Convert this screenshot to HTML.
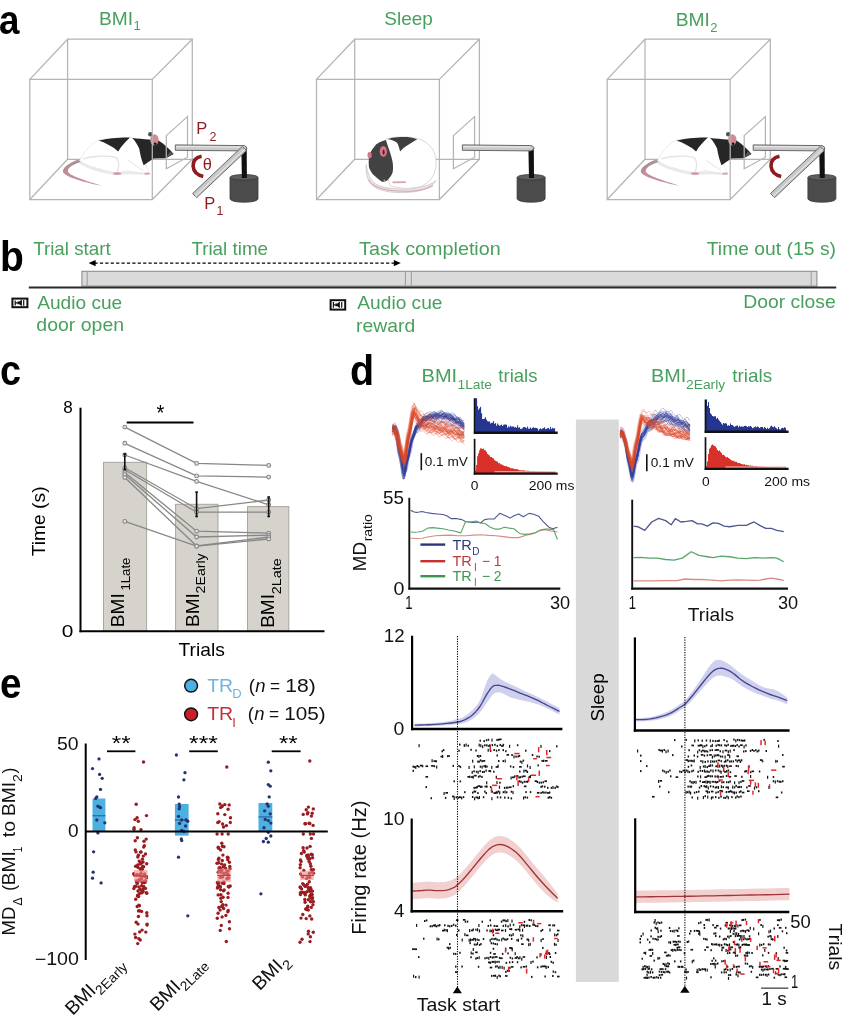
<!DOCTYPE html>
<html><head><meta charset="utf-8"><style>
html,body{margin:0;padding:0;background:#fff;}
body{width:845px;height:1024px;overflow:hidden;}
svg{display:block;font-family:"Liberation Sans", sans-serif;filter:blur(0.35px);}
</style></head><body>
<svg width="845" height="1024" viewBox="0 0 845 1024">
<rect width="845" height="1024" fill="#fff"/>
<text x="0" y="34.3" font-size="40" font-weight="bold" transform="translate(-1.0,0) scale(0.92,1)">a</text>
<text x="99.02" y="24.50" font-size="19.00" fill="#48a05e" textLength="34.15" lengthAdjust="spacingAndGlyphs" >BMI</text>
<text x="133.61" y="30.40" font-size="13.00" fill="#48a05e" >1</text>
<text x="384.34" y="24.90" font-size="19.00" fill="#48a05e" textLength="48.46" lengthAdjust="spacingAndGlyphs" >Sleep</text>
<text x="675.72" y="25.60" font-size="19.00" fill="#48a05e" textLength="34.15" lengthAdjust="spacingAndGlyphs" >BMI</text>
<text x="710.15" y="31.80" font-size="13.00" fill="#48a05e" >2</text>
<path d="M67.6,159.3 L67.6,39.2 L192.3,39.2 L192.3,159.3 Z" stroke="#b4b4b4" stroke-width="1.25" fill="none"/>
<path d="M29.8,79.4 L67.6,39.2 M152.3,79.4 L192.3,39.2 M29.8,199.5 L67.6,159.3 M152.3,199.5 L192.3,159.3" stroke="#b4b4b4" stroke-width="1.25" fill="none"/>
<path d="M354.7,159.3 L354.7,39.2 L479.4,39.2 L479.4,159.3 Z" stroke="#b4b4b4" stroke-width="1.25" fill="none"/>
<path d="M316.5,79.4 L354.7,39.2 M439.4,79.4 L479.4,39.2 M316.5,199.5 L354.7,159.3 M439.4,199.5 L479.4,159.3" stroke="#b4b4b4" stroke-width="1.25" fill="none"/>
<path d="M645.0,159.3 L645.0,39.2 L770.3,39.2 L770.3,159.3 Z" stroke="#b4b4b4" stroke-width="1.25" fill="none"/>
<path d="M607.2,79.4 L645.0,39.2 M730.2,79.4 L770.3,39.2 M607.2,199.5 L645.0,159.3 M730.2,199.5 L770.3,159.3" stroke="#b4b4b4" stroke-width="1.25" fill="none"/>
<g transform="translate(0.0,0)">
<defs><linearGradient id="tg0" x1="0" y1="0" x2="0" y2="1"><stop offset="0" stop-color="#9d9d9d"/><stop offset="0.3" stop-color="#b48a90"/><stop offset="0.6" stop-color="#c78f98"/><stop offset="1" stop-color="#b99095"/></linearGradient></defs>
<path d="M81,158.6 C72,161.5 63.5,166.5 62.8,171.2 C62.5,175.6 80,181.5 101.8,185.8 C85,180.5 69.5,175.6 67.8,171.5 C67.2,167.5 74,163.8 82.5,161.8 Z" fill="url(#tg0)"/>
<path d="M79.5,160.5 C84,152 92,142 100,139.4 L131,137.4 C137,139 141,144 143.5,150 L146,165 C147.5,169 149,172 150,173.8 L141,174.2 C136,172.5 131,171 126,170.6 C122,172 118,173.8 112,174.2 C108,172 104,170 100,169 C92,167.5 85,165 79.5,160.5 Z" fill="#fff" stroke="#e6e6e6" stroke-width="0.8"/>
<path d="M80,161.5 C90,166.5 104,170.5 117,172.2 C126,171.2 136,171.2 146,173 L146.5,175 C136,174 126,174 117,175 C103,173.8 89,169.5 79.5,163.5 Z" fill="#e9e9e9"/>
<path d="M83,158.8 C93,156 107,155.2 116.5,157.6 C119.2,161.5 119.3,166.5 117.3,172" fill="none" stroke="#e3e3e3" stroke-width="1.3"/>
<path d="M128,160 C133,164 138,167.5 143.5,170.5" fill="none" stroke="#ececec" stroke-width="1.2"/>
<ellipse cx="117.2" cy="173.6" rx="4.2" ry="1.3" fill="#d49aa2"/>
<ellipse cx="147.2" cy="173.7" rx="3.0" ry="1.1" fill="#d9a5ab"/>
<path d="M98.6,140.6 C107,138.4 119,137.2 130,137.4 C125.5,141.5 121,146.5 118.2,151.4 C113,147 106,143 98.6,140.6 Z" fill="#262626"/>
<path d="M132.2,137.9 C138,138.4 144,138.9 149,139.5 L158.6,140.4 C164.5,144.2 170,149.5 173.6,153.9 L166,158.3 L153.8,158.6 C150,161 146.5,163.5 143.6,165.3 C141.5,159.5 140,154 139.2,148.6 C137.5,144.5 135.2,140.8 132.2,137.9 Z" fill="#262626"/>
<path d="M166,157.5 L173.4,154 L170,151.5 Z" fill="#555"/>
<circle cx="150.3" cy="134.3" r="2.2" fill="#4a524d"/>
<ellipse cx="154.4" cy="139.8" rx="4.2" ry="5.6" fill="#d98893"/>
<circle cx="155.2" cy="143.8" r="1.3" fill="#111"/>
</g>
<path d="M366.2,164.5 C365.2,176 368.5,185.5 379.5,189.6 C392,193.6 408,193.4 420,190.6 C428,188.6 433.5,185 436,180.5 C430,185.6 420,188.2 408,189 C394,189.6 381,187.6 374,183 C369.5,178.5 367.2,172 366.2,164.5 Z" fill="#ebe5e6" stroke="#cdbdc0" stroke-width="0.7"/>
<path d="M368.5,180 C373,188.5 390,192 410,191.2 C420,190.8 428,188.6 433,185.5" fill="none" stroke="#d4a9b0" stroke-width="1.1"/>
<path d="M386,138.8 C398,135.9 415,136.1 424,141 C433,146.5 437,156 436,166 C435,176 429,183.5 420,186.6 C410,189.5 398,188.5 390,185.5 C386,176 385,160 386,138.8 Z" fill="#fff" stroke="#d2d2d2" stroke-width="0.9"/>
<path d="M387.6,139.3 C390.5,138 394,137.4 397.5,137.3 C404,136.6 411,136.7 417.2,139.3 C414.5,141 411.5,143 409.5,144 C405,146.5 402,149 400.1,151.6 C399.3,148 398.3,144.5 397,142.8 C394,140.6 390.5,139.6 387.6,139.3 Z" fill="#3e3e3e"/>
<path d="M385.8,140.1 C380,141.6 376.5,143.6 374.5,146.4 C371,150.5 369,154.5 368.9,158.3 C368.6,161 368.6,164 368.9,167 C370,170.5 371.8,173.5 374.5,175.8 C377,178.3 380,180.5 382.6,182 C384,181.9 385.6,181.5 387,180.8 C389.5,178.5 391.5,175.5 392.6,172.6 C393.2,169 393.2,165.5 392.6,162 C391.8,158 390.8,154.5 389.5,150.8 C388.2,147 387,143.5 385.8,140.1 Z" fill="#424242"/>
<path d="M392.5,181.4 L405.8,181.2 L405.8,183.0 L392.5,183.2 Z" fill="#d6a5ab"/>
<circle cx="384.5" cy="180.6" r="1.1" fill="#9a9a9a"/>
<ellipse cx="383.3" cy="151.4" rx="3.6" ry="5.4" fill="#d57686"/>
<ellipse cx="383.6" cy="152.2" rx="1.0" ry="2.6" fill="#6e1320"/>
<ellipse cx="369.6" cy="155.2" rx="2.1" ry="3.1" fill="#d57686"/>
<g transform="translate(577.9,0)">
<defs><linearGradient id="tg577" x1="0" y1="0" x2="0" y2="1"><stop offset="0" stop-color="#9d9d9d"/><stop offset="0.3" stop-color="#b48a90"/><stop offset="0.6" stop-color="#c78f98"/><stop offset="1" stop-color="#b99095"/></linearGradient></defs>
<path d="M81,158.6 C72,161.5 63.5,166.5 62.8,171.2 C62.5,175.6 80,181.5 101.8,185.8 C85,180.5 69.5,175.6 67.8,171.5 C67.2,167.5 74,163.8 82.5,161.8 Z" fill="url(#tg577)"/>
<path d="M79.5,160.5 C84,152 92,142 100,139.4 L131,137.4 C137,139 141,144 143.5,150 L146,165 C147.5,169 149,172 150,173.8 L141,174.2 C136,172.5 131,171 126,170.6 C122,172 118,173.8 112,174.2 C108,172 104,170 100,169 C92,167.5 85,165 79.5,160.5 Z" fill="#fff" stroke="#e6e6e6" stroke-width="0.8"/>
<path d="M80,161.5 C90,166.5 104,170.5 117,172.2 C126,171.2 136,171.2 146,173 L146.5,175 C136,174 126,174 117,175 C103,173.8 89,169.5 79.5,163.5 Z" fill="#e9e9e9"/>
<path d="M83,158.8 C93,156 107,155.2 116.5,157.6 C119.2,161.5 119.3,166.5 117.3,172" fill="none" stroke="#e3e3e3" stroke-width="1.3"/>
<path d="M128,160 C133,164 138,167.5 143.5,170.5" fill="none" stroke="#ececec" stroke-width="1.2"/>
<ellipse cx="117.2" cy="173.6" rx="4.2" ry="1.3" fill="#d49aa2"/>
<ellipse cx="147.2" cy="173.7" rx="3.0" ry="1.1" fill="#d9a5ab"/>
<path d="M98.6,140.6 C107,138.4 119,137.2 130,137.4 C125.5,141.5 121,146.5 118.2,151.4 C113,147 106,143 98.6,140.6 Z" fill="#262626"/>
<path d="M132.2,137.9 C138,138.4 144,138.9 149,139.5 L158.6,140.4 C164.5,144.2 170,149.5 173.6,153.9 L166,158.3 L153.8,158.6 C150,161 146.5,163.5 143.6,165.3 C141.5,159.5 140,154 139.2,148.6 C137.5,144.5 135.2,140.8 132.2,137.9 Z" fill="#262626"/>
<path d="M166,157.5 L173.4,154 L170,151.5 Z" fill="#555"/>
<circle cx="150.3" cy="134.3" r="2.2" fill="#4a524d"/>
<ellipse cx="154.4" cy="139.8" rx="4.2" ry="5.6" fill="#d98893"/>
<circle cx="155.2" cy="143.8" r="1.3" fill="#111"/>
</g>
<path d="M29.8,79.4 L152.3,79.4 L152.3,199.5 L29.8,199.5 Z" stroke="#b4b4b4" stroke-width="1.25" fill="none"/>
<path d="M166.3,135.6 L187.5,116.6 L187.5,157.2 L166.3,168.8 Z" stroke="#b4b4b4" stroke-width="1.25" fill="none"/>
<path d="M316.5,79.4 L439.4,79.4 L439.4,199.5 L316.5,199.5 Z" stroke="#b4b4b4" stroke-width="1.25" fill="none"/>
<path d="M453.4,135.6 L474.6,116.6 L474.6,157.2 L453.4,168.8 Z" stroke="#b4b4b4" stroke-width="1.25" fill="none"/>
<path d="M607.2,79.4 L730.2,79.4 L730.2,199.5 L607.2,199.5 Z" stroke="#b4b4b4" stroke-width="1.25" fill="none"/>
<path d="M744.2,135.6 L765.4,116.6 L765.4,157.2 L744.2,168.8 Z" stroke="#b4b4b4" stroke-width="1.25" fill="none"/>
<path d="M230.0,177.5 L230.0,199 Q232.0,202.2 244.0,202.2 Q256.0,202.2 258.0,199 L258.0,177.5 Z" fill="#4b4b4b" stroke="#3a3a3a" stroke-width="0.8"/>
<ellipse cx="244.0" cy="177.3" rx="14.0" ry="2.8" fill="#5e5e5e" stroke="#3a3a3a" stroke-width="0.8"/>
<path d="M241.3,148 L241.9,178 L246.9,178 L246.7,148 Z" fill="#111"/>
<path d="M175.3,144.9 L244.3,145.6 Q246.9,146.6 246.9,148.3 Q246.3,150.4 243.3,150.9 L175.3,150.3 Z" fill="#c9c9c9" stroke="#5a5a5a" stroke-width="0.9"/>
<line x1="176.3" y1="146.6" x2="243.3" y2="147.1" stroke="#eeeeee" stroke-width="1"/>
<path d="M242.3,146.5 L192.6,193.5 L196.6,197.7 L246.3,150.7 Z" fill="#c9c9c9" stroke="#5a5a5a" stroke-width="0.9"/>
<line x1="244.9" y1="149.2" x2="195.2" y2="196.2" stroke="#eeeeee" stroke-width="1"/>
<path d="M201.6,156.2 Q192.8,158 193.1,166.2 Q193.8,174.5 203.3,176.4" fill="none" stroke="#8e1b1f" stroke-width="3.6" stroke-linecap="butt"/>
<text x="202.65" y="169.60" font-size="16.50" fill="#8e1b1f" >θ</text>
<text x="196.35" y="134.30" font-size="16.50" fill="#8e1b1f" >P</text>
<text x="209.47" y="140.80" font-size="12.50" fill="#8e1b1f" >2</text>
<text x="204.15" y="209.40" font-size="16.50" fill="#8e1b1f" >P</text>
<text x="216.55" y="214.80" font-size="12.50" fill="#8e1b1f" >1</text>
<path d="M517.1,177.5 L517.1,199 Q519.1,202.2 531.1,202.2 Q543.1,202.2 545.1,199 L545.1,177.5 Z" fill="#4b4b4b" stroke="#3a3a3a" stroke-width="0.8"/>
<ellipse cx="531.1" cy="177.3" rx="14.0" ry="2.8" fill="#5e5e5e" stroke="#3a3a3a" stroke-width="0.8"/>
<path d="M528.4,148 L529.0,178 L534.0,178 L533.8,148 Z" fill="#111"/>
<path d="M462.4,144.9 L531.4,145.6 Q534.0,146.6 534.0,148.3 Q533.4,150.4 530.4,150.9 L462.4,150.3 Z" fill="#c9c9c9" stroke="#5a5a5a" stroke-width="0.9"/>
<line x1="463.4" y1="146.6" x2="530.4" y2="147.1" stroke="#eeeeee" stroke-width="1"/>
<path d="M807.9,177.5 L807.9,199 Q809.9,202.2 821.9,202.2 Q833.9,202.2 835.9,199 L835.9,177.5 Z" fill="#4b4b4b" stroke="#3a3a3a" stroke-width="0.8"/>
<ellipse cx="821.9" cy="177.3" rx="14.0" ry="2.8" fill="#5e5e5e" stroke="#3a3a3a" stroke-width="0.8"/>
<path d="M819.2,148 L819.8,178 L824.8,178 L824.6,148 Z" fill="#111"/>
<path d="M753.2,144.9 L822.2,145.6 Q824.8,146.6 824.8,148.3 Q824.2,150.4 821.2,150.9 L753.2,150.3 Z" fill="#c9c9c9" stroke="#5a5a5a" stroke-width="0.9"/>
<line x1="754.2" y1="146.6" x2="821.2" y2="147.1" stroke="#eeeeee" stroke-width="1"/>
<path d="M820.2,146.5 L770.5,193.5 L774.5,197.7 L824.2,150.7 Z" fill="#c9c9c9" stroke="#5a5a5a" stroke-width="0.9"/>
<line x1="822.8" y1="149.2" x2="773.1" y2="196.2" stroke="#eeeeee" stroke-width="1"/>
<path d="M779.5,156.2 Q770.7,158 771.0,166.2 Q771.7,174.5 781.2,176.4" fill="none" stroke="#8e1b1f" stroke-width="3.6" stroke-linecap="butt"/>
<text x="0" y="271.0" font-size="42" font-weight="bold" transform="translate(0.0,0) scale(0.93,1)">b</text>
<text x="33.18" y="254.70" font-size="19.00" fill="#48a05e" textLength="77.55" lengthAdjust="spacingAndGlyphs" >Trial start</text>
<text x="191.38" y="255.10" font-size="19.00" fill="#48a05e" textLength="76.65" lengthAdjust="spacingAndGlyphs" >Trial time</text>
<text x="359.06" y="255.00" font-size="19.00" fill="#48a05e" textLength="141.70" lengthAdjust="spacingAndGlyphs" >Task completion</text>
<text x="706.77" y="254.60" font-size="19.00" fill="#48a05e" textLength="129.22" lengthAdjust="spacingAndGlyphs" >Time out (15 s)</text>
<text x="37.16" y="308.90" font-size="19.00" fill="#48a05e" textLength="85.09" lengthAdjust="spacingAndGlyphs" >Audio cue</text>
<text x="36.38" y="331.30" font-size="19.00" fill="#48a05e" textLength="87.68" lengthAdjust="spacingAndGlyphs" >door open</text>
<text x="357.36" y="308.50" font-size="19.00" fill="#48a05e" textLength="85.09" lengthAdjust="spacingAndGlyphs" >Audio cue</text>
<text x="356.12" y="331.50" font-size="19.00" fill="#48a05e" textLength="59.13" lengthAdjust="spacingAndGlyphs" >reward</text>
<text x="743.21" y="308.20" font-size="19.00" fill="#48a05e" textLength="92.45" lengthAdjust="spacingAndGlyphs" >Door close</text>
<rect x="81.90" y="271.30" width="735.00" height="14.80" fill="#dadada" stroke="#8f8f8f" stroke-width="1.10" />
<line x1="87.20" y1="271.60" x2="87.20" y2="285.80" stroke="#9a9a9a" stroke-width="1.00" />
<line x1="405.40" y1="271.60" x2="405.40" y2="285.80" stroke="#9a9a9a" stroke-width="1.00" />
<line x1="411.30" y1="271.60" x2="411.30" y2="285.80" stroke="#9a9a9a" stroke-width="1.00" />
<line x1="811.20" y1="271.60" x2="811.20" y2="285.80" stroke="#9a9a9a" stroke-width="1.00" />
<line x1="28.80" y1="287.40" x2="836.20" y2="287.40" stroke="#2a2a2a" stroke-width="2.00" />
<line x1="94.50" y1="263.10" x2="395.00" y2="263.10" stroke="#000" stroke-width="1.30" stroke-dasharray="3.2,2.2"/>
<path d="M88.6,263.1 L95.6,260.0 L95.6,266.2 Z" fill="#000"/>
<path d="M400.8,263.1 L393.8,260.0 L393.8,266.2 Z" fill="#000"/>
<rect x="12.4" y="298.6" width="15.0" height="8.6" fill="#fff" stroke="#111" stroke-width="2.0"/>
<path d="M17.3,301.5 L19.3,301.5 L21.9,299.5 L21.9,306.3 L19.3,304.3 L17.3,304.3 Z" fill="#111"/>
<path d="M23.7,300.1 L23.7,305.7 M15.2,300.4 L15.2,305.4 M15.2,302.9 L17.3,302.9" stroke="#111" stroke-width="1.2"/>
<rect x="330.6" y="300.2" width="14.6" height="9.4" fill="#fff" stroke="#111" stroke-width="2.0"/>
<path d="M335.3,303.5 L337.3,303.5 L339.9,301.5 L339.9,308.3 L337.3,306.3 L335.3,306.3 Z" fill="#111"/>
<path d="M341.7,302.1 L341.7,307.7 M333.4,302.0 L333.4,307.8 M333.4,304.9 L335.3,304.9" stroke="#111" stroke-width="1.2"/>
<text x="0" y="385.2" font-size="42" font-weight="bold" transform="translate(0.0,0) scale(0.9,1)">c</text>
<rect x="103.50" y="462.30" width="43.10" height="168.90" fill="#d6d2cc" stroke="#a9a59f" stroke-width="1.00" />
<rect x="175.60" y="504.30" width="42.40" height="126.90" fill="#d6d2cc" stroke="#a9a59f" stroke-width="1.00" />
<rect x="247.50" y="506.60" width="41.30" height="124.60" fill="#d6d2cc" stroke="#a9a59f" stroke-width="1.00" />
<text transform="translate(124.00,625.60) rotate(-90)" x="-1.57" y="0" font-size="19.00" fill="#000" textLength="33.93" lengthAdjust="spacingAndGlyphs">BMI</text>
<text transform="translate(130.40,589.60) rotate(-90)" x="-1.00" y="0" font-size="13.50" fill="#000" textLength="32.99" lengthAdjust="spacingAndGlyphs">1Late</text>
<text transform="translate(198.70,625.50) rotate(-90)" x="-1.57" y="0" font-size="19.00" fill="#000" textLength="33.93" lengthAdjust="spacingAndGlyphs">BMI</text>
<text transform="translate(205.30,592.70) rotate(-90)" x="-0.71" y="0" font-size="13.50" fill="#000" textLength="40.04" lengthAdjust="spacingAndGlyphs">2Early</text>
<text transform="translate(274.10,626.30) rotate(-90)" x="-1.57" y="0" font-size="19.00" fill="#000" textLength="33.93" lengthAdjust="spacingAndGlyphs">BMI</text>
<text transform="translate(280.70,593.50) rotate(-90)" x="-0.72" y="0" font-size="13.50" fill="#000" textLength="36.07" lengthAdjust="spacingAndGlyphs">2Late</text>
<polyline points="124.8,427.1 196.6,463.4 268.7,465.4" fill="none" stroke="#878787" stroke-width="1.3"/>
<polyline points="124.8,443.3 196.6,475.9 268.7,477.1" fill="none" stroke="#878787" stroke-width="1.3"/>
<polyline points="124.8,455.0 196.6,481.4 268.7,504.8" fill="none" stroke="#878787" stroke-width="1.3"/>
<polyline points="124.8,467.7 196.6,508.7 268.7,500.0" fill="none" stroke="#878787" stroke-width="1.3"/>
<polyline points="124.8,469.7 196.6,512.2 268.7,512.2" fill="none" stroke="#878787" stroke-width="1.3"/>
<polyline points="124.8,472.6 196.6,531.2 268.7,533.1" fill="none" stroke="#878787" stroke-width="1.3"/>
<polyline points="124.8,474.6 196.6,537.0 268.7,535.1" fill="none" stroke="#878787" stroke-width="1.3"/>
<polyline points="124.8,477.5 196.6,546.0 268.7,537.0" fill="none" stroke="#878787" stroke-width="1.3"/>
<polyline points="124.8,521.4 196.6,546.2 268.7,539.0" fill="none" stroke="#878787" stroke-width="1.3"/>
<circle cx="124.8" cy="427.1" r="1.9" fill="#e2e2e2" stroke="#878787" stroke-width="1.1"/>
<circle cx="196.6" cy="463.4" r="1.9" fill="#e2e2e2" stroke="#878787" stroke-width="1.1"/>
<circle cx="268.7" cy="465.4" r="1.9" fill="#e2e2e2" stroke="#878787" stroke-width="1.1"/>
<circle cx="124.8" cy="443.3" r="1.9" fill="#e2e2e2" stroke="#878787" stroke-width="1.1"/>
<circle cx="196.6" cy="475.9" r="1.9" fill="#e2e2e2" stroke="#878787" stroke-width="1.1"/>
<circle cx="268.7" cy="477.1" r="1.9" fill="#e2e2e2" stroke="#878787" stroke-width="1.1"/>
<circle cx="124.8" cy="455.0" r="1.9" fill="#e2e2e2" stroke="#878787" stroke-width="1.1"/>
<circle cx="196.6" cy="481.4" r="1.9" fill="#e2e2e2" stroke="#878787" stroke-width="1.1"/>
<circle cx="268.7" cy="504.8" r="1.9" fill="#e2e2e2" stroke="#878787" stroke-width="1.1"/>
<circle cx="124.8" cy="467.7" r="1.9" fill="#e2e2e2" stroke="#878787" stroke-width="1.1"/>
<circle cx="196.6" cy="508.7" r="1.9" fill="#e2e2e2" stroke="#878787" stroke-width="1.1"/>
<circle cx="268.7" cy="500.0" r="1.9" fill="#e2e2e2" stroke="#878787" stroke-width="1.1"/>
<circle cx="124.8" cy="469.7" r="1.9" fill="#e2e2e2" stroke="#878787" stroke-width="1.1"/>
<circle cx="196.6" cy="512.2" r="1.9" fill="#e2e2e2" stroke="#878787" stroke-width="1.1"/>
<circle cx="268.7" cy="512.2" r="1.9" fill="#e2e2e2" stroke="#878787" stroke-width="1.1"/>
<circle cx="124.8" cy="472.6" r="1.9" fill="#e2e2e2" stroke="#878787" stroke-width="1.1"/>
<circle cx="196.6" cy="531.2" r="1.9" fill="#e2e2e2" stroke="#878787" stroke-width="1.1"/>
<circle cx="268.7" cy="533.1" r="1.9" fill="#e2e2e2" stroke="#878787" stroke-width="1.1"/>
<circle cx="124.8" cy="474.6" r="1.9" fill="#e2e2e2" stroke="#878787" stroke-width="1.1"/>
<circle cx="196.6" cy="537.0" r="1.9" fill="#e2e2e2" stroke="#878787" stroke-width="1.1"/>
<circle cx="268.7" cy="535.1" r="1.9" fill="#e2e2e2" stroke="#878787" stroke-width="1.1"/>
<circle cx="124.8" cy="477.5" r="1.9" fill="#e2e2e2" stroke="#878787" stroke-width="1.1"/>
<circle cx="196.6" cy="546.0" r="1.9" fill="#e2e2e2" stroke="#878787" stroke-width="1.1"/>
<circle cx="268.7" cy="537.0" r="1.9" fill="#e2e2e2" stroke="#878787" stroke-width="1.1"/>
<circle cx="124.8" cy="521.4" r="1.9" fill="#e2e2e2" stroke="#878787" stroke-width="1.1"/>
<circle cx="196.6" cy="546.2" r="1.9" fill="#e2e2e2" stroke="#878787" stroke-width="1.1"/>
<circle cx="268.7" cy="539.0" r="1.9" fill="#e2e2e2" stroke="#878787" stroke-width="1.1"/>
<line x1="124.80" y1="454.00" x2="124.80" y2="469.70" stroke="#111" stroke-width="1.60" />
<rect x="123.50" y="453.20" width="2.60" height="1.60" fill="#111" stroke="none" stroke-width="0.00" />
<rect x="123.50" y="468.90" width="2.60" height="1.60" fill="#111" stroke="none" stroke-width="0.00" />
<line x1="196.60" y1="492.10" x2="196.60" y2="516.50" stroke="#111" stroke-width="1.60" />
<rect x="195.30" y="491.30" width="2.60" height="1.60" fill="#111" stroke="none" stroke-width="0.00" />
<rect x="195.30" y="515.70" width="2.60" height="1.60" fill="#111" stroke="none" stroke-width="0.00" />
<line x1="268.70" y1="497.00" x2="268.70" y2="516.50" stroke="#111" stroke-width="1.60" />
<rect x="267.40" y="496.20" width="2.60" height="1.60" fill="#111" stroke="none" stroke-width="0.00" />
<rect x="267.40" y="515.70" width="2.60" height="1.60" fill="#111" stroke="none" stroke-width="0.00" />
<line x1="80.50" y1="407.70" x2="80.50" y2="632.20" stroke="#000" stroke-width="2.00" />
<line x1="79.50" y1="631.20" x2="324.50" y2="631.20" stroke="#000" stroke-width="2.00" />
<text x="63.16" y="412.60" font-size="16.50" fill="#000" textLength="9.48" lengthAdjust="spacingAndGlyphs" >8</text>
<text x="61.88" y="637.40" font-size="16.50" fill="#000" textLength="11.63" lengthAdjust="spacingAndGlyphs" >0</text>
<text transform="translate(45.20,555.90) rotate(-90)" x="-0.43" y="0" font-size="19.00" fill="#000" textLength="69.91" lengthAdjust="spacingAndGlyphs">Time (s)</text>
<text x="178.57" y="656.30" font-size="19.00" fill="#000" textLength="46.31" lengthAdjust="spacingAndGlyphs" >Trials</text>
<line x1="126.70" y1="422.50" x2="193.50" y2="422.50" stroke="#000" stroke-width="1.80" />
<text x="156.38" y="420.40" font-size="22.00" fill="#000" textLength="7.84" lengthAdjust="spacingAndGlyphs" >*</text>
<text x="0" y="385.3" font-size="42" font-weight="bold" transform="translate(351.5,0) scale(0.94,1) translate(-1.7,0)">d</text>
<rect x="575.90" y="419.50" width="42.90" height="562.40" fill="#d9d9d9" stroke="none" stroke-width="0.00" />
<text transform="translate(604.40,720.60) rotate(-90)" x="-0.85" y="0" font-size="19.00" fill="#000" textLength="48.04" lengthAdjust="spacingAndGlyphs">Sleep</text>
<text x="421.56" y="381.50" font-size="18.50" fill="#48a05e" textLength="35.59" lengthAdjust="spacingAndGlyphs" >BMI</text>
<text x="457.55" y="388.50" font-size="13.50" fill="#48a05e" textLength="34.46" lengthAdjust="spacingAndGlyphs" >1Late</text>
<text x="498.32" y="381.50" font-size="18.50" fill="#48a05e" textLength="39.15" lengthAdjust="spacingAndGlyphs" >trials</text>
<text x="651.07" y="381.60" font-size="18.50" fill="#48a05e" textLength="35.26" lengthAdjust="spacingAndGlyphs" >BMI</text>
<text x="686.00" y="388.80" font-size="13.50" fill="#48a05e" textLength="39.22" lengthAdjust="spacingAndGlyphs" >2Early</text>
<text x="732.31" y="381.60" font-size="18.50" fill="#48a05e" textLength="39.87" lengthAdjust="spacingAndGlyphs" >trials</text>
<path d="M392.20,425.78 L393.20,425.32 L394.20,426.50 L395.20,428.79 L396.20,431.50 L397.20,438.49 L398.20,446.01 L399.20,451.04 L400.20,454.39 L401.20,459.36 L402.20,465.30 L403.20,471.61 L404.20,470.99 L405.20,465.60 L406.20,459.35 L407.20,455.92 L408.20,452.18 L409.20,446.72 L410.20,441.50 L411.20,437.41 L412.20,435.61 L413.20,433.59 L414.20,430.01 L415.20,425.77 L416.20,424.42 L417.20,422.01 L418.20,421.30 L419.20,419.85 L420.20,419.96 L421.20,418.98 L422.20,418.31 L423.20,418.12 L424.20,414.97 L425.20,414.31 L426.20,412.89 L427.20,413.62 L428.20,414.70 L429.20,414.81 L430.20,414.82 L431.20,413.79 L432.20,412.07 L433.20,411.87 L434.20,411.02 L435.20,412.78 L436.20,412.70 L437.20,414.06 L438.20,413.90 L439.20,413.69 L440.20,411.90 L441.20,411.68 L442.20,410.90 L443.20,412.16 L444.20,413.15 L445.20,414.16 L446.20,414.37 L447.20,414.92 L448.20,414.14 L449.20,414.08 L450.20,413.15 L451.20,414.29 L452.20,415.67 L453.20,417.06 L454.20,417.99 L455.20,418.11 L456.20,417.27 L457.20,416.48 L458.20,417.00 L459.20,418.74 L460.20,421.14 L461.20,422.85 L462.20,424.12 L463.20,424.20 L464.20,423.33" fill="none" stroke="#2f3d9c" stroke-width="0.65" stroke-opacity="0.45"/>
<path d="M392.20,430.52 L393.20,429.00 L394.20,428.71 L395.20,431.10 L396.20,433.33 L397.20,439.17 L398.20,446.72 L399.20,452.60 L400.20,456.02 L401.20,460.57 L402.20,466.33 L403.20,472.65 L404.20,476.93 L405.20,473.15 L406.20,466.36 L407.20,460.48 L408.20,457.94 L409.20,452.65 L410.20,448.23 L411.20,443.67 L412.20,439.62 L413.20,436.44 L414.20,433.35 L415.20,430.81 L416.20,429.31 L417.20,429.65 L418.20,427.67 L419.20,426.15 L420.20,424.12 L421.20,422.18 L422.20,420.84 L423.20,422.50 L424.20,422.85 L425.20,421.17 L426.20,418.71 L427.20,417.89 L428.20,418.32 L429.20,420.23 L430.20,419.89 L431.20,419.02 L432.20,418.19 L433.20,416.31 L434.20,417.20 L435.20,417.14 L436.20,418.37 L437.20,419.05 L438.20,418.33 L439.20,416.64 L440.20,415.97 L441.20,415.75 L442.20,417.53 L443.20,418.24 L444.20,417.92 L445.20,417.42 L446.20,416.47 L447.20,417.68 L448.20,419.00 L449.20,420.24 L450.20,420.69 L451.20,419.93 L452.20,419.21 L453.20,418.91 L454.20,420.63 L455.20,422.07 L456.20,424.44 L457.20,424.02 L458.20,422.41 L459.20,422.33 L460.20,423.51 L461.20,426.47 L462.20,428.34 L463.20,429.68 L464.20,427.99" fill="none" stroke="#2f3d9c" stroke-width="0.65" stroke-opacity="0.45"/>
<path d="M392.20,427.15 L393.20,426.18 L394.20,429.68 L395.20,430.96 L396.20,432.63 L397.20,437.65 L398.20,443.11 L399.20,447.75 L400.20,450.99 L401.20,456.84 L402.20,460.27 L403.20,464.18 L404.20,463.98 L405.20,459.49 L406.20,453.66 L407.20,451.04 L408.20,448.96 L409.20,444.38 L410.20,438.85 L411.20,435.33 L412.20,433.62 L413.20,431.53 L414.20,429.59 L415.20,428.33 L416.20,426.47 L417.20,425.55 L418.20,423.00 L419.20,421.94 L420.20,421.22 L421.20,421.50 L422.20,420.39 L423.20,418.83 L424.20,418.36 L425.20,417.62 L426.20,417.15 L427.20,418.02 L428.20,418.35 L429.20,418.09 L430.20,417.65 L431.20,416.06 L432.20,414.65 L433.20,414.29 L434.20,415.23 L435.20,417.04 L436.20,417.68 L437.20,416.96 L438.20,416.65 L439.20,415.00 L440.20,414.94 L441.20,415.98 L442.20,416.23 L443.20,416.55 L444.20,417.73 L445.20,416.29 L446.20,416.41 L447.20,415.97 L448.20,417.26 L449.20,418.61 L450.20,418.38 L451.20,419.69 L452.20,418.42 L453.20,417.72 L454.20,417.96 L455.20,419.58 L456.20,421.21 L457.20,422.49 L458.20,421.82 L459.20,422.10 L460.20,420.96 L461.20,422.23 L462.20,423.69 L463.20,424.70 L464.20,426.22" fill="none" stroke="#2f3d9c" stroke-width="0.65" stroke-opacity="0.45"/>
<path d="M392.20,430.46 L393.20,429.38 L394.20,428.38 L395.20,431.11 L396.20,434.07 L397.20,438.49 L398.20,446.38 L399.20,453.10 L400.20,456.16 L401.20,461.47 L402.20,468.50 L403.20,473.50 L404.20,476.84 L405.20,472.52 L406.20,466.51 L407.20,461.63 L408.20,458.04 L409.20,453.46 L410.20,447.60 L411.20,441.95 L412.20,438.81 L413.20,437.09 L414.20,434.53 L415.20,432.54 L416.20,428.58 L417.20,428.03 L418.20,426.23 L419.20,424.70 L420.20,424.04 L421.20,424.08 L422.20,423.36 L423.20,422.55 L424.20,421.07 L425.20,419.95 L426.20,419.18 L427.20,417.92 L428.20,417.70 L429.20,418.28 L430.20,418.89 L431.20,418.68 L432.20,418.99 L433.20,417.52 L434.20,416.31 L435.20,416.81 L436.20,416.42 L437.20,418.06 L438.20,418.90 L439.20,417.94 L440.20,417.23 L441.20,416.39 L442.20,416.32 L443.20,416.37 L444.20,416.14 L445.20,418.55 L446.20,419.09 L447.20,419.55 L448.20,419.16 L449.20,418.54 L450.20,417.39 L451.20,417.96 L452.20,418.91 L453.20,421.29 L454.20,423.41 L455.20,424.35 L456.20,422.77 L457.20,421.49 L458.20,421.81 L459.20,422.41 L460.20,425.52 L461.20,427.01 L462.20,428.08 L463.20,429.48 L464.20,428.85" fill="none" stroke="#2f3d9c" stroke-width="0.65" stroke-opacity="0.45"/>
<path d="M392.20,424.94 L393.20,424.91 L394.20,424.23 L395.20,425.06 L396.20,429.26 L397.20,431.19 L398.20,436.76 L399.20,443.02 L400.20,448.13 L401.20,452.02 L402.20,456.21 L403.20,462.85 L404.20,466.72 L405.20,467.64 L406.20,462.50 L407.20,457.06 L408.20,454.07 L409.20,450.26 L410.20,446.48 L411.20,440.20 L412.20,435.74 L413.20,433.87 L414.20,430.21 L415.20,427.01 L416.20,424.44 L417.20,422.75 L418.20,420.82 L419.20,421.23 L420.20,421.14 L421.20,419.96 L422.20,418.24 L423.20,416.89 L424.20,415.71 L425.20,414.10 L426.20,413.58 L427.20,412.75 L428.20,412.12 L429.20,412.40 L430.20,411.80 L431.20,411.55 L432.20,413.12 L433.20,412.58 L434.20,413.15 L435.20,413.22 L436.20,412.69 L437.20,411.70 L438.20,411.27 L439.20,411.69 L440.20,410.04 L441.20,410.21 L442.20,411.10 L443.20,411.52 L444.20,412.31 L445.20,413.21 L446.20,412.60 L447.20,413.46 L448.20,413.94 L449.20,413.85 L450.20,413.82 L451.20,413.06 L452.20,412.54 L453.20,412.98 L454.20,413.71 L455.20,415.11 L456.20,416.62 L457.20,417.30 L458.20,417.84 L459.20,418.44 L460.20,419.80 L461.20,420.24 L462.20,420.34 L463.20,420.45 L464.20,420.61" fill="none" stroke="#2f3d9c" stroke-width="0.65" stroke-opacity="0.45"/>
<path d="M392.20,429.39 L393.20,428.44 L394.20,428.41 L395.20,431.06 L396.20,434.12 L397.20,436.93 L398.20,444.48 L399.20,452.05 L400.20,454.96 L401.20,461.02 L402.20,466.72 L403.20,472.30 L404.20,474.80 L405.20,471.41 L406.20,464.53 L407.20,459.42 L408.20,458.08 L409.20,453.14 L410.20,448.98 L411.20,442.52 L412.20,438.61 L413.20,436.40 L414.20,433.85 L415.20,430.17 L416.20,428.63 L417.20,428.45 L418.20,427.27 L419.20,426.35 L420.20,423.99 L421.20,421.41 L422.20,420.60 L423.20,419.77 L424.20,419.65 L425.20,419.91 L426.20,419.69 L427.20,420.24 L428.20,418.71 L429.20,416.56 L430.20,416.27 L431.20,415.41 L432.20,416.64 L433.20,417.68 L434.20,418.45 L435.20,418.31 L436.20,417.50 L437.20,415.81 L438.20,415.32 L439.20,415.12 L440.20,415.85 L441.20,417.06 L442.20,418.01 L443.20,418.64 L444.20,416.37 L445.20,416.98 L446.20,416.18 L447.20,417.41 L448.20,417.71 L449.20,417.90 L450.20,420.06 L451.20,420.23 L452.20,420.78 L453.20,419.40 L454.20,419.49 L455.20,419.69 L456.20,420.61 L457.20,421.73 L458.20,422.62 L459.20,424.93 L460.20,425.89 L461.20,425.56 L462.20,425.06 L463.20,425.76 L464.20,426.46" fill="none" stroke="#2f3d9c" stroke-width="0.65" stroke-opacity="0.45"/>
<path d="M392.20,427.94 L393.20,428.09 L394.20,427.44 L395.20,429.29 L396.20,432.18 L397.20,436.81 L398.20,443.38 L399.20,450.31 L400.20,454.67 L401.20,458.03 L402.20,462.88 L403.20,469.40 L404.20,472.90 L405.20,471.15 L406.20,463.91 L407.20,458.70 L408.20,454.99 L409.20,451.45 L410.20,445.97 L411.20,441.91 L412.20,438.71 L413.20,436.51 L414.20,433.73 L415.20,430.13 L416.20,427.51 L417.20,426.92 L418.20,426.79 L419.20,426.26 L420.20,425.01 L421.20,421.34 L422.20,419.76 L423.20,419.79 L424.20,420.10 L425.20,420.20 L426.20,419.45 L427.20,418.54 L428.20,416.89 L429.20,416.88 L430.20,417.32 L431.20,418.66 L432.20,417.93 L433.20,416.04 L434.20,415.05 L435.20,415.59 L436.20,417.17 L437.20,418.11 L438.20,418.00 L439.20,416.69 L440.20,415.66 L441.20,415.06 L442.20,416.83 L443.20,416.63 L444.20,417.80 L445.20,418.20 L446.20,416.54 L447.20,416.82 L448.20,416.90 L449.20,418.59 L450.20,419.70 L451.20,419.36 L452.20,418.65 L453.20,419.37 L454.20,419.10 L455.20,420.72 L456.20,422.72 L457.20,423.39 L458.20,423.18 L459.20,421.97 L460.20,422.23 L461.20,424.34 L462.20,425.98 L463.20,427.17 L464.20,427.78" fill="none" stroke="#2f3d9c" stroke-width="0.65" stroke-opacity="0.45"/>
<path d="M392.20,428.16 L393.20,427.25 L394.20,427.19 L395.20,429.10 L396.20,432.24 L397.20,435.17 L398.20,442.09 L399.20,447.98 L400.20,453.39 L401.20,457.71 L402.20,463.82 L403.20,470.91 L404.20,473.76 L405.20,472.33 L406.20,465.69 L407.20,459.14 L408.20,456.95 L409.20,453.28 L410.20,447.67 L411.20,441.30 L412.20,437.96 L413.20,435.54 L414.20,432.11 L415.20,430.49 L416.20,427.55 L417.20,426.81 L418.20,426.02 L419.20,424.02 L420.20,421.73 L421.20,420.09 L422.20,419.05 L423.20,418.58 L424.20,418.98 L425.20,418.40 L426.20,418.51 L427.20,416.51 L428.20,415.59 L429.20,414.46 L430.20,414.93 L431.20,416.05 L432.20,415.97 L433.20,417.48 L434.20,415.46 L435.20,414.27 L436.20,413.27 L437.20,414.51 L438.20,415.35 L439.20,415.87 L440.20,415.51 L441.20,415.37 L442.20,414.75 L443.20,413.23 L444.20,412.86 L445.20,413.80 L446.20,415.46 L447.20,417.03 L448.20,417.13 L449.20,416.96 L450.20,417.40 L451.20,416.52 L452.20,415.72 L453.20,417.77 L454.20,419.34 L455.20,420.37 L456.20,421.06 L457.20,419.84 L458.20,419.23 L459.20,419.63 L460.20,421.30 L461.20,424.07 L462.20,425.68 L463.20,425.58 L464.20,425.72" fill="none" stroke="#2f3d9c" stroke-width="0.65" stroke-opacity="0.45"/>
<path d="M392.20,426.79 L393.20,427.27 L394.20,426.39 L395.20,427.53 L396.20,429.83 L397.20,433.16 L398.20,439.51 L399.20,447.50 L400.20,452.61 L401.20,456.87 L402.20,462.07 L403.20,467.54 L404.20,471.67 L405.20,471.89 L406.20,466.99 L407.20,460.59 L408.20,456.30 L409.20,453.32 L410.20,448.62 L411.20,443.52 L412.20,438.66 L413.20,435.68 L414.20,432.67 L415.20,428.93 L416.20,426.78 L417.20,425.86 L418.20,425.26 L419.20,424.47 L420.20,422.36 L421.20,420.37 L422.20,418.69 L423.20,417.04 L424.20,416.47 L425.20,416.56 L426.20,416.65 L427.20,417.42 L428.20,417.12 L429.20,415.24 L430.20,414.88 L431.20,413.10 L432.20,413.03 L433.20,413.10 L434.20,413.58 L435.20,415.91 L436.20,414.80 L437.20,415.41 L438.20,413.87 L439.20,413.23 L440.20,412.02 L441.20,412.11 L442.20,413.27 L443.20,414.65 L444.20,414.35 L445.20,415.32 L446.20,415.74 L447.20,414.56 L448.20,414.62 L449.20,413.73 L450.20,414.73 L451.20,415.58 L452.20,417.10 L453.20,417.94 L454.20,418.09 L455.20,419.19 L456.20,418.16 L457.20,418.57 L458.20,418.74 L459.20,419.06 L460.20,420.12 L461.20,422.88 L462.20,424.20 L463.20,424.64 L464.20,425.20" fill="none" stroke="#2f3d9c" stroke-width="0.65" stroke-opacity="0.45"/>
<path d="M392.20,431.56 L393.20,431.30 L394.20,432.64 L395.20,435.33 L396.20,437.08 L397.20,445.12 L398.20,452.07 L399.20,456.19 L400.20,460.77 L401.20,465.79 L402.20,471.37 L403.20,475.84 L404.20,474.73 L405.20,467.38 L406.20,462.31 L407.20,458.91 L408.20,455.69 L409.20,451.17 L410.20,445.58 L411.20,441.89 L412.20,441.03 L413.20,438.68 L414.20,435.32 L415.20,433.88 L416.20,431.83 L417.20,431.29 L418.20,429.06 L419.20,428.82 L420.20,426.59 L421.20,427.03 L422.20,425.50 L423.20,426.85 L424.20,426.20 L425.20,425.67 L426.20,425.79 L427.20,425.17 L428.20,423.47 L429.20,422.59 L430.20,422.08 L431.20,421.46 L432.20,420.25 L433.20,421.96 L434.20,423.04 L435.20,423.63 L436.20,424.36 L437.20,423.65 L438.20,424.76 L439.20,423.32 L440.20,422.31 L441.20,421.94 L442.20,421.44 L443.20,421.15 L444.20,421.42 L445.20,423.11 L446.20,423.94 L447.20,423.92 L448.20,424.99 L449.20,425.98 L450.20,425.66 L451.20,425.29 L452.20,425.12 L453.20,424.85 L454.20,425.82 L455.20,425.52 L456.20,426.52 L457.20,427.89 L458.20,429.44 L459.20,430.86 L460.20,432.38 L461.20,432.27 L462.20,433.30 L463.20,432.82 L464.20,431.47" fill="none" stroke="#2f3d9c" stroke-width="0.65" stroke-opacity="0.45"/>
<path d="M392.20,427.38 L393.20,427.88 L394.20,431.61 L395.20,435.57 L396.20,439.89 L397.20,447.84 L398.20,453.46 L399.20,457.01 L400.20,463.36 L401.20,470.15 L402.20,477.76 L403.20,478.95 L404.20,473.68 L405.20,467.47 L406.20,461.71 L407.20,457.53 L408.20,453.34 L409.20,446.76 L410.20,441.41 L411.20,439.45 L412.20,437.44 L413.20,433.81 L414.20,430.71 L415.20,427.95 L416.20,425.80 L417.20,423.91 L418.20,422.61 L419.20,422.80 L420.20,422.79 L421.20,422.00 L422.20,421.17 L423.20,420.00 L424.20,417.95 L425.20,417.26 L426.20,415.38 L427.20,416.28 L428.20,416.55 L429.20,416.87 L430.20,416.97 L431.20,416.38 L432.20,416.23 L433.20,415.74 L434.20,414.15 L435.20,414.22 L436.20,414.02 L437.20,415.24 L438.20,415.54 L439.20,416.65 L440.20,416.22 L441.20,415.72 L442.20,414.37 L443.20,413.59 L444.20,414.09 L445.20,415.56 L446.20,417.13 L447.20,417.61 L448.20,418.99 L449.20,419.12 L450.20,418.44 L451.20,416.96 L452.20,417.64 L453.20,417.61 L454.20,419.80 L455.20,421.15 L456.20,422.39 L457.20,421.95 L458.20,423.99 L459.20,424.29 L460.20,423.54 L461.20,424.87 L462.20,425.17 L463.20,425.95 L464.20,426.65" fill="none" stroke="#2f3d9c" stroke-width="0.65" stroke-opacity="0.45"/>
<path d="M392.20,426.82 L393.20,426.13 L394.20,425.36 L395.20,425.96 L396.20,430.07 L397.20,432.11 L398.20,437.78 L399.20,443.75 L400.20,449.35 L401.20,452.69 L402.20,458.73 L403.20,464.30 L404.20,468.39 L405.20,469.83 L406.20,464.04 L407.20,458.62 L408.20,454.85 L409.20,452.24 L410.20,446.91 L411.20,441.55 L412.20,437.23 L413.20,434.95 L414.20,432.85 L415.20,430.50 L416.20,426.98 L417.20,424.30 L418.20,422.98 L419.20,423.85 L420.20,423.28 L421.20,421.33 L422.20,418.63 L423.20,416.52 L424.20,416.71 L425.20,417.87 L426.20,417.50 L427.20,415.78 L428.20,414.63 L429.20,414.11 L430.20,413.95 L431.20,415.46 L432.20,415.81 L433.20,414.03 L434.20,412.88 L435.20,412.38 L436.20,414.66 L437.20,416.09 L438.20,414.80 L439.20,413.08 L440.20,411.89 L441.20,413.31 L442.20,414.36 L443.20,414.70 L444.20,414.93 L445.20,413.50 L446.20,413.12 L447.20,413.32 L448.20,415.86 L449.20,416.95 L450.20,415.38 L451.20,415.24 L452.20,415.46 L453.20,416.82 L454.20,417.84 L455.20,418.45 L456.20,418.49 L457.20,417.84 L458.20,418.51 L459.20,420.40 L460.20,421.64 L461.20,422.00 L462.20,420.86 L463.20,422.01 L464.20,423.93" fill="none" stroke="#2f3d9c" stroke-width="0.65" stroke-opacity="0.45"/>
<path d="M392.20,427.43 L393.20,426.52 L394.20,428.65 L395.20,430.32 L396.20,433.47 L397.20,439.87 L398.20,447.33 L399.20,451.73 L400.20,455.63 L401.20,459.63 L402.20,465.51 L403.20,469.61 L404.20,469.77 L405.20,465.89 L406.20,458.33 L407.20,456.07 L408.20,452.16 L409.20,448.67 L410.20,443.59 L411.20,438.60 L412.20,437.31 L413.20,433.61 L414.20,430.83 L415.20,427.62 L416.20,425.95 L417.20,425.88 L418.20,425.60 L419.20,425.10 L420.20,423.50 L421.20,422.66 L422.20,419.51 L423.20,417.78 L424.20,416.84 L425.20,416.87 L426.20,417.01 L427.20,417.75 L428.20,418.90 L429.20,418.35 L430.20,417.56 L431.20,416.75 L432.20,416.03 L433.20,415.16 L434.20,415.06 L435.20,414.83 L436.20,415.72 L437.20,416.30 L438.20,417.12 L439.20,416.79 L440.20,416.45 L441.20,415.66 L442.20,414.76 L443.20,414.31 L444.20,414.47 L445.20,416.14 L446.20,416.61 L447.20,417.50 L448.20,418.84 L449.20,418.47 L450.20,418.11 L451.20,417.94 L452.20,416.74 L453.20,416.20 L454.20,418.59 L455.20,420.20 L456.20,420.36 L457.20,421.78 L458.20,423.30 L459.20,422.66 L460.20,423.37 L461.20,423.27 L462.20,423.86 L463.20,423.45 L464.20,425.23" fill="none" stroke="#2f3d9c" stroke-width="0.65" stroke-opacity="0.45"/>
<path d="M392.20,427.74 L393.20,427.87 L394.20,427.31 L395.20,429.35 L396.20,432.59 L397.20,435.36 L398.20,441.47 L399.20,448.01 L400.20,452.88 L401.20,458.18 L402.20,463.64 L403.20,468.68 L404.20,473.02 L405.20,471.81 L406.20,466.97 L407.20,461.09 L408.20,458.02 L409.20,454.77 L410.20,447.62 L411.20,442.37 L412.20,438.40 L413.20,437.04 L414.20,435.75 L415.20,431.85 L416.20,428.88 L417.20,425.53 L418.20,425.89 L419.20,426.98 L420.20,426.00 L421.20,423.83 L422.20,421.20 L423.20,419.25 L424.20,419.27 L425.20,420.17 L426.20,420.79 L427.20,419.14 L428.20,417.60 L429.20,417.19 L430.20,416.49 L431.20,417.69 L432.20,418.55 L433.20,417.20 L434.20,415.84 L435.20,416.24 L436.20,416.24 L437.20,417.19 L438.20,418.41 L439.20,418.20 L440.20,415.12 L441.20,414.65 L442.20,415.72 L443.20,416.73 L444.20,418.77 L445.20,417.55 L446.20,416.07 L447.20,416.17 L448.20,416.68 L449.20,418.53 L450.20,419.88 L451.20,420.47 L452.20,417.21 L453.20,418.10 L454.20,419.75 L455.20,421.52 L456.20,423.41 L457.20,422.61 L458.20,421.44 L459.20,421.16 L460.20,422.30 L461.20,425.79 L462.20,426.31 L463.20,427.04 L464.20,426.07" fill="none" stroke="#2f3d9c" stroke-width="0.65" stroke-opacity="0.45"/>
<path d="M392.20,427.42 L393.20,426.55 L394.20,425.90 L395.20,427.10 L396.20,430.06 L397.20,431.63 L398.20,436.43 L399.20,443.22 L400.20,448.30 L401.20,451.39 L402.20,455.11 L403.20,460.46 L404.20,464.75 L405.20,465.41 L406.20,460.07 L407.20,455.23 L408.20,452.90 L409.20,450.68 L410.20,446.19 L411.20,440.48 L412.20,437.41 L413.20,434.83 L414.20,432.43 L415.20,428.99 L416.20,426.22 L417.20,424.78 L418.20,425.12 L419.20,424.19 L420.20,423.61 L421.20,422.85 L422.20,421.69 L423.20,420.84 L424.20,420.24 L425.20,418.83 L426.20,418.42 L427.20,416.84 L428.20,416.19 L429.20,415.33 L430.20,416.45 L431.20,415.93 L432.20,417.86 L433.20,417.21 L434.20,417.56 L435.20,416.62 L436.20,416.34 L437.20,415.34 L438.20,415.54 L439.20,414.71 L440.20,414.02 L441.20,414.04 L442.20,415.52 L443.20,416.05 L444.20,416.45 L445.20,417.71 L446.20,417.51 L447.20,417.46 L448.20,416.76 L449.20,416.35 L450.20,416.15 L451.20,415.67 L452.20,417.07 L453.20,417.85 L454.20,418.11 L455.20,420.18 L456.20,421.65 L457.20,421.76 L458.20,422.22 L459.20,421.36 L460.20,421.42 L461.20,421.00 L462.20,421.66 L463.20,422.01 L464.20,423.40" fill="none" stroke="#2f3d9c" stroke-width="0.65" stroke-opacity="0.45"/>
<path d="M392.20,429.10 L393.20,428.53 L394.20,429.94 L395.20,433.15 L396.20,435.33 L397.20,438.96 L398.20,446.63 L399.20,452.59 L400.20,455.70 L401.20,461.89 L402.20,468.41 L403.20,473.94 L404.20,475.83 L405.20,470.27 L406.20,463.70 L407.20,459.28 L408.20,456.91 L409.20,452.49 L410.20,447.09 L411.20,442.43 L412.20,439.88 L413.20,437.42 L414.20,434.03 L415.20,430.45 L416.20,427.41 L417.20,428.43 L418.20,428.06 L419.20,427.01 L420.20,425.98 L421.20,423.74 L422.20,421.39 L423.20,419.20 L424.20,419.69 L425.20,420.65 L426.20,421.09 L427.20,420.44 L428.20,420.53 L429.20,419.22 L430.20,417.61 L431.20,417.05 L432.20,416.96 L433.20,417.82 L434.20,419.27 L435.20,419.14 L436.20,418.79 L437.20,419.07 L438.20,416.92 L439.20,416.34 L440.20,416.07 L441.20,417.86 L442.20,419.03 L443.20,418.61 L444.20,418.42 L445.20,416.74 L446.20,417.49 L447.20,417.21 L448.20,418.83 L449.20,420.57 L450.20,421.02 L451.20,421.84 L452.20,421.14 L453.20,420.38 L454.20,420.17 L455.20,420.51 L456.20,422.77 L457.20,424.06 L458.20,424.49 L459.20,426.10 L460.20,425.57 L461.20,425.15 L462.20,426.55 L463.20,426.20 L464.20,428.42" fill="none" stroke="#2f3d9c" stroke-width="0.65" stroke-opacity="0.45"/>
<path d="M392.20,429.63 L393.20,429.51 L394.20,429.50 L395.20,429.13 L396.20,432.51 L397.20,435.02 L398.20,439.49 L399.20,447.78 L400.20,453.38 L401.20,457.39 L402.20,463.29 L403.20,469.07 L404.20,473.78 L405.20,475.70 L406.20,470.71 L407.20,464.62 L408.20,460.65 L409.20,456.49 L410.20,452.87 L411.20,446.36 L412.20,441.01 L413.20,438.32 L414.20,436.54 L415.20,434.14 L416.20,431.18 L417.20,429.64 L418.20,427.77 L419.20,426.75 L420.20,424.65 L421.20,423.05 L422.20,423.03 L423.20,423.35 L424.20,422.76 L425.20,421.11 L426.20,421.01 L427.20,418.77 L428.20,417.94 L429.20,417.60 L430.20,418.66 L431.20,419.38 L432.20,419.28 L433.20,418.40 L434.20,417.31 L435.20,416.19 L436.20,416.55 L437.20,416.49 L438.20,417.72 L439.20,418.47 L440.20,418.18 L441.20,417.53 L442.20,415.80 L443.20,415.91 L444.20,416.20 L445.20,417.01 L446.20,419.25 L447.20,419.08 L448.20,419.71 L449.20,419.03 L450.20,417.91 L451.20,417.99 L452.20,419.27 L453.20,420.35 L454.20,421.92 L455.20,423.23 L456.20,422.63 L457.20,421.22 L458.20,421.22 L459.20,422.51 L460.20,423.76 L461.20,425.44 L462.20,426.72 L463.20,428.43 L464.20,428.69" fill="none" stroke="#2f3d9c" stroke-width="0.65" stroke-opacity="0.45"/>
<path d="M392.20,425.82 L393.20,425.38 L394.20,425.84 L395.20,427.73 L396.20,430.19 L397.20,432.10 L398.20,438.38 L399.20,443.80 L400.20,447.23 L401.20,450.34 L402.20,456.22 L403.20,461.45 L404.20,465.57 L405.20,463.63 L406.20,458.81 L407.20,453.34 L408.20,451.07 L409.20,447.40 L410.20,442.91 L411.20,437.63 L412.20,434.03 L413.20,433.08 L414.20,430.98 L415.20,428.23 L416.20,426.49 L417.20,425.12 L418.20,423.44 L419.20,422.04 L420.20,420.09 L421.20,418.24 L422.20,417.73 L423.20,417.77 L424.20,418.30 L425.20,418.41 L426.20,417.68 L427.20,417.14 L428.20,415.12 L429.20,414.33 L430.20,414.38 L431.20,413.84 L432.20,414.58 L433.20,414.05 L434.20,414.84 L435.20,415.44 L436.20,415.95 L437.20,415.45 L438.20,413.52 L439.20,412.62 L440.20,412.33 L441.20,412.67 L442.20,414.03 L443.20,414.49 L444.20,416.24 L445.20,416.13 L446.20,415.41 L447.20,415.36 L448.20,414.65 L449.20,414.76 L450.20,414.97 L451.20,415.05 L452.20,416.59 L453.20,417.68 L454.20,418.47 L455.20,419.24 L456.20,419.48 L457.20,418.61 L458.20,417.92 L459.20,418.80 L460.20,418.98 L461.20,420.09 L462.20,422.23 L463.20,422.90 L464.20,424.55" fill="none" stroke="#2f3d9c" stroke-width="0.65" stroke-opacity="0.45"/>
<path d="M392.20,425.80 L393.20,425.61 L394.20,426.69 L395.20,425.15 L396.20,427.96 L397.20,429.66 L398.20,432.51 L399.20,441.22 L400.20,447.06 L401.20,450.96 L402.20,455.44 L403.20,459.72 L404.20,465.66 L405.20,469.36 L406.20,467.16 L407.20,461.18 L408.20,455.27 L409.20,452.65 L410.20,448.71 L411.20,443.15 L412.20,439.10 L413.20,435.57 L414.20,433.61 L415.20,430.16 L416.20,426.31 L417.20,424.48 L418.20,424.14 L419.20,424.00 L420.20,422.69 L421.20,420.02 L422.20,416.87 L423.20,416.63 L424.20,417.03 L425.20,416.84 L426.20,416.53 L427.20,415.39 L428.20,414.32 L429.20,413.11 L430.20,413.00 L431.20,414.32 L432.20,414.35 L433.20,413.69 L434.20,411.95 L435.20,411.16 L436.20,412.65 L437.20,413.73 L438.20,413.42 L439.20,413.32 L440.20,412.23 L441.20,411.15 L442.20,410.79 L443.20,412.94 L444.20,412.98 L445.20,414.24 L446.20,413.42 L447.20,412.03 L448.20,412.01 L449.20,413.65 L450.20,415.35 L451.20,415.10 L452.20,414.88 L453.20,414.57 L454.20,414.11 L455.20,415.21 L456.20,416.91 L457.20,418.40 L458.20,418.31 L459.20,418.95 L460.20,416.89 L461.20,419.28 L462.20,421.03 L463.20,422.89 L464.20,423.53" fill="none" stroke="#2f3d9c" stroke-width="0.65" stroke-opacity="0.45"/>
<path d="M392.20,427.90 L393.20,426.85 L394.20,426.82 L395.20,428.32 L396.20,432.46 L397.20,435.41 L398.20,441.26 L399.20,449.92 L400.20,454.82 L401.20,458.11 L402.20,464.19 L403.20,471.38 L404.20,475.72 L405.20,474.84 L406.20,468.62 L407.20,463.12 L408.20,459.34 L409.20,455.72 L410.20,450.23 L411.20,444.54 L412.20,439.47 L413.20,436.80 L414.20,433.93 L415.20,430.37 L416.20,427.71 L417.20,426.29 L418.20,426.16 L419.20,425.38 L420.20,424.29 L421.20,423.04 L422.20,421.53 L423.20,418.80 L424.20,417.64 L425.20,416.59 L426.20,416.25 L427.20,416.60 L428.20,416.37 L429.20,417.21 L430.20,417.25 L431.20,415.41 L432.20,416.57 L433.20,415.91 L434.20,415.68 L435.20,413.60 L436.20,413.65 L437.20,413.72 L438.20,413.52 L439.20,415.14 L440.20,415.53 L441.20,415.50 L442.20,415.47 L443.20,415.53 L444.20,416.27 L445.20,415.66 L446.20,413.26 L447.20,413.55 L448.20,415.09 L449.20,415.61 L450.20,416.46 L451.20,418.05 L452.20,418.63 L453.20,419.35 L454.20,419.69 L455.20,419.17 L456.20,420.11 L457.20,419.15 L458.20,419.84 L459.20,420.35 L460.20,421.44 L461.20,423.28 L462.20,425.03 L463.20,425.71 L464.20,427.20" fill="none" stroke="#2f3d9c" stroke-width="0.65" stroke-opacity="0.45"/>
<path d="M392.20,428.88 L393.20,429.68 L394.20,429.34 L395.20,429.83 L396.20,431.50 L397.20,433.88 L398.20,436.46 L399.20,443.26 L400.20,449.28 L401.20,452.49 L402.20,457.18 L403.20,462.18 L404.20,467.36 L405.20,469.70 L406.20,466.29 L407.20,461.46 L408.20,458.04 L409.20,454.70 L410.20,451.00 L411.20,445.94 L412.20,440.94 L413.20,439.01 L414.20,437.90 L415.20,435.41 L416.20,431.95 L417.20,429.29 L418.20,427.45 L419.20,427.62 L420.20,427.66 L421.20,427.87 L422.20,426.42 L423.20,423.63 L424.20,422.35 L425.20,421.94 L426.20,422.31 L427.20,422.88 L428.20,423.26 L429.20,420.59 L430.20,419.78 L431.20,419.57 L432.20,420.75 L433.20,420.63 L434.20,422.19 L435.20,421.89 L436.20,420.34 L437.20,417.57 L438.20,419.44 L439.20,420.24 L440.20,421.57 L441.20,420.87 L442.20,419.47 L443.20,418.44 L444.20,419.06 L445.20,419.96 L446.20,420.97 L447.20,421.96 L448.20,421.67 L449.20,420.57 L450.20,420.00 L451.20,420.61 L452.20,422.09 L453.20,423.30 L454.20,423.29 L455.20,422.11 L456.20,421.74 L457.20,423.41 L458.20,424.07 L459.20,425.51 L460.20,426.84 L461.20,427.30 L462.20,426.84 L463.20,426.55 L464.20,427.79" fill="none" stroke="#2f3d9c" stroke-width="0.65" stroke-opacity="0.45"/>
<path d="M392.20,427.65 L393.20,427.38 L394.20,427.64 L395.20,429.79 L396.20,431.89 L397.20,436.24 L398.20,443.52 L399.20,449.47 L400.20,452.63 L401.20,456.58 L402.20,463.98 L403.20,468.40 L404.20,469.58 L405.20,465.08 L406.20,457.87 L407.20,454.31 L408.20,452.76 L409.20,448.94 L410.20,444.23 L411.20,438.91 L412.20,436.99 L413.20,435.18 L414.20,431.07 L415.20,429.09 L416.20,425.57 L417.20,425.08 L418.20,423.59 L419.20,423.65 L420.20,422.97 L421.20,422.88 L422.20,421.03 L423.20,420.34 L424.20,419.79 L425.20,417.35 L426.20,417.10 L427.20,416.60 L428.20,416.15 L429.20,416.64 L430.20,417.93 L431.20,418.17 L432.20,417.87 L433.20,417.32 L434.20,415.87 L435.20,415.51 L436.20,415.61 L437.20,415.10 L438.20,414.38 L439.20,414.80 L440.20,416.25 L441.20,417.16 L442.20,416.88 L443.20,416.56 L444.20,416.25 L445.20,415.93 L446.20,415.40 L447.20,416.20 L448.20,415.84 L449.20,417.84 L450.20,418.92 L451.20,418.77 L452.20,420.30 L453.20,418.98 L454.20,418.79 L455.20,420.42 L456.20,419.82 L457.20,419.80 L458.20,421.28 L459.20,422.77 L460.20,423.44 L461.20,425.54 L462.20,426.70 L463.20,426.04 L464.20,425.53" fill="none" stroke="#2f3d9c" stroke-width="0.65" stroke-opacity="0.45"/>
<path d="M392.20,427.64 L393.20,427.51 L394.20,428.08 L395.20,430.56 L396.20,432.56 L397.20,438.92 L398.20,446.92 L399.20,452.78 L400.20,456.04 L401.20,461.89 L402.20,468.44 L403.20,473.74 L404.20,473.69 L405.20,468.14 L406.20,461.40 L407.20,457.67 L408.20,455.11 L409.20,450.28 L410.20,445.10 L411.20,439.43 L412.20,437.98 L413.20,434.35 L414.20,431.34 L415.20,426.63 L416.20,425.73 L417.20,424.99 L418.20,425.57 L419.20,424.45 L420.20,423.96 L421.20,421.63 L422.20,420.79 L423.20,417.82 L424.20,417.56 L425.20,416.10 L426.20,416.00 L427.20,417.31 L428.20,417.20 L429.20,417.49 L430.20,416.52 L431.20,416.10 L432.20,415.21 L433.20,413.98 L434.20,414.03 L435.20,412.96 L436.20,415.05 L437.20,415.32 L438.20,416.84 L439.20,416.19 L440.20,415.63 L441.20,414.87 L442.20,414.26 L443.20,413.86 L444.20,413.56 L445.20,414.24 L446.20,416.05 L447.20,417.48 L448.20,417.17 L449.20,417.72 L450.20,417.52 L451.20,417.89 L452.20,417.27 L453.20,417.32 L454.20,418.13 L455.20,418.81 L456.20,421.28 L457.20,421.60 L458.20,422.15 L459.20,423.77 L460.20,422.37 L461.20,423.80 L462.20,423.63 L463.20,423.83 L464.20,425.14" fill="none" stroke="#2f3d9c" stroke-width="0.65" stroke-opacity="0.45"/>
<path d="M392.20,426.79 L393.20,427.24 L394.20,426.77 L395.20,426.94 L396.20,425.91 L397.20,427.60 L398.20,429.56 L399.20,433.83 L400.20,439.76 L401.20,446.32 L402.20,451.52 L403.20,456.00 L404.20,463.07 L405.20,467.63 L406.20,472.05 L407.20,470.50 L408.20,464.75 L409.20,458.75 L410.20,455.62 L411.20,452.59 L412.20,447.71 L413.20,441.02 L414.20,436.45 L415.20,434.42 L416.20,432.64 L417.20,429.16 L418.20,426.52 L419.20,426.57 L420.20,425.23 L421.20,423.60 L422.20,420.58 L423.20,420.10 L424.20,418.51 L425.20,419.31 L426.20,418.71 L427.20,417.27 L428.20,416.37 L429.20,415.73 L430.20,414.98 L431.20,414.59 L432.20,416.04 L433.20,416.43 L434.20,416.07 L435.20,414.71 L436.20,413.55 L437.20,412.45 L438.20,413.19 L439.20,414.33 L440.20,414.88 L441.20,415.21 L442.20,414.61 L443.20,413.41 L444.20,412.98 L445.20,412.17 L446.20,413.57 L447.20,415.25 L448.20,415.74 L449.20,415.91 L450.20,414.80 L451.20,414.96 L452.20,414.53 L453.20,415.19 L454.20,417.43 L455.20,418.96 L456.20,417.65 L457.20,418.08 L458.20,417.69 L459.20,418.22 L460.20,419.39 L461.20,420.41 L462.20,421.53 L463.20,423.55 L464.20,423.80" fill="none" stroke="#2f3d9c" stroke-width="0.65" stroke-opacity="0.45"/>
<path d="M392.20,428.65 L393.20,429.36 L394.20,430.07 L395.20,433.52 L396.20,435.63 L397.20,441.29 L398.20,448.44 L399.20,452.77 L400.20,457.54 L401.20,462.24 L402.20,467.75 L403.20,473.54 L404.20,473.61 L405.20,467.97 L406.20,463.29 L407.20,459.18 L408.20,456.21 L409.20,450.71 L410.20,445.00 L411.20,441.03 L412.20,439.96 L413.20,437.11 L414.20,434.07 L415.20,429.99 L416.20,428.74 L417.20,429.50 L418.20,429.02 L419.20,428.22 L420.20,425.65 L421.20,422.67 L422.20,421.96 L423.20,422.54 L424.20,423.18 L425.20,422.21 L426.20,421.08 L427.20,419.10 L428.20,419.49 L429.20,420.47 L430.20,420.50 L431.20,420.63 L432.20,418.57 L433.20,417.78 L434.20,418.36 L435.20,418.81 L436.20,419.74 L437.20,419.11 L438.20,418.47 L439.20,417.16 L440.20,418.56 L441.20,419.18 L442.20,419.64 L443.20,418.85 L444.20,418.40 L445.20,417.19 L446.20,419.34 L447.20,421.32 L448.20,421.70 L449.20,420.77 L450.20,420.14 L451.20,420.11 L452.20,421.15 L453.20,423.63 L454.20,423.47 L455.20,422.97 L456.20,423.19 L457.20,424.27 L458.20,425.74 L459.20,427.09 L460.20,427.08 L461.20,426.66 L462.20,427.72 L463.20,428.32 L464.20,429.18" fill="none" stroke="#2f3d9c" stroke-width="0.65" stroke-opacity="0.45"/>
<path d="M392.20,431.09 L393.20,431.13 L394.20,434.00 L395.20,438.01 L396.20,441.19 L397.20,448.95 L398.20,455.18 L399.20,458.31 L400.20,462.91 L401.20,469.15 L402.20,474.42 L403.20,479.52 L404.20,474.95 L405.20,468.59 L406.20,462.61 L407.20,459.96 L408.20,455.09 L409.20,449.95 L410.20,445.93 L411.20,443.19 L412.20,441.13 L413.20,437.52 L414.20,434.00 L415.20,432.77 L416.20,432.64 L417.20,431.85 L418.20,431.01 L419.20,430.12 L420.20,427.96 L421.20,425.53 L422.20,426.15 L423.20,424.37 L424.20,425.79 L425.20,426.50 L426.20,425.99 L427.20,423.15 L428.20,422.41 L429.20,422.77 L430.20,423.28 L431.20,423.47 L432.20,424.20 L433.20,423.42 L434.20,422.87 L435.20,421.10 L436.20,420.31 L437.20,421.17 L438.20,423.01 L439.20,423.15 L440.20,424.07 L441.20,423.11 L442.20,421.84 L443.20,421.43 L444.20,422.48 L445.20,423.60 L446.20,425.20 L447.20,425.46 L448.20,425.09 L449.20,423.41 L450.20,423.16 L451.20,423.66 L452.20,426.09 L453.20,427.61 L454.20,427.92 L455.20,427.68 L456.20,427.10 L457.20,427.42 L458.20,427.89 L459.20,429.79 L460.20,431.73 L461.20,433.36 L462.20,434.32 L463.20,432.52 L464.20,431.75" fill="none" stroke="#2f3d9c" stroke-width="0.65" stroke-opacity="0.45"/>
<path d="M392.20,432.80 L393.20,430.52 L394.20,431.76 L395.20,435.86 L396.20,437.98 L397.20,444.06 L398.20,452.26 L399.20,457.05 L400.20,460.36 L401.20,465.84 L402.20,473.29 L403.20,478.51 L404.20,478.96 L405.20,472.86 L406.20,466.56 L407.20,462.35 L408.20,459.19 L409.20,454.85 L410.20,448.78 L411.20,445.14 L412.20,442.63 L413.20,440.14 L414.20,436.23 L415.20,433.90 L416.20,433.23 L417.20,432.86 L418.20,432.48 L419.20,431.18 L420.20,428.35 L421.20,427.87 L422.20,425.67 L423.20,426.32 L424.20,426.54 L425.20,427.55 L426.20,425.43 L427.20,423.80 L428.20,423.90 L429.20,423.14 L430.20,423.71 L431.20,424.68 L432.20,424.44 L433.20,422.90 L434.20,421.96 L435.20,421.59 L436.20,422.75 L437.20,423.96 L438.20,424.63 L439.20,423.73 L440.20,422.89 L441.20,421.37 L442.20,421.93 L443.20,422.66 L444.20,423.73 L445.20,425.26 L446.20,423.72 L447.20,423.11 L448.20,422.75 L449.20,423.66 L450.20,424.58 L451.20,425.89 L452.20,426.15 L453.20,426.72 L454.20,425.74 L455.20,427.13 L456.20,427.55 L457.20,428.27 L458.20,430.91 L459.20,431.09 L460.20,431.46 L461.20,430.31 L462.20,431.91 L463.20,433.32 L464.20,434.08" fill="none" stroke="#2f3d9c" stroke-width="0.65" stroke-opacity="0.45"/>
<path d="M392.20,427.90 L393.20,427.44 L394.20,427.09 L395.20,426.52 L396.20,426.21 L397.20,429.00 L398.20,431.96 L399.20,437.42 L400.20,444.21 L401.20,449.39 L402.20,452.24 L403.20,457.56 L404.20,463.72 L405.20,469.64 L406.20,470.89 L407.20,466.42 L408.20,459.49 L409.20,455.99 L410.20,452.35 L411.20,448.41 L412.20,443.09 L413.20,437.72 L414.20,434.97 L415.20,432.79 L416.20,430.97 L417.20,428.20 L418.20,425.84 L419.20,423.81 L420.20,422.05 L421.20,421.95 L422.20,422.17 L423.20,420.69 L424.20,419.12 L425.20,417.36 L426.20,415.78 L427.20,417.02 L428.20,418.10 L429.20,417.26 L430.20,416.67 L431.20,415.54 L432.20,413.52 L433.20,415.89 L434.20,415.62 L435.20,416.53 L436.20,413.74 L437.20,413.85 L438.20,413.48 L439.20,414.09 L440.20,415.36 L441.20,414.97 L442.20,413.64 L443.20,413.11 L444.20,413.15 L445.20,413.50 L446.20,415.71 L447.20,415.93 L448.20,414.70 L449.20,414.87 L450.20,414.16 L451.20,416.84 L452.20,417.87 L453.20,417.77 L454.20,415.73 L455.20,415.48 L456.20,417.29 L457.20,419.45 L458.20,419.80 L459.20,420.37 L460.20,419.26 L461.20,419.75 L462.20,420.00 L463.20,423.78 L464.20,424.53" fill="none" stroke="#2f3d9c" stroke-width="0.65" stroke-opacity="0.45"/>
<path d="M392.20,428.73 L393.20,427.52 L394.20,427.24 L395.20,428.08 L396.20,430.79 L397.20,434.01 L398.20,441.71 L399.20,448.91 L400.20,453.45 L401.20,457.26 L402.20,463.38 L403.20,468.87 L404.20,473.22 L405.20,473.26 L406.20,468.30 L407.20,461.44 L408.20,458.18 L409.20,453.48 L410.20,449.15 L411.20,443.21 L412.20,439.68 L413.20,437.30 L414.20,434.72 L415.20,430.23 L416.20,426.34 L417.20,425.94 L418.20,425.36 L419.20,426.23 L420.20,424.47 L421.20,421.67 L422.20,419.50 L423.20,416.80 L424.20,418.78 L425.20,418.52 L426.20,419.27 L427.20,419.01 L428.20,415.44 L429.20,414.87 L430.20,415.30 L431.20,416.25 L432.20,415.96 L433.20,415.96 L434.20,415.87 L435.20,413.74 L436.20,414.06 L437.20,414.11 L438.20,415.51 L439.20,415.50 L440.20,415.66 L441.20,414.71 L442.20,413.43 L443.20,413.66 L444.20,415.26 L445.20,416.62 L446.20,416.50 L447.20,416.14 L448.20,416.00 L449.20,416.29 L450.20,416.28 L451.20,417.50 L452.20,419.70 L453.20,419.03 L454.20,418.43 L455.20,418.01 L456.20,418.62 L457.20,420.90 L458.20,422.38 L459.20,423.00 L460.20,421.77 L461.20,422.54 L462.20,422.63 L463.20,424.36 L464.20,426.59" fill="none" stroke="#2f3d9c" stroke-width="0.65" stroke-opacity="0.45"/>
<path d="M392.20,428.73 L393.20,428.02 L394.20,427.71 L395.20,429.29 L396.20,432.55 L397.20,434.45 L398.20,442.19 L399.20,450.75 L400.20,454.93 L401.20,460.72 L402.20,467.18 L403.20,473.89 L404.20,478.86 L405.20,476.86 L406.20,471.16 L407.20,464.23 L408.20,459.78 L409.20,456.05 L410.20,450.58 L411.20,444.29 L412.20,440.37 L413.20,438.76 L414.20,434.24 L415.20,430.92 L416.20,428.11 L417.20,426.18 L418.20,424.26 L419.20,423.92 L420.20,423.59 L421.20,421.93 L422.20,421.13 L423.20,420.35 L424.20,418.80 L425.20,418.43 L426.20,417.18 L427.20,416.29 L428.20,415.70 L429.20,414.63 L430.20,414.75 L431.20,415.23 L432.20,416.37 L433.20,415.30 L434.20,415.98 L435.20,415.21 L436.20,414.72 L437.20,414.15 L438.20,413.15 L439.20,413.26 L440.20,413.32 L441.20,413.59 L442.20,414.40 L443.20,414.67 L444.20,415.74 L445.20,415.45 L446.20,415.67 L447.20,415.30 L448.20,414.22 L449.20,414.27 L450.20,415.64 L451.20,415.90 L452.20,417.48 L453.20,418.85 L454.20,419.39 L455.20,420.93 L456.20,419.85 L457.20,420.10 L458.20,419.37 L459.20,418.56 L460.20,420.84 L461.20,422.51 L462.20,424.75 L463.20,426.15 L464.20,427.00" fill="none" stroke="#2f3d9c" stroke-width="0.65" stroke-opacity="0.45"/>
<path d="M392.20,427.91 L393.20,427.32 L394.20,427.95 L395.20,426.24 L396.20,428.84 L397.20,431.36 L398.20,434.15 L399.20,440.76 L400.20,447.13 L401.20,450.90 L402.20,455.81 L403.20,460.74 L404.20,466.64 L405.20,471.89 L406.20,470.62 L407.20,464.01 L408.20,458.85 L409.20,455.73 L410.20,451.48 L411.20,446.28 L412.20,441.63 L413.20,438.22 L414.20,436.24 L415.20,434.57 L416.20,430.27 L417.20,427.81 L418.20,426.78 L419.20,423.96 L420.20,423.19 L421.20,421.31 L422.20,421.45 L423.20,420.97 L424.20,420.96 L425.20,419.80 L426.20,419.76 L427.20,417.38 L428.20,416.67 L429.20,416.08 L430.20,416.14 L431.20,416.63 L432.20,416.11 L433.20,418.23 L434.20,417.12 L435.20,416.46 L436.20,415.14 L437.20,414.75 L438.20,413.55 L439.20,414.42 L440.20,414.61 L441.20,415.88 L442.20,416.14 L443.20,416.86 L444.20,417.57 L445.20,416.48 L446.20,415.35 L447.20,414.44 L448.20,415.71 L449.20,415.08 L450.20,416.40 L451.20,418.83 L452.20,418.78 L453.20,419.87 L454.20,419.35 L455.20,419.73 L456.20,419.35 L457.20,418.99 L458.20,419.11 L459.20,420.72 L460.20,422.61 L461.20,423.60 L462.20,423.41 L463.20,425.11 L464.20,425.10" fill="none" stroke="#2f3d9c" stroke-width="0.65" stroke-opacity="0.45"/>
<path d="M392.20,427.70 L393.20,427.73 L394.20,428.05 L395.20,428.39 L396.20,430.78 L397.20,433.03 L398.20,438.04 L399.20,445.58 L400.20,451.30 L401.20,454.86 L402.20,459.42 L403.20,464.75 L404.20,469.30 L405.20,471.96 L406.20,467.41 L407.20,462.13 L408.20,458.28 L409.20,455.01 L410.20,450.47 L411.20,444.08 L412.20,439.28 L413.20,437.73 L414.20,437.47 L415.20,433.77 L416.20,429.61 L417.20,427.70 L418.20,426.23 L419.20,427.14 L420.20,426.12 L421.20,425.14 L422.20,423.53 L423.20,420.29 L424.20,419.26 L425.20,420.21 L426.20,420.59 L427.20,420.43 L428.20,420.10 L429.20,418.59 L430.20,416.83 L431.20,417.04 L432.20,418.21 L433.20,418.66 L434.20,419.29 L435.20,418.12 L436.20,416.71 L437.20,415.65 L438.20,416.96 L439.20,418.36 L440.20,418.37 L441.20,417.84 L442.20,417.23 L443.20,415.92 L444.20,416.35 L445.20,417.31 L446.20,418.55 L447.20,418.70 L448.20,419.18 L449.20,418.02 L450.20,417.06 L451.20,417.74 L452.20,419.05 L453.20,421.41 L454.20,421.24 L455.20,419.39 L456.20,419.97 L457.20,420.46 L458.20,422.04 L459.20,423.83 L460.20,424.87 L461.20,425.55 L462.20,425.35 L463.20,424.90 L464.20,426.81" fill="none" stroke="#2f3d9c" stroke-width="0.65" stroke-opacity="0.45"/>
<path d="M392.20,428.59 L393.20,428.33 L394.20,427.86 L395.20,428.02 L396.20,432.16 L397.20,435.00 L398.20,441.45 L399.20,448.78 L400.20,452.09 L401.20,455.62 L402.20,460.53 L403.20,466.65 L404.20,470.82 L405.20,468.43 L406.20,463.50 L407.20,457.93 L408.20,455.61 L409.20,450.96 L410.20,445.71 L411.20,442.31 L412.20,438.78 L413.20,437.26 L414.20,434.69 L415.20,431.01 L416.20,427.95 L417.20,426.88 L418.20,426.34 L419.20,425.88 L420.20,425.75 L421.20,425.28 L422.20,422.07 L423.20,419.56 L424.20,418.99 L425.20,418.62 L426.20,421.28 L427.20,420.97 L428.20,420.55 L429.20,419.11 L430.20,418.30 L431.20,416.12 L432.20,416.84 L433.20,417.17 L434.20,419.41 L435.20,418.80 L436.20,418.66 L437.20,416.50 L438.20,415.52 L439.20,416.08 L440.20,417.86 L441.20,418.07 L442.20,418.62 L443.20,417.28 L444.20,416.23 L445.20,415.91 L446.20,417.59 L447.20,417.85 L448.20,419.88 L449.20,420.61 L450.20,419.40 L451.20,418.08 L452.20,418.95 L453.20,419.77 L454.20,420.52 L455.20,421.77 L456.20,423.52 L457.20,422.79 L458.20,421.58 L459.20,421.62 L460.20,421.77 L461.20,424.48 L462.20,426.30 L463.20,427.34 L464.20,428.03" fill="none" stroke="#2f3d9c" stroke-width="0.65" stroke-opacity="0.45"/>
<path d="M392.20,430.05 L393.20,428.96 L394.20,428.46 L395.20,431.73 L396.20,434.70 L397.20,439.49 L398.20,447.33 L399.20,452.64 L400.20,458.32 L401.20,463.78 L402.20,471.28 L403.20,476.63 L404.20,478.99 L405.20,473.97 L406.20,466.22 L407.20,461.77 L408.20,459.70 L409.20,454.01 L410.20,447.23 L411.20,442.55 L412.20,439.06 L413.20,438.08 L414.20,435.97 L415.20,431.07 L416.20,428.17 L417.20,427.40 L418.20,426.85 L419.20,426.88 L420.20,425.42 L421.20,423.33 L422.20,419.79 L423.20,419.55 L424.20,420.63 L425.20,420.53 L426.20,420.63 L427.20,419.37 L428.20,417.99 L429.20,417.71 L430.20,417.74 L431.20,418.68 L432.20,419.06 L433.20,416.58 L434.20,415.93 L435.20,415.90 L436.20,417.37 L437.20,417.05 L438.20,417.40 L439.20,415.13 L440.20,414.96 L441.20,415.77 L442.20,418.22 L443.20,418.45 L444.20,417.54 L445.20,416.03 L446.20,415.70 L447.20,418.07 L448.20,419.23 L449.20,420.08 L450.20,419.67 L451.20,418.12 L452.20,418.55 L453.20,419.95 L454.20,422.73 L455.20,422.98 L456.20,422.30 L457.20,422.09 L458.20,421.49 L459.20,424.47 L460.20,426.70 L461.20,427.09 L462.20,426.63 L463.20,426.70 L464.20,426.88" fill="none" stroke="#2f3d9c" stroke-width="0.65" stroke-opacity="0.45"/>
<path d="M392.20,428.47 L393.20,428.07 L394.20,427.66 L395.20,425.35 L396.20,427.07 L397.20,430.16 L398.20,433.11 L399.20,438.83 L400.20,444.13 L401.20,447.09 L402.20,451.08 L403.20,455.38 L404.20,458.54 L405.20,459.16 L406.20,453.33 L407.20,445.37 L408.20,438.53 L409.20,432.52 L410.20,429.13 L411.20,425.32 L412.20,418.71 L413.20,412.29 L414.20,408.11 L415.20,409.13 L416.20,409.52 L417.20,411.20 L418.20,411.68 L419.20,413.21 L420.20,415.23 L421.20,415.90 L422.20,416.87 L423.20,418.26 L424.20,419.22 L425.20,420.38 L426.20,420.85 L427.20,419.46 L428.20,419.65 L429.20,418.49 L430.20,418.58 L431.20,419.26 L432.20,420.29 L433.20,421.10 L434.20,421.06 L435.20,423.50 L436.20,422.89 L437.20,422.43 L438.20,422.46 L439.20,421.29 L440.20,420.55 L441.20,421.50 L442.20,422.07 L443.20,422.48 L444.20,424.36 L445.20,425.12 L446.20,425.04 L447.20,426.50 L448.20,425.58 L449.20,424.48 L450.20,424.80 L451.20,424.52 L452.20,425.17 L453.20,424.78 L454.20,426.86 L455.20,427.89 L456.20,428.64 L457.20,429.09 L458.20,429.47 L459.20,428.92 L460.20,428.25 L461.20,427.55 L462.20,428.52 L463.20,428.96 L464.20,429.49" fill="none" stroke="#dd4426" stroke-width="0.65" stroke-opacity="0.45"/>
<path d="M392.20,429.31 L393.20,429.55 L394.20,433.44 L395.20,435.58 L396.20,439.86 L397.20,445.03 L398.20,447.81 L399.20,451.69 L400.20,455.75 L401.20,460.52 L402.20,463.33 L403.20,460.87 L404.20,454.08 L405.20,446.84 L406.20,439.65 L407.20,436.72 L408.20,431.23 L409.20,425.18 L410.20,418.41 L411.20,412.40 L412.20,410.91 L413.20,412.78 L414.20,414.15 L415.20,415.69 L416.20,417.02 L417.20,418.34 L418.20,421.87 L419.20,422.98 L420.20,424.32 L421.20,422.76 L422.20,422.10 L423.20,423.19 L424.20,426.28 L425.20,426.43 L426.20,427.26 L427.20,424.21 L428.20,424.32 L429.20,425.28 L430.20,426.74 L431.20,427.82 L432.20,427.63 L433.20,425.87 L434.20,425.29 L435.20,427.75 L436.20,429.41 L437.20,428.96 L438.20,428.50 L439.20,426.00 L440.20,427.64 L441.20,427.98 L442.20,429.99 L443.20,431.73 L444.20,429.36 L445.20,429.07 L446.20,428.94 L447.20,430.19 L448.20,432.01 L449.20,432.80 L450.20,430.95 L451.20,430.34 L452.20,431.44 L453.20,432.71 L454.20,433.60 L455.20,434.94 L456.20,433.34 L457.20,433.39 L458.20,433.16 L459.20,436.21 L460.20,436.05 L461.20,435.59 L462.20,435.00 L463.20,434.35 L464.20,435.33" fill="none" stroke="#dd4426" stroke-width="0.65" stroke-opacity="0.45"/>
<path d="M392.20,428.71 L393.20,428.32 L394.20,429.30 L395.20,432.05 L396.20,433.95 L397.20,438.48 L398.20,444.54 L399.20,447.53 L400.20,451.75 L401.20,455.64 L402.20,459.68 L403.20,461.72 L404.20,458.27 L405.20,450.88 L406.20,442.76 L407.20,437.47 L408.20,432.89 L409.20,429.20 L410.20,422.43 L411.20,415.27 L412.20,410.36 L413.20,408.62 L414.20,410.87 L415.20,413.59 L416.20,414.83 L417.20,415.35 L418.20,416.98 L419.20,418.49 L420.20,420.25 L421.20,421.49 L422.20,422.46 L423.20,421.87 L424.20,422.07 L425.20,420.36 L426.20,421.99 L427.20,423.66 L428.20,424.91 L429.20,423.91 L430.20,423.26 L431.20,422.86 L432.20,423.21 L433.20,424.17 L434.20,424.47 L435.20,426.31 L436.20,426.80 L437.20,425.39 L438.20,423.94 L439.20,423.93 L440.20,424.62 L441.20,427.25 L442.20,427.63 L443.20,427.56 L444.20,426.58 L445.20,426.24 L446.20,426.13 L447.20,427.34 L448.20,429.33 L449.20,430.15 L450.20,430.23 L451.20,429.07 L452.20,428.76 L453.20,428.46 L454.20,429.90 L455.20,431.46 L456.20,431.89 L457.20,432.63 L458.20,431.03 L459.20,430.09 L460.20,431.88 L461.20,433.00 L462.20,433.88 L463.20,435.16 L464.20,434.52" fill="none" stroke="#dd4426" stroke-width="0.65" stroke-opacity="0.45"/>
<path d="M392.20,432.17 L393.20,430.61 L394.20,430.10 L395.20,431.88 L396.20,435.66 L397.20,438.25 L398.20,442.93 L399.20,447.81 L400.20,450.22 L401.20,453.45 L402.20,456.48 L403.20,460.57 L404.20,460.07 L405.20,455.58 L406.20,447.99 L407.20,441.59 L408.20,437.53 L409.20,433.54 L410.20,428.96 L411.20,423.38 L412.20,416.78 L413.20,414.17 L414.20,415.97 L415.20,417.96 L416.20,419.59 L417.20,420.67 L418.20,421.72 L419.20,423.32 L420.20,424.06 L421.20,424.19 L422.20,426.03 L423.20,427.37 L424.20,428.52 L425.20,428.71 L426.20,427.35 L427.20,427.67 L428.20,427.12 L429.20,426.58 L430.20,427.96 L431.20,428.65 L432.20,430.07 L433.20,430.53 L434.20,429.36 L435.20,428.75 L436.20,428.15 L437.20,428.33 L438.20,429.07 L439.20,430.07 L440.20,431.81 L441.20,431.90 L442.20,431.38 L443.20,431.53 L444.20,430.21 L445.20,430.82 L446.20,430.54 L447.20,432.99 L448.20,433.45 L449.20,434.05 L450.20,434.70 L451.20,433.27 L452.20,432.53 L453.20,432.68 L454.20,432.66 L455.20,434.10 L456.20,435.35 L457.20,436.55 L458.20,436.99 L459.20,437.02 L460.20,436.05 L461.20,436.01 L462.20,435.96 L463.20,435.34 L464.20,436.56" fill="none" stroke="#dd4426" stroke-width="0.65" stroke-opacity="0.45"/>
<path d="M392.20,435.68 L393.20,433.67 L394.20,432.67 L395.20,432.66 L396.20,435.04 L397.20,437.50 L398.20,441.29 L399.20,446.68 L400.20,450.72 L401.20,452.34 L402.20,456.58 L403.20,462.24 L404.20,464.43 L405.20,462.22 L406.20,455.46 L407.20,447.94 L408.20,442.48 L409.20,436.47 L410.20,432.96 L411.20,428.33 L412.20,422.18 L413.20,416.62 L414.20,415.35 L415.20,417.82 L416.20,419.41 L417.20,421.64 L418.20,423.79 L419.20,426.26 L420.20,425.57 L421.20,426.23 L422.20,426.64 L423.20,426.61 L424.20,427.42 L425.20,428.70 L426.20,430.36 L427.20,430.72 L428.20,432.29 L429.20,432.57 L430.20,432.55 L431.20,432.55 L432.20,431.15 L433.20,430.92 L434.20,431.14 L435.20,431.31 L436.20,431.58 L437.20,431.66 L438.20,432.52 L439.20,433.00 L440.20,434.04 L441.20,434.22 L442.20,434.49 L443.20,434.35 L444.20,434.53 L445.20,434.19 L446.20,433.60 L447.20,433.22 L448.20,434.17 L449.20,435.16 L450.20,436.30 L451.20,436.94 L452.20,437.95 L453.20,437.75 L454.20,438.50 L455.20,438.41 L456.20,437.61 L457.20,437.09 L458.20,437.80 L459.20,436.89 L460.20,438.10 L461.20,438.44 L462.20,439.37 L463.20,440.40 L464.20,441.13" fill="none" stroke="#dd4426" stroke-width="0.65" stroke-opacity="0.45"/>
<path d="M392.20,431.59 L393.20,430.03 L394.20,429.42 L395.20,428.41 L396.20,432.31 L397.20,435.07 L398.20,438.68 L399.20,444.46 L400.20,448.96 L401.20,452.25 L402.20,455.99 L403.20,461.50 L404.20,464.75 L405.20,462.58 L406.20,456.21 L407.20,447.45 L408.20,439.05 L409.20,434.63 L410.20,431.66 L411.20,425.45 L412.20,418.21 L413.20,411.94 L414.20,407.34 L415.20,409.07 L416.20,411.37 L417.20,414.34 L418.20,416.75 L419.20,419.80 L420.20,419.94 L421.20,418.97 L422.20,420.50 L423.20,421.08 L424.20,422.57 L425.20,424.56 L426.20,424.47 L427.20,424.23 L428.20,423.77 L429.20,422.98 L430.20,423.95 L431.20,425.52 L432.20,426.54 L433.20,426.57 L434.20,426.19 L435.20,425.67 L436.20,425.49 L437.20,425.40 L438.20,427.58 L439.20,427.43 L440.20,427.65 L441.20,427.61 L442.20,426.77 L443.20,427.07 L444.20,426.71 L445.20,429.59 L446.20,430.10 L447.20,430.35 L448.20,430.09 L449.20,429.77 L450.20,428.71 L451.20,429.35 L452.20,431.28 L453.20,432.49 L454.20,433.10 L455.20,431.96 L456.20,430.94 L457.20,431.00 L458.20,432.24 L459.20,434.56 L460.20,434.56 L461.20,435.11 L462.20,434.29 L463.20,434.43 L464.20,434.02" fill="none" stroke="#dd4426" stroke-width="0.65" stroke-opacity="0.45"/>
<path d="M392.20,428.33 L393.20,427.83 L394.20,427.52 L395.20,431.38 L396.20,434.11 L397.20,438.37 L398.20,443.24 L399.20,447.56 L400.20,450.71 L401.20,455.33 L402.20,458.66 L403.20,460.73 L404.20,456.87 L405.20,451.37 L406.20,444.37 L407.20,437.50 L408.20,432.04 L409.20,427.53 L410.20,422.05 L411.20,415.42 L412.20,410.09 L413.20,408.73 L414.20,410.04 L415.20,411.72 L416.20,412.94 L417.20,415.03 L418.20,418.31 L419.20,420.46 L420.20,419.73 L421.20,418.70 L422.20,418.71 L423.20,420.94 L424.20,422.26 L425.20,423.74 L426.20,423.60 L427.20,422.46 L428.20,420.42 L429.20,422.58 L430.20,424.55 L431.20,424.56 L432.20,423.75 L433.20,422.33 L434.20,422.54 L435.20,424.07 L436.20,424.82 L437.20,426.24 L438.20,425.04 L439.20,424.20 L440.20,423.53 L441.20,425.31 L442.20,427.00 L443.20,427.30 L444.20,426.67 L445.20,426.44 L446.20,426.37 L447.20,427.14 L448.20,429.36 L449.20,429.24 L450.20,428.72 L451.20,426.48 L452.20,427.47 L453.20,429.36 L454.20,430.49 L455.20,431.60 L456.20,430.38 L457.20,429.91 L458.20,429.91 L459.20,431.04 L460.20,434.12 L461.20,433.35 L462.20,432.31 L463.20,431.90 L464.20,431.93" fill="none" stroke="#dd4426" stroke-width="0.65" stroke-opacity="0.45"/>
<path d="M392.20,431.06 L393.20,431.76 L394.20,429.62 L395.20,428.30 L396.20,432.71 L397.20,435.52 L398.20,438.83 L399.20,444.77 L400.20,447.80 L401.20,449.90 L402.20,453.31 L403.20,458.09 L404.20,461.86 L405.20,460.89 L406.20,455.21 L407.20,446.88 L408.20,440.75 L409.20,435.83 L410.20,431.58 L411.20,426.35 L412.20,420.23 L413.20,415.66 L414.20,411.58 L415.20,414.57 L416.20,415.45 L417.20,416.35 L418.20,416.75 L419.20,419.49 L420.20,422.02 L421.20,422.84 L422.20,424.53 L423.20,425.40 L424.20,425.83 L425.20,425.28 L426.20,425.14 L427.20,423.97 L428.20,426.40 L429.20,426.06 L430.20,426.94 L431.20,427.73 L432.20,428.30 L433.20,427.84 L434.20,427.82 L435.20,426.94 L436.20,426.43 L437.20,427.66 L438.20,428.84 L439.20,429.63 L440.20,429.92 L441.20,429.14 L442.20,429.13 L443.20,428.25 L444.20,428.62 L445.20,429.27 L446.20,430.21 L447.20,432.14 L448.20,432.32 L449.20,433.16 L450.20,432.11 L451.20,430.36 L452.20,430.35 L453.20,431.19 L454.20,432.55 L455.20,434.40 L456.20,434.55 L457.20,434.85 L458.20,433.97 L459.20,433.44 L460.20,433.98 L461.20,434.07 L462.20,436.17 L463.20,436.57 L464.20,437.60" fill="none" stroke="#dd4426" stroke-width="0.65" stroke-opacity="0.45"/>
<path d="M392.20,431.30 L393.20,431.54 L394.20,429.76 L395.20,431.86 L396.20,434.94 L397.20,436.71 L398.20,443.55 L399.20,448.63 L400.20,451.27 L401.20,454.43 L402.20,458.44 L403.20,462.24 L404.20,462.62 L405.20,457.57 L406.20,450.50 L407.20,441.41 L408.20,436.65 L409.20,433.10 L410.20,427.61 L411.20,422.40 L412.20,416.34 L413.20,411.18 L414.20,411.92 L415.20,413.30 L416.20,415.80 L417.20,417.48 L418.20,421.48 L419.20,422.01 L420.20,421.80 L421.20,421.63 L422.20,424.13 L423.20,425.06 L424.20,426.86 L425.20,426.29 L426.20,425.37 L427.20,425.06 L428.20,426.28 L429.20,427.24 L430.20,427.12 L431.20,426.29 L432.20,426.88 L433.20,425.08 L434.20,427.60 L435.20,430.02 L436.20,428.73 L437.20,429.43 L438.20,428.17 L439.20,427.01 L440.20,427.15 L441.20,429.58 L442.20,431.50 L443.20,430.52 L444.20,429.58 L445.20,429.09 L446.20,429.88 L447.20,431.70 L448.20,433.93 L449.20,432.49 L450.20,431.02 L451.20,431.40 L452.20,431.21 L453.20,432.74 L454.20,433.72 L455.20,434.44 L456.20,433.46 L457.20,433.13 L458.20,433.28 L459.20,434.44 L460.20,436.90 L461.20,437.00 L462.20,435.32 L463.20,435.06 L464.20,435.66" fill="none" stroke="#dd4426" stroke-width="0.65" stroke-opacity="0.45"/>
<path d="M392.20,430.55 L393.20,429.27 L394.20,428.55 L395.20,431.72 L396.20,434.73 L397.20,437.60 L398.20,442.50 L399.20,446.43 L400.20,448.73 L401.20,452.01 L402.20,456.91 L403.20,460.30 L404.20,460.43 L405.20,454.90 L406.20,447.53 L407.20,439.98 L408.20,434.79 L409.20,431.97 L410.20,427.19 L411.20,420.31 L412.20,414.02 L413.20,412.00 L414.20,411.98 L415.20,414.50 L416.20,415.89 L417.20,416.99 L418.20,417.99 L419.20,420.09 L420.20,421.17 L421.20,422.80 L422.20,423.31 L423.20,424.75 L424.20,424.69 L425.20,424.76 L426.20,423.59 L427.20,423.73 L428.20,424.02 L429.20,424.83 L430.20,425.54 L431.20,426.65 L432.20,427.31 L433.20,427.28 L434.20,426.89 L435.20,425.51 L436.20,425.64 L437.20,426.13 L438.20,427.12 L439.20,427.92 L440.20,428.80 L441.20,428.99 L442.20,429.00 L443.20,428.35 L444.20,427.09 L445.20,427.36 L446.20,427.03 L447.20,429.34 L448.20,430.78 L449.20,431.32 L450.20,432.10 L451.20,431.94 L452.20,431.10 L453.20,431.17 L454.20,430.10 L455.20,430.65 L456.20,431.44 L457.20,433.69 L458.20,433.30 L459.20,434.88 L460.20,434.30 L461.20,434.13 L462.20,433.37 L463.20,433.72 L464.20,432.95" fill="none" stroke="#dd4426" stroke-width="0.65" stroke-opacity="0.45"/>
<path d="M392.20,428.35 L393.20,428.53 L394.20,429.02 L395.20,427.40 L396.20,428.34 L397.20,430.01 L398.20,432.73 L399.20,436.89 L400.20,442.23 L401.20,446.17 L402.20,449.45 L403.20,453.15 L404.20,457.15 L405.20,459.42 L406.20,455.13 L407.20,449.26 L408.20,442.76 L409.20,435.66 L410.20,432.42 L411.20,428.50 L412.20,422.72 L413.20,414.71 L414.20,411.17 L415.20,407.57 L416.20,410.58 L417.20,414.30 L418.20,413.81 L419.20,416.21 L420.20,416.42 L421.20,418.01 L422.20,418.33 L423.20,419.27 L424.20,420.40 L425.20,421.46 L426.20,420.91 L427.20,420.22 L428.20,420.55 L429.20,419.96 L430.20,421.81 L431.20,422.93 L432.20,423.71 L433.20,423.18 L434.20,422.28 L435.20,422.40 L436.20,421.55 L437.20,422.58 L438.20,424.12 L439.20,425.58 L440.20,426.33 L441.20,425.58 L442.20,424.08 L443.20,423.61 L444.20,424.18 L445.20,425.14 L446.20,426.57 L447.20,426.63 L448.20,427.45 L449.20,426.19 L450.20,425.98 L451.20,427.02 L452.20,427.44 L453.20,428.89 L454.20,429.67 L455.20,429.04 L456.20,428.30 L457.20,427.20 L458.20,427.54 L459.20,428.79 L460.20,430.55 L461.20,431.84 L462.20,431.93 L463.20,431.13 L464.20,430.77" fill="none" stroke="#dd4426" stroke-width="0.65" stroke-opacity="0.45"/>
<path d="M392.20,431.64 L393.20,429.88 L394.20,428.94 L395.20,431.14 L396.20,433.87 L397.20,437.17 L398.20,441.67 L399.20,445.84 L400.20,447.09 L401.20,450.22 L402.20,453.90 L403.20,457.61 L404.20,458.80 L405.20,453.82 L406.20,447.69 L407.20,441.31 L408.20,435.50 L409.20,432.96 L410.20,428.67 L411.20,423.08 L412.20,418.81 L413.20,415.04 L414.20,414.38 L415.20,416.65 L416.20,417.10 L417.20,418.12 L418.20,421.39 L419.20,423.96 L420.20,425.09 L421.20,425.51 L422.20,423.78 L423.20,424.11 L424.20,424.47 L425.20,426.01 L426.20,427.48 L427.20,428.07 L428.20,427.20 L429.20,426.36 L430.20,425.60 L431.20,425.90 L432.20,427.40 L433.20,429.37 L434.20,428.99 L435.20,429.34 L436.20,428.75 L437.20,426.99 L438.20,428.15 L439.20,429.26 L440.20,428.94 L441.20,431.11 L442.20,430.67 L443.20,429.13 L444.20,429.67 L445.20,428.39 L446.20,431.02 L447.20,432.04 L448.20,432.36 L449.20,432.72 L450.20,431.09 L451.20,431.21 L452.20,431.15 L453.20,432.44 L454.20,433.95 L455.20,434.04 L456.20,434.66 L457.20,433.46 L458.20,431.70 L459.20,433.43 L460.20,434.51 L461.20,435.57 L462.20,437.39 L463.20,436.75 L464.20,435.21" fill="none" stroke="#dd4426" stroke-width="0.65" stroke-opacity="0.45"/>
<path d="M392.20,428.25 L393.20,428.19 L394.20,431.44 L395.20,433.39 L396.20,435.84 L397.20,441.26 L398.20,446.21 L399.20,448.82 L400.20,451.65 L401.20,456.76 L402.20,460.54 L403.20,459.34 L404.20,452.81 L405.20,446.28 L406.20,438.68 L407.20,433.50 L408.20,431.11 L409.20,425.02 L410.20,419.20 L411.20,414.01 L412.20,410.70 L413.20,411.61 L414.20,413.58 L415.20,415.61 L416.20,416.42 L417.20,418.35 L418.20,419.59 L419.20,418.93 L420.20,419.25 L421.20,419.44 L422.20,421.02 L423.20,422.73 L424.20,423.98 L425.20,424.69 L426.20,424.57 L427.20,424.79 L428.20,423.72 L429.20,424.01 L430.20,422.60 L431.20,422.89 L432.20,424.28 L433.20,424.42 L434.20,424.77 L435.20,426.11 L436.20,426.49 L437.20,426.93 L438.20,426.97 L439.20,426.31 L440.20,426.21 L441.20,426.18 L442.20,425.23 L443.20,425.57 L444.20,426.43 L445.20,427.61 L446.20,429.07 L447.20,429.62 L448.20,430.03 L449.20,430.14 L450.20,430.49 L451.20,429.88 L452.20,429.43 L453.20,428.90 L454.20,428.72 L455.20,430.54 L456.20,432.02 L457.20,431.91 L458.20,432.94 L459.20,434.33 L460.20,434.30 L461.20,433.90 L462.20,434.12 L463.20,432.51 L464.20,431.76" fill="none" stroke="#dd4426" stroke-width="0.65" stroke-opacity="0.45"/>
<path d="M392.20,430.29 L393.20,430.32 L394.20,428.33 L395.20,428.10 L396.20,430.76 L397.20,433.45 L398.20,437.07 L399.20,441.60 L400.20,446.97 L401.20,448.98 L402.20,452.55 L403.20,456.06 L404.20,459.97 L405.20,459.99 L406.20,454.72 L407.20,447.76 L408.20,439.59 L409.20,433.38 L410.20,430.52 L411.20,426.01 L412.20,420.11 L413.20,413.73 L414.20,410.74 L415.20,411.02 L416.20,412.74 L417.20,413.63 L418.20,415.18 L419.20,416.93 L420.20,421.16 L421.20,422.10 L422.20,421.41 L423.20,420.84 L424.20,421.48 L425.20,420.32 L426.20,421.55 L427.20,423.59 L428.20,424.66 L429.20,425.30 L430.20,423.90 L431.20,423.63 L432.20,423.48 L433.20,424.26 L434.20,424.49 L435.20,425.71 L436.20,426.81 L437.20,427.40 L438.20,426.56 L439.20,424.92 L440.20,423.93 L441.20,425.14 L442.20,426.29 L443.20,428.63 L444.20,428.17 L445.20,428.76 L446.20,426.81 L447.20,427.47 L448.20,426.68 L449.20,428.30 L450.20,429.63 L451.20,430.86 L452.20,431.01 L453.20,429.82 L454.20,429.71 L455.20,428.66 L456.20,429.62 L457.20,430.61 L458.20,432.47 L459.20,433.33 L460.20,433.26 L461.20,432.30 L462.20,432.57 L463.20,431.98 L464.20,432.98" fill="none" stroke="#dd4426" stroke-width="0.65" stroke-opacity="0.45"/>
<path d="M392.20,425.90 L393.20,423.56 L394.20,426.85 L395.20,429.27 L396.20,431.88 L397.20,437.09 L398.20,443.70 L399.20,446.89 L400.20,449.67 L401.20,454.23 L402.20,456.87 L403.20,455.96 L404.20,451.67 L405.20,444.01 L406.20,436.11 L407.20,431.09 L408.20,427.39 L409.20,421.71 L410.20,415.32 L411.20,409.03 L412.20,405.38 L413.20,406.18 L414.20,408.01 L415.20,408.79 L416.20,410.22 L417.20,411.21 L418.20,413.82 L419.20,415.46 L420.20,415.90 L421.20,414.95 L422.20,415.05 L423.20,413.98 L424.20,415.18 L425.20,417.32 L426.20,418.38 L427.20,418.30 L428.20,417.78 L429.20,416.38 L430.20,416.30 L431.20,417.01 L432.20,418.51 L433.20,419.67 L434.20,420.06 L435.20,418.86 L436.20,418.17 L437.20,418.76 L438.20,419.26 L439.20,420.01 L440.20,421.57 L441.20,421.95 L442.20,418.89 L443.20,419.63 L444.20,419.91 L445.20,421.29 L446.20,423.79 L447.20,423.88 L448.20,423.25 L449.20,421.70 L450.20,421.75 L451.20,422.27 L452.20,424.96 L453.20,425.41 L454.20,424.64 L455.20,424.65 L456.20,424.77 L457.20,424.00 L458.20,425.55 L459.20,427.29 L460.20,428.46 L461.20,428.19 L462.20,426.70 L463.20,426.07 L464.20,426.74" fill="none" stroke="#dd4426" stroke-width="0.65" stroke-opacity="0.45"/>
<path d="M392.20,428.98 L393.20,427.24 L394.20,427.16 L395.20,428.98 L396.20,433.27 L397.20,436.46 L398.20,441.08 L399.20,444.84 L400.20,446.87 L401.20,452.03 L402.20,455.73 L403.20,459.53 L404.20,457.38 L405.20,449.66 L406.20,443.58 L407.20,435.67 L408.20,432.15 L409.20,428.33 L410.20,422.51 L411.20,416.67 L412.20,410.98 L413.20,407.92 L414.20,409.71 L415.20,412.65 L416.20,414.25 L417.20,415.97 L418.20,417.75 L419.20,418.62 L420.20,418.30 L421.20,418.22 L422.20,417.62 L423.20,418.07 L424.20,419.52 L425.20,420.35 L426.20,421.29 L427.20,422.40 L428.20,422.72 L429.20,423.70 L430.20,422.89 L431.20,422.58 L432.20,421.52 L433.20,421.33 L434.20,420.96 L435.20,422.03 L436.20,422.73 L437.20,423.65 L438.20,424.12 L439.20,425.01 L440.20,425.57 L441.20,425.31 L442.20,424.47 L443.20,425.70 L444.20,424.66 L445.20,424.69 L446.20,424.86 L447.20,424.78 L448.20,426.01 L449.20,426.84 L450.20,428.46 L451.20,428.67 L452.20,428.48 L453.20,428.83 L454.20,429.57 L455.20,427.90 L456.20,427.87 L457.20,428.66 L458.20,427.77 L459.20,429.16 L460.20,430.65 L461.20,431.46 L462.20,431.75 L463.20,432.46 L464.20,432.44" fill="none" stroke="#dd4426" stroke-width="0.65" stroke-opacity="0.45"/>
<path d="M392.20,432.62 L393.20,431.30 L394.20,430.97 L395.20,432.76 L396.20,436.40 L397.20,439.64 L398.20,445.86 L399.20,451.16 L400.20,453.11 L401.20,456.47 L402.20,461.42 L403.20,464.47 L404.20,463.73 L405.20,458.17 L406.20,449.68 L407.20,442.22 L408.20,436.43 L409.20,432.62 L410.20,428.57 L411.20,421.01 L412.20,416.16 L413.20,412.03 L414.20,412.30 L415.20,414.75 L416.20,416.42 L417.20,418.52 L418.20,421.68 L419.20,424.73 L420.20,423.59 L421.20,423.45 L422.20,424.49 L423.20,426.34 L424.20,427.49 L425.20,428.58 L426.20,427.90 L427.20,425.96 L428.20,427.16 L429.20,428.39 L430.20,430.04 L431.20,430.12 L432.20,428.92 L433.20,427.67 L434.20,428.40 L435.20,429.60 L436.20,431.14 L437.20,431.25 L438.20,431.21 L439.20,429.91 L440.20,429.72 L441.20,430.09 L442.20,432.26 L443.20,433.30 L444.20,431.84 L445.20,431.14 L446.20,431.34 L447.20,431.65 L448.20,433.98 L449.20,435.12 L450.20,434.10 L451.20,433.88 L452.20,432.95 L453.20,434.23 L454.20,435.30 L455.20,436.39 L456.20,436.64 L457.20,435.98 L458.20,434.38 L459.20,435.72 L460.20,437.86 L461.20,439.33 L462.20,439.36 L463.20,437.74 L464.20,437.17" fill="none" stroke="#dd4426" stroke-width="0.65" stroke-opacity="0.45"/>
<path d="M392.20,431.58 L393.20,431.11 L394.20,431.12 L395.20,430.79 L396.20,429.74 L397.20,432.71 L398.20,435.09 L399.20,439.10 L400.20,443.76 L401.20,448.51 L402.20,452.08 L403.20,455.52 L404.20,458.99 L405.20,461.39 L406.20,460.60 L407.20,454.41 L408.20,447.24 L409.20,440.75 L410.20,435.31 L411.20,431.92 L412.20,426.27 L413.20,419.69 L414.20,415.44 L415.20,412.76 L416.20,414.55 L417.20,415.67 L418.20,417.12 L419.20,418.06 L420.20,420.90 L421.20,424.01 L422.20,424.51 L423.20,423.37 L424.20,422.99 L425.20,423.54 L426.20,424.58 L427.20,426.85 L428.20,427.95 L429.20,427.84 L430.20,425.84 L431.20,425.32 L432.20,426.07 L433.20,427.21 L434.20,429.19 L435.20,428.45 L436.20,427.32 L437.20,426.46 L438.20,428.17 L439.20,429.59 L440.20,430.40 L441.20,430.02 L442.20,428.61 L443.20,427.24 L444.20,428.09 L445.20,429.51 L446.20,432.11 L447.20,431.94 L448.20,430.74 L449.20,431.15 L450.20,430.70 L451.20,431.37 L452.20,433.28 L453.20,434.21 L454.20,433.24 L455.20,431.96 L456.20,431.94 L457.20,432.97 L458.20,434.63 L459.20,435.24 L460.20,435.42 L461.20,434.97 L462.20,434.03 L463.20,434.61 L464.20,437.04" fill="none" stroke="#dd4426" stroke-width="0.65" stroke-opacity="0.45"/>
<path d="M392.20,428.10 L393.20,428.23 L394.20,426.40 L395.20,425.59 L396.20,426.08 L397.20,428.58 L398.20,431.41 L399.20,434.53 L400.20,441.09 L401.20,444.17 L402.20,447.00 L403.20,450.13 L404.20,454.22 L405.20,457.89 L406.20,455.87 L407.20,450.51 L408.20,442.45 L409.20,435.50 L410.20,430.88 L411.20,426.73 L412.20,421.24 L413.20,415.60 L414.20,410.32 L415.20,407.31 L416.20,409.70 L417.20,409.97 L418.20,410.99 L419.20,411.61 L420.20,413.75 L421.20,415.45 L422.20,416.56 L423.20,418.37 L424.20,418.66 L425.20,418.67 L426.20,419.24 L427.20,418.90 L428.20,417.58 L429.20,418.14 L430.20,419.29 L431.20,420.68 L432.20,421.47 L433.20,421.97 L434.20,420.47 L435.20,420.18 L436.20,419.18 L437.20,420.35 L438.20,421.26 L439.20,422.12 L440.20,423.04 L441.20,423.39 L442.20,423.07 L443.20,421.99 L444.20,421.91 L445.20,421.90 L446.20,422.02 L447.20,423.80 L448.20,425.62 L449.20,426.54 L450.20,426.96 L451.20,426.59 L452.20,423.94 L453.20,423.92 L454.20,424.22 L455.20,425.63 L456.20,427.42 L457.20,427.17 L458.20,428.50 L459.20,428.12 L460.20,427.92 L461.20,427.15 L462.20,426.82 L463.20,428.13 L464.20,429.07" fill="none" stroke="#dd4426" stroke-width="0.65" stroke-opacity="0.45"/>
<path d="M392.20,431.54 L393.20,430.79 L394.20,428.41 L395.20,429.31 L396.20,431.68 L397.20,434.76 L398.20,437.44 L399.20,442.53 L400.20,446.30 L401.20,449.51 L402.20,453.97 L403.20,457.52 L404.20,461.22 L405.20,458.69 L406.20,451.78 L407.20,445.15 L408.20,438.21 L409.20,433.85 L410.20,429.30 L411.20,424.84 L412.20,418.44 L413.20,413.78 L414.20,410.60 L415.20,412.45 L416.20,415.00 L417.20,416.64 L418.20,418.26 L419.20,419.10 L420.20,420.34 L421.20,419.85 L422.20,420.24 L423.20,421.22 L424.20,422.83 L425.20,423.45 L426.20,424.85 L427.20,425.67 L428.20,426.49 L429.20,425.77 L430.20,425.37 L431.20,425.08 L432.20,424.36 L433.20,424.39 L434.20,424.44 L435.20,424.92 L436.20,426.32 L437.20,426.82 L438.20,427.58 L439.20,428.50 L440.20,429.19 L441.20,428.27 L442.20,427.61 L443.20,427.55 L444.20,427.16 L445.20,426.55 L446.20,427.99 L447.20,428.91 L448.20,429.15 L449.20,430.28 L450.20,431.55 L451.20,431.86 L452.20,431.75 L453.20,431.91 L454.20,430.15 L455.20,430.21 L456.20,430.51 L457.20,430.76 L458.20,430.98 L459.20,431.45 L460.20,433.90 L461.20,434.83 L462.20,435.23 L463.20,435.63 L464.20,435.80" fill="none" stroke="#dd4426" stroke-width="0.65" stroke-opacity="0.45"/>
<path d="M392.20,435.15 L393.20,433.39 L394.20,433.21 L395.20,436.93 L396.20,440.52 L397.20,443.36 L398.20,448.45 L399.20,452.08 L400.20,453.93 L401.20,458.28 L402.20,461.91 L403.20,464.24 L404.20,461.82 L405.20,455.45 L406.20,448.32 L407.20,442.06 L408.20,438.71 L409.20,435.06 L410.20,429.20 L411.20,424.02 L412.20,419.42 L413.20,417.92 L414.20,420.58 L415.20,421.97 L416.20,422.91 L417.20,424.91 L418.20,426.13 L419.20,429.44 L420.20,431.17 L421.20,431.51 L422.20,430.97 L423.20,430.67 L424.20,431.38 L425.20,432.75 L426.20,434.11 L427.20,433.81 L428.20,433.47 L429.20,432.16 L430.20,432.08 L431.20,433.20 L432.20,434.59 L433.20,435.48 L434.20,435.25 L435.20,433.56 L436.20,433.14 L437.20,435.18 L438.20,436.53 L439.20,436.75 L440.20,436.68 L441.20,435.35 L442.20,435.01 L443.20,435.87 L444.20,436.75 L445.20,437.74 L446.20,438.99 L447.20,437.90 L448.20,436.54 L449.20,437.93 L450.20,438.90 L451.20,440.16 L452.20,440.90 L453.20,440.04 L454.20,438.92 L455.20,438.78 L456.20,439.79 L457.20,441.77 L458.20,442.22 L459.20,442.20 L460.20,441.32 L461.20,440.73 L462.20,442.22 L463.20,442.81 L464.20,444.58" fill="none" stroke="#dd4426" stroke-width="0.65" stroke-opacity="0.45"/>
<path d="M392.20,431.65 L393.20,431.97 L394.20,430.65 L395.20,429.89 L396.20,432.87 L397.20,434.37 L398.20,437.65 L399.20,442.40 L400.20,445.39 L401.20,448.90 L402.20,452.44 L403.20,455.52 L404.20,458.37 L405.20,456.98 L406.20,450.94 L407.20,444.80 L408.20,438.73 L409.20,434.70 L410.20,432.21 L411.20,426.74 L412.20,421.58 L413.20,416.78 L414.20,414.28 L415.20,415.31 L416.20,416.20 L417.20,417.07 L418.20,419.95 L419.20,421.75 L420.20,423.89 L421.20,425.38 L422.20,425.28 L423.20,425.67 L424.20,425.22 L425.20,424.33 L426.20,425.68 L427.20,425.52 L428.20,426.65 L429.20,428.11 L430.20,428.84 L431.20,427.61 L432.20,428.53 L433.20,427.84 L434.20,427.52 L435.20,427.23 L436.20,427.73 L437.20,426.87 L438.20,428.73 L439.20,430.25 L440.20,430.22 L441.20,431.22 L442.20,430.57 L443.20,429.89 L444.20,428.53 L445.20,428.06 L446.20,429.16 L447.20,430.26 L448.20,431.61 L449.20,433.07 L450.20,432.99 L451.20,432.56 L452.20,433.25 L453.20,432.12 L454.20,430.99 L455.20,431.27 L456.20,430.32 L457.20,432.68 L458.20,434.39 L459.20,435.62 L460.20,435.70 L461.20,435.52 L462.20,434.76 L463.20,434.10 L464.20,434.87" fill="none" stroke="#dd4426" stroke-width="0.65" stroke-opacity="0.45"/>
<path d="M392.20,434.22 L393.20,434.11 L394.20,433.38 L395.20,433.45 L396.20,435.28 L397.20,438.52 L398.20,441.62 L399.20,447.17 L400.20,451.97 L401.20,455.18 L402.20,459.20 L403.20,462.85 L404.20,465.58 L405.20,465.74 L406.20,460.91 L407.20,452.37 L408.20,444.98 L409.20,439.85 L410.20,436.23 L411.20,430.51 L412.20,424.55 L413.20,418.31 L414.20,414.57 L415.20,415.30 L416.20,416.51 L417.20,419.86 L418.20,421.36 L419.20,426.40 L420.20,427.09 L421.20,427.58 L422.20,426.71 L423.20,427.49 L424.20,429.99 L425.20,430.79 L426.20,431.54 L427.20,431.34 L428.20,429.63 L429.20,431.58 L430.20,431.24 L431.20,433.53 L432.20,433.26 L433.20,432.30 L434.20,431.28 L435.20,431.65 L436.20,433.65 L437.20,434.50 L438.20,434.22 L439.20,434.26 L440.20,431.74 L441.20,433.41 L442.20,434.45 L443.20,435.06 L444.20,434.82 L445.20,434.49 L446.20,434.57 L447.20,435.76 L448.20,436.91 L449.20,438.81 L450.20,438.13 L451.20,437.05 L452.20,436.36 L453.20,437.50 L454.20,438.07 L455.20,438.92 L456.20,440.21 L457.20,438.63 L458.20,438.33 L459.20,439.68 L460.20,441.21 L461.20,442.21 L462.20,442.67 L463.20,441.42 L464.20,440.30" fill="none" stroke="#dd4426" stroke-width="0.65" stroke-opacity="0.45"/>
<path d="M392.20,430.67 L393.20,430.60 L394.20,430.23 L395.20,429.41 L396.20,432.82 L397.20,434.94 L398.20,437.82 L399.20,442.58 L400.20,447.40 L401.20,449.14 L402.20,452.92 L403.20,456.20 L404.20,460.25 L405.20,460.96 L406.20,455.06 L407.20,448.22 L408.20,441.51 L409.20,435.79 L410.20,431.83 L411.20,427.14 L412.20,420.74 L413.20,415.37 L414.20,411.87 L415.20,413.54 L416.20,416.27 L417.20,418.39 L418.20,418.43 L419.20,420.45 L420.20,422.15 L421.20,421.35 L422.20,421.45 L423.20,423.36 L424.20,424.18 L425.20,425.64 L426.20,426.29 L427.20,427.75 L428.20,427.58 L429.20,426.54 L430.20,425.92 L431.20,425.60 L432.20,425.27 L433.20,425.87 L434.20,427.45 L435.20,427.78 L436.20,428.19 L437.20,429.78 L438.20,430.04 L439.20,428.46 L440.20,428.16 L441.20,427.47 L442.20,427.03 L443.20,427.57 L444.20,429.05 L445.20,429.34 L446.20,431.27 L447.20,433.01 L448.20,433.10 L449.20,430.62 L450.20,430.91 L451.20,430.06 L452.20,430.52 L453.20,430.65 L454.20,431.66 L455.20,432.94 L456.20,434.12 L457.20,434.72 L458.20,435.03 L459.20,434.91 L460.20,434.85 L461.20,433.95 L462.20,433.76 L463.20,434.73 L464.20,435.33" fill="none" stroke="#dd4426" stroke-width="0.65" stroke-opacity="0.45"/>
<path d="M392.20,431.46 L393.20,430.99 L394.20,431.57 L395.20,435.30 L396.20,437.11 L397.20,440.70 L398.20,446.34 L399.20,449.29 L400.20,452.06 L401.20,455.65 L402.20,459.48 L403.20,461.69 L404.20,458.45 L405.20,453.14 L406.20,445.63 L407.20,439.86 L408.20,435.00 L409.20,432.61 L410.20,425.60 L411.20,420.31 L412.20,415.13 L413.20,414.97 L414.20,416.68 L415.20,417.92 L416.20,419.59 L417.20,420.84 L418.20,422.87 L419.20,425.12 L420.20,426.58 L421.20,426.53 L422.20,426.50 L423.20,425.59 L424.20,426.03 L425.20,427.94 L426.20,430.30 L427.20,429.31 L428.20,429.63 L429.20,428.33 L430.20,428.01 L431.20,428.71 L432.20,430.40 L433.20,430.25 L434.20,431.00 L435.20,429.10 L436.20,429.17 L437.20,429.37 L438.20,430.86 L439.20,432.22 L440.20,432.10 L441.20,431.54 L442.20,431.37 L443.20,431.07 L444.20,431.54 L445.20,432.88 L446.20,434.31 L447.20,434.64 L448.20,433.47 L449.20,432.70 L450.20,433.45 L451.20,434.45 L452.20,435.82 L453.20,435.98 L454.20,435.43 L455.20,434.52 L456.20,433.89 L457.20,435.22 L458.20,436.40 L459.20,438.12 L460.20,437.57 L461.20,437.36 L462.20,437.02 L463.20,436.63 L464.20,438.34" fill="none" stroke="#dd4426" stroke-width="0.65" stroke-opacity="0.45"/>
<path d="M392.20,431.61 L393.20,430.76 L394.20,431.77 L395.20,435.19 L396.20,437.14 L397.20,441.15 L398.20,446.09 L399.20,449.55 L400.20,451.62 L401.20,454.90 L402.20,458.82 L403.20,460.02 L404.20,457.19 L405.20,450.93 L406.20,443.76 L407.20,438.19 L408.20,434.64 L409.20,431.18 L410.20,426.35 L411.20,421.60 L412.20,417.42 L413.20,416.21 L414.20,416.08 L415.20,418.86 L416.20,421.18 L417.20,422.81 L418.20,425.74 L419.20,426.37 L420.20,424.81 L421.20,424.45 L422.20,426.66 L423.20,428.75 L424.20,429.98 L425.20,429.27 L426.20,428.24 L427.20,427.84 L428.20,428.89 L429.20,430.28 L430.20,431.01 L431.20,430.04 L432.20,429.08 L433.20,428.74 L434.20,429.84 L435.20,432.04 L436.20,432.08 L437.20,431.83 L438.20,430.75 L439.20,429.62 L440.20,432.24 L441.20,432.25 L442.20,432.69 L443.20,432.15 L444.20,431.26 L445.20,431.65 L446.20,433.51 L447.20,434.79 L448.20,435.93 L449.20,433.60 L450.20,433.73 L451.20,432.57 L452.20,433.89 L453.20,436.93 L454.20,437.40 L455.20,436.01 L456.20,434.61 L457.20,434.62 L458.20,435.57 L459.20,437.72 L460.20,438.99 L461.20,438.24 L462.20,437.02 L463.20,436.44 L464.20,437.90" fill="none" stroke="#dd4426" stroke-width="0.65" stroke-opacity="0.45"/>
<path d="M392.20,432.44 L393.20,432.32 L394.20,430.97 L395.20,430.25 L396.20,432.17 L397.20,435.47 L398.20,438.32 L399.20,444.26 L400.20,449.73 L401.20,453.47 L402.20,457.34 L403.20,462.03 L404.20,465.89 L405.20,465.53 L406.20,458.20 L407.20,450.48 L408.20,442.16 L409.20,437.10 L410.20,434.12 L411.20,428.29 L412.20,421.75 L413.20,415.44 L414.20,409.69 L415.20,410.50 L416.20,411.69 L417.20,415.01 L418.20,417.09 L419.20,420.14 L420.20,423.90 L421.20,423.78 L422.20,423.21 L423.20,422.77 L424.20,422.90 L425.20,422.81 L426.20,425.09 L427.20,426.10 L428.20,427.67 L429.20,428.16 L430.20,428.23 L431.20,426.65 L432.20,426.10 L433.20,426.06 L434.20,426.83 L435.20,427.58 L436.20,429.15 L437.20,429.68 L438.20,430.12 L439.20,430.13 L440.20,428.53 L441.20,428.67 L442.20,428.34 L443.20,429.70 L444.20,430.91 L445.20,430.97 L446.20,432.02 L447.20,431.62 L448.20,432.02 L449.20,430.75 L450.20,431.56 L451.20,431.60 L452.20,432.93 L453.20,433.47 L454.20,433.79 L455.20,434.80 L456.20,434.51 L457.20,434.22 L458.20,434.10 L459.20,433.68 L460.20,435.23 L461.20,436.25 L462.20,438.33 L463.20,438.18 L464.20,438.49" fill="none" stroke="#dd4426" stroke-width="0.65" stroke-opacity="0.45"/>
<path d="M392.20,433.51 L393.20,432.82 L394.20,432.96 L395.20,431.87 L396.20,434.67 L397.20,436.67 L398.20,439.83 L399.20,444.16 L400.20,450.32 L401.20,452.88 L402.20,456.86 L403.20,461.45 L404.20,464.33 L405.20,463.93 L406.20,457.21 L407.20,451.72 L408.20,443.21 L409.20,437.79 L410.20,434.03 L411.20,429.48 L412.20,421.52 L413.20,416.07 L414.20,413.57 L415.20,413.96 L416.20,417.02 L417.20,418.67 L418.20,420.17 L419.20,420.94 L420.20,423.36 L421.20,424.49 L422.20,426.23 L423.20,426.85 L424.20,428.30 L425.20,427.53 L426.20,426.86 L427.20,427.38 L428.20,428.11 L429.20,429.49 L430.20,430.60 L431.20,430.82 L432.20,429.54 L433.20,429.32 L434.20,428.92 L435.20,429.27 L436.20,430.64 L437.20,432.56 L438.20,432.48 L439.20,431.23 L440.20,430.10 L441.20,431.14 L442.20,430.32 L443.20,431.84 L444.20,433.47 L445.20,433.66 L446.20,434.60 L447.20,432.59 L448.20,432.16 L449.20,433.26 L450.20,434.05 L451.20,435.39 L452.20,436.82 L453.20,436.49 L454.20,435.79 L455.20,434.55 L456.20,434.52 L457.20,436.02 L458.20,437.44 L459.20,438.84 L460.20,438.85 L461.20,437.85 L462.20,437.76 L463.20,437.84 L464.20,438.10" fill="none" stroke="#dd4426" stroke-width="0.65" stroke-opacity="0.45"/>
<path d="M392.20,433.49 L393.20,433.25 L394.20,432.25 L395.20,431.60 L396.20,433.99 L397.20,438.67 L398.20,440.43 L399.20,445.84 L400.20,450.78 L401.20,451.71 L402.20,456.00 L403.20,459.47 L404.20,464.18 L405.20,461.42 L406.20,456.77 L407.20,448.79 L408.20,442.59 L409.20,437.48 L410.20,433.50 L411.20,428.59 L412.20,422.71 L413.20,418.81 L414.20,416.39 L415.20,417.05 L416.20,418.89 L417.20,420.35 L418.20,421.34 L419.20,424.05 L420.20,426.72 L421.20,427.67 L422.20,428.57 L423.20,429.03 L424.20,428.32 L425.20,428.30 L426.20,427.58 L427.20,429.11 L428.20,430.59 L429.20,431.90 L430.20,432.00 L431.20,432.30 L432.20,432.41 L433.20,431.14 L434.20,430.33 L435.20,430.10 L436.20,431.75 L437.20,432.95 L438.20,433.24 L439.20,433.55 L440.20,432.44 L441.20,432.88 L442.20,431.23 L443.20,432.94 L444.20,432.75 L445.20,434.00 L446.20,435.52 L447.20,436.23 L448.20,436.05 L449.20,434.92 L450.20,434.08 L451.20,434.18 L452.20,435.06 L453.20,435.88 L454.20,437.58 L455.20,438.59 L456.20,438.31 L457.20,437.70 L458.20,437.36 L459.20,436.40 L460.20,437.59 L461.20,438.79 L462.20,440.70 L463.20,441.48 L464.20,440.84" fill="none" stroke="#dd4426" stroke-width="0.65" stroke-opacity="0.45"/>
<path d="M392.20,434.73 L393.20,434.71 L394.20,433.16 L395.20,433.26 L396.20,434.78 L397.20,437.94 L398.20,439.92 L399.20,446.00 L400.20,450.41 L401.20,452.46 L402.20,455.82 L403.20,459.24 L404.20,462.72 L405.20,463.02 L406.20,456.85 L407.20,449.92 L408.20,443.89 L409.20,438.30 L410.20,435.76 L411.20,430.19 L412.20,424.22 L413.20,420.52 L414.20,417.14 L415.20,417.49 L416.20,419.64 L417.20,421.05 L418.20,421.91 L419.20,425.68 L420.20,428.12 L421.20,430.12 L422.20,428.70 L423.20,429.08 L424.20,428.39 L425.20,429.19 L426.20,431.08 L427.20,432.61 L428.20,433.28 L429.20,432.36 L430.20,431.46 L431.20,430.59 L432.20,430.33 L433.20,432.74 L434.20,433.27 L435.20,433.99 L436.20,433.17 L437.20,432.47 L438.20,432.41 L439.20,433.23 L440.20,434.37 L441.20,435.81 L442.20,435.22 L443.20,433.93 L444.20,433.88 L445.20,433.48 L446.20,435.34 L447.20,437.60 L448.20,437.68 L449.20,437.82 L450.20,437.08 L451.20,435.80 L452.20,435.76 L453.20,437.80 L454.20,439.11 L455.20,438.98 L456.20,439.20 L457.20,437.88 L458.20,437.47 L459.20,437.66 L460.20,439.54 L461.20,441.59 L462.20,441.08 L463.20,441.24 L464.20,440.43" fill="none" stroke="#dd4426" stroke-width="0.65" stroke-opacity="0.45"/>
<path d="M392.20,428.80 L393.20,428.55 L394.20,425.72 L395.20,427.00 L396.20,429.98 L397.20,433.43 L398.20,437.09 L399.20,443.61 L400.20,447.73 L401.20,452.27 L402.20,455.70 L403.20,460.31 L404.20,462.94 L405.20,459.08 L406.20,451.88 L407.20,444.01 L408.20,435.84 L409.20,431.72 L410.20,426.89 L411.20,420.70 L412.20,412.33 L413.20,406.45 L414.20,403.07 L415.20,406.58 L416.20,408.91 L417.20,411.20 L418.20,412.13 L419.20,413.23 L420.20,414.56 L421.20,415.31 L422.20,415.52 L423.20,417.38 L424.20,419.18 L425.20,419.04 L426.20,419.17 L427.20,418.25 L428.20,418.51 L429.20,418.15 L430.20,419.40 L431.20,421.33 L432.20,421.93 L433.20,421.49 L434.20,420.23 L435.20,420.20 L436.20,419.96 L437.20,421.69 L438.20,422.03 L439.20,422.79 L440.20,422.86 L441.20,423.21 L442.20,422.59 L443.20,422.03 L444.20,422.44 L445.20,423.88 L446.20,426.11 L447.20,426.20 L448.20,426.86 L449.20,425.62 L450.20,424.77 L451.20,424.55 L452.20,425.47 L453.20,427.08 L454.20,427.54 L455.20,428.42 L456.20,428.04 L457.20,427.23 L458.20,427.34 L459.20,427.59 L460.20,429.53 L461.20,430.98 L462.20,432.08 L463.20,431.92 L464.20,430.66" fill="none" stroke="#dd4426" stroke-width="0.65" stroke-opacity="0.45"/>
<path d="M392.20,431.73 L393.20,430.03 L394.20,428.53 L395.20,430.65 L396.20,434.37 L397.20,436.57 L398.20,442.07 L399.20,447.46 L400.20,450.33 L401.20,452.27 L402.20,456.07 L403.20,459.87 L404.20,459.77 L405.20,455.66 L406.20,448.28 L407.20,442.30 L408.20,436.39 L409.20,433.04 L410.20,427.92 L411.20,421.60 L412.20,415.40 L413.20,411.92 L414.20,412.85 L415.20,414.93 L416.20,416.52 L417.20,419.06 L418.20,419.95 L419.20,421.91 L420.20,421.98 L421.20,421.20 L422.20,423.12 L423.20,423.85 L424.20,425.58 L425.20,426.09 L426.20,426.01 L427.20,426.42 L428.20,424.85 L429.20,424.38 L430.20,425.76 L431.20,426.86 L432.20,427.63 L433.20,428.64 L434.20,428.54 L435.20,428.45 L436.20,426.12 L437.20,426.47 L438.20,426.98 L439.20,427.70 L440.20,429.45 L441.20,429.92 L442.20,429.66 L443.20,430.65 L444.20,428.17 L445.20,428.61 L446.20,429.28 L447.20,430.83 L448.20,431.54 L449.20,432.67 L450.20,432.72 L451.20,433.52 L452.20,431.74 L453.20,431.34 L454.20,430.26 L455.20,431.32 L456.20,432.18 L457.20,434.10 L458.20,435.65 L459.20,435.24 L460.20,435.74 L461.20,434.51 L462.20,434.92 L463.20,434.01 L464.20,435.11" fill="none" stroke="#dd4426" stroke-width="0.65" stroke-opacity="0.45"/>
<path d="M392.20,425.30 L393.20,424.95 L394.20,423.42 L395.20,422.60 L396.20,426.27 L397.20,430.03 L398.20,433.68 L399.20,439.20 L400.20,443.81 L401.20,445.15 L402.20,449.46 L403.20,453.55 L404.20,456.58 L405.20,454.53 L406.20,448.15 L407.20,440.61 L408.20,433.13 L409.20,428.54 L410.20,424.87 L411.20,417.61 L412.20,411.47 L413.20,405.52 L414.20,402.93 L415.20,404.61 L416.20,407.77 L417.20,408.23 L418.20,409.91 L419.20,410.95 L420.20,411.05 L421.20,411.02 L422.20,411.36 L423.20,412.78 L424.20,414.52 L425.20,415.64 L426.20,415.54 L427.20,415.58 L428.20,415.22 L429.20,414.28 L430.20,414.18 L431.20,414.83 L432.20,415.84 L433.20,417.76 L434.20,417.72 L435.20,417.98 L436.20,417.66 L437.20,417.37 L438.20,416.39 L439.20,416.26 L440.20,416.27 L441.20,417.69 L442.20,419.07 L443.20,419.99 L444.20,419.47 L445.20,419.91 L446.20,418.26 L447.20,419.04 L448.20,418.87 L449.20,419.60 L450.20,420.35 L451.20,421.91 L452.20,422.46 L453.20,422.65 L454.20,422.27 L455.20,421.35 L456.20,420.60 L457.20,421.93 L458.20,422.31 L459.20,424.35 L460.20,424.98 L461.20,426.41 L462.20,425.38 L463.20,425.03 L464.20,425.18" fill="none" stroke="#dd4426" stroke-width="0.65" stroke-opacity="0.45"/>
<path d="M392.20,427.13 L393.20,427.60 L394.20,426.28 L395.20,425.81 L396.20,424.95 L397.20,428.38 L398.20,431.62 L399.20,435.26 L400.20,438.98 L401.20,442.67 L402.20,444.87 L403.20,449.04 L404.20,452.68 L405.20,456.00 L406.20,455.03 L407.20,448.84 L408.20,441.58 L409.20,436.02 L410.20,431.14 L411.20,426.21 L412.20,422.49 L413.20,415.73 L414.20,409.55 L415.20,405.41 L416.20,406.85 L417.20,409.90 L418.20,410.73 L419.20,412.01 L420.20,415.15 L421.20,416.25 L422.20,417.57 L423.20,417.26 L424.20,416.63 L425.20,416.82 L426.20,416.06 L427.20,416.83 L428.20,417.70 L429.20,418.72 L430.20,420.51 L431.20,420.66 L432.20,420.37 L433.20,420.80 L434.20,420.17 L435.20,420.16 L436.20,418.71 L437.20,419.71 L438.20,419.24 L439.20,420.57 L440.20,421.69 L441.20,422.45 L442.20,422.14 L443.20,422.85 L444.20,422.24 L445.20,422.48 L446.20,422.02 L447.20,422.34 L448.20,421.93 L449.20,422.59 L450.20,422.95 L451.20,423.94 L452.20,425.22 L453.20,425.62 L454.20,425.92 L455.20,425.77 L456.20,426.04 L457.20,424.91 L458.20,425.88 L459.20,425.42 L460.20,425.52 L461.20,426.85 L462.20,428.62 L463.20,428.17 L464.20,429.92" fill="none" stroke="#dd4426" stroke-width="0.65" stroke-opacity="0.45"/>
<path d="M620.00,433.53 L621.00,432.75 L622.00,431.84 L623.00,433.21 L624.00,437.40 L625.00,441.14 L626.00,445.57 L627.00,452.37 L628.00,459.50 L629.00,463.14 L630.00,467.40 L631.00,474.99 L632.00,480.03 L633.00,479.63 L634.00,474.04 L635.00,467.25 L636.00,461.83 L637.00,460.39 L638.00,455.24 L639.00,451.18 L640.00,444.16 L641.00,439.15 L642.00,436.90 L643.00,434.79 L644.00,434.75 L645.00,432.38 L646.00,429.71 L647.00,426.49 L648.00,425.10 L649.00,424.17 L650.00,424.98 L651.00,424.72 L652.00,421.74 L653.00,420.69 L654.00,418.27 L655.00,417.33 L656.00,418.21 L657.00,418.88 L658.00,418.04 L659.00,415.69 L660.00,415.00 L661.00,415.27 L662.00,416.63 L663.00,416.67 L664.00,416.51 L665.00,414.14 L666.00,413.29 L667.00,414.55 L668.00,416.33 L669.00,417.65 L670.00,418.49 L671.00,417.76 L672.00,417.46 L673.00,418.14 L674.00,419.42 L675.00,421.15 L676.00,421.09 L677.00,420.40 L678.00,418.80 L679.00,420.29 L680.00,421.66 L681.00,423.82 L682.00,423.77 L683.00,424.07 L684.00,423.02 L685.00,422.10 L686.00,424.47 L687.00,426.53 L688.00,426.77 L689.00,427.62 L690.00,427.35" fill="none" stroke="#2f3d9c" stroke-width="0.65" stroke-opacity="0.45"/>
<path d="M620.00,430.20 L621.00,430.59 L622.00,433.15 L623.00,435.77 L624.00,438.82 L625.00,442.99 L626.00,451.46 L627.00,457.61 L628.00,461.77 L629.00,466.44 L630.00,472.56 L631.00,477.14 L632.00,476.04 L633.00,471.26 L634.00,464.87 L635.00,459.52 L636.00,456.70 L637.00,453.09 L638.00,447.76 L639.00,442.31 L640.00,437.76 L641.00,435.66 L642.00,432.53 L643.00,431.51 L644.00,430.33 L645.00,428.14 L646.00,426.00 L647.00,422.89 L648.00,420.99 L649.00,420.37 L650.00,422.03 L651.00,420.93 L652.00,418.20 L653.00,414.59 L654.00,414.78 L655.00,414.66 L656.00,415.67 L657.00,415.15 L658.00,413.41 L659.00,412.90 L660.00,412.51 L661.00,414.10 L662.00,413.75 L663.00,413.35 L664.00,412.44 L665.00,411.22 L666.00,411.76 L667.00,413.61 L668.00,415.04 L669.00,415.13 L670.00,414.68 L671.00,414.45 L672.00,416.17 L673.00,418.07 L674.00,418.49 L675.00,418.31 L676.00,417.09 L677.00,416.88 L678.00,418.59 L679.00,420.60 L680.00,420.99 L681.00,420.03 L682.00,419.84 L683.00,419.92 L684.00,422.02 L685.00,423.11 L686.00,423.82 L687.00,423.12 L688.00,422.29 L689.00,423.38 L690.00,424.63" fill="none" stroke="#2f3d9c" stroke-width="0.65" stroke-opacity="0.45"/>
<path d="M620.00,432.55 L621.00,432.77 L622.00,431.60 L623.00,436.81 L624.00,440.20 L625.00,443.50 L626.00,449.55 L627.00,455.45 L628.00,461.40 L629.00,464.23 L630.00,470.46 L631.00,476.67 L632.00,478.30 L633.00,474.09 L634.00,467.84 L635.00,462.49 L636.00,459.93 L637.00,455.36 L638.00,451.22 L639.00,445.03 L640.00,440.57 L641.00,435.89 L642.00,434.37 L643.00,433.28 L644.00,432.73 L645.00,430.43 L646.00,428.98 L647.00,425.80 L648.00,423.66 L649.00,422.80 L650.00,421.40 L651.00,421.09 L652.00,420.59 L653.00,420.00 L654.00,418.94 L655.00,418.68 L656.00,419.52 L657.00,417.70 L658.00,417.07 L659.00,415.94 L660.00,414.89 L661.00,414.19 L662.00,413.82 L663.00,414.10 L664.00,413.96 L665.00,416.34 L666.00,416.34 L667.00,416.29 L668.00,417.30 L669.00,417.28 L670.00,416.14 L671.00,416.54 L672.00,417.76 L673.00,417.99 L674.00,418.88 L675.00,420.19 L676.00,420.77 L677.00,421.61 L678.00,423.06 L679.00,422.41 L680.00,422.34 L681.00,422.43 L682.00,422.02 L683.00,421.58 L684.00,423.52 L685.00,423.62 L686.00,425.79 L687.00,426.50 L688.00,426.84 L689.00,428.45 L690.00,427.56" fill="none" stroke="#2f3d9c" stroke-width="0.65" stroke-opacity="0.45"/>
<path d="M620.00,431.85 L621.00,430.89 L622.00,431.66 L623.00,434.64 L624.00,438.73 L625.00,442.24 L626.00,447.73 L627.00,454.37 L628.00,458.79 L629.00,461.62 L630.00,467.43 L631.00,473.79 L632.00,475.29 L633.00,470.49 L634.00,465.20 L635.00,460.30 L636.00,458.15 L637.00,453.93 L638.00,449.36 L639.00,444.58 L640.00,439.24 L641.00,435.39 L642.00,433.54 L643.00,433.15 L644.00,431.74 L645.00,430.44 L646.00,427.19 L647.00,424.54 L648.00,422.60 L649.00,422.28 L650.00,423.44 L651.00,422.49 L652.00,420.77 L653.00,418.45 L654.00,417.00 L655.00,417.31 L656.00,417.36 L657.00,417.43 L658.00,416.14 L659.00,414.40 L660.00,413.81 L661.00,415.80 L662.00,415.69 L663.00,416.62 L664.00,415.00 L665.00,413.85 L666.00,413.02 L667.00,415.30 L668.00,416.11 L669.00,417.22 L670.00,416.11 L671.00,415.82 L672.00,416.37 L673.00,418.65 L674.00,420.32 L675.00,420.03 L676.00,419.26 L677.00,418.14 L678.00,418.43 L679.00,419.83 L680.00,422.39 L681.00,423.45 L682.00,422.17 L683.00,421.75 L684.00,421.12 L685.00,422.65 L686.00,424.66 L687.00,426.08 L688.00,424.91 L689.00,424.68 L690.00,424.28" fill="none" stroke="#2f3d9c" stroke-width="0.65" stroke-opacity="0.45"/>
<path d="M620.00,431.90 L621.00,430.78 L622.00,431.18 L623.00,430.76 L624.00,431.79 L625.00,436.00 L626.00,439.16 L627.00,443.39 L628.00,450.04 L629.00,455.21 L630.00,457.93 L631.00,462.53 L632.00,467.25 L633.00,469.15 L634.00,467.33 L635.00,461.83 L636.00,458.34 L637.00,454.81 L638.00,452.22 L639.00,447.77 L640.00,442.52 L641.00,438.00 L642.00,434.49 L643.00,433.39 L644.00,432.52 L645.00,431.49 L646.00,430.27 L647.00,428.71 L648.00,425.71 L649.00,423.65 L650.00,421.80 L651.00,420.42 L652.00,420.91 L653.00,421.03 L654.00,420.64 L655.00,420.22 L656.00,418.35 L657.00,417.67 L658.00,416.05 L659.00,416.30 L660.00,416.02 L661.00,415.87 L662.00,417.05 L663.00,417.51 L664.00,416.86 L665.00,416.10 L666.00,414.64 L667.00,414.28 L668.00,414.93 L669.00,415.61 L670.00,417.76 L671.00,417.68 L672.00,419.18 L673.00,419.55 L674.00,419.94 L675.00,419.13 L676.00,418.60 L677.00,419.05 L678.00,420.42 L679.00,421.45 L680.00,422.30 L681.00,423.15 L682.00,422.69 L683.00,422.37 L684.00,422.06 L685.00,421.50 L686.00,422.39 L687.00,423.43 L688.00,424.49 L689.00,425.53 L690.00,426.84" fill="none" stroke="#2f3d9c" stroke-width="0.65" stroke-opacity="0.45"/>
<path d="M620.00,432.67 L621.00,433.22 L622.00,432.65 L623.00,434.16 L624.00,437.64 L625.00,441.32 L626.00,445.44 L627.00,452.58 L628.00,458.59 L629.00,462.29 L630.00,467.03 L631.00,472.84 L632.00,477.74 L633.00,476.88 L634.00,472.95 L635.00,466.66 L636.00,462.24 L637.00,459.75 L638.00,455.00 L639.00,449.61 L640.00,444.06 L641.00,440.20 L642.00,436.02 L643.00,435.24 L644.00,432.91 L645.00,430.76 L646.00,429.48 L647.00,427.90 L648.00,426.77 L649.00,427.10 L650.00,426.06 L651.00,424.97 L652.00,424.33 L653.00,422.10 L654.00,420.96 L655.00,418.03 L656.00,417.93 L657.00,416.23 L658.00,416.43 L659.00,417.17 L660.00,417.01 L661.00,417.09 L662.00,417.80 L663.00,417.70 L664.00,416.65 L665.00,417.14 L666.00,415.72 L667.00,415.49 L668.00,415.61 L669.00,416.04 L670.00,417.19 L671.00,416.78 L672.00,418.98 L673.00,420.61 L674.00,421.35 L675.00,421.88 L676.00,421.70 L677.00,422.41 L678.00,421.95 L679.00,422.11 L680.00,421.54 L681.00,422.04 L682.00,422.55 L683.00,422.64 L684.00,424.62 L685.00,425.07 L686.00,425.64 L687.00,427.14 L688.00,428.09 L689.00,428.29 L690.00,427.98" fill="none" stroke="#2f3d9c" stroke-width="0.65" stroke-opacity="0.45"/>
<path d="M620.00,433.41 L621.00,433.28 L622.00,432.58 L623.00,431.40 L624.00,433.39 L625.00,437.61 L626.00,439.44 L627.00,442.58 L628.00,448.69 L629.00,455.03 L630.00,457.91 L631.00,462.73 L632.00,467.95 L633.00,470.76 L634.00,471.45 L635.00,467.04 L636.00,461.56 L637.00,459.08 L638.00,455.72 L639.00,451.55 L640.00,447.18 L641.00,440.96 L642.00,438.84 L643.00,437.02 L644.00,435.78 L645.00,432.82 L646.00,430.58 L647.00,429.03 L648.00,428.63 L649.00,427.53 L650.00,425.08 L651.00,423.89 L652.00,422.32 L653.00,422.26 L654.00,422.74 L655.00,422.56 L656.00,421.39 L657.00,419.19 L658.00,417.60 L659.00,417.71 L660.00,419.09 L661.00,419.72 L662.00,419.20 L663.00,418.28 L664.00,416.47 L665.00,416.19 L666.00,416.55 L667.00,417.97 L668.00,417.47 L669.00,418.37 L670.00,417.81 L671.00,417.72 L672.00,419.44 L673.00,421.58 L674.00,422.13 L675.00,420.32 L676.00,420.04 L677.00,420.13 L678.00,421.15 L679.00,424.06 L680.00,424.48 L681.00,423.35 L682.00,422.81 L683.00,422.73 L684.00,424.11 L685.00,425.77 L686.00,427.06 L687.00,426.07 L688.00,424.99 L689.00,424.92 L690.00,426.68" fill="none" stroke="#2f3d9c" stroke-width="0.65" stroke-opacity="0.45"/>
<path d="M620.00,431.83 L621.00,431.06 L622.00,431.84 L623.00,434.30 L624.00,436.76 L625.00,440.99 L626.00,445.88 L627.00,451.71 L628.00,455.86 L629.00,459.09 L630.00,464.37 L631.00,468.61 L632.00,470.25 L633.00,467.64 L634.00,462.73 L635.00,457.30 L636.00,454.71 L637.00,451.36 L638.00,446.87 L639.00,442.21 L640.00,439.23 L641.00,435.19 L642.00,433.06 L643.00,432.18 L644.00,430.51 L645.00,428.96 L646.00,427.33 L647.00,426.57 L648.00,424.62 L649.00,422.96 L650.00,420.40 L651.00,420.27 L652.00,421.33 L653.00,420.43 L654.00,421.30 L655.00,419.16 L656.00,416.33 L657.00,416.48 L658.00,415.67 L659.00,417.25 L660.00,417.78 L661.00,417.64 L662.00,416.59 L663.00,414.58 L664.00,414.02 L665.00,414.61 L666.00,417.10 L667.00,417.38 L668.00,418.16 L669.00,417.68 L670.00,417.38 L671.00,416.90 L672.00,418.34 L673.00,419.50 L674.00,422.12 L675.00,420.15 L676.00,420.06 L677.00,419.15 L678.00,419.80 L679.00,420.97 L680.00,422.74 L681.00,424.33 L682.00,424.07 L683.00,422.67 L684.00,422.03 L685.00,422.75 L686.00,424.22 L687.00,426.07 L688.00,426.89 L689.00,426.31 L690.00,424.45" fill="none" stroke="#2f3d9c" stroke-width="0.65" stroke-opacity="0.45"/>
<path d="M620.00,433.22 L621.00,433.43 L622.00,433.04 L623.00,433.77 L624.00,436.33 L625.00,439.78 L626.00,443.97 L627.00,448.84 L628.00,455.22 L629.00,460.01 L630.00,464.06 L631.00,469.18 L632.00,473.49 L633.00,472.18 L634.00,468.74 L635.00,462.93 L636.00,457.68 L637.00,455.80 L638.00,452.04 L639.00,447.50 L640.00,442.72 L641.00,440.43 L642.00,436.51 L643.00,436.72 L644.00,434.82 L645.00,432.41 L646.00,430.19 L647.00,427.98 L648.00,425.43 L649.00,424.53 L650.00,425.10 L651.00,425.13 L652.00,424.78 L653.00,423.52 L654.00,422.32 L655.00,422.34 L656.00,420.79 L657.00,419.01 L658.00,418.17 L659.00,417.46 L660.00,417.85 L661.00,418.52 L662.00,418.84 L663.00,418.67 L664.00,419.22 L665.00,418.55 L666.00,418.31 L667.00,417.41 L668.00,416.49 L669.00,417.05 L670.00,418.04 L671.00,418.49 L672.00,420.31 L673.00,421.09 L674.00,422.53 L675.00,422.78 L676.00,423.73 L677.00,422.69 L678.00,422.54 L679.00,422.80 L680.00,423.02 L681.00,422.31 L682.00,424.38 L683.00,424.35 L684.00,425.48 L685.00,426.40 L686.00,427.84 L687.00,427.16 L688.00,427.82 L689.00,427.45 L690.00,426.87" fill="none" stroke="#2f3d9c" stroke-width="0.65" stroke-opacity="0.45"/>
<path d="M620.00,433.92 L621.00,433.28 L622.00,432.20 L623.00,434.53 L624.00,438.51 L625.00,442.21 L626.00,446.93 L627.00,454.04 L628.00,461.26 L629.00,465.07 L630.00,469.69 L631.00,476.56 L632.00,482.59 L633.00,481.64 L634.00,475.93 L635.00,469.69 L636.00,463.61 L637.00,461.72 L638.00,457.93 L639.00,451.57 L640.00,446.65 L641.00,440.55 L642.00,437.65 L643.00,436.80 L644.00,436.19 L645.00,434.37 L646.00,431.56 L647.00,427.58 L648.00,425.16 L649.00,425.36 L650.00,426.30 L651.00,425.63 L652.00,423.96 L653.00,422.01 L654.00,419.85 L655.00,418.47 L656.00,419.32 L657.00,419.41 L658.00,419.03 L659.00,417.51 L660.00,416.41 L661.00,415.83 L662.00,416.76 L663.00,417.50 L664.00,417.33 L665.00,415.98 L666.00,415.13 L667.00,415.16 L668.00,416.97 L669.00,419.30 L670.00,419.20 L671.00,419.28 L672.00,419.37 L673.00,418.43 L674.00,419.53 L675.00,420.53 L676.00,422.68 L677.00,422.03 L678.00,422.49 L679.00,421.12 L680.00,422.14 L681.00,424.17 L682.00,425.17 L683.00,426.28 L684.00,426.74 L685.00,424.16 L686.00,424.76 L687.00,425.10 L688.00,428.11 L689.00,429.24 L690.00,428.81" fill="none" stroke="#2f3d9c" stroke-width="0.65" stroke-opacity="0.45"/>
<path d="M620.00,430.35 L621.00,430.53 L622.00,430.77 L623.00,431.01 L624.00,434.74 L625.00,438.66 L626.00,440.61 L627.00,447.23 L628.00,454.66 L629.00,459.31 L630.00,464.44 L631.00,470.46 L632.00,474.95 L633.00,477.54 L634.00,473.57 L635.00,467.64 L636.00,462.09 L637.00,459.41 L638.00,455.63 L639.00,449.83 L640.00,444.31 L641.00,439.65 L642.00,434.24 L643.00,433.68 L644.00,432.46 L645.00,431.97 L646.00,428.03 L647.00,426.07 L648.00,423.02 L649.00,420.67 L650.00,420.57 L651.00,421.28 L652.00,421.80 L653.00,419.78 L654.00,417.98 L655.00,415.72 L656.00,413.95 L657.00,413.78 L658.00,414.51 L659.00,415.96 L660.00,415.54 L661.00,414.19 L662.00,411.98 L663.00,411.21 L664.00,411.74 L665.00,412.16 L666.00,412.56 L667.00,413.11 L668.00,413.76 L669.00,413.27 L670.00,412.94 L671.00,414.10 L672.00,414.25 L673.00,415.88 L674.00,417.79 L675.00,418.10 L676.00,416.51 L677.00,416.34 L678.00,416.62 L679.00,417.53 L680.00,419.14 L681.00,420.78 L682.00,421.34 L683.00,421.23 L684.00,420.02 L685.00,419.48 L686.00,420.28 L687.00,422.20 L688.00,424.22 L689.00,424.38 L690.00,424.35" fill="none" stroke="#2f3d9c" stroke-width="0.65" stroke-opacity="0.45"/>
<path d="M620.00,434.78 L621.00,432.50 L622.00,432.08 L623.00,433.62 L624.00,437.90 L625.00,441.89 L626.00,444.33 L627.00,449.63 L628.00,456.13 L629.00,461.75 L630.00,465.67 L631.00,471.05 L632.00,475.85 L633.00,477.69 L634.00,472.82 L635.00,467.66 L636.00,463.08 L637.00,460.00 L638.00,455.99 L639.00,450.67 L640.00,445.71 L641.00,441.34 L642.00,439.24 L643.00,437.24 L644.00,435.72 L645.00,433.15 L646.00,431.46 L647.00,428.87 L648.00,429.82 L649.00,428.35 L650.00,426.03 L651.00,424.26 L652.00,423.42 L653.00,423.11 L654.00,425.21 L655.00,422.72 L656.00,420.89 L657.00,418.26 L658.00,418.26 L659.00,418.38 L660.00,420.37 L661.00,419.79 L662.00,418.70 L663.00,417.34 L664.00,417.39 L665.00,417.73 L666.00,418.43 L667.00,419.15 L668.00,418.94 L669.00,418.76 L670.00,417.24 L671.00,419.48 L672.00,421.61 L673.00,422.60 L674.00,422.32 L675.00,421.72 L676.00,421.38 L677.00,423.17 L678.00,424.00 L679.00,424.73 L680.00,423.90 L681.00,423.53 L682.00,424.41 L683.00,425.56 L684.00,428.14 L685.00,427.70 L686.00,426.79 L687.00,426.64 L688.00,425.68 L689.00,428.48 L690.00,430.10" fill="none" stroke="#2f3d9c" stroke-width="0.65" stroke-opacity="0.45"/>
<path d="M620.00,429.59 L621.00,429.46 L622.00,429.71 L623.00,432.75 L624.00,437.55 L625.00,440.14 L626.00,444.62 L627.00,451.40 L628.00,456.32 L629.00,460.21 L630.00,465.93 L631.00,472.14 L632.00,475.61 L633.00,471.91 L634.00,464.89 L635.00,459.49 L636.00,456.20 L637.00,453.39 L638.00,449.31 L639.00,443.48 L640.00,439.09 L641.00,434.74 L642.00,432.30 L643.00,430.69 L644.00,429.06 L645.00,426.50 L646.00,424.31 L647.00,423.50 L648.00,422.77 L649.00,422.59 L650.00,419.72 L651.00,419.67 L652.00,417.14 L653.00,416.22 L654.00,415.74 L655.00,414.26 L656.00,415.52 L657.00,415.17 L658.00,414.42 L659.00,413.48 L660.00,411.77 L661.00,411.00 L662.00,411.90 L663.00,412.52 L664.00,413.28 L665.00,412.93 L666.00,412.85 L667.00,410.86 L668.00,411.95 L669.00,412.62 L670.00,413.28 L671.00,414.80 L672.00,416.61 L673.00,417.04 L674.00,417.04 L675.00,417.22 L676.00,416.58 L677.00,414.98 L678.00,416.38 L679.00,418.28 L680.00,420.08 L681.00,420.25 L682.00,420.75 L683.00,420.79 L684.00,420.28 L685.00,419.07 L686.00,420.02 L687.00,421.44 L688.00,423.69 L689.00,424.55 L690.00,424.81" fill="none" stroke="#2f3d9c" stroke-width="0.65" stroke-opacity="0.45"/>
<path d="M620.00,436.53 L621.00,436.42 L622.00,435.31 L623.00,433.91 L624.00,437.12 L625.00,441.54 L626.00,444.36 L627.00,448.68 L628.00,455.10 L629.00,462.24 L630.00,465.48 L631.00,470.93 L632.00,477.22 L633.00,481.86 L634.00,479.05 L635.00,474.35 L636.00,467.92 L637.00,463.30 L638.00,462.47 L639.00,457.82 L640.00,453.00 L641.00,446.35 L642.00,442.45 L643.00,439.30 L644.00,440.36 L645.00,439.36 L646.00,437.27 L647.00,433.88 L648.00,432.18 L649.00,429.94 L650.00,428.75 L651.00,429.33 L652.00,429.43 L653.00,429.27 L654.00,427.38 L655.00,424.49 L656.00,423.37 L657.00,422.60 L658.00,422.76 L659.00,423.45 L660.00,423.42 L661.00,423.88 L662.00,422.35 L663.00,420.56 L664.00,419.96 L665.00,421.36 L666.00,421.57 L667.00,421.81 L668.00,420.96 L669.00,420.86 L670.00,420.64 L671.00,422.39 L672.00,423.83 L673.00,425.00 L674.00,425.85 L675.00,425.54 L676.00,424.67 L677.00,424.31 L678.00,425.63 L679.00,426.07 L680.00,428.45 L681.00,429.13 L682.00,429.15 L683.00,428.05 L684.00,427.53 L685.00,429.01 L686.00,430.63 L687.00,431.21 L688.00,432.66 L689.00,433.02 L690.00,430.96" fill="none" stroke="#2f3d9c" stroke-width="0.65" stroke-opacity="0.45"/>
<path d="M620.00,434.22 L621.00,433.94 L622.00,433.62 L623.00,434.45 L624.00,437.68 L625.00,440.07 L626.00,443.33 L627.00,448.84 L628.00,454.12 L629.00,457.05 L630.00,460.69 L631.00,465.56 L632.00,469.44 L633.00,469.43 L634.00,466.75 L635.00,461.46 L636.00,458.91 L637.00,455.91 L638.00,452.36 L639.00,448.40 L640.00,443.33 L641.00,439.01 L642.00,437.41 L643.00,436.08 L644.00,436.53 L645.00,435.17 L646.00,433.46 L647.00,430.94 L648.00,429.62 L649.00,427.37 L650.00,426.70 L651.00,428.54 L652.00,427.42 L653.00,427.54 L654.00,426.19 L655.00,424.61 L656.00,423.01 L657.00,421.40 L658.00,421.19 L659.00,421.36 L660.00,421.91 L661.00,422.46 L662.00,422.92 L663.00,421.57 L664.00,421.81 L665.00,419.33 L666.00,419.65 L667.00,419.94 L668.00,420.61 L669.00,422.31 L670.00,424.51 L671.00,424.60 L672.00,424.47 L673.00,424.45 L674.00,423.36 L675.00,422.52 L676.00,423.27 L677.00,424.89 L678.00,425.87 L679.00,427.48 L680.00,428.23 L681.00,427.04 L682.00,426.76 L683.00,426.48 L684.00,426.09 L685.00,427.37 L686.00,427.81 L687.00,429.10 L688.00,431.41 L689.00,430.69 L690.00,430.51" fill="none" stroke="#2f3d9c" stroke-width="0.65" stroke-opacity="0.45"/>
<path d="M620.00,434.87 L621.00,434.15 L622.00,435.31 L623.00,438.01 L624.00,440.82 L625.00,443.78 L626.00,450.64 L627.00,456.67 L628.00,461.27 L629.00,465.64 L630.00,470.96 L631.00,477.02 L632.00,479.06 L633.00,474.41 L634.00,467.75 L635.00,463.49 L636.00,460.21 L637.00,456.52 L638.00,452.20 L639.00,447.12 L640.00,442.69 L641.00,439.87 L642.00,438.60 L643.00,437.41 L644.00,435.66 L645.00,432.26 L646.00,430.31 L647.00,428.24 L648.00,428.48 L649.00,427.92 L650.00,427.95 L651.00,427.21 L652.00,427.35 L653.00,425.19 L654.00,423.34 L655.00,422.06 L656.00,421.54 L657.00,420.16 L658.00,419.78 L659.00,419.86 L660.00,420.97 L661.00,420.64 L662.00,421.08 L663.00,421.57 L664.00,421.18 L665.00,420.20 L666.00,419.98 L667.00,419.64 L668.00,418.66 L669.00,420.17 L670.00,420.93 L671.00,422.46 L672.00,423.81 L673.00,424.98 L674.00,425.76 L675.00,424.92 L676.00,424.77 L677.00,424.51 L678.00,424.53 L679.00,424.04 L680.00,425.41 L681.00,426.74 L682.00,427.32 L683.00,427.88 L684.00,429.83 L685.00,430.64 L686.00,430.40 L687.00,430.77 L688.00,430.36 L689.00,429.59 L690.00,429.53" fill="none" stroke="#2f3d9c" stroke-width="0.65" stroke-opacity="0.45"/>
<path d="M620.00,436.54 L621.00,436.96 L622.00,437.72 L623.00,440.53 L624.00,444.46 L625.00,447.49 L626.00,452.65 L627.00,460.76 L628.00,465.85 L629.00,469.78 L630.00,474.97 L631.00,480.77 L632.00,480.73 L633.00,476.62 L634.00,470.78 L635.00,466.74 L636.00,463.34 L637.00,460.50 L638.00,454.17 L639.00,448.69 L640.00,443.85 L641.00,441.11 L642.00,440.73 L643.00,439.86 L644.00,438.82 L645.00,436.50 L646.00,433.52 L647.00,431.37 L648.00,430.42 L649.00,430.98 L650.00,431.80 L651.00,430.36 L652.00,429.56 L653.00,427.33 L654.00,424.36 L655.00,424.05 L656.00,424.64 L657.00,424.54 L658.00,424.83 L659.00,424.01 L660.00,423.77 L661.00,422.20 L662.00,421.37 L663.00,421.93 L664.00,421.88 L665.00,423.36 L666.00,424.84 L667.00,424.53 L668.00,422.96 L669.00,422.16 L670.00,423.73 L671.00,425.20 L672.00,426.84 L673.00,427.42 L674.00,428.24 L675.00,426.76 L676.00,425.95 L677.00,426.12 L678.00,427.61 L679.00,429.31 L680.00,430.31 L681.00,431.68 L682.00,431.75 L683.00,429.60 L684.00,430.12 L685.00,430.12 L686.00,430.76 L687.00,433.74 L688.00,434.21 L689.00,434.57 L690.00,433.67" fill="none" stroke="#2f3d9c" stroke-width="0.65" stroke-opacity="0.45"/>
<path d="M620.00,427.71 L621.00,427.07 L622.00,429.78 L623.00,433.91 L624.00,436.65 L625.00,440.86 L626.00,446.88 L627.00,451.88 L628.00,454.17 L629.00,459.14 L630.00,465.05 L631.00,469.23 L632.00,466.75 L633.00,461.31 L634.00,456.80 L635.00,452.84 L636.00,450.75 L637.00,445.69 L638.00,441.05 L639.00,436.52 L640.00,432.81 L641.00,431.01 L642.00,430.22 L643.00,428.05 L644.00,425.96 L645.00,422.21 L646.00,420.40 L647.00,419.95 L648.00,418.20 L649.00,417.80 L650.00,417.75 L651.00,416.51 L652.00,414.59 L653.00,413.39 L654.00,412.04 L655.00,410.33 L656.00,410.44 L657.00,412.18 L658.00,412.74 L659.00,411.98 L660.00,411.38 L661.00,409.54 L662.00,409.22 L663.00,408.23 L664.00,408.81 L665.00,410.14 L666.00,410.59 L667.00,411.86 L668.00,411.88 L669.00,411.79 L670.00,410.67 L671.00,410.18 L672.00,411.65 L673.00,413.46 L674.00,414.54 L675.00,415.45 L676.00,416.05 L677.00,415.40 L678.00,414.85 L679.00,414.53 L680.00,414.61 L681.00,416.25 L682.00,417.60 L683.00,418.24 L684.00,419.00 L685.00,418.44 L686.00,417.72 L687.00,417.35 L688.00,417.42 L689.00,419.99 L690.00,420.13" fill="none" stroke="#2f3d9c" stroke-width="0.65" stroke-opacity="0.45"/>
<path d="M620.00,431.38 L621.00,431.14 L622.00,432.33 L623.00,432.57 L624.00,436.09 L625.00,438.58 L626.00,441.44 L627.00,447.43 L628.00,452.27 L629.00,455.42 L630.00,459.52 L631.00,464.30 L632.00,468.17 L633.00,467.42 L634.00,464.31 L635.00,459.22 L636.00,455.03 L637.00,453.65 L638.00,450.57 L639.00,445.67 L640.00,440.68 L641.00,437.25 L642.00,434.11 L643.00,432.53 L644.00,432.08 L645.00,431.17 L646.00,429.52 L647.00,427.98 L648.00,426.49 L649.00,426.48 L650.00,424.98 L651.00,422.98 L652.00,422.55 L653.00,420.58 L654.00,419.08 L655.00,418.46 L656.00,418.89 L657.00,419.24 L658.00,419.62 L659.00,419.43 L660.00,418.47 L661.00,418.66 L662.00,418.65 L663.00,417.05 L664.00,416.04 L665.00,415.34 L666.00,414.74 L667.00,416.74 L668.00,415.94 L669.00,417.49 L670.00,419.42 L671.00,420.57 L672.00,421.56 L673.00,421.05 L674.00,421.40 L675.00,421.92 L676.00,420.21 L677.00,420.47 L678.00,420.02 L679.00,420.05 L680.00,421.24 L681.00,422.29 L682.00,424.27 L683.00,425.26 L684.00,426.52 L685.00,425.35 L686.00,425.62 L687.00,425.92 L688.00,425.19 L689.00,424.82 L690.00,425.14" fill="none" stroke="#2f3d9c" stroke-width="0.65" stroke-opacity="0.45"/>
<path d="M620.00,434.81 L621.00,434.46 L622.00,434.38 L623.00,434.75 L624.00,436.19 L625.00,440.69 L626.00,442.79 L627.00,448.83 L628.00,455.76 L629.00,460.30 L630.00,462.70 L631.00,467.90 L632.00,472.69 L633.00,475.52 L634.00,474.00 L635.00,467.53 L636.00,461.59 L637.00,459.65 L638.00,455.39 L639.00,452.28 L640.00,448.48 L641.00,444.18 L642.00,440.31 L643.00,437.42 L644.00,435.53 L645.00,433.72 L646.00,433.36 L647.00,432.79 L648.00,430.78 L649.00,429.46 L650.00,426.54 L651.00,426.10 L652.00,427.09 L653.00,426.62 L654.00,426.42 L655.00,424.20 L656.00,421.43 L657.00,421.10 L658.00,421.09 L659.00,422.15 L660.00,423.01 L661.00,421.79 L662.00,419.90 L663.00,419.52 L664.00,420.00 L665.00,420.41 L666.00,420.93 L667.00,421.02 L668.00,420.36 L669.00,420.21 L670.00,419.56 L671.00,422.82 L672.00,423.99 L673.00,424.46 L674.00,425.13 L675.00,423.56 L676.00,423.74 L677.00,423.89 L678.00,426.33 L679.00,426.04 L680.00,426.37 L681.00,425.35 L682.00,426.23 L683.00,426.79 L684.00,427.62 L685.00,429.87 L686.00,429.55 L687.00,428.86 L688.00,429.52 L689.00,427.90 L690.00,430.82" fill="none" stroke="#2f3d9c" stroke-width="0.65" stroke-opacity="0.45"/>
<path d="M620.00,432.09 L621.00,430.91 L622.00,431.36 L623.00,431.65 L624.00,434.38 L625.00,437.82 L626.00,441.36 L627.00,447.07 L628.00,454.11 L629.00,459.31 L630.00,462.40 L631.00,467.68 L632.00,473.18 L633.00,476.64 L634.00,473.25 L635.00,467.26 L636.00,461.53 L637.00,458.45 L638.00,455.04 L639.00,449.51 L640.00,445.04 L641.00,441.01 L642.00,437.70 L643.00,434.87 L644.00,433.24 L645.00,430.59 L646.00,428.74 L647.00,426.67 L648.00,426.37 L649.00,425.38 L650.00,423.28 L651.00,421.89 L652.00,420.41 L653.00,419.29 L654.00,419.12 L655.00,419.53 L656.00,418.84 L657.00,416.70 L658.00,415.35 L659.00,414.64 L660.00,414.47 L661.00,416.02 L662.00,416.20 L663.00,415.53 L664.00,415.30 L665.00,413.92 L666.00,412.27 L667.00,413.70 L668.00,415.12 L669.00,415.94 L670.00,417.55 L671.00,416.28 L672.00,416.46 L673.00,416.31 L674.00,417.44 L675.00,419.89 L676.00,420.10 L677.00,420.39 L678.00,418.58 L679.00,419.54 L680.00,420.42 L681.00,421.04 L682.00,422.05 L683.00,422.83 L684.00,423.12 L685.00,421.34 L686.00,421.77 L687.00,423.05 L688.00,424.45 L689.00,426.48 L690.00,426.56" fill="none" stroke="#2f3d9c" stroke-width="0.65" stroke-opacity="0.45"/>
<path d="M620.00,431.75 L621.00,429.93 L622.00,430.99 L623.00,434.32 L624.00,438.35 L625.00,440.93 L626.00,446.38 L627.00,452.59 L628.00,457.71 L629.00,461.66 L630.00,466.89 L631.00,472.49 L632.00,474.05 L633.00,470.90 L634.00,465.23 L635.00,459.87 L636.00,458.19 L637.00,454.85 L638.00,449.06 L639.00,444.08 L640.00,438.62 L641.00,434.66 L642.00,433.03 L643.00,433.39 L644.00,432.28 L645.00,429.68 L646.00,428.06 L647.00,425.38 L648.00,422.42 L649.00,421.61 L650.00,420.96 L651.00,420.12 L652.00,420.17 L653.00,420.19 L654.00,418.96 L655.00,417.53 L656.00,416.69 L657.00,416.28 L658.00,414.66 L659.00,413.88 L660.00,414.07 L661.00,415.55 L662.00,415.07 L663.00,415.26 L664.00,415.10 L665.00,414.53 L666.00,413.74 L667.00,413.56 L668.00,413.84 L669.00,415.23 L670.00,416.21 L671.00,416.65 L672.00,418.57 L673.00,418.85 L674.00,418.67 L675.00,418.43 L676.00,417.69 L677.00,417.95 L678.00,418.27 L679.00,420.33 L680.00,421.07 L681.00,421.90 L682.00,423.60 L683.00,423.10 L684.00,423.11 L685.00,421.61 L686.00,421.33 L687.00,421.76 L688.00,423.04 L689.00,423.98 L690.00,426.83" fill="none" stroke="#2f3d9c" stroke-width="0.65" stroke-opacity="0.45"/>
<path d="M620.00,435.44 L621.00,435.25 L622.00,435.33 L623.00,439.41 L624.00,441.86 L625.00,446.51 L626.00,453.35 L627.00,458.62 L628.00,462.33 L629.00,465.63 L630.00,471.37 L631.00,475.80 L632.00,476.52 L633.00,472.54 L634.00,466.63 L635.00,461.13 L636.00,459.01 L637.00,456.09 L638.00,451.76 L639.00,446.62 L640.00,441.50 L641.00,438.56 L642.00,438.28 L643.00,437.93 L644.00,436.35 L645.00,435.00 L646.00,432.86 L647.00,429.39 L648.00,428.33 L649.00,429.42 L650.00,430.58 L651.00,428.94 L652.00,426.83 L653.00,423.96 L654.00,423.93 L655.00,423.35 L656.00,424.82 L657.00,424.16 L658.00,423.54 L659.00,421.85 L660.00,420.80 L661.00,423.11 L662.00,424.28 L663.00,422.90 L664.00,421.48 L665.00,419.97 L666.00,420.58 L667.00,422.36 L668.00,424.34 L669.00,424.54 L670.00,423.67 L671.00,422.62 L672.00,425.09 L673.00,426.04 L674.00,427.49 L675.00,426.80 L676.00,425.84 L677.00,425.28 L678.00,425.93 L679.00,428.36 L680.00,428.85 L681.00,429.92 L682.00,428.98 L683.00,428.14 L684.00,428.88 L685.00,430.37 L686.00,431.92 L687.00,432.47 L688.00,430.53 L689.00,431.17 L690.00,431.15" fill="none" stroke="#2f3d9c" stroke-width="0.65" stroke-opacity="0.45"/>
<path d="M620.00,433.45 L621.00,432.78 L622.00,433.48 L623.00,437.42 L624.00,439.45 L625.00,443.44 L626.00,448.95 L627.00,455.55 L628.00,460.60 L629.00,465.00 L630.00,469.06 L631.00,473.15 L632.00,475.16 L633.00,471.31 L634.00,466.26 L635.00,461.32 L636.00,459.16 L637.00,455.65 L638.00,450.62 L639.00,445.30 L640.00,440.42 L641.00,438.55 L642.00,437.39 L643.00,435.90 L644.00,433.21 L645.00,431.37 L646.00,428.68 L647.00,428.35 L648.00,428.37 L649.00,427.06 L650.00,425.86 L651.00,424.19 L652.00,423.62 L653.00,421.23 L654.00,422.36 L655.00,422.24 L656.00,420.71 L657.00,419.43 L658.00,417.47 L659.00,418.51 L660.00,419.16 L661.00,419.38 L662.00,420.18 L663.00,418.24 L664.00,417.05 L665.00,417.50 L666.00,416.59 L667.00,418.08 L668.00,420.60 L669.00,420.92 L670.00,421.27 L671.00,420.40 L672.00,420.22 L673.00,420.77 L674.00,422.60 L675.00,423.60 L676.00,424.15 L677.00,422.39 L678.00,422.41 L679.00,422.49 L680.00,425.08 L681.00,427.36 L682.00,426.97 L683.00,426.25 L684.00,424.95 L685.00,425.16 L686.00,426.09 L687.00,427.66 L688.00,430.21 L689.00,429.70 L690.00,429.06" fill="none" stroke="#2f3d9c" stroke-width="0.65" stroke-opacity="0.45"/>
<path d="M620.00,433.35 L621.00,432.96 L622.00,432.59 L623.00,433.60 L624.00,436.40 L625.00,440.09 L626.00,443.31 L627.00,450.17 L628.00,457.57 L629.00,460.65 L630.00,465.73 L631.00,471.97 L632.00,476.27 L633.00,476.65 L634.00,471.05 L635.00,464.82 L636.00,461.47 L637.00,458.39 L638.00,455.26 L639.00,449.60 L640.00,444.43 L641.00,441.05 L642.00,438.72 L643.00,437.39 L644.00,435.26 L645.00,433.60 L646.00,431.33 L647.00,428.25 L648.00,426.26 L649.00,425.49 L650.00,424.51 L651.00,424.32 L652.00,423.91 L653.00,423.80 L654.00,423.02 L655.00,422.23 L656.00,421.25 L657.00,419.43 L658.00,418.90 L659.00,417.62 L660.00,417.27 L661.00,416.16 L662.00,416.80 L663.00,416.96 L664.00,417.88 L665.00,417.93 L666.00,417.84 L667.00,418.87 L668.00,417.52 L669.00,418.53 L670.00,419.21 L671.00,418.29 L672.00,418.66 L673.00,418.96 L674.00,420.39 L675.00,420.84 L676.00,422.51 L677.00,423.35 L678.00,423.38 L679.00,425.25 L680.00,424.05 L681.00,424.41 L682.00,424.63 L683.00,423.18 L684.00,424.02 L685.00,424.82 L686.00,425.70 L687.00,426.37 L688.00,427.87 L689.00,429.58 L690.00,429.05" fill="none" stroke="#2f3d9c" stroke-width="0.65" stroke-opacity="0.45"/>
<path d="M620.00,431.58 L621.00,430.75 L622.00,432.18 L623.00,435.07 L624.00,438.25 L625.00,442.00 L626.00,447.56 L627.00,455.77 L628.00,460.02 L629.00,464.46 L630.00,470.93 L631.00,476.44 L632.00,479.96 L633.00,475.56 L634.00,468.74 L635.00,462.71 L636.00,459.20 L637.00,456.29 L638.00,450.75 L639.00,444.88 L640.00,440.18 L641.00,436.71 L642.00,434.47 L643.00,434.40 L644.00,431.85 L645.00,429.53 L646.00,426.71 L647.00,424.26 L648.00,422.55 L649.00,420.29 L650.00,420.23 L651.00,419.60 L652.00,419.59 L653.00,419.22 L654.00,418.34 L655.00,417.37 L656.00,415.92 L657.00,415.50 L658.00,414.00 L659.00,413.91 L660.00,412.74 L661.00,412.30 L662.00,413.42 L663.00,414.05 L664.00,413.57 L665.00,414.21 L666.00,414.11 L667.00,413.99 L668.00,414.40 L669.00,414.14 L670.00,414.64 L671.00,414.36 L672.00,415.85 L673.00,417.18 L674.00,417.89 L675.00,418.56 L676.00,419.77 L677.00,420.39 L678.00,419.53 L679.00,420.05 L680.00,420.71 L681.00,419.86 L682.00,419.97 L683.00,420.91 L684.00,421.73 L685.00,423.44 L686.00,423.69 L687.00,424.47 L688.00,425.47 L689.00,426.30 L690.00,425.36" fill="none" stroke="#2f3d9c" stroke-width="0.65" stroke-opacity="0.45"/>
<path d="M620.00,434.32 L621.00,433.94 L622.00,433.36 L623.00,436.49 L624.00,440.52 L625.00,442.86 L626.00,447.45 L627.00,454.62 L628.00,460.13 L629.00,463.35 L630.00,468.88 L631.00,475.23 L632.00,479.16 L633.00,474.93 L634.00,470.16 L635.00,463.79 L636.00,461.17 L637.00,457.99 L638.00,453.70 L639.00,448.95 L640.00,443.35 L641.00,439.07 L642.00,436.00 L643.00,436.23 L644.00,434.48 L645.00,434.26 L646.00,432.47 L647.00,430.14 L648.00,428.04 L649.00,425.85 L650.00,425.16 L651.00,425.15 L652.00,424.94 L653.00,425.36 L654.00,422.68 L655.00,421.55 L656.00,419.04 L657.00,418.14 L658.00,420.05 L659.00,420.57 L660.00,421.00 L661.00,420.16 L662.00,419.89 L663.00,417.30 L664.00,417.25 L665.00,417.80 L666.00,419.53 L667.00,420.11 L668.00,420.86 L669.00,420.02 L670.00,418.96 L671.00,419.48 L672.00,421.39 L673.00,421.97 L674.00,423.20 L675.00,424.73 L676.00,423.41 L677.00,423.04 L678.00,422.71 L679.00,423.22 L680.00,424.33 L681.00,427.30 L682.00,428.12 L683.00,427.61 L684.00,426.74 L685.00,425.79 L686.00,426.89 L687.00,427.25 L688.00,428.43 L689.00,430.59 L690.00,430.85" fill="none" stroke="#2f3d9c" stroke-width="0.65" stroke-opacity="0.45"/>
<path d="M620.00,433.74 L621.00,433.04 L622.00,433.91 L623.00,437.37 L624.00,440.98 L625.00,444.39 L626.00,452.06 L627.00,458.39 L628.00,462.50 L629.00,467.51 L630.00,471.93 L631.00,477.27 L632.00,476.61 L633.00,471.27 L634.00,466.22 L635.00,463.02 L636.00,459.57 L637.00,454.82 L638.00,449.80 L639.00,444.57 L640.00,440.35 L641.00,437.21 L642.00,434.75 L643.00,434.55 L644.00,432.54 L645.00,432.22 L646.00,430.16 L647.00,427.97 L648.00,425.30 L649.00,423.54 L650.00,422.62 L651.00,422.51 L652.00,422.93 L653.00,423.07 L654.00,420.87 L655.00,420.70 L656.00,419.13 L657.00,417.42 L658.00,416.57 L659.00,417.25 L660.00,416.38 L661.00,417.42 L662.00,418.43 L663.00,418.96 L664.00,417.96 L665.00,416.51 L666.00,415.09 L667.00,415.91 L668.00,417.37 L669.00,418.29 L670.00,420.78 L671.00,421.27 L672.00,421.56 L673.00,420.74 L674.00,420.62 L675.00,419.63 L676.00,420.37 L677.00,422.07 L678.00,423.38 L679.00,425.85 L680.00,424.74 L681.00,424.99 L682.00,424.25 L683.00,423.66 L684.00,425.25 L685.00,424.15 L686.00,426.71 L687.00,427.97 L688.00,428.93 L689.00,428.80 L690.00,428.69" fill="none" stroke="#2f3d9c" stroke-width="0.65" stroke-opacity="0.45"/>
<path d="M620.00,433.41 L621.00,431.69 L622.00,431.56 L623.00,433.56 L624.00,437.51 L625.00,440.40 L626.00,445.11 L627.00,452.03 L628.00,458.20 L629.00,460.98 L630.00,466.30 L631.00,471.55 L632.00,475.86 L633.00,472.83 L634.00,468.53 L635.00,463.03 L636.00,460.11 L637.00,456.92 L638.00,453.72 L639.00,447.28 L640.00,441.24 L641.00,437.09 L642.00,434.24 L643.00,433.51 L644.00,433.47 L645.00,431.61 L646.00,429.22 L647.00,428.73 L648.00,425.85 L649.00,424.59 L650.00,423.29 L651.00,420.85 L652.00,419.52 L653.00,419.87 L654.00,419.83 L655.00,419.33 L656.00,419.63 L657.00,418.24 L658.00,417.28 L659.00,416.41 L660.00,415.02 L661.00,414.60 L662.00,414.75 L663.00,415.85 L664.00,417.00 L665.00,416.52 L666.00,417.04 L667.00,415.75 L668.00,415.80 L669.00,416.15 L670.00,414.77 L671.00,416.55 L672.00,418.04 L673.00,420.41 L674.00,421.01 L675.00,422.02 L676.00,420.11 L677.00,420.83 L678.00,420.08 L679.00,420.23 L680.00,421.13 L681.00,422.24 L682.00,422.80 L683.00,424.85 L684.00,425.68 L685.00,424.57 L686.00,424.39 L687.00,424.85 L688.00,423.88 L689.00,424.97 L690.00,425.99" fill="none" stroke="#2f3d9c" stroke-width="0.65" stroke-opacity="0.45"/>
<path d="M620.00,431.70 L621.00,431.76 L622.00,432.77 L623.00,435.91 L624.00,439.53 L625.00,444.57 L626.00,450.87 L627.00,456.76 L628.00,459.04 L629.00,464.65 L630.00,469.85 L631.00,474.38 L632.00,472.68 L633.00,467.35 L634.00,461.03 L635.00,457.93 L636.00,454.68 L637.00,450.78 L638.00,444.92 L639.00,441.33 L640.00,438.04 L641.00,435.67 L642.00,433.45 L643.00,431.90 L644.00,429.80 L645.00,427.96 L646.00,427.30 L647.00,425.39 L648.00,422.20 L649.00,421.35 L650.00,420.07 L651.00,421.52 L652.00,421.53 L653.00,419.93 L654.00,417.71 L655.00,416.51 L656.00,416.43 L657.00,415.01 L658.00,416.60 L659.00,417.37 L660.00,417.41 L661.00,416.03 L662.00,413.77 L663.00,413.55 L664.00,414.22 L665.00,416.31 L666.00,416.56 L667.00,417.53 L668.00,416.24 L669.00,415.60 L670.00,416.60 L671.00,419.49 L672.00,419.73 L673.00,419.90 L674.00,419.32 L675.00,418.52 L676.00,417.87 L677.00,420.40 L678.00,421.39 L679.00,423.26 L680.00,421.77 L681.00,421.93 L682.00,421.15 L683.00,422.40 L684.00,423.96 L685.00,424.13 L686.00,425.41 L687.00,425.71 L688.00,424.91 L689.00,424.81 L690.00,425.22" fill="none" stroke="#2f3d9c" stroke-width="0.65" stroke-opacity="0.45"/>
<path d="M620.00,437.98 L621.00,435.74 L622.00,433.72 L623.00,437.11 L624.00,441.84 L625.00,442.85 L626.00,447.30 L627.00,452.39 L628.00,457.24 L629.00,460.21 L630.00,463.34 L631.00,467.44 L632.00,471.04 L633.00,466.56 L634.00,460.16 L635.00,452.58 L636.00,447.10 L637.00,443.84 L638.00,438.91 L639.00,432.56 L640.00,426.81 L641.00,422.19 L642.00,419.68 L643.00,420.17 L644.00,420.21 L645.00,421.84 L646.00,423.22 L647.00,424.39 L648.00,424.96 L649.00,424.52 L650.00,424.05 L651.00,424.79 L652.00,426.84 L653.00,428.34 L654.00,427.98 L655.00,427.02 L656.00,426.07 L657.00,428.00 L658.00,430.39 L659.00,431.40 L660.00,431.95 L661.00,430.31 L662.00,430.74 L663.00,432.37 L664.00,434.01 L665.00,434.95 L666.00,434.27 L667.00,433.00 L668.00,432.71 L669.00,434.07 L670.00,435.93 L671.00,435.94 L672.00,435.99 L673.00,434.45 L674.00,434.94 L675.00,436.00 L676.00,438.10 L677.00,438.25 L678.00,437.30 L679.00,435.91 L680.00,436.35 L681.00,438.36 L682.00,438.29 L683.00,439.51 L684.00,438.35 L685.00,437.09 L686.00,436.98 L687.00,439.70 L688.00,440.43 L689.00,440.80 L690.00,439.01" fill="none" stroke="#dd4426" stroke-width="0.65" stroke-opacity="0.45"/>
<path d="M620.00,434.60 L621.00,432.28 L622.00,430.94 L623.00,434.31 L624.00,438.66 L625.00,441.02 L626.00,444.37 L627.00,449.98 L628.00,453.56 L629.00,455.97 L630.00,461.29 L631.00,464.57 L632.00,468.19 L633.00,464.09 L634.00,456.89 L635.00,449.31 L636.00,443.63 L637.00,439.96 L638.00,434.35 L639.00,428.24 L640.00,422.69 L641.00,417.67 L642.00,415.46 L643.00,416.60 L644.00,416.86 L645.00,416.76 L646.00,417.15 L647.00,418.59 L648.00,418.26 L649.00,418.32 L650.00,420.25 L651.00,421.21 L652.00,422.65 L653.00,423.05 L654.00,421.96 L655.00,421.53 L656.00,420.80 L657.00,422.04 L658.00,422.20 L659.00,424.06 L660.00,426.78 L661.00,426.75 L662.00,428.08 L663.00,428.17 L664.00,428.06 L665.00,427.52 L666.00,427.59 L667.00,427.39 L668.00,428.27 L669.00,428.66 L670.00,430.55 L671.00,430.59 L672.00,431.94 L673.00,431.09 L674.00,430.97 L675.00,429.87 L676.00,430.13 L677.00,430.55 L678.00,431.65 L679.00,432.37 L680.00,432.98 L681.00,433.43 L682.00,433.10 L683.00,432.37 L684.00,431.57 L685.00,431.08 L686.00,432.70 L687.00,432.25 L688.00,433.12 L689.00,435.04 L690.00,435.34" fill="none" stroke="#dd4426" stroke-width="0.65" stroke-opacity="0.45"/>
<path d="M620.00,436.26 L621.00,436.10 L622.00,433.38 L623.00,432.67 L624.00,435.24 L625.00,437.73 L626.00,442.00 L627.00,445.25 L628.00,449.11 L629.00,454.61 L630.00,457.34 L631.00,461.53 L632.00,465.31 L633.00,468.77 L634.00,465.28 L635.00,458.23 L636.00,451.08 L637.00,444.70 L638.00,442.20 L639.00,436.22 L640.00,430.03 L641.00,423.12 L642.00,419.82 L643.00,416.79 L644.00,418.45 L645.00,418.12 L646.00,417.84 L647.00,418.60 L648.00,420.09 L649.00,423.15 L650.00,422.75 L651.00,422.96 L652.00,420.78 L653.00,420.83 L654.00,422.71 L655.00,423.48 L656.00,425.82 L657.00,424.91 L658.00,423.93 L659.00,424.63 L660.00,424.99 L661.00,427.04 L662.00,427.82 L663.00,428.33 L664.00,428.34 L665.00,427.17 L666.00,429.18 L667.00,430.77 L668.00,431.75 L669.00,430.83 L670.00,430.20 L671.00,429.24 L672.00,430.69 L673.00,432.44 L674.00,433.39 L675.00,433.81 L676.00,433.01 L677.00,432.30 L678.00,431.73 L679.00,433.00 L680.00,435.12 L681.00,435.32 L682.00,434.41 L683.00,433.11 L684.00,433.32 L685.00,434.38 L686.00,435.44 L687.00,437.09 L688.00,436.13 L689.00,434.37 L690.00,434.05" fill="none" stroke="#dd4426" stroke-width="0.65" stroke-opacity="0.45"/>
<path d="M620.00,434.15 L621.00,432.47 L622.00,431.92 L623.00,435.45 L624.00,438.16 L625.00,439.76 L626.00,444.53 L627.00,448.37 L628.00,452.77 L629.00,454.19 L630.00,458.56 L631.00,461.24 L632.00,462.66 L633.00,457.86 L634.00,451.33 L635.00,446.15 L636.00,442.37 L637.00,438.99 L638.00,433.90 L639.00,427.20 L640.00,423.19 L641.00,418.60 L642.00,418.60 L643.00,418.60 L644.00,419.20 L645.00,418.37 L646.00,419.79 L647.00,420.62 L648.00,423.65 L649.00,423.61 L650.00,423.36 L651.00,422.26 L652.00,421.64 L653.00,422.77 L654.00,424.16 L655.00,424.32 L656.00,424.68 L657.00,424.32 L658.00,424.50 L659.00,424.21 L660.00,426.69 L661.00,428.20 L662.00,429.63 L663.00,429.24 L664.00,427.55 L665.00,427.18 L666.00,429.16 L667.00,430.48 L668.00,431.07 L669.00,431.38 L670.00,430.11 L671.00,429.57 L672.00,429.54 L673.00,431.35 L674.00,433.34 L675.00,433.78 L676.00,433.03 L677.00,431.40 L678.00,431.31 L679.00,431.41 L680.00,432.88 L681.00,434.07 L682.00,433.36 L683.00,432.89 L684.00,431.16 L685.00,432.85 L686.00,433.74 L687.00,434.87 L688.00,434.88 L689.00,434.19 L690.00,433.09" fill="none" stroke="#dd4426" stroke-width="0.65" stroke-opacity="0.45"/>
<path d="M620.00,434.33 L621.00,432.87 L622.00,430.88 L623.00,430.21 L624.00,432.21 L625.00,436.10 L626.00,438.70 L627.00,442.11 L628.00,447.83 L629.00,451.22 L630.00,453.15 L631.00,455.66 L632.00,460.17 L633.00,463.81 L634.00,460.60 L635.00,454.70 L636.00,447.26 L637.00,441.99 L638.00,437.96 L639.00,433.30 L640.00,428.05 L641.00,422.73 L642.00,417.40 L643.00,415.30 L644.00,415.63 L645.00,415.73 L646.00,415.59 L647.00,416.30 L648.00,417.40 L649.00,418.82 L650.00,419.95 L651.00,419.26 L652.00,419.54 L653.00,419.77 L654.00,418.07 L655.00,418.69 L656.00,420.22 L657.00,422.05 L658.00,422.59 L659.00,422.56 L660.00,423.42 L661.00,421.36 L662.00,422.26 L663.00,423.44 L664.00,424.36 L665.00,427.47 L666.00,428.37 L667.00,426.39 L668.00,426.00 L669.00,425.41 L670.00,425.98 L671.00,426.60 L672.00,428.39 L673.00,429.49 L674.00,429.55 L675.00,429.13 L676.00,428.90 L677.00,427.90 L678.00,428.47 L679.00,429.23 L680.00,430.75 L681.00,431.85 L682.00,431.00 L683.00,429.92 L684.00,428.94 L685.00,429.48 L686.00,429.32 L687.00,431.13 L688.00,433.22 L689.00,432.64 L690.00,432.90" fill="none" stroke="#dd4426" stroke-width="0.65" stroke-opacity="0.45"/>
<path d="M620.00,433.27 L621.00,433.91 L622.00,437.77 L623.00,441.48 L624.00,443.17 L625.00,446.64 L626.00,452.31 L627.00,454.35 L628.00,457.44 L629.00,463.67 L630.00,465.80 L631.00,464.41 L632.00,459.48 L633.00,452.16 L634.00,446.11 L635.00,442.20 L636.00,438.59 L637.00,433.81 L638.00,427.36 L639.00,421.64 L640.00,418.13 L641.00,417.56 L642.00,418.95 L643.00,419.33 L644.00,420.27 L645.00,421.79 L646.00,423.66 L647.00,424.22 L648.00,423.30 L649.00,421.85 L650.00,422.84 L651.00,422.48 L652.00,424.08 L653.00,424.77 L654.00,426.42 L655.00,426.79 L656.00,426.58 L657.00,426.04 L658.00,426.42 L659.00,426.96 L660.00,427.29 L661.00,428.51 L662.00,431.21 L663.00,432.91 L664.00,431.44 L665.00,430.97 L666.00,429.85 L667.00,429.49 L668.00,431.24 L669.00,430.98 L670.00,433.20 L671.00,433.76 L672.00,434.64 L673.00,434.64 L674.00,433.24 L675.00,432.49 L676.00,433.22 L677.00,433.33 L678.00,433.75 L679.00,436.20 L680.00,435.73 L681.00,435.72 L682.00,435.84 L683.00,434.53 L684.00,434.10 L685.00,435.32 L686.00,435.26 L687.00,436.03 L688.00,436.87 L689.00,437.25 L690.00,436.43" fill="none" stroke="#dd4426" stroke-width="0.65" stroke-opacity="0.45"/>
<path d="M620.00,433.86 L621.00,431.65 L622.00,431.28 L623.00,436.68 L624.00,440.29 L625.00,442.67 L626.00,447.27 L627.00,451.93 L628.00,456.77 L629.00,458.68 L630.00,463.88 L631.00,467.93 L632.00,468.32 L633.00,463.45 L634.00,455.69 L635.00,448.15 L636.00,443.07 L637.00,438.98 L638.00,432.64 L639.00,425.95 L640.00,419.35 L641.00,414.57 L642.00,414.42 L643.00,415.74 L644.00,416.75 L645.00,417.07 L646.00,417.51 L647.00,417.57 L648.00,416.95 L649.00,418.23 L650.00,418.84 L651.00,420.63 L652.00,422.88 L653.00,422.65 L654.00,420.78 L655.00,420.51 L656.00,421.45 L657.00,420.90 L658.00,421.56 L659.00,423.09 L660.00,425.60 L661.00,426.78 L662.00,427.96 L663.00,427.91 L664.00,427.62 L665.00,426.81 L666.00,426.43 L667.00,427.62 L668.00,429.09 L669.00,429.28 L670.00,430.67 L671.00,432.17 L672.00,430.61 L673.00,430.06 L674.00,430.29 L675.00,430.33 L676.00,430.38 L677.00,431.89 L678.00,432.39 L679.00,433.37 L680.00,433.55 L681.00,433.39 L682.00,432.55 L683.00,432.54 L684.00,431.97 L685.00,432.80 L686.00,432.94 L687.00,433.80 L688.00,434.78 L689.00,435.18 L690.00,435.16" fill="none" stroke="#dd4426" stroke-width="0.65" stroke-opacity="0.45"/>
<path d="M620.00,434.34 L621.00,431.91 L622.00,435.25 L623.00,437.79 L624.00,439.66 L625.00,442.83 L626.00,448.02 L627.00,454.29 L628.00,455.03 L629.00,458.55 L630.00,463.33 L631.00,466.61 L632.00,464.50 L633.00,457.41 L634.00,449.40 L635.00,445.03 L636.00,441.86 L637.00,436.57 L638.00,431.07 L639.00,424.47 L640.00,418.66 L641.00,415.60 L642.00,416.50 L643.00,418.51 L644.00,419.33 L645.00,420.78 L646.00,421.19 L647.00,420.01 L648.00,420.41 L649.00,420.35 L650.00,421.89 L651.00,422.89 L652.00,424.65 L653.00,424.59 L654.00,423.94 L655.00,423.13 L656.00,422.21 L657.00,423.81 L658.00,426.08 L659.00,427.77 L660.00,428.77 L661.00,428.68 L662.00,428.20 L663.00,427.14 L664.00,427.08 L665.00,428.62 L666.00,430.41 L667.00,431.03 L668.00,431.26 L669.00,430.98 L670.00,430.90 L671.00,429.61 L672.00,430.30 L673.00,431.72 L674.00,433.45 L675.00,434.03 L676.00,433.55 L677.00,432.73 L678.00,431.48 L679.00,431.56 L680.00,432.68 L681.00,433.54 L682.00,434.45 L683.00,434.65 L684.00,434.62 L685.00,434.23 L686.00,433.45 L687.00,433.40 L688.00,434.44 L689.00,435.85 L690.00,436.27" fill="none" stroke="#dd4426" stroke-width="0.65" stroke-opacity="0.45"/>
<path d="M620.00,437.10 L621.00,436.36 L622.00,434.12 L623.00,435.47 L624.00,437.95 L625.00,441.37 L626.00,443.23 L627.00,447.83 L628.00,451.86 L629.00,454.68 L630.00,457.36 L631.00,460.89 L632.00,464.28 L633.00,462.26 L634.00,456.63 L635.00,450.60 L636.00,446.46 L637.00,442.97 L638.00,439.23 L639.00,434.58 L640.00,429.43 L641.00,424.80 L642.00,422.30 L643.00,422.09 L644.00,421.94 L645.00,421.62 L646.00,422.76 L647.00,424.80 L648.00,426.05 L649.00,427.42 L650.00,427.56 L651.00,427.77 L652.00,427.28 L653.00,426.34 L654.00,425.70 L655.00,426.35 L656.00,427.07 L657.00,428.28 L658.00,430.11 L659.00,431.68 L660.00,431.51 L661.00,431.51 L662.00,430.93 L663.00,431.31 L664.00,431.39 L665.00,431.92 L666.00,433.39 L667.00,433.89 L668.00,435.18 L669.00,435.07 L670.00,435.37 L671.00,434.35 L672.00,434.51 L673.00,434.44 L674.00,433.50 L675.00,434.21 L676.00,435.75 L677.00,436.70 L678.00,437.83 L679.00,436.39 L680.00,436.94 L681.00,436.71 L682.00,435.88 L683.00,434.94 L684.00,435.97 L685.00,436.45 L686.00,437.45 L687.00,438.32 L688.00,438.94 L689.00,439.26 L690.00,437.82" fill="none" stroke="#dd4426" stroke-width="0.65" stroke-opacity="0.45"/>
<path d="M620.00,430.13 L621.00,428.14 L622.00,427.40 L623.00,429.13 L624.00,432.57 L625.00,435.09 L626.00,438.01 L627.00,444.54 L628.00,448.56 L629.00,451.50 L630.00,454.58 L631.00,458.69 L632.00,461.79 L633.00,459.39 L634.00,453.49 L635.00,446.22 L636.00,439.90 L637.00,436.46 L638.00,431.35 L639.00,425.34 L640.00,419.47 L641.00,413.63 L642.00,410.07 L643.00,409.91 L644.00,409.35 L645.00,411.65 L646.00,412.64 L647.00,412.73 L648.00,412.27 L649.00,411.13 L650.00,412.43 L651.00,414.24 L652.00,415.18 L653.00,415.13 L654.00,413.59 L655.00,414.32 L656.00,414.92 L657.00,416.31 L658.00,417.38 L659.00,417.89 L660.00,417.01 L661.00,416.68 L662.00,418.06 L663.00,420.18 L664.00,421.57 L665.00,421.76 L666.00,419.89 L667.00,420.06 L668.00,420.95 L669.00,423.03 L670.00,424.15 L671.00,424.12 L672.00,422.45 L673.00,421.65 L674.00,422.95 L675.00,426.02 L676.00,425.01 L677.00,424.79 L678.00,424.09 L679.00,423.26 L680.00,424.62 L681.00,426.73 L682.00,426.80 L683.00,425.54 L684.00,424.66 L685.00,424.52 L686.00,426.01 L687.00,427.47 L688.00,427.39 L689.00,426.52 L690.00,425.46" fill="none" stroke="#dd4426" stroke-width="0.65" stroke-opacity="0.45"/>
<path d="M620.00,435.82 L621.00,434.10 L622.00,432.29 L623.00,434.94 L624.00,439.45 L625.00,440.90 L626.00,444.14 L627.00,449.47 L628.00,453.64 L629.00,456.18 L630.00,458.79 L631.00,462.87 L632.00,465.53 L633.00,462.33 L634.00,456.62 L635.00,448.50 L636.00,443.68 L637.00,440.41 L638.00,435.95 L639.00,430.47 L640.00,425.23 L641.00,420.72 L642.00,417.45 L643.00,418.00 L644.00,419.47 L645.00,420.57 L646.00,422.46 L647.00,422.19 L648.00,422.50 L649.00,421.55 L650.00,422.98 L651.00,424.75 L652.00,424.78 L653.00,425.21 L654.00,423.85 L655.00,423.31 L656.00,424.32 L657.00,426.62 L658.00,427.51 L659.00,427.45 L660.00,426.76 L661.00,427.02 L662.00,428.46 L663.00,429.91 L664.00,431.48 L665.00,429.24 L666.00,429.63 L667.00,429.31 L668.00,430.62 L669.00,432.07 L670.00,433.03 L671.00,432.36 L672.00,430.92 L673.00,431.00 L674.00,432.28 L675.00,433.75 L676.00,434.86 L677.00,433.64 L678.00,433.19 L679.00,431.91 L680.00,433.43 L681.00,435.38 L682.00,435.26 L683.00,434.55 L684.00,433.02 L685.00,434.24 L686.00,435.04 L687.00,436.65 L688.00,436.98 L689.00,434.77 L690.00,434.14" fill="none" stroke="#dd4426" stroke-width="0.65" stroke-opacity="0.45"/>
<path d="M620.00,434.26 L621.00,432.77 L622.00,431.66 L623.00,435.49 L624.00,438.28 L625.00,439.79 L626.00,445.06 L627.00,450.32 L628.00,454.92 L629.00,457.21 L630.00,460.92 L631.00,464.20 L632.00,465.88 L633.00,460.59 L634.00,454.12 L635.00,447.64 L636.00,441.78 L637.00,438.66 L638.00,432.63 L639.00,426.23 L640.00,420.96 L641.00,415.68 L642.00,415.79 L643.00,415.34 L644.00,415.21 L645.00,416.95 L646.00,417.95 L647.00,420.34 L648.00,420.59 L649.00,419.47 L650.00,417.81 L651.00,418.82 L652.00,421.06 L653.00,422.27 L654.00,422.58 L655.00,422.67 L656.00,421.32 L657.00,421.05 L658.00,422.22 L659.00,424.51 L660.00,425.51 L661.00,425.90 L662.00,425.68 L663.00,424.83 L664.00,426.28 L665.00,427.55 L666.00,429.20 L667.00,428.51 L668.00,427.87 L669.00,427.39 L670.00,427.81 L671.00,428.99 L672.00,429.27 L673.00,431.22 L674.00,430.01 L675.00,429.75 L676.00,428.97 L677.00,429.76 L678.00,431.39 L679.00,432.83 L680.00,432.39 L681.00,431.59 L682.00,430.48 L683.00,430.55 L684.00,432.63 L685.00,434.35 L686.00,433.57 L687.00,433.17 L688.00,431.37 L689.00,431.68 L690.00,432.15" fill="none" stroke="#dd4426" stroke-width="0.65" stroke-opacity="0.45"/>
<path d="M620.00,436.91 L621.00,437.37 L622.00,435.28 L623.00,435.92 L624.00,440.32 L625.00,443.35 L626.00,445.46 L627.00,450.19 L628.00,456.08 L629.00,458.28 L630.00,461.68 L631.00,466.06 L632.00,468.82 L633.00,468.21 L634.00,462.37 L635.00,455.12 L636.00,448.51 L637.00,444.10 L638.00,440.14 L639.00,433.48 L640.00,428.65 L641.00,423.38 L642.00,420.14 L643.00,421.38 L644.00,422.04 L645.00,422.22 L646.00,421.91 L647.00,423.02 L648.00,424.79 L649.00,426.25 L650.00,427.30 L651.00,427.37 L652.00,427.59 L653.00,426.53 L654.00,426.36 L655.00,426.11 L656.00,426.62 L657.00,429.28 L658.00,430.84 L659.00,431.40 L660.00,431.96 L661.00,431.33 L662.00,431.04 L663.00,432.15 L664.00,432.92 L665.00,433.90 L666.00,435.32 L667.00,435.48 L668.00,434.91 L669.00,434.90 L670.00,433.95 L671.00,433.88 L672.00,434.97 L673.00,437.27 L674.00,438.30 L675.00,438.79 L676.00,437.52 L677.00,436.56 L678.00,436.45 L679.00,436.26 L680.00,437.06 L681.00,437.98 L682.00,439.40 L683.00,439.21 L684.00,439.76 L685.00,438.62 L686.00,438.31 L687.00,437.88 L688.00,437.39 L689.00,439.25 L690.00,440.97" fill="none" stroke="#dd4426" stroke-width="0.65" stroke-opacity="0.45"/>
<path d="M620.00,437.09 L621.00,437.18 L622.00,434.63 L623.00,435.11 L624.00,438.93 L625.00,442.14 L626.00,444.47 L627.00,449.11 L628.00,454.60 L629.00,456.63 L630.00,460.64 L631.00,464.31 L632.00,468.67 L633.00,470.13 L634.00,463.11 L635.00,456.49 L636.00,450.21 L637.00,445.00 L638.00,441.98 L639.00,437.27 L640.00,429.25 L641.00,423.08 L642.00,418.81 L643.00,418.98 L644.00,419.42 L645.00,421.75 L646.00,422.79 L647.00,424.16 L648.00,424.54 L649.00,425.51 L650.00,425.20 L651.00,424.09 L652.00,425.66 L653.00,425.04 L654.00,425.41 L655.00,426.95 L656.00,427.84 L657.00,429.01 L658.00,429.21 L659.00,430.48 L660.00,430.10 L661.00,429.83 L662.00,430.54 L663.00,430.22 L664.00,431.76 L665.00,432.89 L666.00,434.26 L667.00,435.27 L668.00,435.41 L669.00,435.47 L670.00,434.60 L671.00,433.33 L672.00,434.45 L673.00,434.45 L674.00,434.00 L675.00,434.46 L676.00,436.06 L677.00,437.01 L678.00,438.35 L679.00,438.64 L680.00,437.63 L681.00,436.65 L682.00,436.91 L683.00,436.15 L684.00,435.80 L685.00,436.84 L686.00,438.33 L687.00,439.23 L688.00,439.19 L689.00,439.84 L690.00,439.90" fill="none" stroke="#dd4426" stroke-width="0.65" stroke-opacity="0.45"/>
<path d="M620.00,437.07 L621.00,436.33 L622.00,433.47 L623.00,436.66 L624.00,441.30 L625.00,443.00 L626.00,446.50 L627.00,450.91 L628.00,455.93 L629.00,459.96 L630.00,462.20 L631.00,466.61 L632.00,469.57 L633.00,466.29 L634.00,460.55 L635.00,452.32 L636.00,447.93 L637.00,444.14 L638.00,438.67 L639.00,432.48 L640.00,426.10 L641.00,422.44 L642.00,420.12 L643.00,420.69 L644.00,421.48 L645.00,420.36 L646.00,421.92 L647.00,423.45 L648.00,426.10 L649.00,426.37 L650.00,425.49 L651.00,424.73 L652.00,425.12 L653.00,426.66 L654.00,428.37 L655.00,429.08 L656.00,428.97 L657.00,427.81 L658.00,427.66 L659.00,429.33 L660.00,431.40 L661.00,433.06 L662.00,432.18 L663.00,432.08 L664.00,431.13 L665.00,432.07 L666.00,433.94 L667.00,435.47 L668.00,434.75 L669.00,433.07 L670.00,431.98 L671.00,434.36 L672.00,436.34 L673.00,436.85 L674.00,436.41 L675.00,435.89 L676.00,435.11 L677.00,435.87 L678.00,438.00 L679.00,438.38 L680.00,437.60 L681.00,437.41 L682.00,435.48 L683.00,436.99 L684.00,438.06 L685.00,439.60 L686.00,439.64 L687.00,438.46 L688.00,437.07 L689.00,437.69 L690.00,438.80" fill="none" stroke="#dd4426" stroke-width="0.65" stroke-opacity="0.45"/>
<path d="M620.00,431.35 L621.00,431.61 L622.00,430.12 L623.00,427.85 L624.00,429.86 L625.00,433.39 L626.00,437.73 L627.00,441.32 L628.00,447.29 L629.00,450.24 L630.00,453.27 L631.00,456.49 L632.00,459.88 L633.00,464.22 L634.00,459.73 L635.00,452.78 L636.00,445.45 L637.00,439.92 L638.00,435.42 L639.00,431.48 L640.00,425.37 L641.00,419.90 L642.00,413.86 L643.00,411.54 L644.00,411.34 L645.00,411.87 L646.00,412.81 L647.00,414.47 L648.00,416.05 L649.00,416.05 L650.00,415.08 L651.00,414.36 L652.00,414.31 L653.00,415.37 L654.00,417.56 L655.00,417.91 L656.00,418.11 L657.00,416.43 L658.00,417.50 L659.00,417.49 L660.00,418.88 L661.00,420.87 L662.00,422.05 L663.00,422.08 L664.00,422.52 L665.00,421.24 L666.00,421.00 L667.00,422.37 L668.00,424.29 L669.00,425.63 L670.00,424.92 L671.00,423.55 L672.00,422.97 L673.00,424.01 L674.00,425.47 L675.00,426.75 L676.00,427.17 L677.00,426.28 L678.00,425.44 L679.00,425.23 L680.00,425.14 L681.00,426.69 L682.00,427.79 L683.00,428.44 L684.00,428.57 L685.00,427.33 L686.00,426.75 L687.00,426.90 L688.00,428.16 L689.00,430.30 L690.00,430.05" fill="none" stroke="#dd4426" stroke-width="0.65" stroke-opacity="0.45"/>
<path d="M620.00,436.34 L621.00,434.84 L622.00,435.79 L623.00,438.36 L624.00,441.16 L625.00,443.80 L626.00,447.91 L627.00,452.53 L628.00,454.12 L629.00,456.31 L630.00,459.66 L631.00,462.80 L632.00,462.10 L633.00,456.61 L634.00,450.92 L635.00,444.99 L636.00,442.56 L637.00,438.31 L638.00,434.68 L639.00,429.51 L640.00,424.87 L641.00,420.85 L642.00,421.82 L643.00,423.22 L644.00,424.96 L645.00,425.86 L646.00,425.00 L647.00,425.96 L648.00,425.81 L649.00,426.25 L650.00,428.15 L651.00,430.61 L652.00,429.44 L653.00,427.95 L654.00,427.32 L655.00,427.65 L656.00,428.93 L657.00,430.99 L658.00,431.05 L659.00,430.38 L660.00,430.32 L661.00,430.85 L662.00,431.99 L663.00,434.37 L664.00,435.15 L665.00,433.54 L666.00,432.95 L667.00,432.78 L668.00,434.33 L669.00,435.53 L670.00,436.10 L671.00,434.69 L672.00,434.85 L673.00,433.72 L674.00,434.81 L675.00,436.58 L676.00,437.68 L677.00,437.05 L678.00,435.99 L679.00,434.94 L680.00,435.67 L681.00,437.26 L682.00,438.25 L683.00,438.06 L684.00,436.64 L685.00,436.41 L686.00,436.97 L687.00,438.08 L688.00,439.94 L689.00,438.92 L690.00,437.69" fill="none" stroke="#dd4426" stroke-width="0.65" stroke-opacity="0.45"/>
<path d="M620.00,432.41 L621.00,429.91 L622.00,430.39 L623.00,434.32 L624.00,436.07 L625.00,440.06 L626.00,444.77 L627.00,450.53 L628.00,453.28 L629.00,455.03 L630.00,459.49 L631.00,461.75 L632.00,461.51 L633.00,455.60 L634.00,448.70 L635.00,443.54 L636.00,440.41 L637.00,436.32 L638.00,429.95 L639.00,423.51 L640.00,418.19 L641.00,413.90 L642.00,415.02 L643.00,416.37 L644.00,417.85 L645.00,418.12 L646.00,418.29 L647.00,418.86 L648.00,417.57 L649.00,416.95 L650.00,418.21 L651.00,419.92 L652.00,420.13 L653.00,421.31 L654.00,421.69 L655.00,420.39 L656.00,420.41 L657.00,420.60 L658.00,421.49 L659.00,422.60 L660.00,424.26 L661.00,425.52 L662.00,426.39 L663.00,425.36 L664.00,424.21 L665.00,425.18 L666.00,424.41 L667.00,426.18 L668.00,426.91 L669.00,428.02 L670.00,429.59 L671.00,429.05 L672.00,427.55 L673.00,427.16 L674.00,427.49 L675.00,428.09 L676.00,429.30 L677.00,430.65 L678.00,430.60 L679.00,430.39 L680.00,429.79 L681.00,428.86 L682.00,428.35 L683.00,429.43 L684.00,430.74 L685.00,431.66 L686.00,432.31 L687.00,432.47 L688.00,431.10 L689.00,430.44 L690.00,430.24" fill="none" stroke="#dd4426" stroke-width="0.65" stroke-opacity="0.45"/>
<path d="M620.00,434.62 L621.00,432.86 L622.00,433.39 L623.00,437.16 L624.00,440.30 L625.00,443.26 L626.00,447.47 L627.00,451.82 L628.00,455.09 L629.00,457.39 L630.00,461.79 L631.00,465.87 L632.00,465.93 L633.00,460.30 L634.00,452.73 L635.00,446.42 L636.00,441.57 L637.00,439.01 L638.00,432.32 L639.00,427.06 L640.00,422.17 L641.00,418.37 L642.00,419.15 L643.00,419.66 L644.00,419.65 L645.00,420.16 L646.00,421.00 L647.00,422.09 L648.00,423.61 L649.00,424.13 L650.00,425.19 L651.00,424.05 L652.00,423.12 L653.00,423.03 L654.00,423.41 L655.00,423.78 L656.00,426.03 L657.00,426.70 L658.00,427.87 L659.00,427.35 L660.00,427.59 L661.00,428.04 L662.00,427.72 L663.00,429.37 L664.00,430.40 L665.00,432.13 L666.00,433.08 L667.00,431.76 L668.00,431.64 L669.00,431.05 L670.00,430.96 L671.00,431.26 L672.00,432.40 L673.00,433.85 L674.00,434.79 L675.00,434.33 L676.00,434.09 L677.00,432.53 L678.00,432.30 L679.00,432.50 L680.00,434.20 L681.00,435.81 L682.00,435.85 L683.00,436.68 L684.00,435.92 L685.00,433.70 L686.00,434.32 L687.00,434.58 L688.00,435.54 L689.00,437.09 L690.00,437.06" fill="none" stroke="#dd4426" stroke-width="0.65" stroke-opacity="0.45"/>
<path d="M620.00,437.79 L621.00,437.52 L622.00,436.72 L623.00,436.03 L624.00,437.75 L625.00,440.22 L626.00,442.00 L627.00,445.04 L628.00,448.08 L629.00,453.61 L630.00,457.14 L631.00,458.53 L632.00,461.93 L633.00,464.18 L634.00,462.49 L635.00,456.99 L636.00,451.19 L637.00,446.57 L638.00,442.96 L639.00,439.13 L640.00,434.05 L641.00,428.52 L642.00,424.72 L643.00,422.64 L644.00,423.58 L645.00,424.65 L646.00,423.75 L647.00,423.52 L648.00,424.71 L649.00,426.89 L650.00,427.51 L651.00,429.05 L652.00,428.62 L653.00,428.74 L654.00,427.92 L655.00,427.20 L656.00,428.52 L657.00,430.13 L658.00,431.74 L659.00,432.98 L660.00,430.82 L661.00,431.13 L662.00,431.79 L663.00,432.26 L664.00,434.58 L665.00,435.85 L666.00,434.97 L667.00,434.62 L668.00,433.41 L669.00,433.19 L670.00,434.55 L671.00,436.02 L672.00,436.96 L673.00,436.46 L674.00,436.60 L675.00,435.16 L676.00,435.02 L677.00,436.80 L678.00,437.93 L679.00,438.53 L680.00,438.50 L681.00,437.46 L682.00,437.26 L683.00,436.15 L684.00,437.26 L685.00,439.34 L686.00,440.07 L687.00,439.03 L688.00,438.45 L689.00,437.50 L690.00,437.44" fill="none" stroke="#dd4426" stroke-width="0.65" stroke-opacity="0.45"/>
<path d="M620.00,435.01 L621.00,435.04 L622.00,431.98 L623.00,431.24 L624.00,432.13 L625.00,436.20 L626.00,438.70 L627.00,439.87 L628.00,444.47 L629.00,449.58 L630.00,452.55 L631.00,456.43 L632.00,458.62 L633.00,462.13 L634.00,460.99 L635.00,456.38 L636.00,449.29 L637.00,444.31 L638.00,439.87 L639.00,436.48 L640.00,429.93 L641.00,423.97 L642.00,419.33 L643.00,416.61 L644.00,417.01 L645.00,416.59 L646.00,417.55 L647.00,416.99 L648.00,418.58 L649.00,419.77 L650.00,420.70 L651.00,420.23 L652.00,419.37 L653.00,419.39 L654.00,420.49 L655.00,422.26 L656.00,422.30 L657.00,422.64 L658.00,421.48 L659.00,422.28 L660.00,422.35 L661.00,423.47 L662.00,426.67 L663.00,426.25 L664.00,426.05 L665.00,425.35 L666.00,425.58 L667.00,427.11 L668.00,428.30 L669.00,429.48 L670.00,427.81 L671.00,427.78 L672.00,426.50 L673.00,428.20 L674.00,429.61 L675.00,430.99 L676.00,431.07 L677.00,429.41 L678.00,428.40 L679.00,430.09 L680.00,431.24 L681.00,431.47 L682.00,431.24 L683.00,430.46 L684.00,429.67 L685.00,430.11 L686.00,431.51 L687.00,432.80 L688.00,433.65 L689.00,431.41 L690.00,431.13" fill="none" stroke="#dd4426" stroke-width="0.65" stroke-opacity="0.45"/>
<path d="M620.00,433.52 L621.00,431.72 L622.00,432.16 L623.00,434.22 L624.00,437.98 L625.00,439.41 L626.00,442.72 L627.00,447.51 L628.00,451.19 L629.00,451.98 L630.00,456.19 L631.00,460.16 L632.00,461.83 L633.00,457.50 L634.00,451.76 L635.00,444.82 L636.00,441.11 L637.00,437.26 L638.00,433.16 L639.00,427.60 L640.00,422.77 L641.00,418.64 L642.00,418.19 L643.00,419.00 L644.00,420.03 L645.00,419.30 L646.00,419.79 L647.00,419.26 L648.00,420.29 L649.00,421.18 L650.00,422.61 L651.00,423.28 L652.00,422.96 L653.00,421.99 L654.00,422.02 L655.00,421.32 L656.00,421.77 L657.00,422.71 L658.00,423.78 L659.00,425.63 L660.00,427.17 L661.00,427.37 L662.00,427.31 L663.00,427.09 L664.00,426.09 L665.00,426.96 L666.00,427.74 L667.00,429.00 L668.00,428.77 L669.00,430.40 L670.00,430.56 L671.00,430.18 L672.00,429.38 L673.00,429.55 L674.00,429.12 L675.00,430.22 L676.00,430.92 L677.00,431.61 L678.00,432.58 L679.00,433.52 L680.00,431.00 L681.00,431.60 L682.00,431.10 L683.00,431.46 L684.00,431.88 L685.00,432.94 L686.00,433.40 L687.00,433.66 L688.00,434.03 L689.00,433.00 L690.00,432.37" fill="none" stroke="#dd4426" stroke-width="0.65" stroke-opacity="0.45"/>
<path d="M620.00,435.38 L621.00,433.99 L622.00,432.25 L623.00,434.18 L624.00,438.19 L625.00,441.10 L626.00,442.92 L627.00,448.67 L628.00,452.32 L629.00,456.01 L630.00,458.31 L631.00,462.70 L632.00,466.18 L633.00,465.87 L634.00,459.39 L635.00,451.44 L636.00,446.09 L637.00,442.46 L638.00,437.77 L639.00,432.16 L640.00,425.35 L641.00,420.57 L642.00,415.72 L643.00,416.53 L644.00,417.52 L645.00,418.16 L646.00,419.19 L647.00,421.25 L648.00,421.75 L649.00,423.23 L650.00,422.97 L651.00,423.78 L652.00,423.04 L653.00,422.07 L654.00,421.89 L655.00,422.14 L656.00,423.04 L657.00,423.55 L658.00,424.93 L659.00,426.54 L660.00,428.44 L661.00,428.51 L662.00,428.85 L663.00,428.77 L664.00,429.87 L665.00,428.29 L666.00,428.08 L667.00,428.63 L668.00,429.02 L669.00,430.22 L670.00,430.80 L671.00,431.46 L672.00,432.80 L673.00,434.12 L674.00,433.41 L675.00,432.94 L676.00,432.55 L677.00,432.14 L678.00,432.61 L679.00,431.37 L680.00,431.81 L681.00,433.73 L682.00,433.14 L683.00,434.61 L684.00,434.56 L685.00,435.97 L686.00,435.31 L687.00,434.80 L688.00,434.37 L689.00,434.17 L690.00,433.39" fill="none" stroke="#dd4426" stroke-width="0.65" stroke-opacity="0.45"/>
<path d="M620.00,436.22 L621.00,436.37 L622.00,433.30 L623.00,435.18 L624.00,438.88 L625.00,442.22 L626.00,445.12 L627.00,450.59 L628.00,454.65 L629.00,457.23 L630.00,461.52 L631.00,465.80 L632.00,468.56 L633.00,467.75 L634.00,461.00 L635.00,454.24 L636.00,447.57 L637.00,443.83 L638.00,439.20 L639.00,432.75 L640.00,426.52 L641.00,420.46 L642.00,416.80 L643.00,417.53 L644.00,420.16 L645.00,421.28 L646.00,421.90 L647.00,422.19 L648.00,422.29 L649.00,421.97 L650.00,422.09 L651.00,422.43 L652.00,423.47 L653.00,424.61 L654.00,425.85 L655.00,425.89 L656.00,426.55 L657.00,427.07 L658.00,427.38 L659.00,426.49 L660.00,427.15 L661.00,427.84 L662.00,429.03 L663.00,429.39 L664.00,432.36 L665.00,432.39 L666.00,433.55 L667.00,433.50 L668.00,433.37 L669.00,432.39 L670.00,430.88 L671.00,431.96 L672.00,432.51 L673.00,433.13 L674.00,434.40 L675.00,435.11 L676.00,435.69 L677.00,436.75 L678.00,436.26 L679.00,435.59 L680.00,435.26 L681.00,434.37 L682.00,434.55 L683.00,434.56 L684.00,436.11 L685.00,437.20 L686.00,437.80 L687.00,438.31 L688.00,438.56 L689.00,437.83 L690.00,437.64" fill="none" stroke="#dd4426" stroke-width="0.65" stroke-opacity="0.45"/>
<path d="M620.00,437.50 L621.00,436.71 L622.00,435.12 L623.00,434.18 L624.00,437.07 L625.00,440.30 L626.00,442.50 L627.00,447.40 L628.00,451.60 L629.00,455.27 L630.00,456.72 L631.00,461.41 L632.00,463.92 L633.00,466.96 L634.00,462.69 L635.00,457.35 L636.00,450.68 L637.00,446.40 L638.00,443.03 L639.00,437.22 L640.00,431.65 L641.00,425.78 L642.00,421.50 L643.00,420.45 L644.00,420.90 L645.00,423.47 L646.00,424.40 L647.00,425.77 L648.00,424.85 L649.00,426.23 L650.00,424.75 L651.00,423.98 L652.00,426.02 L653.00,425.98 L654.00,427.84 L655.00,429.36 L656.00,429.82 L657.00,428.83 L658.00,430.03 L659.00,429.52 L660.00,428.87 L661.00,428.95 L662.00,430.10 L663.00,431.83 L664.00,433.37 L665.00,433.91 L666.00,435.63 L667.00,434.75 L668.00,434.71 L669.00,434.80 L670.00,432.73 L671.00,433.45 L672.00,433.56 L673.00,434.77 L674.00,436.14 L675.00,436.62 L676.00,438.47 L677.00,437.67 L678.00,436.78 L679.00,437.07 L680.00,435.04 L681.00,435.75 L682.00,436.06 L683.00,437.56 L684.00,437.65 L685.00,439.09 L686.00,439.19 L687.00,439.45 L688.00,437.92 L689.00,437.26 L690.00,437.26" fill="none" stroke="#dd4426" stroke-width="0.65" stroke-opacity="0.45"/>
<path d="M620.00,437.67 L621.00,436.30 L622.00,433.64 L623.00,435.21 L624.00,437.58 L625.00,441.72 L626.00,445.30 L627.00,450.01 L628.00,454.43 L629.00,456.66 L630.00,460.33 L631.00,464.74 L632.00,467.82 L633.00,467.17 L634.00,461.39 L635.00,452.31 L636.00,446.19 L637.00,444.06 L638.00,439.40 L639.00,433.58 L640.00,427.32 L641.00,421.65 L642.00,418.20 L643.00,417.95 L644.00,420.54 L645.00,421.89 L646.00,423.20 L647.00,422.68 L648.00,422.76 L649.00,423.05 L650.00,424.46 L651.00,426.19 L652.00,426.38 L653.00,425.79 L654.00,424.82 L655.00,425.21 L656.00,426.71 L657.00,428.15 L658.00,428.60 L659.00,429.03 L660.00,428.96 L661.00,428.82 L662.00,430.70 L663.00,431.98 L664.00,432.89 L665.00,432.18 L666.00,431.23 L667.00,431.41 L668.00,432.10 L669.00,433.49 L670.00,435.07 L671.00,434.91 L672.00,433.31 L673.00,433.41 L674.00,434.05 L675.00,436.26 L676.00,437.56 L677.00,436.99 L678.00,434.68 L679.00,434.34 L680.00,435.43 L681.00,436.31 L682.00,438.49 L683.00,436.72 L684.00,437.17 L685.00,436.04 L686.00,436.27 L687.00,437.60 L688.00,438.23 L689.00,438.80 L690.00,437.82" fill="none" stroke="#dd4426" stroke-width="0.65" stroke-opacity="0.45"/>
<path d="M620.00,430.20 L621.00,432.16 L622.00,435.52 L623.00,438.09 L624.00,441.81 L625.00,445.41 L626.00,450.81 L627.00,453.57 L628.00,455.63 L629.00,460.17 L630.00,463.18 L631.00,461.54 L632.00,456.06 L633.00,449.12 L634.00,443.78 L635.00,440.42 L636.00,435.29 L637.00,430.53 L638.00,423.76 L639.00,418.72 L640.00,414.31 L641.00,415.54 L642.00,416.71 L643.00,418.24 L644.00,417.42 L645.00,418.83 L646.00,418.61 L647.00,418.20 L648.00,417.42 L649.00,418.46 L650.00,419.70 L651.00,420.43 L652.00,421.38 L653.00,421.43 L654.00,421.13 L655.00,421.52 L656.00,420.62 L657.00,421.66 L658.00,422.74 L659.00,424.37 L660.00,425.98 L661.00,426.08 L662.00,426.71 L663.00,426.04 L664.00,425.90 L665.00,424.48 L666.00,426.36 L667.00,426.44 L668.00,428.50 L669.00,428.86 L670.00,429.10 L671.00,429.65 L672.00,428.37 L673.00,428.02 L674.00,427.72 L675.00,428.28 L676.00,430.26 L677.00,431.38 L678.00,431.01 L679.00,431.99 L680.00,431.00 L681.00,429.87 L682.00,429.63 L683.00,428.85 L684.00,429.74 L685.00,430.90 L686.00,432.41 L687.00,432.68 L688.00,432.63 L689.00,431.89 L690.00,431.79" fill="none" stroke="#dd4426" stroke-width="0.65" stroke-opacity="0.45"/>
<path d="M620.00,437.03 L621.00,433.85 L622.00,433.34 L623.00,434.60 L624.00,438.72 L625.00,441.72 L626.00,444.91 L627.00,450.33 L628.00,453.96 L629.00,456.17 L630.00,458.59 L631.00,462.75 L632.00,464.83 L633.00,461.93 L634.00,457.02 L635.00,450.16 L636.00,445.36 L637.00,441.84 L638.00,437.27 L639.00,430.63 L640.00,425.61 L641.00,421.52 L642.00,419.19 L643.00,420.27 L644.00,422.06 L645.00,422.75 L646.00,422.48 L647.00,422.60 L648.00,422.58 L649.00,422.55 L650.00,423.13 L651.00,424.89 L652.00,426.22 L653.00,427.20 L654.00,426.89 L655.00,426.18 L656.00,425.58 L657.00,425.99 L658.00,426.07 L659.00,427.74 L660.00,428.15 L661.00,431.13 L662.00,431.46 L663.00,431.40 L664.00,431.19 L665.00,431.01 L666.00,430.56 L667.00,431.55 L668.00,432.23 L669.00,432.74 L670.00,433.79 L671.00,434.43 L672.00,434.93 L673.00,433.63 L674.00,432.26 L675.00,433.21 L676.00,433.78 L677.00,434.86 L678.00,435.57 L679.00,436.84 L680.00,436.85 L681.00,435.63 L682.00,435.59 L683.00,434.47 L684.00,434.79 L685.00,435.01 L686.00,435.05 L687.00,436.98 L688.00,437.97 L689.00,437.49 L690.00,436.61" fill="none" stroke="#dd4426" stroke-width="0.65" stroke-opacity="0.45"/>
<path d="M620.00,437.61 L621.00,438.07 L622.00,436.45 L623.00,434.62 L624.00,437.65 L625.00,440.46 L626.00,442.11 L627.00,445.98 L628.00,452.56 L629.00,455.50 L630.00,458.54 L631.00,461.74 L632.00,465.06 L633.00,467.78 L634.00,464.25 L635.00,457.91 L636.00,452.38 L637.00,446.06 L638.00,442.56 L639.00,438.60 L640.00,431.57 L641.00,426.23 L642.00,422.06 L643.00,419.52 L644.00,421.94 L645.00,422.72 L646.00,423.23 L647.00,423.21 L648.00,423.38 L649.00,424.88 L650.00,426.94 L651.00,427.90 L652.00,428.44 L653.00,427.27 L654.00,426.60 L655.00,426.20 L656.00,427.59 L657.00,428.33 L658.00,430.10 L659.00,430.41 L660.00,429.96 L661.00,430.06 L662.00,430.82 L663.00,432.05 L664.00,433.17 L665.00,435.42 L666.00,435.22 L667.00,434.28 L668.00,433.41 L669.00,433.03 L670.00,433.81 L671.00,435.73 L672.00,436.09 L673.00,436.78 L674.00,436.29 L675.00,436.06 L676.00,435.44 L677.00,435.25 L678.00,437.19 L679.00,438.02 L680.00,438.23 L681.00,438.83 L682.00,437.03 L683.00,436.24 L684.00,437.50 L685.00,438.06 L686.00,440.02 L687.00,439.68 L688.00,439.68 L689.00,437.52 L690.00,437.46" fill="none" stroke="#dd4426" stroke-width="0.65" stroke-opacity="0.45"/>
<path d="M620.00,435.69 L621.00,434.12 L622.00,432.18 L623.00,432.83 L624.00,436.84 L625.00,439.47 L626.00,443.55 L627.00,447.98 L628.00,452.15 L629.00,454.95 L630.00,458.12 L631.00,462.51 L632.00,465.45 L633.00,463.90 L634.00,458.51 L635.00,451.96 L636.00,445.53 L637.00,442.01 L638.00,438.25 L639.00,431.50 L640.00,425.01 L641.00,419.72 L642.00,416.09 L643.00,417.65 L644.00,418.90 L645.00,419.47 L646.00,419.65 L647.00,420.03 L648.00,420.94 L649.00,420.86 L650.00,421.29 L651.00,421.75 L652.00,423.26 L653.00,424.26 L654.00,423.18 L655.00,423.13 L656.00,422.24 L657.00,421.79 L658.00,424.47 L659.00,425.43 L660.00,427.26 L661.00,427.91 L662.00,429.02 L663.00,428.50 L664.00,427.72 L665.00,428.32 L666.00,427.98 L667.00,429.74 L668.00,430.76 L669.00,431.11 L670.00,431.75 L671.00,430.48 L672.00,429.84 L673.00,429.51 L674.00,429.96 L675.00,431.81 L676.00,432.32 L677.00,434.62 L678.00,433.67 L679.00,433.35 L680.00,433.50 L681.00,432.16 L682.00,431.68 L683.00,431.99 L684.00,433.68 L685.00,435.53 L686.00,435.48 L687.00,435.82 L688.00,435.48 L689.00,434.44 L690.00,433.43" fill="none" stroke="#dd4426" stroke-width="0.65" stroke-opacity="0.45"/>
<line x1="421.30" y1="453.20" x2="421.30" y2="470.20" stroke="#111" stroke-width="1.60" />
<text x="424.77" y="465.90" font-size="13.50" fill="#111" textLength="42.99" lengthAdjust="spacingAndGlyphs" >0.1 mV</text>
<line x1="646.80" y1="454.20" x2="646.80" y2="471.20" stroke="#111" stroke-width="1.60" />
<text x="650.77" y="467.40" font-size="13.50" fill="#111" textLength="43.19" lengthAdjust="spacingAndGlyphs" >0.1 mV</text>
<path d="M475.10,432.80 L475.10,398.20 L476.10,398.20 L476.10,398.20 L477.10,398.20 L477.10,406.23 L478.10,406.23 L478.10,409.81 L479.10,409.81 L479.10,408.22 L480.10,408.22 L480.10,406.72 L481.10,406.72 L481.10,413.21 L482.10,413.21 L482.10,419.07 L483.10,419.07 L483.10,419.06 L484.10,419.06 L484.10,418.44 L485.10,418.44 L485.10,417.19 L486.10,417.19 L486.10,419.85 L487.10,419.85 L487.10,421.16 L488.10,421.16 L488.10,421.50 L489.10,421.50 L489.10,421.41 L490.10,421.41 L490.10,423.46 L491.10,423.46 L491.10,422.65 L492.10,422.65 L492.10,422.66 L493.10,422.66 L493.10,421.10 L494.10,421.10 L494.10,423.98 L495.10,423.98 L495.10,422.92 L496.10,422.92 L496.10,425.77 L497.10,425.77 L497.10,423.53 L498.10,423.53 L498.10,424.64 L499.10,424.64 L499.10,425.70 L500.10,425.70 L500.10,425.28 L501.10,425.28 L501.10,424.43 L502.10,424.43 L502.10,426.03 L503.10,426.03 L503.10,424.77 L504.10,424.77 L504.10,424.49 L505.10,424.49 L505.10,424.57 L506.10,424.57 L506.10,424.67 L507.10,424.67 L507.10,427.66 L508.10,427.66 L508.10,426.13 L509.10,426.13 L509.10,427.21 L510.10,427.21 L510.10,425.71 L511.10,425.71 L511.10,426.63 L512.10,426.63 L512.10,426.57 L513.10,426.57 L513.10,426.43 L514.10,426.43 L514.10,427.48 L515.10,427.48 L515.10,426.92 L516.10,426.92 L516.10,427.73 L517.10,427.73 L517.10,425.34 L518.10,425.34 L518.10,427.64 L519.10,427.64 L519.10,427.31 L520.10,427.31 L520.10,428.89 L521.10,428.89 L521.10,428.71 L522.10,428.71 L522.10,428.24 L523.10,428.24 L523.10,427.00 L524.10,427.00 L524.10,427.10 L525.10,427.10 L525.10,427.55 L526.10,427.55 L526.10,428.29 L527.10,428.29 L527.10,426.38 L528.10,426.38 L528.10,428.64 L529.10,428.64 L529.10,428.53 L530.10,428.53 L530.10,427.52 L531.10,427.52 L531.10,428.68 L532.10,428.68 L532.10,427.74 L533.10,427.74 L533.10,427.23 L534.10,427.23 L534.10,428.04 L535.10,428.04 L535.10,427.71 L536.10,427.71 L536.10,428.01 L537.10,428.01 L537.10,428.56 L538.10,428.56 L538.10,430.42 L539.10,430.42 L539.10,429.01 L540.10,429.01 L540.10,428.14 L541.10,428.14 L541.10,429.35 L542.10,429.35 L542.10,428.60 L543.10,428.60 L543.10,428.07 L544.10,428.07 L544.10,427.29 L545.10,427.29 L545.10,429.23 L546.10,429.23 L546.10,428.66 L547.10,428.66 L547.10,428.16 L548.10,428.16 L548.10,427.97 L549.10,427.97 L549.10,429.32 L550.10,429.32 L550.10,427.10 L551.10,427.10 L551.10,428.97 L552.10,428.97 L552.10,427.69 L553.10,427.69 L553.10,428.60 L554.10,428.60 L554.10,428.21 L555.10,428.21 L555.10,432.80 Z" fill="#26358f"/>
<line x1="474.60" y1="398.20" x2="474.60" y2="433.80" stroke="#111" stroke-width="1.70" />
<line x1="473.80" y1="432.80" x2="557.70" y2="432.80" stroke="#111" stroke-width="2.40" />
<path d="M475.10,473.60 L475.10,470.59 L476.10,470.59 L476.10,464.94 L477.10,464.94 L477.10,456.25 L478.10,456.25 L478.10,453.21 L479.10,453.21 L479.10,450.32 L480.10,450.32 L480.10,448.37 L481.10,448.37 L481.10,448.43 L482.10,448.43 L482.10,448.94 L483.10,448.94 L483.10,448.60 L484.10,448.60 L484.10,450.27 L485.10,450.27 L485.10,450.28 L486.10,450.28 L486.10,451.99 L487.10,451.99 L487.10,454.05 L488.10,454.05 L488.10,454.75 L489.10,454.75 L489.10,455.48 L490.10,455.48 L490.10,457.09 L491.10,457.09 L491.10,457.01 L492.10,457.01 L492.10,458.08 L493.10,458.08 L493.10,458.48 L494.10,458.48 L494.10,460.26 L495.10,460.26 L495.10,460.82 L496.10,460.82 L496.10,461.20 L497.10,461.20 L497.10,461.85 L498.10,461.85 L498.10,463.16 L499.10,463.16 L499.10,463.03 L500.10,463.03 L500.10,464.25 L501.10,464.25 L501.10,464.14 L502.10,464.14 L502.10,464.98 L503.10,464.98 L503.10,465.43 L504.10,465.43 L504.10,466.04 L505.10,466.04 L505.10,466.18 L506.10,466.18 L506.10,466.04 L507.10,466.04 L507.10,467.12 L508.10,467.12 L508.10,467.11 L509.10,467.11 L509.10,467.58 L510.10,467.58 L510.10,468.20 L511.10,468.20 L511.10,468.16 L512.10,468.16 L512.10,468.33 L513.10,468.33 L513.10,468.81 L514.10,468.81 L514.10,469.05 L515.10,469.05 L515.10,469.02 L516.10,469.02 L516.10,469.34 L517.10,469.34 L517.10,469.33 L518.10,469.33 L518.10,469.75 L519.10,469.75 L519.10,470.15 L520.10,470.15 L520.10,470.17 L521.10,470.17 L521.10,470.38 L522.10,470.38 L522.10,470.27 L523.10,470.27 L523.10,470.37 L524.10,470.37 L524.10,470.58 L525.10,470.58 L525.10,470.71 L526.10,470.71 L526.10,470.64 L527.10,470.64 L527.10,470.85 L528.10,470.85 L528.10,470.80 L529.10,470.80 L529.10,471.08 L530.10,471.08 L530.10,471.12 L531.10,471.12 L531.10,471.23 L532.10,471.23 L532.10,471.36 L533.10,471.36 L533.10,471.18 L534.10,471.18 L534.10,471.35 L535.10,471.35 L535.10,471.57 L536.10,471.57 L536.10,471.50 L537.10,471.50 L537.10,471.70 L538.10,471.70 L538.10,471.53 L539.10,471.53 L539.10,471.57 L540.10,471.57 L540.10,471.69 L541.10,471.69 L541.10,471.71 L542.10,471.71 L542.10,471.71 L543.10,471.71 L543.10,471.72 L544.10,471.72 L544.10,471.80 L545.10,471.80 L545.10,471.85 L546.10,471.85 L546.10,471.85 L547.10,471.85 L547.10,471.88 L548.10,471.88 L548.10,471.85 L549.10,471.85 L549.10,471.91 L550.10,471.91 L550.10,471.93 L551.10,471.93 L551.10,472.06 L552.10,472.06 L552.10,472.02 L553.10,472.02 L553.10,472.05 L554.10,472.05 L554.10,472.08 L555.10,472.08 L555.10,473.60 Z" fill="#d9302a"/>
<rect x="494.6" y="471.0" width="61.1" height="1.6" fill="#f2b6b6" fill-opacity="0.8"/>
<line x1="474.60" y1="438.80" x2="474.60" y2="474.60" stroke="#111" stroke-width="1.70" />
<line x1="473.80" y1="473.60" x2="557.70" y2="473.60" stroke="#111" stroke-width="2.40" />
<path d="M706.00,431.80 L706.00,399.50 L707.00,399.50 L707.00,405.76 L708.00,405.76 L708.00,402.12 L709.00,402.12 L709.00,407.97 L710.00,407.97 L710.00,413.20 L711.00,413.20 L711.00,414.49 L712.00,414.49 L712.00,416.10 L713.00,416.10 L713.00,416.44 L714.00,416.44 L714.00,416.37 L715.00,416.37 L715.00,416.16 L716.00,416.16 L716.00,418.77 L717.00,418.77 L717.00,417.66 L718.00,417.66 L718.00,419.57 L719.00,419.57 L719.00,420.80 L720.00,420.80 L720.00,421.92 L721.00,421.92 L721.00,423.57 L722.00,423.57 L722.00,424.82 L723.00,424.82 L723.00,422.94 L724.00,422.94 L724.00,423.45 L725.00,423.45 L725.00,423.18 L726.00,423.18 L726.00,423.47 L727.00,423.47 L727.00,425.64 L728.00,425.64 L728.00,425.13 L729.00,425.13 L729.00,425.78 L730.00,425.78 L730.00,423.52 L731.00,423.52 L731.00,424.99 L732.00,424.99 L732.00,424.92 L733.00,424.92 L733.00,426.19 L734.00,426.19 L734.00,426.73 L735.00,426.73 L735.00,426.21 L736.00,426.21 L736.00,425.86 L737.00,425.86 L737.00,425.40 L738.00,425.40 L738.00,427.34 L739.00,427.34 L739.00,425.67 L740.00,425.67 L740.00,426.84 L741.00,426.84 L741.00,426.60 L742.00,426.60 L742.00,426.49 L743.00,426.49 L743.00,426.65 L744.00,426.65 L744.00,425.94 L745.00,425.94 L745.00,425.66 L746.00,425.66 L746.00,426.20 L747.00,426.20 L747.00,427.01 L748.00,427.01 L748.00,426.28 L749.00,426.28 L749.00,426.40 L750.00,426.40 L750.00,426.08 L751.00,426.08 L751.00,426.63 L752.00,426.63 L752.00,428.18 L753.00,428.18 L753.00,427.57 L754.00,427.57 L754.00,427.37 L755.00,427.37 L755.00,426.45 L756.00,426.45 L756.00,427.28 L757.00,427.28 L757.00,426.54 L758.00,426.54 L758.00,427.01 L759.00,427.01 L759.00,428.11 L760.00,428.11 L760.00,427.24 L761.00,427.24 L761.00,426.90 L762.00,426.90 L762.00,427.03 L763.00,427.03 L763.00,428.40 L764.00,428.40 L764.00,427.06 L765.00,427.06 L765.00,427.80 L766.00,427.80 L766.00,428.89 L767.00,428.89 L767.00,427.83 L768.00,427.83 L768.00,428.82 L769.00,428.82 L769.00,428.36 L770.00,428.36 L770.00,426.51 L771.00,426.51 L771.00,425.84 L772.00,425.84 L772.00,426.83 L773.00,426.83 L773.00,427.28 L774.00,427.28 L774.00,426.32 L775.00,426.32 L775.00,427.39 L776.00,427.39 L776.00,428.29 L777.00,428.29 L777.00,429.28 L778.00,429.28 L778.00,427.09 L779.00,427.09 L779.00,429.18 L780.00,429.18 L780.00,429.59 L781.00,429.59 L781.00,428.17 L782.00,428.17 L782.00,427.73 L783.00,427.73 L783.00,428.35 L784.00,428.35 L784.00,427.16 L785.00,427.16 L785.00,427.90 L786.00,427.90 L786.00,431.80 Z" fill="#26358f"/>
<line x1="705.50" y1="399.50" x2="705.50" y2="432.80" stroke="#111" stroke-width="1.70" />
<line x1="704.70" y1="431.80" x2="788.60" y2="431.80" stroke="#111" stroke-width="2.40" />
<path d="M706.00,468.90 L706.00,466.24 L707.00,466.24 L707.00,461.42 L708.00,461.42 L708.00,454.01 L709.00,454.01 L709.00,448.84 L710.00,448.84 L710.00,447.50 L711.00,447.50 L711.00,445.28 L712.00,445.28 L712.00,444.61 L713.00,444.61 L713.00,445.28 L714.00,445.28 L714.00,445.89 L715.00,445.89 L715.00,446.52 L716.00,446.52 L716.00,448.36 L717.00,448.36 L717.00,450.09 L718.00,450.09 L718.00,451.10 L719.00,451.10 L719.00,450.60 L720.00,450.60 L720.00,451.69 L721.00,451.69 L721.00,452.88 L722.00,452.88 L722.00,454.89 L723.00,454.89 L723.00,454.75 L724.00,454.75 L724.00,455.55 L725.00,455.55 L725.00,456.82 L726.00,456.82 L726.00,457.46 L727.00,457.46 L727.00,457.03 L728.00,457.03 L728.00,457.98 L729.00,457.98 L729.00,458.82 L730.00,458.82 L730.00,459.62 L731.00,459.62 L731.00,460.34 L732.00,460.34 L732.00,460.69 L733.00,460.69 L733.00,460.80 L734.00,460.80 L734.00,461.56 L735.00,461.56 L735.00,461.79 L736.00,461.79 L736.00,461.75 L737.00,461.75 L737.00,462.77 L738.00,462.77 L738.00,463.03 L739.00,463.03 L739.00,462.93 L740.00,462.93 L740.00,463.57 L741.00,463.57 L741.00,463.89 L742.00,463.89 L742.00,464.24 L743.00,464.24 L743.00,464.52 L744.00,464.52 L744.00,464.32 L745.00,464.32 L745.00,465.04 L746.00,465.04 L746.00,464.81 L747.00,464.81 L747.00,465.13 L748.00,465.13 L748.00,465.27 L749.00,465.27 L749.00,465.68 L750.00,465.68 L750.00,465.54 L751.00,465.54 L751.00,465.71 L752.00,465.71 L752.00,465.83 L753.00,465.83 L753.00,465.90 L754.00,465.90 L754.00,466.15 L755.00,466.15 L755.00,466.09 L756.00,466.09 L756.00,466.15 L757.00,466.15 L757.00,466.29 L758.00,466.29 L758.00,466.63 L759.00,466.63 L759.00,466.46 L760.00,466.46 L760.00,466.52 L761.00,466.52 L761.00,466.70 L762.00,466.70 L762.00,466.70 L763.00,466.70 L763.00,466.70 L764.00,466.70 L764.00,466.88 L765.00,466.88 L765.00,466.87 L766.00,466.87 L766.00,467.04 L767.00,467.04 L767.00,467.08 L768.00,467.08 L768.00,467.05 L769.00,467.05 L769.00,467.14 L770.00,467.14 L770.00,467.21 L771.00,467.21 L771.00,467.12 L772.00,467.12 L772.00,467.16 L773.00,467.16 L773.00,467.16 L774.00,467.16 L774.00,467.26 L775.00,467.26 L775.00,467.26 L776.00,467.26 L776.00,467.24 L777.00,467.24 L777.00,467.32 L778.00,467.32 L778.00,467.33 L779.00,467.33 L779.00,467.33 L780.00,467.33 L780.00,467.40 L781.00,467.40 L781.00,467.38 L782.00,467.38 L782.00,467.49 L783.00,467.49 L783.00,467.42 L784.00,467.42 L784.00,467.34 L785.00,467.34 L785.00,467.46 L786.00,467.46 L786.00,468.90 Z" fill="#d9302a"/>
<rect x="725.5" y="466.3" width="61.1" height="1.6" fill="#f2b6b6" fill-opacity="0.8"/>
<line x1="705.50" y1="437.20" x2="705.50" y2="469.90" stroke="#111" stroke-width="1.70" />
<line x1="704.70" y1="468.90" x2="788.60" y2="468.90" stroke="#111" stroke-width="2.40" />
<text x="470.66" y="490.00" font-size="13.50" fill="#111" textLength="7.68" lengthAdjust="spacingAndGlyphs" >0</text>
<text x="528.70" y="490.00" font-size="13.50" fill="#111" textLength="45.70" lengthAdjust="spacingAndGlyphs" >200 ms</text>
<text x="702.06" y="485.90" font-size="13.50" fill="#111" textLength="7.68" lengthAdjust="spacingAndGlyphs" >0</text>
<text x="764.30" y="485.90" font-size="13.50" fill="#111" textLength="45.70" lengthAdjust="spacingAndGlyphs" >200 ms</text>
<path d="M410.68,538.18 L416.36,538.56 L422.05,538.18 L427.73,537.05 L435.30,535.72 L442.88,535.34 L450.45,535.15 L458.03,535.72 L465.61,535.72 L473.18,535.15 L480.76,534.77 L488.33,535.34 L495.91,535.72 L503.48,536.67 L511.06,537.61 L518.64,537.61 L526.21,535.15 L533.79,533.83 L539.47,530.61 L545.15,529.66 L550.83,530.98 L557.46,531.93" fill="none" stroke="#d98c82" stroke-width="1.1" stroke-linejoin="round"/>
<path d="M410.68,510.15 L413.52,511.67 L416.36,512.42 L419.20,512.05 L422.05,511.48 L425.83,512.42 L431.52,513.37 L437.20,513.94 L442.88,514.51 L446.67,515.83 L451.40,518.67 L457.08,518.67 L461.82,519.62 L465.61,521.52 L469.39,522.08 L473.18,522.46 L476.97,522.08 L480.76,523.03 L484.55,519.62 L488.33,519.05 L494.02,519.05 L499.70,513.37 L505.38,515.83 L510.11,518.11 L513.90,515.83 L518.64,513.94 L523.37,516.78 L529.05,513.37 L533.79,514.32 L538.52,516.21 L543.26,521.52 L548.94,527.20 L552.73,528.71 L557.46,527.20" fill="none" stroke="#4f5790" stroke-width="1.1" stroke-linejoin="round"/>
<path d="M410.68,531.93 L414.47,532.31 L418.26,531.93 L422.99,530.98 L427.73,528.14 L432.46,527.58 L437.20,528.14 L442.88,528.71 L448.56,530.04 L454.24,530.98 L460.87,532.88 L465.61,521.52 L470.34,522.08 L476.02,520.95 L480.76,523.03 L485.49,523.79 L490.23,527.20 L494.96,529.09 L499.70,529.09 L504.43,527.20 L509.17,528.14 L513.90,528.71 L519.58,533.45 L524.32,534.39 L530.00,533.83 L535.68,532.50 L540.42,530.04 L545.15,529.09 L548.94,529.09 L553.67,529.66 L555.57,534.77 L557.46,539.51" fill="none" stroke="#5aa56a" stroke-width="1.1" stroke-linejoin="round"/>
<line x1="409.30" y1="497.80" x2="409.30" y2="589.60" stroke="#111" stroke-width="1.90" />
<line x1="408.40" y1="588.60" x2="560.30" y2="588.60" stroke="#111" stroke-width="2.20" />
<text x="383.05" y="503.80" font-size="17.50" fill="#111" textLength="20.94" lengthAdjust="spacingAndGlyphs" >55</text>
<text x="393.63" y="594.60" font-size="17.50" fill="#111" textLength="10.94" lengthAdjust="spacingAndGlyphs" >0</text>
<text x="405.31" y="608.80" font-size="17.50" fill="#111" textLength="7.22" lengthAdjust="spacingAndGlyphs" >1</text>
<text x="550.01" y="608.80" font-size="17.50" fill="#111" textLength="20.20" lengthAdjust="spacingAndGlyphs" >30</text>
<text transform="translate(365.80,569.70) rotate(-90)" x="-1.54" y="0" font-size="19.00" fill="#111" textLength="29.24" lengthAdjust="spacingAndGlyphs">MD</text>
<text transform="translate(372.00,540.40) rotate(-90)" x="-0.93" y="0" font-size="13.50" fill="#111" textLength="27.22" lengthAdjust="spacingAndGlyphs">ratio</text>
<line x1="420.40" y1="544.60" x2="445.20" y2="544.60" stroke="#2a3680" stroke-width="2.40" />
<line x1="420.40" y1="561.20" x2="445.20" y2="561.20" stroke="#c8302e" stroke-width="2.40" />
<line x1="420.40" y1="576.20" x2="445.20" y2="576.20" stroke="#3a9552" stroke-width="2.40" />
<text x="452.47" y="550.20" font-size="14.50" fill="#2c3878" textLength="19.40" lengthAdjust="spacingAndGlyphs" >TR</text>
<text x="472.18" y="555.40" font-size="10.00" fill="#2c3878" >D</text>
<text x="452.47" y="565.80" font-size="14.50" fill="#c23a36" textLength="19.40" lengthAdjust="spacingAndGlyphs" >TR</text>
<text x="473.98" y="571.20" font-size="10.00" fill="#c23a36" >I</text>
<text x="481.92" y="565.80" font-size="14.50" fill="#c23a36" textLength="19.66" lengthAdjust="spacingAndGlyphs" >− 1</text>
<text x="452.47" y="580.80" font-size="14.50" fill="#3f9552" textLength="19.40" lengthAdjust="spacingAndGlyphs" >TR</text>
<text x="473.98" y="586.20" font-size="10.00" fill="#3f9552" >I</text>
<text x="481.92" y="580.80" font-size="14.50" fill="#3f9552" textLength="19.68" lengthAdjust="spacingAndGlyphs" >− 2</text>
<path d="M633.64,580.93 L643.37,580.93 L654.49,580.93 L665.62,580.66 L676.74,580.66 L685.08,578.99 L693.43,579.54 L701.77,579.54 L707.33,579.82 L715.67,580.38 L721.23,580.93 L729.58,580.10 L737.92,579.82 L746.26,580.10 L754.61,580.38 L760.17,580.10 L765.73,578.99 L771.29,578.15 L776.85,578.99 L783.80,580.38" fill="none" stroke="#d98c82" stroke-width="1.35" stroke-linejoin="round"/>
<path d="M633.64,526.15 L637.81,526.71 L644.76,530.32 L651.71,521.98 L658.67,518.36 L665.62,520.59 L671.18,524.76 L675.35,518.64 L680.91,521.98 L686.47,521.42 L692.04,520.59 L697.60,523.93 L701.77,523.93 L707.33,526.15 L712.89,522.81 L718.45,523.37 L724.02,526.15 L729.58,526.71 L737.92,525.32 L746.26,525.32 L754.05,521.98 L760.17,525.60 L765.73,528.38 L771.29,528.38 L776.85,530.32 L783.80,531.71" fill="none" stroke="#4f5790" stroke-width="1.35" stroke-linejoin="round"/>
<path d="M633.64,557.58 L640.59,557.30 L648.93,558.13 L657.27,558.13 L665.62,559.52 L673.96,560.08 L682.30,558.13 L691.20,551.74 L698.99,555.35 L707.33,556.74 L712.89,557.58 L721.23,556.18 L729.58,556.74 L737.92,558.13 L746.26,558.69 L754.61,557.58 L762.95,558.13 L771.29,557.58 L776.85,558.13 L783.80,561.75" fill="none" stroke="#5aa56a" stroke-width="1.35" stroke-linejoin="round"/>
<line x1="632.20" y1="499.70" x2="632.20" y2="589.70" stroke="#111" stroke-width="1.90" />
<line x1="631.30" y1="588.70" x2="788.00" y2="588.70" stroke="#111" stroke-width="2.20" />
<text x="628.81" y="609.40" font-size="17.50" fill="#111" textLength="7.22" lengthAdjust="spacingAndGlyphs" >1</text>
<text x="777.91" y="609.40" font-size="17.50" fill="#111" textLength="20.20" lengthAdjust="spacingAndGlyphs" >30</text>
<text x="687.88" y="620.50" font-size="19.00" fill="#111" textLength="46.11" lengthAdjust="spacingAndGlyphs" >Trials</text>
<path d="M414.59,723.65 L417.04,723.60 L420.55,723.54 L424.52,723.44 L428.34,723.28 L431.95,723.06 L435.62,722.80 L439.33,722.45 L443.02,722.00 L446.86,721.38 L450.81,720.64 L454.54,719.85 L457.69,719.06 L460.04,718.36 L461.82,717.70 L463.36,716.93 L465.03,715.94 L466.86,714.71 L468.69,713.29 L470.53,711.69 L472.36,709.89 L474.20,708.06 L476.03,706.15 L477.87,703.82 L479.70,700.72 L481.60,696.26 L483.54,690.78 L485.40,685.37 L487.04,681.09 L488.41,678.24 L489.59,676.24 L490.64,674.88 L491.62,673.94 L492.41,673.47 L493.03,673.54 L493.72,674.00 L494.74,674.67 L496.16,675.66 L497.85,677.00 L499.72,678.46 L501.71,679.81 L503.85,681.00 L506.16,682.15 L508.54,683.27 L510.88,684.39 L513.17,685.51 L515.47,686.62 L517.76,687.71 L520.05,688.80 L522.34,689.86 L524.64,690.92 L526.93,691.97 L529.22,693.02 L531.52,694.06 L533.81,695.10 L536.10,696.15 L538.39,697.23 L540.62,698.32 L542.81,699.40 L545.08,700.55 L547.56,701.82 L550.63,703.41 L554.10,705.22 L557.28,706.90 L559.49,708.06 L559.49,714.66 L557.28,713.52 L554.10,711.88 L550.63,710.12 L547.56,708.61 L545.04,707.41 L542.69,706.34 L540.49,705.39 L538.39,704.57 L536.43,703.92 L534.61,703.42 L532.85,703.00 L531.06,702.55 L529.22,702.08 L527.39,701.61 L525.55,701.16 L523.72,700.72 L521.89,700.31 L520.05,699.93 L518.22,699.53 L516.38,699.07 L514.55,698.55 L512.71,698.00 L510.88,697.39 L509.05,696.68 L507.21,695.76 L505.38,694.68 L503.54,693.68 L501.71,693.02 L499.88,692.62 L498.04,692.40 L496.21,692.58 L494.37,693.38 L492.54,695.03 L490.70,697.35 L488.87,699.98 L487.04,702.55 L485.20,705.14 L483.37,707.87 L481.53,710.51 L479.70,712.82 L477.87,714.73 L476.03,716.36 L474.20,717.78 L472.36,719.06 L470.53,720.21 L468.69,721.19 L466.86,722.03 L465.03,722.73 L463.36,723.26 L461.82,723.61 L460.04,723.89 L457.69,724.20 L454.54,724.54 L450.81,724.88 L446.86,725.20 L443.02,725.48 L439.33,725.72 L435.62,725.92 L431.95,726.08 L428.34,726.21 L424.52,726.30 L420.55,726.35 L417.04,726.38 L414.59,726.40 Z" fill="#cfd0ee" fill-opacity="1.00"/>
<path d="M414.59,725.11 L417.04,725.06 L420.55,724.99 L424.52,724.89 L428.34,724.75 L431.95,724.58 L435.62,724.38 L439.33,724.14 L443.02,723.83 L446.86,723.45 L450.81,723.00 L454.54,722.51 L457.69,722.00 L460.04,721.49 L461.82,720.98 L463.36,720.37 L465.03,719.61 L466.86,718.71 L468.69,717.69 L470.53,716.48 L472.36,715.03 L474.20,713.33 L476.03,711.41 L477.87,709.24 L479.70,706.77 L481.58,703.76 L483.48,700.29 L485.33,696.86 L487.04,693.93 L488.56,691.57 L489.96,689.54 L491.27,687.88 L492.54,686.60 L493.75,685.80 L494.89,685.45 L496.00,685.35 L497.12,685.31 L498.16,685.29 L499.13,685.39 L500.24,685.63 L501.71,686.05 L503.68,686.68 L506.01,687.51 L508.48,688.44 L510.88,689.35 L513.17,690.24 L515.47,691.16 L517.76,692.09 L520.05,693.02 L522.34,693.92 L524.64,694.83 L526.93,695.74 L529.22,696.68 L531.52,697.65 L533.81,698.63 L536.10,699.65 L538.39,700.72 L540.62,701.83 L542.81,702.99 L545.08,704.20 L547.56,705.49 L550.63,707.02 L554.10,708.72 L557.28,710.28 L559.49,711.36" fill="none" stroke="#45468c" stroke-width="1.35" stroke-linejoin="round"/>
<path d="M412.75,882.53 L414.26,882.47 L416.42,882.38 L418.81,882.28 L421.01,882.16 L422.86,882.01 L424.62,881.83 L426.40,881.68 L428.34,881.61 L430.51,881.70 L432.81,881.89 L435.18,882.08 L437.51,882.16 L439.85,882.16 L442.21,882.10 L444.52,881.93 L446.68,881.61 L448.73,881.08 L450.70,880.38 L452.49,879.60 L454.02,878.86 L455.11,878.28 L455.85,877.77 L456.60,877.12 L457.69,876.11 L459.22,874.69 L461.01,872.96 L462.98,870.97 L465.03,868.77 L467.19,866.28 L469.50,863.50 L471.86,860.61 L474.20,857.77 L476.53,854.93 L478.90,852.04 L481.20,849.26 L483.37,846.76 L485.33,844.58 L487.15,842.61 L488.91,840.89 L490.70,839.43 L492.54,838.22 L494.37,837.26 L496.21,836.56 L498.04,836.13 L499.88,835.98 L501.71,836.11 L503.54,836.48 L505.38,837.04 L507.21,837.81 L509.05,838.81 L510.88,839.97 L512.71,841.26 L514.51,842.60 L516.27,844.05 L518.09,845.70 L520.05,847.68 L522.22,850.11 L524.52,852.90 L526.89,855.83 L529.22,858.69 L531.52,861.44 L533.81,864.20 L536.10,866.95 L538.39,869.69 L540.66,872.36 L542.92,874.99 L545.21,877.68 L547.56,880.55 L550.26,883.98 L553.18,887.78 L555.82,891.25 L557.65,893.66 L557.65,902.82 L555.82,901.57 L553.18,899.78 L550.26,897.70 L547.56,895.56 L545.21,893.41 L542.92,891.11 L540.66,888.70 L538.39,886.19 L536.10,883.56 L533.81,880.79 L531.52,877.98 L529.22,875.19 L526.89,872.33 L524.52,869.40 L522.22,866.61 L520.05,864.18 L518.09,862.20 L516.27,860.55 L514.51,859.10 L512.71,857.76 L510.88,856.47 L509.05,855.31 L507.21,854.31 L505.38,853.54 L503.54,852.98 L501.71,852.61 L499.88,852.48 L498.04,852.63 L496.21,853.06 L494.37,853.76 L492.54,854.72 L490.70,855.93 L488.91,857.39 L487.15,859.11 L485.33,861.08 L483.37,863.26 L481.20,865.76 L478.90,868.54 L476.53,871.43 L474.20,874.27 L471.86,877.11 L469.50,880.00 L467.19,882.78 L465.03,885.27 L462.98,887.47 L461.01,889.46 L459.22,891.19 L457.69,892.61 L456.60,893.62 L455.85,894.27 L455.11,894.78 L454.02,895.36 L452.49,896.10 L450.70,896.88 L448.73,897.58 L446.68,898.11 L444.52,898.43 L442.21,898.60 L439.85,898.66 L437.51,898.66 L435.18,898.58 L432.81,898.39 L430.51,898.20 L428.34,898.11 L426.40,898.18 L424.62,898.33 L422.86,898.51 L421.01,898.66 L418.81,898.78 L416.42,898.88 L414.26,898.97 L412.75,899.03 Z" fill="#f2d0d0" fill-opacity="1.00"/>
<path d="M412.75,891.03 L414.26,890.97 L416.42,890.88 L418.81,890.78 L421.01,890.66 L422.86,890.51 L424.62,890.33 L426.40,890.18 L428.34,890.11 L430.51,890.20 L432.81,890.39 L435.18,890.58 L437.51,890.66 L439.85,890.66 L442.21,890.60 L444.52,890.43 L446.68,890.11 L448.73,889.58 L450.70,888.88 L452.49,888.10 L454.02,887.36 L455.11,886.78 L455.85,886.27 L456.60,885.62 L457.69,884.61 L459.22,883.19 L461.01,881.46 L462.98,879.47 L465.03,877.27 L467.19,874.78 L469.50,872.00 L471.86,869.11 L474.20,866.27 L476.53,863.43 L478.90,860.54 L481.20,857.76 L483.37,855.26 L485.33,853.08 L487.15,851.11 L488.91,849.39 L490.70,847.93 L492.54,846.72 L494.37,845.76 L496.21,845.06 L498.04,844.63 L499.88,844.48 L501.71,844.61 L503.54,844.98 L505.38,845.54 L507.21,846.31 L509.05,847.31 L510.88,848.47 L512.71,849.76 L514.51,851.10 L516.27,852.55 L518.09,854.20 L520.05,856.18 L522.22,858.61 L524.52,861.40 L526.89,864.33 L529.22,867.19 L531.52,869.96 L533.81,872.75 L536.10,875.50 L538.39,878.19 L540.66,880.78 L542.92,883.29 L545.21,885.78 L547.56,888.28 L550.26,891.04 L553.18,893.95 L555.82,896.55 L557.65,898.37" fill="none" stroke="#a03535" stroke-width="1.35" stroke-linejoin="round"/>
<path d="M634.84,717.98 L637.07,717.96 L640.28,717.96 L643.85,717.86 L647.15,717.60 L650.06,717.14 L652.89,716.52 L655.69,715.79 L658.51,714.95 L661.39,714.02 L664.31,712.99 L667.16,711.84 L669.87,710.59 L672.46,709.16 L674.96,707.55 L677.28,705.96 L679.34,704.54 L680.98,703.48 L682.30,702.67 L683.56,701.74 L685.02,700.37 L686.78,698.40 L688.69,696.04 L690.66,693.47 L692.59,690.90 L694.49,688.36 L696.38,685.74 L698.28,683.05 L700.17,680.30 L702.11,677.33 L704.07,674.19 L705.98,671.17 L707.74,668.56 L709.32,666.39 L710.76,664.53 L712.11,662.98 L713.42,661.74 L714.63,660.83 L715.73,660.25 L716.86,659.94 L718.16,659.85 L719.66,659.98 L721.29,660.37 L723.02,660.97 L724.79,661.74 L726.57,662.70 L728.40,663.85 L730.31,665.18 L732.36,666.66 L734.59,668.41 L736.98,670.38 L739.42,672.39 L741.83,674.24 L744.19,675.87 L746.56,677.39 L748.93,678.84 L751.30,680.30 L753.71,681.82 L756.15,683.36 L758.53,684.79 L760.76,685.98 L762.79,686.84 L764.67,687.46 L766.49,687.95 L768.34,688.44 L770.14,688.79 L771.89,689.00 L773.75,689.35 L775.91,690.14 L778.75,691.73 L782.07,693.85 L785.14,695.92 L787.27,697.34 L787.27,704.35 L785.96,703.75 L784.08,702.90 L781.90,701.97 L779.70,701.13 L777.47,700.44 L775.08,699.81 L772.64,699.18 L770.23,698.48 L767.86,697.69 L765.50,696.84 L763.13,695.96 L760.76,695.07 L758.40,694.18 L756.03,693.29 L753.66,692.34 L751.30,691.28 L748.93,690.09 L746.56,688.81 L744.19,687.43 L741.83,685.98 L739.42,684.33 L736.98,682.51 L734.59,680.77 L732.36,679.35 L730.29,678.33 L728.34,677.58 L726.50,677.00 L724.79,676.51 L723.23,676.07 L721.83,675.74 L720.48,675.56 L719.10,675.56 L717.68,675.76 L716.26,676.12 L714.84,676.68 L713.42,677.46 L712.05,678.47 L710.70,679.69 L709.30,681.13 L707.74,682.76 L705.98,684.67 L704.07,686.83 L702.11,689.09 L700.17,691.28 L698.28,693.39 L696.38,695.51 L694.49,697.59 L692.59,699.61 L690.66,701.65 L688.69,703.68 L686.78,705.58 L685.02,707.19 L683.56,708.36 L682.30,709.22 L680.98,710.01 L679.34,710.97 L677.28,712.24 L674.96,713.66 L672.46,715.06 L669.87,716.28 L667.16,717.27 L664.31,718.12 L661.39,718.86 L658.51,719.49 L655.69,720.02 L652.89,720.43 L650.06,720.75 L647.15,721.01 L643.85,721.19 L640.28,721.29 L637.07,721.35 L634.84,721.39 Z" fill="#cfd0ee" fill-opacity="1.00"/>
<path d="M634.84,719.68 L637.07,719.66 L640.28,719.62 L643.85,719.53 L647.15,719.31 L650.06,718.94 L652.89,718.48 L655.69,717.90 L658.51,717.22 L661.39,716.44 L664.31,715.55 L667.16,714.55 L669.87,713.43 L672.46,712.10 L674.96,710.59 L677.28,709.09 L679.34,707.75 L680.98,706.79 L682.30,706.04 L683.56,705.20 L685.02,703.97 L686.78,702.19 L688.69,700.06 L690.66,697.75 L692.59,695.45 L694.49,693.15 L696.38,690.77 L698.28,688.37 L700.17,685.98 L702.11,683.52 L704.07,681.01 L705.98,678.61 L707.74,676.51 L709.30,674.75 L710.70,673.23 L712.05,671.93 L713.42,670.83 L714.84,669.92 L716.26,669.21 L717.68,668.69 L719.10,668.37 L720.48,668.22 L721.83,668.26 L723.23,668.50 L724.79,668.94 L726.50,669.57 L728.34,670.39 L730.29,671.43 L732.36,672.72 L734.59,674.39 L736.98,676.39 L739.42,678.45 L741.83,680.30 L744.19,681.87 L746.56,683.32 L748.93,684.67 L751.30,685.98 L753.66,687.25 L756.03,688.46 L758.40,689.62 L760.76,690.71 L763.13,691.74 L765.50,692.70 L767.86,693.61 L770.23,694.50 L772.64,695.35 L775.08,696.16 L777.47,696.94 L779.70,697.72 L781.90,698.56 L784.08,699.43 L785.96,700.21 L787.27,700.75" fill="none" stroke="#45468c" stroke-width="1.35" stroke-linejoin="round"/>
<path d="M635.50,890.60 L643.20,890.55 L650.90,890.46 L658.60,890.37 L666.30,890.27 L674.00,890.15 L681.70,890.04 L689.40,889.91 L697.10,889.78 L704.80,889.64 L712.50,889.50 L720.20,889.36 L727.90,889.21 L735.60,889.06 L743.30,888.90 L751.00,888.74 L758.70,888.58 L766.40,888.41 L774.10,888.25 L781.80,888.07 L789.50,887.90 L789.50,900.20 L781.80,900.37 L774.10,900.55 L766.40,900.71 L758.70,900.88 L751.00,901.04 L743.30,901.20 L735.60,901.36 L727.90,901.51 L720.20,901.66 L712.50,901.80 L704.80,901.94 L697.10,902.08 L689.40,902.21 L681.70,902.34 L674.00,902.45 L666.30,902.57 L658.60,902.67 L650.90,902.76 L643.20,902.85 L635.50,902.90 Z" fill="#f2d0d0" fill-opacity="1.00"/>
<path d="M635.50,896.90 L643.20,896.85 L650.90,896.76 L658.60,896.67 L666.30,896.57 L674.00,896.45 L681.70,896.34 L689.40,896.21 L697.10,896.08 L704.80,895.94 L712.50,895.80 L720.20,895.66 L727.90,895.51 L735.60,895.36 L743.30,895.20 L751.00,895.04 L758.70,894.88 L766.40,894.71 L774.10,894.55 L781.80,894.37 L789.50,894.20" fill="none" stroke="#a03535" stroke-width="1.35" stroke-linejoin="round"/>
<line x1="412.10" y1="635.70" x2="412.10" y2="730.20" stroke="#000" stroke-width="2.20" />
<line x1="411.00" y1="729.00" x2="562.40" y2="729.00" stroke="#000" stroke-width="2.60" />
<line x1="411.70" y1="818.50" x2="411.70" y2="912.50" stroke="#000" stroke-width="2.20" />
<line x1="410.60" y1="911.30" x2="563.20" y2="911.30" stroke="#000" stroke-width="2.60" />
<line x1="634.90" y1="637.40" x2="634.90" y2="731.70" stroke="#000" stroke-width="2.20" />
<line x1="633.80" y1="730.50" x2="789.60" y2="730.50" stroke="#000" stroke-width="2.60" />
<line x1="635.20" y1="818.30" x2="635.20" y2="913.20" stroke="#000" stroke-width="2.20" />
<line x1="634.10" y1="912.00" x2="789.30" y2="912.00" stroke="#000" stroke-width="2.60" />
<text x="383.78" y="641.60" font-size="17.50" fill="#111" textLength="20.76" lengthAdjust="spacingAndGlyphs" >12</text>
<text x="393.44" y="734.60" font-size="17.50" fill="#111" textLength="10.82" lengthAdjust="spacingAndGlyphs" >0</text>
<text x="383.02" y="824.60" font-size="17.50" fill="#111" textLength="21.64" lengthAdjust="spacingAndGlyphs" >10</text>
<text x="394.07" y="917.40" font-size="17.50" fill="#111" textLength="10.37" lengthAdjust="spacingAndGlyphs" >4</text>
<text transform="translate(366.20,933.20) rotate(-90)" x="-1.65" y="0" font-size="19.50" fill="#111" textLength="134.40" lengthAdjust="spacingAndGlyphs">Firing rate (Hz)</text>
<rect x="479.5" y="739.7" width="1.5" height="2.0" fill="#151515"/>
<rect x="483.4" y="740.1" width="1.5" height="2.0" fill="#151515"/>
<rect x="485.8" y="739.2" width="1.5" height="2.0" fill="#151515"/>
<rect x="487.7" y="738.8" width="1.5" height="2.0" fill="#151515"/>
<rect x="491.4" y="738.6" width="1.2" height="3.0" fill="#151515"/>
<rect x="496.3" y="738.9" width="1.5" height="2.0" fill="#151515"/>
<rect x="497.8" y="738.8" width="1.5" height="2.0" fill="#151515"/>
<rect x="499.0" y="738.5" width="2.6" height="1.7" fill="#151515"/>
<rect x="418.5" y="744.2" width="1.2" height="3.0" fill="#151515"/>
<rect x="459.0" y="743.6" width="1.5" height="2.0" fill="#151515"/>
<rect x="463.7" y="744.0" width="1.2" height="3.0" fill="#151515"/>
<rect x="465.5" y="743.5" width="1.2" height="3.0" fill="#151515"/>
<rect x="467.5" y="744.7" width="1.5" height="2.0" fill="#151515"/>
<rect x="478.6" y="743.6" width="1.2" height="3.0" fill="#151515"/>
<rect x="480.2" y="744.2" width="1.2" height="3.0" fill="#151515"/>
<rect x="482.1" y="745.2" width="1.2" height="3.0" fill="#151515"/>
<rect x="484.1" y="744.3" width="1.5" height="2.0" fill="#151515"/>
<rect x="486.0" y="744.3" width="1.5" height="2.0" fill="#151515"/>
<rect x="487.7" y="745.1" width="2.6" height="1.7" fill="#151515"/>
<rect x="489.1" y="744.2" width="1.5" height="2.0" fill="#151515"/>
<rect x="491.6" y="744.1" width="1.5" height="2.0" fill="#151515"/>
<rect x="494.2" y="743.8" width="1.5" height="2.0" fill="#151515"/>
<rect x="496.6" y="744.9" width="1.5" height="2.0" fill="#151515"/>
<rect x="499.5" y="743.9" width="1.5" height="2.0" fill="#151515"/>
<rect x="501.0" y="745.1" width="2.6" height="1.7" fill="#151515"/>
<rect x="502.6" y="743.8" width="1.5" height="2.0" fill="#151515"/>
<rect x="509.0" y="744.8" width="1.2" height="3.0" fill="#151515"/>
<rect x="516.9" y="744.2" width="1.5" height="2.0" fill="#151515"/>
<rect x="540.4" y="744.9" width="1.2" height="3.0" fill="#151515"/>
<rect x="556.0" y="745.3" width="1.5" height="2.0" fill="#151515"/>
<rect x="441.5" y="750.3" width="1.5" height="2.0" fill="#151515"/>
<rect x="442.9" y="749.1" width="1.5" height="2.0" fill="#151515"/>
<rect x="458.3" y="749.7" width="1.5" height="2.0" fill="#151515"/>
<rect x="470.3" y="748.8" width="1.5" height="2.0" fill="#151515"/>
<rect x="475.3" y="749.5" width="1.5" height="2.0" fill="#151515"/>
<rect x="487.6" y="748.8" width="1.2" height="3.0" fill="#151515"/>
<rect x="489.9" y="749.9" width="1.5" height="2.0" fill="#151515"/>
<rect x="493.4" y="749.0" width="1.5" height="2.0" fill="#151515"/>
<rect x="495.8" y="749.7" width="1.5" height="2.0" fill="#151515"/>
<rect x="498.2" y="749.1" width="1.5" height="2.0" fill="#151515"/>
<rect x="502.5" y="749.1" width="1.5" height="2.0" fill="#151515"/>
<rect x="505.1" y="750.2" width="1.5" height="2.0" fill="#151515"/>
<rect x="525.0" y="749.7" width="1.5" height="2.0" fill="#151515"/>
<rect x="549.0" y="750.1" width="1.5" height="2.0" fill="#151515"/>
<rect x="440.5" y="755.7" width="2.6" height="1.7" fill="#151515"/>
<rect x="442.0" y="754.9" width="1.2" height="3.0" fill="#151515"/>
<rect x="447.0" y="755.2" width="1.5" height="2.0" fill="#151515"/>
<rect x="448.3" y="755.0" width="1.5" height="2.0" fill="#151515"/>
<rect x="476.8" y="755.0" width="1.5" height="2.0" fill="#151515"/>
<rect x="478.3" y="754.9" width="1.2" height="3.0" fill="#151515"/>
<rect x="479.7" y="755.0" width="1.5" height="2.0" fill="#151515"/>
<rect x="496.5" y="754.5" width="1.5" height="2.0" fill="#151515"/>
<rect x="506.5" y="754.0" width="2.6" height="1.7" fill="#151515"/>
<rect x="511.3" y="754.0" width="1.5" height="2.0" fill="#151515"/>
<rect x="513.4" y="755.3" width="1.2" height="3.0" fill="#151515"/>
<rect x="515.3" y="755.6" width="1.5" height="2.0" fill="#151515"/>
<rect x="517.4" y="755.5" width="1.5" height="2.0" fill="#151515"/>
<rect x="518.7" y="754.9" width="1.5" height="2.0" fill="#151515"/>
<rect x="531.8" y="754.0" width="1.5" height="2.0" fill="#151515"/>
<rect x="536.3" y="755.5" width="1.5" height="2.0" fill="#151515"/>
<rect x="538.4" y="755.7" width="1.5" height="2.0" fill="#151515"/>
<rect x="431.5" y="759.2" width="1.2" height="3.0" fill="#151515"/>
<rect x="433.4" y="760.3" width="2.6" height="1.7" fill="#151515"/>
<rect x="435.5" y="760.3" width="1.5" height="2.0" fill="#151515"/>
<rect x="472.1" y="759.7" width="1.2" height="3.0" fill="#151515"/>
<rect x="477.2" y="760.6" width="1.5" height="2.0" fill="#151515"/>
<rect x="478.4" y="760.7" width="1.5" height="2.0" fill="#151515"/>
<rect x="479.8" y="759.3" width="1.5" height="2.0" fill="#151515"/>
<rect x="481.3" y="760.2" width="1.5" height="2.0" fill="#151515"/>
<rect x="482.6" y="760.1" width="2.6" height="1.7" fill="#151515"/>
<rect x="498.0" y="760.0" width="1.5" height="2.0" fill="#151515"/>
<rect x="502.5" y="760.1" width="1.5" height="2.0" fill="#151515"/>
<rect x="504.6" y="759.5" width="1.2" height="3.0" fill="#151515"/>
<rect x="519.7" y="760.6" width="1.5" height="2.0" fill="#151515"/>
<rect x="521.3" y="760.9" width="1.2" height="3.0" fill="#151515"/>
<rect x="522.6" y="759.6" width="1.5" height="2.0" fill="#151515"/>
<rect x="541.4" y="760.1" width="2.6" height="1.7" fill="#151515"/>
<rect x="543.0" y="759.7" width="1.5" height="2.0" fill="#151515"/>
<rect x="545.0" y="760.0" width="2.6" height="1.7" fill="#151515"/>
<rect x="412.5" y="765.6" width="1.5" height="2.0" fill="#151515"/>
<rect x="413.9" y="766.1" width="1.5" height="2.0" fill="#151515"/>
<rect x="415.2" y="765.9" width="1.2" height="3.0" fill="#151515"/>
<rect x="416.5" y="765.0" width="1.5" height="2.0" fill="#151515"/>
<rect x="418.1" y="765.7" width="1.5" height="2.0" fill="#151515"/>
<rect x="420.0" y="764.7" width="2.6" height="1.7" fill="#151515"/>
<rect x="421.8" y="765.3" width="1.5" height="2.0" fill="#151515"/>
<rect x="425.5" y="765.4" width="2.6" height="1.7" fill="#151515"/>
<rect x="431.1" y="765.0" width="2.6" height="1.7" fill="#151515"/>
<rect x="433.6" y="765.2" width="1.5" height="2.0" fill="#151515"/>
<rect x="436.1" y="765.6" width="1.2" height="3.0" fill="#151515"/>
<rect x="452.5" y="764.9" width="1.5" height="2.0" fill="#151515"/>
<rect x="458.3" y="765.0" width="1.5" height="2.0" fill="#151515"/>
<rect x="459.7" y="765.9" width="1.5" height="2.0" fill="#151515"/>
<rect x="468.5" y="766.0" width="1.2" height="3.0" fill="#151515"/>
<rect x="473.7" y="765.4" width="1.2" height="3.0" fill="#151515"/>
<rect x="479.7" y="765.7" width="1.5" height="2.0" fill="#151515"/>
<rect x="481.5" y="765.6" width="1.2" height="3.0" fill="#151515"/>
<rect x="483.4" y="765.2" width="1.5" height="2.0" fill="#151515"/>
<rect x="484.9" y="764.9" width="1.2" height="3.0" fill="#151515"/>
<rect x="486.2" y="765.6" width="1.5" height="2.0" fill="#151515"/>
<rect x="491.2" y="765.9" width="1.2" height="3.0" fill="#151515"/>
<rect x="495.6" y="766.1" width="2.6" height="1.7" fill="#151515"/>
<rect x="497.5" y="764.6" width="1.2" height="3.0" fill="#151515"/>
<rect x="509.9" y="765.4" width="1.5" height="2.0" fill="#151515"/>
<rect x="512.7" y="766.1" width="1.5" height="2.0" fill="#151515"/>
<rect x="519.1" y="766.0" width="2.6" height="1.7" fill="#151515"/>
<rect x="526.9" y="764.5" width="1.2" height="3.0" fill="#151515"/>
<rect x="529.5" y="766.0" width="1.2" height="3.0" fill="#151515"/>
<rect x="537.4" y="764.4" width="1.5" height="2.0" fill="#151515"/>
<rect x="412.5" y="769.8" width="1.5" height="2.0" fill="#151515"/>
<rect x="471.6" y="770.9" width="1.2" height="3.0" fill="#151515"/>
<rect x="473.3" y="770.3" width="1.5" height="2.0" fill="#151515"/>
<rect x="475.8" y="770.8" width="1.5" height="2.0" fill="#151515"/>
<rect x="477.5" y="770.8" width="1.2" height="3.0" fill="#151515"/>
<rect x="479.4" y="770.1" width="1.5" height="2.0" fill="#151515"/>
<rect x="481.9" y="771.0" width="1.5" height="2.0" fill="#151515"/>
<rect x="483.5" y="770.9" width="1.5" height="2.0" fill="#151515"/>
<rect x="485.4" y="769.6" width="1.5" height="2.0" fill="#151515"/>
<rect x="488.4" y="770.0" width="1.5" height="2.0" fill="#151515"/>
<rect x="489.7" y="770.2" width="1.5" height="2.0" fill="#151515"/>
<rect x="493.1" y="770.7" width="1.5" height="2.0" fill="#151515"/>
<rect x="519.0" y="770.5" width="1.5" height="2.0" fill="#151515"/>
<rect x="523.3" y="769.6" width="1.2" height="3.0" fill="#151515"/>
<rect x="524.6" y="769.8" width="2.6" height="1.7" fill="#151515"/>
<rect x="526.6" y="771.0" width="1.5" height="2.0" fill="#151515"/>
<rect x="425.5" y="776.0" width="2.6" height="1.7" fill="#151515"/>
<rect x="467.4" y="776.0" width="2.6" height="1.7" fill="#151515"/>
<rect x="468.9" y="775.7" width="1.5" height="2.0" fill="#151515"/>
<rect x="470.7" y="776.2" width="2.6" height="1.7" fill="#151515"/>
<rect x="472.6" y="775.6" width="1.2" height="3.0" fill="#151515"/>
<rect x="474.1" y="774.8" width="2.6" height="1.7" fill="#151515"/>
<rect x="477.9" y="775.7" width="1.5" height="2.0" fill="#151515"/>
<rect x="479.3" y="775.2" width="1.5" height="2.0" fill="#151515"/>
<rect x="481.2" y="775.9" width="1.5" height="2.0" fill="#151515"/>
<rect x="495.7" y="775.7" width="1.2" height="3.0" fill="#151515"/>
<rect x="510.5" y="776.5" width="1.2" height="3.0" fill="#151515"/>
<rect x="511.9" y="776.5" width="2.6" height="1.7" fill="#151515"/>
<rect x="514.0" y="775.4" width="1.5" height="2.0" fill="#151515"/>
<rect x="515.9" y="775.2" width="2.6" height="1.7" fill="#151515"/>
<rect x="518.3" y="776.5" width="1.5" height="2.0" fill="#151515"/>
<rect x="519.6" y="776.2" width="1.5" height="2.0" fill="#151515"/>
<rect x="521.4" y="775.7" width="1.5" height="2.0" fill="#151515"/>
<rect x="523.0" y="775.4" width="2.6" height="1.7" fill="#151515"/>
<rect x="528.6" y="776.0" width="1.5" height="2.0" fill="#151515"/>
<rect x="529.8" y="775.1" width="1.2" height="3.0" fill="#151515"/>
<rect x="453.5" y="780.3" width="1.5" height="2.0" fill="#151515"/>
<rect x="459.6" y="780.4" width="1.5" height="2.0" fill="#151515"/>
<rect x="486.1" y="781.3" width="1.2" height="3.0" fill="#151515"/>
<rect x="496.4" y="781.0" width="1.2" height="3.0" fill="#151515"/>
<rect x="499.2" y="781.7" width="1.5" height="2.0" fill="#151515"/>
<rect x="518.8" y="780.3" width="1.5" height="2.0" fill="#151515"/>
<rect x="520.2" y="780.8" width="1.5" height="2.0" fill="#151515"/>
<rect x="521.8" y="781.7" width="1.5" height="2.0" fill="#151515"/>
<rect x="523.7" y="780.7" width="1.5" height="2.0" fill="#151515"/>
<rect x="525.4" y="780.9" width="2.6" height="1.7" fill="#151515"/>
<rect x="526.9" y="780.6" width="1.5" height="2.0" fill="#151515"/>
<rect x="534.6" y="780.3" width="2.6" height="1.7" fill="#151515"/>
<rect x="536.6" y="781.0" width="1.5" height="2.0" fill="#151515"/>
<rect x="538.6" y="781.7" width="1.5" height="2.0" fill="#151515"/>
<rect x="540.5" y="781.6" width="1.5" height="2.0" fill="#151515"/>
<rect x="542.5" y="781.3" width="1.5" height="2.0" fill="#151515"/>
<rect x="544.4" y="780.4" width="2.6" height="1.7" fill="#151515"/>
<rect x="425.5" y="786.1" width="1.5" height="2.0" fill="#151515"/>
<rect x="473.4" y="786.9" width="1.5" height="2.0" fill="#151515"/>
<rect x="475.0" y="786.8" width="2.6" height="1.7" fill="#151515"/>
<rect x="476.4" y="785.9" width="1.5" height="2.0" fill="#151515"/>
<rect x="477.8" y="785.2" width="2.6" height="1.7" fill="#151515"/>
<rect x="479.8" y="785.9" width="1.5" height="2.0" fill="#151515"/>
<rect x="481.1" y="785.8" width="1.5" height="2.0" fill="#151515"/>
<rect x="484.5" y="785.7" width="2.6" height="1.7" fill="#151515"/>
<rect x="486.1" y="785.6" width="1.5" height="2.0" fill="#151515"/>
<rect x="489.9" y="786.0" width="1.5" height="2.0" fill="#151515"/>
<rect x="498.9" y="785.7" width="1.2" height="3.0" fill="#151515"/>
<rect x="503.9" y="786.9" width="1.5" height="2.0" fill="#151515"/>
<rect x="505.8" y="786.7" width="1.5" height="2.0" fill="#151515"/>
<rect x="507.2" y="786.6" width="1.5" height="2.0" fill="#151515"/>
<rect x="509.0" y="786.4" width="2.6" height="1.7" fill="#151515"/>
<rect x="512.6" y="785.2" width="1.5" height="2.0" fill="#151515"/>
<rect x="523.9" y="785.5" width="2.6" height="1.7" fill="#151515"/>
<rect x="540.4" y="785.9" width="1.5" height="2.0" fill="#151515"/>
<rect x="541.7" y="785.3" width="1.5" height="2.0" fill="#151515"/>
<rect x="544.0" y="785.7" width="1.5" height="2.0" fill="#151515"/>
<rect x="547.0" y="786.8" width="1.5" height="2.0" fill="#151515"/>
<rect x="550.7" y="786.9" width="1.5" height="2.0" fill="#151515"/>
<rect x="552.4" y="785.9" width="1.2" height="3.0" fill="#151515"/>
<rect x="554.4" y="786.9" width="1.5" height="2.0" fill="#151515"/>
<rect x="555.9" y="785.5" width="1.5" height="2.0" fill="#151515"/>
<rect x="557.1" y="786.1" width="1.5" height="2.0" fill="#151515"/>
<rect x="443.5" y="792.1" width="1.2" height="3.0" fill="#151515"/>
<rect x="445.4" y="792.0" width="2.6" height="1.7" fill="#151515"/>
<rect x="464.1" y="791.2" width="1.5" height="2.0" fill="#151515"/>
<rect x="472.0" y="791.6" width="1.5" height="2.0" fill="#151515"/>
<rect x="473.5" y="790.5" width="1.5" height="2.0" fill="#151515"/>
<rect x="474.7" y="790.6" width="1.5" height="2.0" fill="#151515"/>
<rect x="477.2" y="792.1" width="1.5" height="2.0" fill="#151515"/>
<rect x="484.1" y="790.6" width="1.5" height="2.0" fill="#151515"/>
<rect x="485.5" y="792.1" width="1.5" height="2.0" fill="#151515"/>
<rect x="491.5" y="790.7" width="1.5" height="2.0" fill="#151515"/>
<rect x="493.4" y="792.2" width="2.6" height="1.7" fill="#151515"/>
<rect x="495.1" y="791.7" width="2.6" height="1.7" fill="#151515"/>
<rect x="496.3" y="790.9" width="1.2" height="3.0" fill="#151515"/>
<rect x="497.8" y="790.5" width="1.5" height="2.0" fill="#151515"/>
<rect x="499.1" y="791.3" width="1.2" height="3.0" fill="#151515"/>
<rect x="502.6" y="791.2" width="1.5" height="2.0" fill="#151515"/>
<rect x="504.4" y="790.4" width="1.2" height="3.0" fill="#151515"/>
<rect x="505.9" y="791.3" width="1.5" height="2.0" fill="#151515"/>
<rect x="510.7" y="790.7" width="1.5" height="2.0" fill="#151515"/>
<rect x="512.4" y="791.1" width="1.2" height="3.0" fill="#151515"/>
<rect x="525.3" y="791.1" width="1.5" height="2.0" fill="#151515"/>
<rect x="529.8" y="791.1" width="1.5" height="2.0" fill="#151515"/>
<rect x="536.9" y="792.0" width="2.6" height="1.7" fill="#151515"/>
<rect x="540.4" y="791.9" width="1.5" height="2.0" fill="#151515"/>
<rect x="542.0" y="791.2" width="1.5" height="2.0" fill="#151515"/>
<rect x="543.3" y="791.7" width="1.5" height="2.0" fill="#151515"/>
<rect x="545.2" y="791.5" width="1.5" height="2.0" fill="#151515"/>
<rect x="546.9" y="792.1" width="2.6" height="1.7" fill="#151515"/>
<rect x="548.9" y="791.5" width="1.5" height="2.0" fill="#151515"/>
<rect x="430.5" y="797.2" width="1.5" height="2.0" fill="#151515"/>
<rect x="444.9" y="796.9" width="1.5" height="2.0" fill="#151515"/>
<rect x="452.0" y="795.6" width="2.6" height="1.7" fill="#151515"/>
<rect x="453.6" y="797.0" width="1.2" height="3.0" fill="#151515"/>
<rect x="455.6" y="796.4" width="1.5" height="2.0" fill="#151515"/>
<rect x="457.7" y="796.7" width="1.5" height="2.0" fill="#151515"/>
<rect x="459.0" y="796.3" width="2.6" height="1.7" fill="#151515"/>
<rect x="460.9" y="797.3" width="1.5" height="2.0" fill="#151515"/>
<rect x="462.8" y="796.1" width="1.5" height="2.0" fill="#151515"/>
<rect x="471.9" y="796.0" width="1.5" height="2.0" fill="#151515"/>
<rect x="474.0" y="797.3" width="1.2" height="3.0" fill="#151515"/>
<rect x="475.4" y="796.5" width="2.6" height="1.7" fill="#151515"/>
<rect x="477.3" y="797.2" width="1.5" height="2.0" fill="#151515"/>
<rect x="478.8" y="796.0" width="1.2" height="3.0" fill="#151515"/>
<rect x="482.8" y="796.2" width="1.5" height="2.0" fill="#151515"/>
<rect x="491.3" y="797.2" width="1.2" height="3.0" fill="#151515"/>
<rect x="496.8" y="796.3" width="1.5" height="2.0" fill="#151515"/>
<rect x="499.8" y="796.4" width="1.5" height="2.0" fill="#151515"/>
<rect x="504.0" y="796.6" width="1.5" height="2.0" fill="#151515"/>
<rect x="507.6" y="796.8" width="1.5" height="2.0" fill="#151515"/>
<rect x="510.6" y="797.4" width="1.5" height="2.0" fill="#151515"/>
<rect x="523.0" y="796.5" width="1.2" height="3.0" fill="#151515"/>
<rect x="524.5" y="796.3" width="1.5" height="2.0" fill="#151515"/>
<rect x="526.6" y="796.6" width="1.5" height="2.0" fill="#151515"/>
<rect x="547.6" y="796.7" width="1.5" height="2.0" fill="#151515"/>
<rect x="549.0" y="796.2" width="1.5" height="2.0" fill="#151515"/>
<rect x="550.6" y="796.8" width="1.5" height="2.0" fill="#151515"/>
<rect x="514.3" y="752.8" width="5.3" height="1.5" fill="#e3262b"/>
<rect x="527.9" y="777.2" width="1.5" height="4.6" fill="#e3262b"/>
<rect x="538.5" y="770.6" width="1.5" height="5.3" fill="#e3262b"/>
<rect x="545.9" y="764.8" width="3.8" height="1.5" fill="#e3262b"/>
<rect x="537.9" y="747.1" width="1.5" height="5.2" fill="#e3262b"/>
<rect x="492.1" y="784.6" width="5.2" height="1.5" fill="#e3262b"/>
<rect x="546.0" y="749.9" width="1.5" height="5.4" fill="#e3262b"/>
<rect x="496.6" y="778.0" width="5.3" height="1.5" fill="#e3262b"/>
<rect x="535.5" y="795.9" width="4.1" height="1.5" fill="#e3262b"/>
<rect x="530.8" y="774.5" width="5.3" height="1.5" fill="#e3262b"/>
<rect x="546.4" y="756.8" width="4.8" height="1.5" fill="#e3262b"/>
<rect x="516.1" y="775.6" width="1.5" height="4.7" fill="#e3262b"/>
<rect x="489.5" y="745.3" width="1.5" height="5.4" fill="#e3262b"/>
<rect x="517.4" y="780.3" width="1.5" height="5.7" fill="#e3262b"/>
<rect x="533.2" y="758.0" width="3.6" height="1.5" fill="#e3262b"/>
<rect x="490.7" y="787.1" width="1.5" height="5.5" fill="#e3262b"/>
<rect x="424.0" y="920.0" width="1.5" height="2.0" fill="#151515"/>
<rect x="425.9" y="919.4" width="1.5" height="2.0" fill="#151515"/>
<rect x="455.9" y="919.3" width="2.6" height="1.7" fill="#151515"/>
<rect x="462.9" y="919.0" width="2.6" height="1.7" fill="#151515"/>
<rect x="464.7" y="920.7" width="1.5" height="2.0" fill="#151515"/>
<rect x="466.8" y="920.6" width="1.5" height="2.0" fill="#151515"/>
<rect x="481.5" y="920.7" width="1.5" height="2.0" fill="#151515"/>
<rect x="489.5" y="919.3" width="1.5" height="2.0" fill="#151515"/>
<rect x="500.8" y="920.6" width="1.5" height="2.0" fill="#151515"/>
<rect x="502.5" y="919.4" width="1.5" height="2.0" fill="#151515"/>
<rect x="504.0" y="919.4" width="1.5" height="2.0" fill="#151515"/>
<rect x="505.4" y="920.2" width="1.5" height="2.0" fill="#151515"/>
<rect x="507.2" y="919.1" width="1.2" height="3.0" fill="#151515"/>
<rect x="511.4" y="919.6" width="1.2" height="3.0" fill="#151515"/>
<rect x="523.7" y="920.8" width="1.5" height="2.0" fill="#151515"/>
<rect x="528.5" y="919.0" width="1.5" height="2.0" fill="#151515"/>
<rect x="530.4" y="919.3" width="1.5" height="2.0" fill="#151515"/>
<rect x="416.0" y="923.9" width="1.2" height="3.0" fill="#151515"/>
<rect x="429.6" y="925.3" width="1.5" height="2.0" fill="#151515"/>
<rect x="431.4" y="925.2" width="1.5" height="2.0" fill="#151515"/>
<rect x="432.9" y="924.6" width="2.6" height="1.7" fill="#151515"/>
<rect x="434.5" y="924.0" width="1.2" height="3.0" fill="#151515"/>
<rect x="435.8" y="925.4" width="1.5" height="2.0" fill="#151515"/>
<rect x="437.3" y="924.7" width="2.6" height="1.7" fill="#151515"/>
<rect x="439.0" y="924.1" width="1.5" height="2.0" fill="#151515"/>
<rect x="444.0" y="924.3" width="1.5" height="2.0" fill="#151515"/>
<rect x="447.3" y="924.8" width="1.5" height="2.0" fill="#151515"/>
<rect x="449.0" y="925.3" width="1.5" height="2.0" fill="#151515"/>
<rect x="451.0" y="924.9" width="1.5" height="2.0" fill="#151515"/>
<rect x="452.9" y="923.8" width="1.5" height="2.0" fill="#151515"/>
<rect x="455.0" y="924.7" width="1.5" height="2.0" fill="#151515"/>
<rect x="478.3" y="924.0" width="1.2" height="3.0" fill="#151515"/>
<rect x="487.6" y="924.9" width="1.5" height="2.0" fill="#151515"/>
<rect x="490.0" y="924.4" width="1.5" height="2.0" fill="#151515"/>
<rect x="493.6" y="924.9" width="1.5" height="2.0" fill="#151515"/>
<rect x="495.5" y="925.3" width="2.6" height="1.7" fill="#151515"/>
<rect x="502.6" y="924.9" width="1.5" height="2.0" fill="#151515"/>
<rect x="505.1" y="924.1" width="1.2" height="3.0" fill="#151515"/>
<rect x="507.3" y="925.4" width="1.5" height="2.0" fill="#151515"/>
<rect x="509.6" y="923.6" width="1.2" height="3.0" fill="#151515"/>
<rect x="512.8" y="923.8" width="1.5" height="2.0" fill="#151515"/>
<rect x="519.2" y="925.3" width="1.2" height="3.0" fill="#151515"/>
<rect x="520.8" y="924.2" width="1.5" height="2.0" fill="#151515"/>
<rect x="522.4" y="924.4" width="2.6" height="1.7" fill="#151515"/>
<rect x="523.8" y="924.9" width="1.2" height="3.0" fill="#151515"/>
<rect x="525.6" y="924.7" width="1.5" height="2.0" fill="#151515"/>
<rect x="526.9" y="924.6" width="1.5" height="2.0" fill="#151515"/>
<rect x="529.0" y="925.0" width="1.5" height="2.0" fill="#151515"/>
<rect x="532.3" y="923.7" width="1.5" height="2.0" fill="#151515"/>
<rect x="533.7" y="923.9" width="1.5" height="2.0" fill="#151515"/>
<rect x="535.1" y="925.0" width="1.5" height="2.0" fill="#151515"/>
<rect x="536.9" y="925.2" width="1.5" height="2.0" fill="#151515"/>
<rect x="548.3" y="924.4" width="2.6" height="1.7" fill="#151515"/>
<rect x="552.2" y="924.4" width="1.5" height="2.0" fill="#151515"/>
<rect x="553.7" y="924.4" width="1.5" height="2.0" fill="#151515"/>
<rect x="442.0" y="929.8" width="2.6" height="1.7" fill="#151515"/>
<rect x="443.7" y="928.8" width="1.5" height="2.0" fill="#151515"/>
<rect x="445.3" y="929.3" width="1.5" height="2.0" fill="#151515"/>
<rect x="446.8" y="929.2" width="1.2" height="3.0" fill="#151515"/>
<rect x="458.0" y="929.4" width="1.5" height="2.0" fill="#151515"/>
<rect x="469.0" y="929.1" width="1.2" height="3.0" fill="#151515"/>
<rect x="470.8" y="929.6" width="2.6" height="1.7" fill="#151515"/>
<rect x="472.5" y="928.5" width="1.5" height="2.0" fill="#151515"/>
<rect x="475.2" y="928.7" width="1.5" height="2.0" fill="#151515"/>
<rect x="477.0" y="928.3" width="1.2" height="3.0" fill="#151515"/>
<rect x="478.9" y="929.4" width="1.2" height="3.0" fill="#151515"/>
<rect x="486.3" y="929.5" width="1.5" height="2.0" fill="#151515"/>
<rect x="489.5" y="929.4" width="1.2" height="3.0" fill="#151515"/>
<rect x="490.9" y="930.0" width="1.5" height="2.0" fill="#151515"/>
<rect x="492.8" y="929.6" width="1.2" height="3.0" fill="#151515"/>
<rect x="494.7" y="928.6" width="1.5" height="2.0" fill="#151515"/>
<rect x="495.9" y="929.4" width="2.6" height="1.7" fill="#151515"/>
<rect x="497.4" y="928.7" width="2.6" height="1.7" fill="#151515"/>
<rect x="501.0" y="929.6" width="2.6" height="1.7" fill="#151515"/>
<rect x="504.9" y="929.0" width="1.2" height="3.0" fill="#151515"/>
<rect x="509.2" y="928.3" width="2.6" height="1.7" fill="#151515"/>
<rect x="510.8" y="928.3" width="1.5" height="2.0" fill="#151515"/>
<rect x="514.7" y="928.9" width="2.6" height="1.7" fill="#151515"/>
<rect x="517.6" y="928.5" width="2.6" height="1.7" fill="#151515"/>
<rect x="519.0" y="929.5" width="1.5" height="2.0" fill="#151515"/>
<rect x="522.0" y="928.7" width="1.2" height="3.0" fill="#151515"/>
<rect x="540.4" y="929.9" width="1.5" height="2.0" fill="#151515"/>
<rect x="541.8" y="928.9" width="1.5" height="2.0" fill="#151515"/>
<rect x="549.4" y="928.5" width="1.2" height="3.0" fill="#151515"/>
<rect x="556.9" y="929.7" width="2.6" height="1.7" fill="#151515"/>
<rect x="456.0" y="934.0" width="1.5" height="2.0" fill="#151515"/>
<rect x="464.3" y="933.1" width="1.2" height="3.0" fill="#151515"/>
<rect x="465.9" y="934.5" width="2.6" height="1.7" fill="#151515"/>
<rect x="492.7" y="934.2" width="1.5" height="2.0" fill="#151515"/>
<rect x="508.9" y="934.2" width="1.5" height="2.0" fill="#151515"/>
<rect x="510.7" y="934.5" width="1.5" height="2.0" fill="#151515"/>
<rect x="512.5" y="933.0" width="1.2" height="3.0" fill="#151515"/>
<rect x="520.1" y="934.3" width="1.5" height="2.0" fill="#151515"/>
<rect x="522.2" y="934.3" width="1.2" height="3.0" fill="#151515"/>
<rect x="554.1" y="933.4" width="1.2" height="3.0" fill="#151515"/>
<rect x="555.7" y="934.3" width="1.5" height="2.0" fill="#151515"/>
<rect x="557.0" y="933.3" width="1.5" height="2.0" fill="#151515"/>
<rect x="423.0" y="937.7" width="1.5" height="2.0" fill="#151515"/>
<rect x="436.5" y="937.5" width="1.2" height="3.0" fill="#151515"/>
<rect x="438.0" y="938.3" width="1.5" height="2.0" fill="#151515"/>
<rect x="461.6" y="938.5" width="1.2" height="3.0" fill="#151515"/>
<rect x="468.6" y="938.8" width="1.2" height="3.0" fill="#151515"/>
<rect x="470.0" y="938.5" width="1.2" height="3.0" fill="#151515"/>
<rect x="471.3" y="939.0" width="2.6" height="1.7" fill="#151515"/>
<rect x="472.9" y="937.9" width="2.6" height="1.7" fill="#151515"/>
<rect x="474.8" y="938.4" width="1.2" height="3.0" fill="#151515"/>
<rect x="476.4" y="938.6" width="1.5" height="2.0" fill="#151515"/>
<rect x="478.1" y="939.1" width="1.5" height="2.0" fill="#151515"/>
<rect x="482.8" y="938.0" width="1.5" height="2.0" fill="#151515"/>
<rect x="489.6" y="938.9" width="1.2" height="3.0" fill="#151515"/>
<rect x="491.2" y="937.9" width="1.5" height="2.0" fill="#151515"/>
<rect x="493.3" y="938.1" width="1.5" height="2.0" fill="#151515"/>
<rect x="494.9" y="937.7" width="1.5" height="2.0" fill="#151515"/>
<rect x="496.3" y="938.6" width="1.5" height="2.0" fill="#151515"/>
<rect x="498.3" y="939.2" width="1.5" height="2.0" fill="#151515"/>
<rect x="501.1" y="938.3" width="1.2" height="3.0" fill="#151515"/>
<rect x="502.4" y="937.5" width="1.5" height="2.0" fill="#151515"/>
<rect x="503.9" y="938.4" width="1.5" height="2.0" fill="#151515"/>
<rect x="505.3" y="938.7" width="1.5" height="2.0" fill="#151515"/>
<rect x="506.8" y="938.1" width="1.5" height="2.0" fill="#151515"/>
<rect x="510.9" y="937.9" width="1.5" height="2.0" fill="#151515"/>
<rect x="516.3" y="939.2" width="1.5" height="2.0" fill="#151515"/>
<rect x="517.8" y="938.8" width="1.2" height="3.0" fill="#151515"/>
<rect x="520.8" y="937.6" width="1.5" height="2.0" fill="#151515"/>
<rect x="526.5" y="938.5" width="1.5" height="2.0" fill="#151515"/>
<rect x="528.0" y="938.7" width="1.2" height="3.0" fill="#151515"/>
<rect x="540.5" y="939.0" width="1.2" height="3.0" fill="#151515"/>
<rect x="542.2" y="938.0" width="1.5" height="2.0" fill="#151515"/>
<rect x="557.5" y="939.0" width="1.2" height="3.0" fill="#151515"/>
<rect x="449.0" y="943.1" width="1.5" height="2.0" fill="#151515"/>
<rect x="469.4" y="942.2" width="1.5" height="2.0" fill="#151515"/>
<rect x="473.7" y="943.5" width="1.5" height="2.0" fill="#151515"/>
<rect x="475.4" y="943.7" width="1.5" height="2.0" fill="#151515"/>
<rect x="476.9" y="942.1" width="1.2" height="3.0" fill="#151515"/>
<rect x="478.9" y="943.9" width="1.5" height="2.0" fill="#151515"/>
<rect x="480.2" y="943.1" width="1.5" height="2.0" fill="#151515"/>
<rect x="490.6" y="942.2" width="1.5" height="2.0" fill="#151515"/>
<rect x="492.6" y="942.4" width="1.5" height="2.0" fill="#151515"/>
<rect x="494.5" y="943.0" width="1.5" height="2.0" fill="#151515"/>
<rect x="496.5" y="943.3" width="1.5" height="2.0" fill="#151515"/>
<rect x="521.1" y="943.3" width="2.6" height="1.7" fill="#151515"/>
<rect x="528.1" y="943.2" width="1.2" height="3.0" fill="#151515"/>
<rect x="529.6" y="942.8" width="1.2" height="3.0" fill="#151515"/>
<rect x="553.9" y="942.8" width="1.2" height="3.0" fill="#151515"/>
<rect x="555.3" y="943.7" width="1.5" height="2.0" fill="#151515"/>
<rect x="412.0" y="948.3" width="2.6" height="1.7" fill="#151515"/>
<rect x="414.4" y="948.4" width="2.6" height="1.7" fill="#151515"/>
<rect x="446.6" y="946.8" width="2.6" height="1.7" fill="#151515"/>
<rect x="447.9" y="947.7" width="1.5" height="2.0" fill="#151515"/>
<rect x="449.5" y="946.8" width="1.5" height="2.0" fill="#151515"/>
<rect x="472.7" y="948.0" width="1.2" height="3.0" fill="#151515"/>
<rect x="492.7" y="947.8" width="1.5" height="2.0" fill="#151515"/>
<rect x="505.2" y="947.6" width="1.2" height="3.0" fill="#151515"/>
<rect x="509.1" y="947.0" width="2.6" height="1.7" fill="#151515"/>
<rect x="510.3" y="947.5" width="2.6" height="1.7" fill="#151515"/>
<rect x="511.6" y="948.4" width="1.2" height="3.0" fill="#151515"/>
<rect x="542.1" y="946.9" width="1.5" height="2.0" fill="#151515"/>
<rect x="453.0" y="952.8" width="1.5" height="2.0" fill="#151515"/>
<rect x="454.9" y="952.9" width="1.5" height="2.0" fill="#151515"/>
<rect x="459.2" y="951.8" width="1.5" height="2.0" fill="#151515"/>
<rect x="470.6" y="951.5" width="1.2" height="3.0" fill="#151515"/>
<rect x="472.2" y="952.6" width="1.5" height="2.0" fill="#151515"/>
<rect x="475.1" y="951.5" width="2.6" height="1.7" fill="#151515"/>
<rect x="489.8" y="951.8" width="1.5" height="2.0" fill="#151515"/>
<rect x="493.2" y="953.1" width="2.6" height="1.7" fill="#151515"/>
<rect x="501.9" y="952.9" width="1.5" height="2.0" fill="#151515"/>
<rect x="507.3" y="952.4" width="1.5" height="2.0" fill="#151515"/>
<rect x="514.6" y="952.2" width="1.2" height="3.0" fill="#151515"/>
<rect x="540.3" y="953.0" width="1.2" height="3.0" fill="#151515"/>
<rect x="545.2" y="952.6" width="2.6" height="1.7" fill="#151515"/>
<rect x="547.2" y="952.1" width="2.6" height="1.7" fill="#151515"/>
<rect x="548.9" y="953.0" width="1.5" height="2.0" fill="#151515"/>
<rect x="554.8" y="952.0" width="1.5" height="2.0" fill="#151515"/>
<rect x="418.0" y="956.1" width="1.5" height="2.0" fill="#151515"/>
<rect x="470.3" y="956.2" width="1.5" height="2.0" fill="#151515"/>
<rect x="475.2" y="957.6" width="1.5" height="2.0" fill="#151515"/>
<rect x="476.5" y="957.0" width="1.5" height="2.0" fill="#151515"/>
<rect x="478.5" y="956.2" width="1.2" height="3.0" fill="#151515"/>
<rect x="484.3" y="957.3" width="1.5" height="2.0" fill="#151515"/>
<rect x="486.2" y="956.9" width="1.5" height="2.0" fill="#151515"/>
<rect x="488.2" y="956.8" width="1.2" height="3.0" fill="#151515"/>
<rect x="489.8" y="956.0" width="1.5" height="2.0" fill="#151515"/>
<rect x="491.7" y="956.6" width="1.5" height="2.0" fill="#151515"/>
<rect x="493.2" y="956.3" width="1.5" height="2.0" fill="#151515"/>
<rect x="495.0" y="956.1" width="2.6" height="1.7" fill="#151515"/>
<rect x="498.9" y="956.9" width="1.5" height="2.0" fill="#151515"/>
<rect x="500.1" y="957.4" width="2.6" height="1.7" fill="#151515"/>
<rect x="509.6" y="956.7" width="1.5" height="2.0" fill="#151515"/>
<rect x="511.6" y="957.5" width="1.5" height="2.0" fill="#151515"/>
<rect x="514.6" y="957.2" width="2.6" height="1.7" fill="#151515"/>
<rect x="516.3" y="956.0" width="1.5" height="2.0" fill="#151515"/>
<rect x="517.8" y="957.3" width="1.5" height="2.0" fill="#151515"/>
<rect x="519.3" y="956.2" width="1.2" height="3.0" fill="#151515"/>
<rect x="521.2" y="957.7" width="1.2" height="3.0" fill="#151515"/>
<rect x="522.6" y="956.1" width="2.6" height="1.7" fill="#151515"/>
<rect x="536.3" y="956.4" width="1.5" height="2.0" fill="#151515"/>
<rect x="545.8" y="955.9" width="1.2" height="3.0" fill="#151515"/>
<rect x="549.5" y="956.0" width="1.5" height="2.0" fill="#151515"/>
<rect x="488.0" y="961.5" width="2.6" height="1.7" fill="#151515"/>
<rect x="489.5" y="961.9" width="1.5" height="2.0" fill="#151515"/>
<rect x="491.5" y="960.9" width="1.5" height="2.0" fill="#151515"/>
<rect x="493.1" y="960.9" width="1.5" height="2.0" fill="#151515"/>
<rect x="494.6" y="960.7" width="1.2" height="3.0" fill="#151515"/>
<rect x="496.3" y="960.9" width="1.5" height="2.0" fill="#151515"/>
<rect x="498.3" y="960.8" width="1.5" height="2.0" fill="#151515"/>
<rect x="505.6" y="961.9" width="1.5" height="2.0" fill="#151515"/>
<rect x="508.9" y="961.4" width="1.5" height="2.0" fill="#151515"/>
<rect x="511.8" y="961.1" width="1.5" height="2.0" fill="#151515"/>
<rect x="516.8" y="961.2" width="1.5" height="2.0" fill="#151515"/>
<rect x="530.4" y="961.0" width="1.2" height="3.0" fill="#151515"/>
<rect x="532.2" y="960.6" width="1.5" height="2.0" fill="#151515"/>
<rect x="550.6" y="960.8" width="1.5" height="2.0" fill="#151515"/>
<rect x="552.4" y="961.7" width="1.5" height="2.0" fill="#151515"/>
<rect x="455.0" y="965.6" width="1.5" height="2.0" fill="#151515"/>
<rect x="461.3" y="965.5" width="1.5" height="2.0" fill="#151515"/>
<rect x="477.8" y="965.8" width="1.5" height="2.0" fill="#151515"/>
<rect x="489.7" y="966.7" width="2.6" height="1.7" fill="#151515"/>
<rect x="494.9" y="965.6" width="1.5" height="2.0" fill="#151515"/>
<rect x="496.4" y="965.3" width="1.5" height="2.0" fill="#151515"/>
<rect x="497.9" y="966.7" width="1.5" height="2.0" fill="#151515"/>
<rect x="499.4" y="965.7" width="1.2" height="3.0" fill="#151515"/>
<rect x="501.5" y="965.9" width="1.2" height="3.0" fill="#151515"/>
<rect x="503.5" y="966.7" width="1.2" height="3.0" fill="#151515"/>
<rect x="509.1" y="966.8" width="1.5" height="2.0" fill="#151515"/>
<rect x="510.9" y="966.0" width="2.6" height="1.7" fill="#151515"/>
<rect x="520.4" y="966.4" width="1.5" height="2.0" fill="#151515"/>
<rect x="522.8" y="965.9" width="2.6" height="1.7" fill="#151515"/>
<rect x="525.6" y="965.5" width="1.5" height="2.0" fill="#151515"/>
<rect x="536.9" y="966.3" width="1.5" height="2.0" fill="#151515"/>
<rect x="540.4" y="965.7" width="1.5" height="2.0" fill="#151515"/>
<rect x="541.9" y="965.5" width="2.6" height="1.7" fill="#151515"/>
<rect x="543.8" y="965.5" width="2.6" height="1.7" fill="#151515"/>
<rect x="545.5" y="966.0" width="1.2" height="3.0" fill="#151515"/>
<rect x="547.5" y="966.1" width="1.5" height="2.0" fill="#151515"/>
<rect x="455.0" y="971.3" width="2.6" height="1.7" fill="#151515"/>
<rect x="505.1" y="970.9" width="1.5" height="2.0" fill="#151515"/>
<rect x="506.8" y="969.8" width="1.5" height="2.0" fill="#151515"/>
<rect x="508.4" y="969.8" width="1.5" height="2.0" fill="#151515"/>
<rect x="552.6" y="970.6" width="1.5" height="2.0" fill="#151515"/>
<rect x="554.7" y="971.2" width="1.5" height="2.0" fill="#151515"/>
<rect x="413.0" y="974.7" width="1.2" height="3.0" fill="#151515"/>
<rect x="415.0" y="976.1" width="1.5" height="2.0" fill="#151515"/>
<rect x="418.5" y="975.6" width="1.2" height="3.0" fill="#151515"/>
<rect x="491.0" y="974.9" width="1.5" height="2.0" fill="#151515"/>
<rect x="493.0" y="974.9" width="2.6" height="1.7" fill="#151515"/>
<rect x="494.6" y="974.7" width="1.5" height="2.0" fill="#151515"/>
<rect x="496.6" y="975.9" width="1.2" height="3.0" fill="#151515"/>
<rect x="498.3" y="974.6" width="1.5" height="2.0" fill="#151515"/>
<rect x="499.5" y="975.3" width="1.5" height="2.0" fill="#151515"/>
<rect x="505.0" y="975.1" width="2.6" height="1.7" fill="#151515"/>
<rect x="531.0" y="975.9" width="1.5" height="2.0" fill="#151515"/>
<rect x="544.4" y="975.5" width="1.5" height="2.0" fill="#151515"/>
<rect x="552.1" y="975.0" width="1.5" height="2.0" fill="#151515"/>
<rect x="557.0" y="975.7" width="2.6" height="1.7" fill="#151515"/>
<rect x="532.8" y="919.8" width="1.5" height="4.3" fill="#e3262b"/>
<rect x="539.3" y="953.4" width="1.5" height="4.0" fill="#e3262b"/>
<rect x="518.3" y="922.0" width="4.5" height="1.5" fill="#e3262b"/>
<rect x="491.8" y="928.7" width="1.5" height="5.0" fill="#e3262b"/>
<rect x="504.8" y="948.8" width="1.5" height="3.8" fill="#e3262b"/>
<rect x="544.0" y="954.5" width="1.5" height="4.1" fill="#e3262b"/>
<rect x="554.1" y="937.8" width="3.7" height="1.5" fill="#e3262b"/>
<rect x="546.8" y="949.6" width="1.5" height="5.4" fill="#e3262b"/>
<rect x="525.9" y="968.6" width="1.5" height="5.0" fill="#e3262b"/>
<rect x="545.6" y="950.4" width="1.5" height="5.1" fill="#e3262b"/>
<rect x="537.2" y="922.9" width="4.1" height="1.5" fill="#e3262b"/>
<rect x="495.3" y="932.5" width="4.1" height="1.5" fill="#e3262b"/>
<rect x="532.6" y="937.3" width="1.5" height="4.3" fill="#e3262b"/>
<rect x="507.9" y="966.7" width="1.5" height="5.1" fill="#e3262b"/>
<rect x="674.0" y="739.1" width="1.5" height="2.0" fill="#151515"/>
<rect x="685.4" y="738.9" width="1.5" height="2.0" fill="#151515"/>
<rect x="694.2" y="739.3" width="1.2" height="3.0" fill="#151515"/>
<rect x="697.5" y="739.4" width="1.5" height="2.0" fill="#151515"/>
<rect x="701.5" y="739.7" width="1.5" height="2.0" fill="#151515"/>
<rect x="705.7" y="739.5" width="1.5" height="2.0" fill="#151515"/>
<rect x="709.7" y="739.3" width="1.2" height="3.0" fill="#151515"/>
<rect x="712.2" y="739.9" width="1.5" height="2.0" fill="#151515"/>
<rect x="714.7" y="740.1" width="1.5" height="2.0" fill="#151515"/>
<rect x="716.6" y="740.2" width="2.6" height="1.7" fill="#151515"/>
<rect x="718.5" y="739.6" width="1.5" height="2.0" fill="#151515"/>
<rect x="723.4" y="739.1" width="1.5" height="2.0" fill="#151515"/>
<rect x="726.2" y="740.3" width="1.5" height="2.0" fill="#151515"/>
<rect x="733.2" y="738.6" width="1.5" height="2.0" fill="#151515"/>
<rect x="735.2" y="739.4" width="1.2" height="3.0" fill="#151515"/>
<rect x="736.9" y="738.9" width="1.5" height="2.0" fill="#151515"/>
<rect x="738.7" y="739.2" width="1.5" height="2.0" fill="#151515"/>
<rect x="740.7" y="739.5" width="1.5" height="2.0" fill="#151515"/>
<rect x="741.9" y="739.8" width="2.6" height="1.7" fill="#151515"/>
<rect x="743.9" y="739.5" width="1.5" height="2.0" fill="#151515"/>
<rect x="763.4" y="738.8" width="1.5" height="2.0" fill="#151515"/>
<rect x="777.2" y="740.0" width="1.5" height="2.0" fill="#151515"/>
<rect x="681.0" y="745.5" width="1.5" height="2.0" fill="#151515"/>
<rect x="691.4" y="744.6" width="2.6" height="1.7" fill="#151515"/>
<rect x="697.6" y="744.8" width="2.6" height="1.7" fill="#151515"/>
<rect x="699.6" y="744.3" width="1.5" height="2.0" fill="#151515"/>
<rect x="700.9" y="744.3" width="1.5" height="2.0" fill="#151515"/>
<rect x="702.3" y="745.2" width="1.2" height="3.0" fill="#151515"/>
<rect x="704.1" y="745.2" width="1.5" height="2.0" fill="#151515"/>
<rect x="705.9" y="744.3" width="1.5" height="2.0" fill="#151515"/>
<rect x="710.2" y="745.2" width="1.5" height="2.0" fill="#151515"/>
<rect x="711.7" y="743.9" width="1.2" height="3.0" fill="#151515"/>
<rect x="715.5" y="744.7" width="1.5" height="2.0" fill="#151515"/>
<rect x="717.4" y="743.9" width="1.5" height="2.0" fill="#151515"/>
<rect x="718.9" y="744.3" width="1.5" height="2.0" fill="#151515"/>
<rect x="720.7" y="744.4" width="1.5" height="2.0" fill="#151515"/>
<rect x="724.2" y="744.3" width="1.5" height="2.0" fill="#151515"/>
<rect x="725.7" y="744.8" width="1.5" height="2.0" fill="#151515"/>
<rect x="727.4" y="743.8" width="1.5" height="2.0" fill="#151515"/>
<rect x="730.2" y="744.9" width="1.5" height="2.0" fill="#151515"/>
<rect x="731.5" y="744.8" width="1.5" height="2.0" fill="#151515"/>
<rect x="732.9" y="744.7" width="1.5" height="2.0" fill="#151515"/>
<rect x="734.6" y="745.1" width="1.5" height="2.0" fill="#151515"/>
<rect x="736.4" y="744.1" width="1.5" height="2.0" fill="#151515"/>
<rect x="738.3" y="745.5" width="1.5" height="2.0" fill="#151515"/>
<rect x="740.1" y="744.3" width="2.6" height="1.7" fill="#151515"/>
<rect x="743.5" y="745.4" width="1.2" height="3.0" fill="#151515"/>
<rect x="745.2" y="744.4" width="1.5" height="2.0" fill="#151515"/>
<rect x="778.0" y="744.7" width="1.2" height="3.0" fill="#151515"/>
<rect x="637.0" y="749.5" width="1.2" height="3.0" fill="#151515"/>
<rect x="658.4" y="748.9" width="1.5" height="2.0" fill="#151515"/>
<rect x="659.7" y="749.7" width="2.6" height="1.7" fill="#151515"/>
<rect x="661.8" y="749.6" width="1.2" height="3.0" fill="#151515"/>
<rect x="663.5" y="749.0" width="1.5" height="2.0" fill="#151515"/>
<rect x="665.4" y="750.3" width="1.2" height="3.0" fill="#151515"/>
<rect x="667.5" y="749.5" width="1.2" height="3.0" fill="#151515"/>
<rect x="688.4" y="749.2" width="1.5" height="2.0" fill="#151515"/>
<rect x="697.1" y="750.6" width="1.2" height="3.0" fill="#151515"/>
<rect x="698.7" y="749.2" width="1.5" height="2.0" fill="#151515"/>
<rect x="700.7" y="750.5" width="1.5" height="2.0" fill="#151515"/>
<rect x="701.9" y="749.7" width="2.6" height="1.7" fill="#151515"/>
<rect x="703.9" y="750.4" width="1.5" height="2.0" fill="#151515"/>
<rect x="705.3" y="750.2" width="1.5" height="2.0" fill="#151515"/>
<rect x="706.8" y="750.6" width="1.5" height="2.0" fill="#151515"/>
<rect x="709.4" y="749.3" width="1.5" height="2.0" fill="#151515"/>
<rect x="711.5" y="749.1" width="1.5" height="2.0" fill="#151515"/>
<rect x="714.6" y="749.3" width="2.6" height="1.7" fill="#151515"/>
<rect x="716.5" y="749.1" width="2.6" height="1.7" fill="#151515"/>
<rect x="719.5" y="750.3" width="1.5" height="2.0" fill="#151515"/>
<rect x="722.4" y="750.3" width="1.2" height="3.0" fill="#151515"/>
<rect x="724.7" y="749.7" width="2.6" height="1.7" fill="#151515"/>
<rect x="727.7" y="750.3" width="1.2" height="3.0" fill="#151515"/>
<rect x="729.6" y="749.6" width="1.2" height="3.0" fill="#151515"/>
<rect x="733.3" y="749.1" width="1.5" height="2.0" fill="#151515"/>
<rect x="743.0" y="750.5" width="1.5" height="2.0" fill="#151515"/>
<rect x="745.1" y="750.1" width="1.5" height="2.0" fill="#151515"/>
<rect x="749.8" y="749.9" width="1.5" height="2.0" fill="#151515"/>
<rect x="751.6" y="749.0" width="1.5" height="2.0" fill="#151515"/>
<rect x="753.2" y="749.9" width="1.5" height="2.0" fill="#151515"/>
<rect x="755.1" y="749.2" width="1.5" height="2.0" fill="#151515"/>
<rect x="756.6" y="750.5" width="1.5" height="2.0" fill="#151515"/>
<rect x="758.0" y="749.6" width="1.5" height="2.0" fill="#151515"/>
<rect x="765.5" y="750.0" width="1.5" height="2.0" fill="#151515"/>
<rect x="640.0" y="754.6" width="1.5" height="2.0" fill="#151515"/>
<rect x="672.0" y="754.1" width="1.5" height="2.0" fill="#151515"/>
<rect x="687.6" y="755.5" width="1.5" height="2.0" fill="#151515"/>
<rect x="693.5" y="754.6" width="1.5" height="2.0" fill="#151515"/>
<rect x="696.8" y="755.6" width="1.5" height="2.0" fill="#151515"/>
<rect x="700.8" y="754.0" width="2.6" height="1.7" fill="#151515"/>
<rect x="703.7" y="754.7" width="1.5" height="2.0" fill="#151515"/>
<rect x="706.6" y="754.3" width="1.5" height="2.0" fill="#151515"/>
<rect x="709.2" y="754.1" width="2.6" height="1.7" fill="#151515"/>
<rect x="711.8" y="755.7" width="1.2" height="3.0" fill="#151515"/>
<rect x="713.6" y="754.5" width="1.2" height="3.0" fill="#151515"/>
<rect x="715.1" y="754.5" width="1.5" height="2.0" fill="#151515"/>
<rect x="716.6" y="754.1" width="1.5" height="2.0" fill="#151515"/>
<rect x="718.0" y="754.4" width="1.5" height="2.0" fill="#151515"/>
<rect x="719.9" y="755.5" width="1.5" height="2.0" fill="#151515"/>
<rect x="721.7" y="755.6" width="1.5" height="2.0" fill="#151515"/>
<rect x="724.5" y="755.6" width="1.2" height="3.0" fill="#151515"/>
<rect x="727.1" y="754.2" width="2.6" height="1.7" fill="#151515"/>
<rect x="729.1" y="755.2" width="1.2" height="3.0" fill="#151515"/>
<rect x="736.4" y="755.4" width="2.6" height="1.7" fill="#151515"/>
<rect x="782.0" y="754.0" width="1.5" height="2.0" fill="#151515"/>
<rect x="640.0" y="760.1" width="1.5" height="2.0" fill="#151515"/>
<rect x="685.6" y="759.2" width="2.6" height="1.7" fill="#151515"/>
<rect x="687.5" y="760.1" width="1.5" height="2.0" fill="#151515"/>
<rect x="689.3" y="759.8" width="1.5" height="2.0" fill="#151515"/>
<rect x="690.9" y="759.8" width="1.5" height="2.0" fill="#151515"/>
<rect x="692.2" y="760.2" width="1.5" height="2.0" fill="#151515"/>
<rect x="693.6" y="759.4" width="1.2" height="3.0" fill="#151515"/>
<rect x="700.2" y="760.1" width="1.5" height="2.0" fill="#151515"/>
<rect x="702.2" y="760.3" width="1.2" height="3.0" fill="#151515"/>
<rect x="704.5" y="760.9" width="1.5" height="2.0" fill="#151515"/>
<rect x="707.2" y="760.4" width="1.5" height="2.0" fill="#151515"/>
<rect x="710.2" y="760.1" width="1.2" height="3.0" fill="#151515"/>
<rect x="712.0" y="760.5" width="1.5" height="2.0" fill="#151515"/>
<rect x="713.6" y="760.6" width="1.5" height="2.0" fill="#151515"/>
<rect x="715.6" y="760.3" width="1.5" height="2.0" fill="#151515"/>
<rect x="717.6" y="759.6" width="2.6" height="1.7" fill="#151515"/>
<rect x="720.6" y="760.2" width="1.5" height="2.0" fill="#151515"/>
<rect x="723.8" y="760.9" width="2.6" height="1.7" fill="#151515"/>
<rect x="725.0" y="759.6" width="1.5" height="2.0" fill="#151515"/>
<rect x="727.0" y="759.3" width="1.5" height="2.0" fill="#151515"/>
<rect x="729.0" y="760.5" width="1.5" height="2.0" fill="#151515"/>
<rect x="730.6" y="760.4" width="1.5" height="2.0" fill="#151515"/>
<rect x="732.6" y="760.4" width="1.5" height="2.0" fill="#151515"/>
<rect x="735.1" y="759.2" width="1.5" height="2.0" fill="#151515"/>
<rect x="736.6" y="760.4" width="1.5" height="2.0" fill="#151515"/>
<rect x="737.8" y="759.4" width="2.6" height="1.7" fill="#151515"/>
<rect x="739.6" y="760.9" width="1.5" height="2.0" fill="#151515"/>
<rect x="740.9" y="759.3" width="1.5" height="2.0" fill="#151515"/>
<rect x="759.9" y="759.2" width="2.6" height="1.7" fill="#151515"/>
<rect x="761.8" y="760.3" width="1.5" height="2.0" fill="#151515"/>
<rect x="775.2" y="759.8" width="1.2" height="3.0" fill="#151515"/>
<rect x="776.5" y="760.3" width="1.5" height="2.0" fill="#151515"/>
<rect x="646.0" y="765.1" width="1.5" height="2.0" fill="#151515"/>
<rect x="687.7" y="765.8" width="1.5" height="2.0" fill="#151515"/>
<rect x="690.7" y="764.5" width="1.5" height="2.0" fill="#151515"/>
<rect x="699.6" y="765.9" width="1.2" height="3.0" fill="#151515"/>
<rect x="702.8" y="765.5" width="1.5" height="2.0" fill="#151515"/>
<rect x="704.5" y="765.0" width="1.2" height="3.0" fill="#151515"/>
<rect x="706.5" y="766.1" width="1.5" height="2.0" fill="#151515"/>
<rect x="708.1" y="765.3" width="2.6" height="1.7" fill="#151515"/>
<rect x="709.6" y="764.3" width="1.5" height="2.0" fill="#151515"/>
<rect x="711.6" y="764.5" width="1.5" height="2.0" fill="#151515"/>
<rect x="715.3" y="765.5" width="2.6" height="1.7" fill="#151515"/>
<rect x="716.6" y="765.0" width="1.5" height="2.0" fill="#151515"/>
<rect x="719.1" y="764.6" width="1.2" height="3.0" fill="#151515"/>
<rect x="720.9" y="764.7" width="1.5" height="2.0" fill="#151515"/>
<rect x="722.2" y="765.1" width="1.2" height="3.0" fill="#151515"/>
<rect x="723.7" y="764.8" width="1.5" height="2.0" fill="#151515"/>
<rect x="725.8" y="764.7" width="1.5" height="2.0" fill="#151515"/>
<rect x="727.2" y="765.2" width="1.2" height="3.0" fill="#151515"/>
<rect x="729.2" y="765.3" width="2.6" height="1.7" fill="#151515"/>
<rect x="735.6" y="764.9" width="1.5" height="2.0" fill="#151515"/>
<rect x="737.5" y="765.2" width="1.5" height="2.0" fill="#151515"/>
<rect x="748.4" y="765.1" width="1.2" height="3.0" fill="#151515"/>
<rect x="782.2" y="765.8" width="2.6" height="1.7" fill="#151515"/>
<rect x="640.0" y="770.1" width="1.5" height="2.0" fill="#151515"/>
<rect x="662.0" y="769.6" width="1.5" height="2.0" fill="#151515"/>
<rect x="663.6" y="770.5" width="1.5" height="2.0" fill="#151515"/>
<rect x="665.6" y="770.9" width="1.2" height="3.0" fill="#151515"/>
<rect x="667.4" y="770.8" width="1.5" height="2.0" fill="#151515"/>
<rect x="669.2" y="769.5" width="1.5" height="2.0" fill="#151515"/>
<rect x="679.1" y="770.6" width="1.5" height="2.0" fill="#151515"/>
<rect x="680.8" y="771.0" width="1.5" height="2.0" fill="#151515"/>
<rect x="682.5" y="769.7" width="2.6" height="1.7" fill="#151515"/>
<rect x="684.3" y="771.2" width="1.5" height="2.0" fill="#151515"/>
<rect x="685.7" y="769.5" width="1.5" height="2.0" fill="#151515"/>
<rect x="687.3" y="769.9" width="1.2" height="3.0" fill="#151515"/>
<rect x="688.7" y="771.1" width="1.5" height="2.0" fill="#151515"/>
<rect x="691.1" y="770.3" width="1.5" height="2.0" fill="#151515"/>
<rect x="692.6" y="769.6" width="1.5" height="2.0" fill="#151515"/>
<rect x="697.4" y="770.8" width="1.5" height="2.0" fill="#151515"/>
<rect x="699.6" y="769.7" width="1.5" height="2.0" fill="#151515"/>
<rect x="701.7" y="770.0" width="1.5" height="2.0" fill="#151515"/>
<rect x="703.9" y="769.5" width="1.2" height="3.0" fill="#151515"/>
<rect x="705.2" y="770.7" width="1.5" height="2.0" fill="#151515"/>
<rect x="706.8" y="770.5" width="1.5" height="2.0" fill="#151515"/>
<rect x="708.3" y="770.9" width="1.5" height="2.0" fill="#151515"/>
<rect x="710.1" y="769.5" width="1.5" height="2.0" fill="#151515"/>
<rect x="712.4" y="769.5" width="1.2" height="3.0" fill="#151515"/>
<rect x="714.9" y="769.5" width="1.5" height="2.0" fill="#151515"/>
<rect x="717.6" y="769.5" width="1.5" height="2.0" fill="#151515"/>
<rect x="719.3" y="770.4" width="1.5" height="2.0" fill="#151515"/>
<rect x="720.5" y="770.8" width="1.2" height="3.0" fill="#151515"/>
<rect x="722.8" y="769.7" width="1.5" height="2.0" fill="#151515"/>
<rect x="724.0" y="771.0" width="2.6" height="1.7" fill="#151515"/>
<rect x="726.0" y="770.1" width="1.5" height="2.0" fill="#151515"/>
<rect x="727.7" y="769.5" width="1.5" height="2.0" fill="#151515"/>
<rect x="729.7" y="771.2" width="1.5" height="2.0" fill="#151515"/>
<rect x="744.1" y="770.7" width="2.6" height="1.7" fill="#151515"/>
<rect x="745.3" y="770.0" width="1.5" height="2.0" fill="#151515"/>
<rect x="749.9" y="771.2" width="1.5" height="2.0" fill="#151515"/>
<rect x="751.5" y="770.5" width="2.6" height="1.7" fill="#151515"/>
<rect x="758.8" y="770.5" width="1.5" height="2.0" fill="#151515"/>
<rect x="670.0" y="775.3" width="1.5" height="2.0" fill="#151515"/>
<rect x="675.6" y="776.3" width="2.6" height="1.7" fill="#151515"/>
<rect x="697.1" y="775.5" width="1.5" height="2.0" fill="#151515"/>
<rect x="700.0" y="775.3" width="1.2" height="3.0" fill="#151515"/>
<rect x="704.4" y="776.3" width="2.6" height="1.7" fill="#151515"/>
<rect x="706.7" y="775.2" width="1.5" height="2.0" fill="#151515"/>
<rect x="708.0" y="774.9" width="1.5" height="2.0" fill="#151515"/>
<rect x="709.8" y="775.3" width="1.5" height="2.0" fill="#151515"/>
<rect x="711.5" y="775.3" width="1.5" height="2.0" fill="#151515"/>
<rect x="714.4" y="775.5" width="1.5" height="2.0" fill="#151515"/>
<rect x="716.4" y="775.5" width="1.5" height="2.0" fill="#151515"/>
<rect x="717.6" y="775.4" width="1.2" height="3.0" fill="#151515"/>
<rect x="719.6" y="776.0" width="2.6" height="1.7" fill="#151515"/>
<rect x="722.4" y="775.6" width="1.5" height="2.0" fill="#151515"/>
<rect x="725.8" y="774.9" width="1.5" height="2.0" fill="#151515"/>
<rect x="728.6" y="775.9" width="2.6" height="1.7" fill="#151515"/>
<rect x="734.3" y="775.2" width="2.6" height="1.7" fill="#151515"/>
<rect x="741.1" y="775.8" width="1.5" height="2.0" fill="#151515"/>
<rect x="750.0" y="775.0" width="1.2" height="3.0" fill="#151515"/>
<rect x="767.0" y="775.8" width="1.2" height="3.0" fill="#151515"/>
<rect x="772.7" y="776.0" width="1.5" height="2.0" fill="#151515"/>
<rect x="658.0" y="779.9" width="1.2" height="3.0" fill="#151515"/>
<rect x="659.5" y="780.0" width="2.6" height="1.7" fill="#151515"/>
<rect x="689.3" y="780.3" width="1.5" height="2.0" fill="#151515"/>
<rect x="690.8" y="781.4" width="1.5" height="2.0" fill="#151515"/>
<rect x="692.4" y="781.1" width="1.2" height="3.0" fill="#151515"/>
<rect x="693.6" y="781.2" width="1.5" height="2.0" fill="#151515"/>
<rect x="695.4" y="780.8" width="1.2" height="3.0" fill="#151515"/>
<rect x="699.4" y="780.2" width="1.5" height="2.0" fill="#151515"/>
<rect x="701.9" y="781.3" width="2.6" height="1.7" fill="#151515"/>
<rect x="703.8" y="781.0" width="1.5" height="2.0" fill="#151515"/>
<rect x="705.3" y="780.5" width="1.2" height="3.0" fill="#151515"/>
<rect x="706.8" y="780.6" width="1.2" height="3.0" fill="#151515"/>
<rect x="708.1" y="780.9" width="1.5" height="2.0" fill="#151515"/>
<rect x="709.5" y="780.9" width="1.2" height="3.0" fill="#151515"/>
<rect x="711.6" y="780.9" width="2.6" height="1.7" fill="#151515"/>
<rect x="714.5" y="780.9" width="1.5" height="2.0" fill="#151515"/>
<rect x="715.7" y="781.4" width="1.5" height="2.0" fill="#151515"/>
<rect x="716.9" y="781.0" width="1.5" height="2.0" fill="#151515"/>
<rect x="718.8" y="779.8" width="1.5" height="2.0" fill="#151515"/>
<rect x="721.2" y="781.3" width="1.5" height="2.0" fill="#151515"/>
<rect x="722.9" y="781.2" width="1.5" height="2.0" fill="#151515"/>
<rect x="726.0" y="781.2" width="1.5" height="2.0" fill="#151515"/>
<rect x="728.0" y="781.2" width="1.5" height="2.0" fill="#151515"/>
<rect x="729.4" y="780.5" width="1.5" height="2.0" fill="#151515"/>
<rect x="734.0" y="781.3" width="1.2" height="3.0" fill="#151515"/>
<rect x="738.4" y="781.2" width="1.2" height="3.0" fill="#151515"/>
<rect x="740.2" y="780.9" width="1.5" height="2.0" fill="#151515"/>
<rect x="741.7" y="780.1" width="2.6" height="1.7" fill="#151515"/>
<rect x="772.7" y="780.3" width="1.5" height="2.0" fill="#151515"/>
<rect x="774.7" y="780.5" width="1.2" height="3.0" fill="#151515"/>
<rect x="776.8" y="780.2" width="1.5" height="2.0" fill="#151515"/>
<rect x="778.7" y="780.6" width="1.5" height="2.0" fill="#151515"/>
<rect x="780.1" y="780.9" width="1.5" height="2.0" fill="#151515"/>
<rect x="782.0" y="780.2" width="1.5" height="2.0" fill="#151515"/>
<rect x="659.0" y="785.6" width="1.5" height="2.0" fill="#151515"/>
<rect x="687.4" y="785.6" width="1.5" height="2.0" fill="#151515"/>
<rect x="689.4" y="785.7" width="1.5" height="2.0" fill="#151515"/>
<rect x="690.6" y="785.6" width="1.5" height="2.0" fill="#151515"/>
<rect x="698.8" y="786.6" width="1.5" height="2.0" fill="#151515"/>
<rect x="700.6" y="785.0" width="1.5" height="2.0" fill="#151515"/>
<rect x="703.5" y="785.2" width="1.5" height="2.0" fill="#151515"/>
<rect x="704.9" y="785.7" width="1.5" height="2.0" fill="#151515"/>
<rect x="706.1" y="785.1" width="1.2" height="3.0" fill="#151515"/>
<rect x="707.7" y="786.5" width="1.2" height="3.0" fill="#151515"/>
<rect x="709.8" y="785.3" width="1.5" height="2.0" fill="#151515"/>
<rect x="712.5" y="785.7" width="1.5" height="2.0" fill="#151515"/>
<rect x="714.7" y="786.5" width="1.5" height="2.0" fill="#151515"/>
<rect x="716.0" y="786.2" width="1.5" height="2.0" fill="#151515"/>
<rect x="717.8" y="786.0" width="1.2" height="3.0" fill="#151515"/>
<rect x="720.8" y="785.2" width="1.2" height="3.0" fill="#151515"/>
<rect x="722.5" y="786.2" width="1.5" height="2.0" fill="#151515"/>
<rect x="725.5" y="786.5" width="2.6" height="1.7" fill="#151515"/>
<rect x="727.7" y="786.4" width="1.2" height="3.0" fill="#151515"/>
<rect x="732.1" y="785.6" width="1.2" height="3.0" fill="#151515"/>
<rect x="733.8" y="786.4" width="1.5" height="2.0" fill="#151515"/>
<rect x="735.4" y="784.9" width="1.5" height="2.0" fill="#151515"/>
<rect x="737.2" y="786.4" width="2.6" height="1.7" fill="#151515"/>
<rect x="738.5" y="785.9" width="1.5" height="2.0" fill="#151515"/>
<rect x="740.4" y="786.0" width="1.5" height="2.0" fill="#151515"/>
<rect x="746.1" y="786.4" width="1.5" height="2.0" fill="#151515"/>
<rect x="748.2" y="785.1" width="2.6" height="1.7" fill="#151515"/>
<rect x="753.9" y="786.6" width="1.2" height="3.0" fill="#151515"/>
<rect x="755.8" y="786.3" width="1.5" height="2.0" fill="#151515"/>
<rect x="768.4" y="786.0" width="1.2" height="3.0" fill="#151515"/>
<rect x="668.0" y="791.2" width="1.5" height="2.0" fill="#151515"/>
<rect x="685.5" y="790.8" width="1.2" height="3.0" fill="#151515"/>
<rect x="686.9" y="791.2" width="1.5" height="2.0" fill="#151515"/>
<rect x="688.6" y="790.5" width="1.2" height="3.0" fill="#151515"/>
<rect x="690.0" y="791.6" width="1.2" height="3.0" fill="#151515"/>
<rect x="693.8" y="791.7" width="1.5" height="2.0" fill="#151515"/>
<rect x="695.9" y="791.1" width="1.5" height="2.0" fill="#151515"/>
<rect x="698.0" y="790.6" width="1.5" height="2.0" fill="#151515"/>
<rect x="705.5" y="790.4" width="2.6" height="1.7" fill="#151515"/>
<rect x="706.8" y="791.5" width="1.5" height="2.0" fill="#151515"/>
<rect x="708.5" y="791.2" width="1.5" height="2.0" fill="#151515"/>
<rect x="710.9" y="790.7" width="2.6" height="1.7" fill="#151515"/>
<rect x="715.3" y="791.7" width="1.5" height="2.0" fill="#151515"/>
<rect x="717.4" y="791.1" width="1.5" height="2.0" fill="#151515"/>
<rect x="719.4" y="790.0" width="2.6" height="1.7" fill="#151515"/>
<rect x="721.6" y="790.3" width="1.5" height="2.0" fill="#151515"/>
<rect x="725.6" y="791.1" width="1.5" height="2.0" fill="#151515"/>
<rect x="727.6" y="791.0" width="2.6" height="1.7" fill="#151515"/>
<rect x="729.6" y="790.1" width="1.5" height="2.0" fill="#151515"/>
<rect x="731.0" y="790.7" width="1.5" height="2.0" fill="#151515"/>
<rect x="732.4" y="791.5" width="1.5" height="2.0" fill="#151515"/>
<rect x="733.8" y="791.4" width="1.2" height="3.0" fill="#151515"/>
<rect x="735.5" y="791.6" width="1.5" height="2.0" fill="#151515"/>
<rect x="738.8" y="791.1" width="1.5" height="2.0" fill="#151515"/>
<rect x="740.1" y="790.3" width="1.5" height="2.0" fill="#151515"/>
<rect x="741.8" y="791.7" width="2.6" height="1.7" fill="#151515"/>
<rect x="747.0" y="790.3" width="2.6" height="1.7" fill="#151515"/>
<rect x="758.0" y="790.2" width="1.5" height="2.0" fill="#151515"/>
<rect x="780.9" y="791.5" width="1.5" height="2.0" fill="#151515"/>
<rect x="652.0" y="795.9" width="2.6" height="1.7" fill="#151515"/>
<rect x="691.5" y="796.5" width="1.5" height="2.0" fill="#151515"/>
<rect x="697.1" y="796.7" width="1.2" height="3.0" fill="#151515"/>
<rect x="702.8" y="796.1" width="1.2" height="3.0" fill="#151515"/>
<rect x="704.5" y="795.2" width="1.5" height="2.0" fill="#151515"/>
<rect x="707.1" y="795.6" width="1.2" height="3.0" fill="#151515"/>
<rect x="710.8" y="796.6" width="1.2" height="3.0" fill="#151515"/>
<rect x="712.1" y="796.4" width="1.5" height="2.0" fill="#151515"/>
<rect x="715.0" y="796.1" width="1.5" height="2.0" fill="#151515"/>
<rect x="718.1" y="796.8" width="1.5" height="2.0" fill="#151515"/>
<rect x="720.3" y="795.6" width="1.5" height="2.0" fill="#151515"/>
<rect x="723.2" y="796.8" width="1.5" height="2.0" fill="#151515"/>
<rect x="724.8" y="796.9" width="1.5" height="2.0" fill="#151515"/>
<rect x="726.2" y="795.5" width="1.5" height="2.0" fill="#151515"/>
<rect x="727.7" y="796.3" width="1.2" height="3.0" fill="#151515"/>
<rect x="731.2" y="796.1" width="1.5" height="2.0" fill="#151515"/>
<rect x="734.9" y="796.6" width="1.5" height="2.0" fill="#151515"/>
<rect x="736.4" y="795.4" width="1.5" height="2.0" fill="#151515"/>
<rect x="738.2" y="796.1" width="1.5" height="2.0" fill="#151515"/>
<rect x="740.2" y="795.5" width="1.5" height="2.0" fill="#151515"/>
<rect x="775.7" y="796.5" width="2.6" height="1.7" fill="#151515"/>
<rect x="718.4" y="779.3" width="4.4" height="1.5" fill="#e3262b"/>
<rect x="757.6" y="782.8" width="1.5" height="4.9" fill="#e3262b"/>
<rect x="717.2" y="762.3" width="1.5" height="5.7" fill="#e3262b"/>
<rect x="749.9" y="780.6" width="1.5" height="4.2" fill="#e3262b"/>
<rect x="768.8" y="784.3" width="1.5" height="4.0" fill="#e3262b"/>
<rect x="747.8" y="765.9" width="1.5" height="5.1" fill="#e3262b"/>
<rect x="747.4" y="770.4" width="1.5" height="3.9" fill="#e3262b"/>
<rect x="719.8" y="791.2" width="1.5" height="4.5" fill="#e3262b"/>
<rect x="771.1" y="769.4" width="5.2" height="1.5" fill="#e3262b"/>
<rect x="752.2" y="790.7" width="1.5" height="4.0" fill="#e3262b"/>
<rect x="754.6" y="782.4" width="1.5" height="4.5" fill="#e3262b"/>
<rect x="748.8" y="779.6" width="5.2" height="1.5" fill="#e3262b"/>
<rect x="764.4" y="740.6" width="1.5" height="4.6" fill="#e3262b"/>
<rect x="727.5" y="772.1" width="1.5" height="5.0" fill="#e3262b"/>
<rect x="723.0" y="765.9" width="1.5" height="5.9" fill="#e3262b"/>
<rect x="760.3" y="740.1" width="1.5" height="5.1" fill="#e3262b"/>
<rect x="654.5" y="919.0" width="1.2" height="3.0" fill="#151515"/>
<rect x="705.4" y="918.9" width="1.5" height="2.0" fill="#151515"/>
<rect x="706.8" y="918.9" width="1.5" height="2.0" fill="#151515"/>
<rect x="708.6" y="918.5" width="1.2" height="3.0" fill="#151515"/>
<rect x="741.4" y="919.1" width="1.5" height="2.0" fill="#151515"/>
<rect x="742.6" y="918.9" width="1.5" height="2.0" fill="#151515"/>
<rect x="744.6" y="918.6" width="1.5" height="2.0" fill="#151515"/>
<rect x="759.2" y="918.9" width="1.5" height="2.0" fill="#151515"/>
<rect x="776.9" y="919.3" width="2.6" height="1.7" fill="#151515"/>
<rect x="778.6" y="919.3" width="1.5" height="2.0" fill="#151515"/>
<rect x="780.4" y="918.6" width="1.5" height="2.0" fill="#151515"/>
<rect x="653.5" y="921.5" width="1.5" height="2.0" fill="#151515"/>
<rect x="655.6" y="922.1" width="1.2" height="3.0" fill="#151515"/>
<rect x="657.3" y="921.5" width="1.5" height="2.0" fill="#151515"/>
<rect x="659.0" y="922.1" width="1.5" height="2.0" fill="#151515"/>
<rect x="660.8" y="921.5" width="1.5" height="2.0" fill="#151515"/>
<rect x="698.0" y="922.2" width="1.5" height="2.0" fill="#151515"/>
<rect x="700.0" y="921.5" width="1.5" height="2.0" fill="#151515"/>
<rect x="725.4" y="921.9" width="2.6" height="1.7" fill="#151515"/>
<rect x="703.5" y="924.0" width="1.5" height="2.0" fill="#151515"/>
<rect x="712.3" y="924.1" width="1.5" height="2.0" fill="#151515"/>
<rect x="716.0" y="924.9" width="2.6" height="1.7" fill="#151515"/>
<rect x="724.6" y="924.4" width="1.5" height="2.0" fill="#151515"/>
<rect x="726.0" y="924.2" width="1.5" height="2.0" fill="#151515"/>
<rect x="729.1" y="924.4" width="2.6" height="1.7" fill="#151515"/>
<rect x="730.6" y="924.7" width="1.5" height="2.0" fill="#151515"/>
<rect x="731.8" y="924.8" width="1.5" height="2.0" fill="#151515"/>
<rect x="733.9" y="924.9" width="1.5" height="2.0" fill="#151515"/>
<rect x="735.2" y="924.4" width="1.2" height="3.0" fill="#151515"/>
<rect x="737.3" y="924.5" width="1.2" height="3.0" fill="#151515"/>
<rect x="738.9" y="924.5" width="2.6" height="1.7" fill="#151515"/>
<rect x="760.4" y="924.0" width="1.5" height="2.0" fill="#151515"/>
<rect x="762.3" y="924.9" width="1.2" height="3.0" fill="#151515"/>
<rect x="777.1" y="924.1" width="1.5" height="2.0" fill="#151515"/>
<rect x="654.5" y="926.7" width="1.5" height="2.0" fill="#151515"/>
<rect x="655.8" y="927.6" width="1.5" height="2.0" fill="#151515"/>
<rect x="657.1" y="927.3" width="1.2" height="3.0" fill="#151515"/>
<rect x="668.8" y="927.0" width="1.5" height="2.0" fill="#151515"/>
<rect x="678.1" y="927.3" width="1.5" height="2.0" fill="#151515"/>
<rect x="703.7" y="926.9" width="1.5" height="2.0" fill="#151515"/>
<rect x="714.1" y="926.8" width="2.6" height="1.7" fill="#151515"/>
<rect x="719.8" y="927.6" width="1.5" height="2.0" fill="#151515"/>
<rect x="727.7" y="927.5" width="1.5" height="2.0" fill="#151515"/>
<rect x="729.2" y="927.5" width="1.5" height="2.0" fill="#151515"/>
<rect x="730.8" y="927.1" width="1.2" height="3.0" fill="#151515"/>
<rect x="732.2" y="927.3" width="1.5" height="2.0" fill="#151515"/>
<rect x="733.6" y="927.6" width="1.5" height="2.0" fill="#151515"/>
<rect x="734.9" y="927.5" width="1.5" height="2.0" fill="#151515"/>
<rect x="749.7" y="926.7" width="1.2" height="3.0" fill="#151515"/>
<rect x="753.1" y="927.4" width="1.2" height="3.0" fill="#151515"/>
<rect x="773.5" y="927.5" width="1.5" height="2.0" fill="#151515"/>
<rect x="778.8" y="927.0" width="2.6" height="1.7" fill="#151515"/>
<rect x="785.0" y="926.8" width="1.5" height="2.0" fill="#151515"/>
<rect x="650.5" y="929.5" width="1.5" height="2.0" fill="#151515"/>
<rect x="657.6" y="930.2" width="1.2" height="3.0" fill="#151515"/>
<rect x="660.2" y="929.7" width="1.5" height="2.0" fill="#151515"/>
<rect x="669.8" y="930.0" width="1.5" height="2.0" fill="#151515"/>
<rect x="671.8" y="930.2" width="1.5" height="2.0" fill="#151515"/>
<rect x="673.5" y="929.6" width="1.2" height="3.0" fill="#151515"/>
<rect x="675.3" y="929.6" width="2.6" height="1.7" fill="#151515"/>
<rect x="676.9" y="930.1" width="1.5" height="2.0" fill="#151515"/>
<rect x="690.0" y="930.1" width="1.5" height="2.0" fill="#151515"/>
<rect x="693.7" y="929.9" width="1.5" height="2.0" fill="#151515"/>
<rect x="695.8" y="929.9" width="2.6" height="1.7" fill="#151515"/>
<rect x="697.4" y="930.0" width="1.5" height="2.0" fill="#151515"/>
<rect x="699.0" y="930.4" width="1.2" height="3.0" fill="#151515"/>
<rect x="729.8" y="929.9" width="1.2" height="3.0" fill="#151515"/>
<rect x="733.3" y="929.9" width="1.5" height="2.0" fill="#151515"/>
<rect x="740.1" y="930.2" width="1.5" height="2.0" fill="#151515"/>
<rect x="741.5" y="929.8" width="2.6" height="1.7" fill="#151515"/>
<rect x="743.1" y="930.1" width="1.5" height="2.0" fill="#151515"/>
<rect x="744.9" y="930.1" width="1.2" height="3.0" fill="#151515"/>
<rect x="746.3" y="929.5" width="2.6" height="1.7" fill="#151515"/>
<rect x="748.1" y="929.9" width="1.5" height="2.0" fill="#151515"/>
<rect x="768.4" y="930.3" width="1.2" height="3.0" fill="#151515"/>
<rect x="769.9" y="929.6" width="1.2" height="3.0" fill="#151515"/>
<rect x="781.7" y="930.3" width="1.5" height="2.0" fill="#151515"/>
<rect x="642.5" y="932.5" width="1.2" height="3.0" fill="#151515"/>
<rect x="689.0" y="932.6" width="1.5" height="2.0" fill="#151515"/>
<rect x="698.0" y="932.7" width="1.5" height="2.0" fill="#151515"/>
<rect x="699.2" y="932.8" width="1.2" height="3.0" fill="#151515"/>
<rect x="713.3" y="932.6" width="1.5" height="2.0" fill="#151515"/>
<rect x="714.9" y="932.4" width="1.5" height="2.0" fill="#151515"/>
<rect x="732.5" y="932.8" width="1.5" height="2.0" fill="#151515"/>
<rect x="734.5" y="932.3" width="1.2" height="3.0" fill="#151515"/>
<rect x="736.1" y="932.2" width="1.2" height="3.0" fill="#151515"/>
<rect x="738.0" y="932.8" width="1.2" height="3.0" fill="#151515"/>
<rect x="758.0" y="932.3" width="1.2" height="3.0" fill="#151515"/>
<rect x="786.0" y="932.2" width="1.5" height="2.0" fill="#151515"/>
<rect x="640.5" y="935.2" width="1.5" height="2.0" fill="#151515"/>
<rect x="650.3" y="935.4" width="1.5" height="2.0" fill="#151515"/>
<rect x="657.4" y="935.8" width="1.5" height="2.0" fill="#151515"/>
<rect x="659.4" y="935.9" width="1.5" height="2.0" fill="#151515"/>
<rect x="660.6" y="935.1" width="1.5" height="2.0" fill="#151515"/>
<rect x="677.1" y="935.1" width="2.6" height="1.7" fill="#151515"/>
<rect x="715.0" y="935.0" width="1.5" height="2.0" fill="#151515"/>
<rect x="718.9" y="935.6" width="1.5" height="2.0" fill="#151515"/>
<rect x="727.0" y="935.6" width="1.5" height="2.0" fill="#151515"/>
<rect x="728.5" y="935.6" width="1.2" height="3.0" fill="#151515"/>
<rect x="730.1" y="935.0" width="1.5" height="2.0" fill="#151515"/>
<rect x="734.7" y="935.2" width="1.5" height="2.0" fill="#151515"/>
<rect x="736.7" y="934.9" width="1.5" height="2.0" fill="#151515"/>
<rect x="738.1" y="935.0" width="2.6" height="1.7" fill="#151515"/>
<rect x="740.1" y="935.2" width="1.2" height="3.0" fill="#151515"/>
<rect x="741.3" y="935.1" width="1.2" height="3.0" fill="#151515"/>
<rect x="743.4" y="935.0" width="1.2" height="3.0" fill="#151515"/>
<rect x="748.8" y="935.3" width="1.5" height="2.0" fill="#151515"/>
<rect x="767.4" y="935.7" width="1.5" height="2.0" fill="#151515"/>
<rect x="769.3" y="935.0" width="1.5" height="2.0" fill="#151515"/>
<rect x="770.5" y="935.4" width="1.2" height="3.0" fill="#151515"/>
<rect x="777.2" y="935.0" width="1.2" height="3.0" fill="#151515"/>
<rect x="639.5" y="938.0" width="1.5" height="2.0" fill="#151515"/>
<rect x="646.9" y="938.6" width="1.5" height="2.0" fill="#151515"/>
<rect x="652.3" y="937.7" width="1.5" height="2.0" fill="#151515"/>
<rect x="654.4" y="938.0" width="1.5" height="2.0" fill="#151515"/>
<rect x="656.0" y="938.5" width="1.5" height="2.0" fill="#151515"/>
<rect x="657.3" y="938.6" width="1.5" height="2.0" fill="#151515"/>
<rect x="703.1" y="937.8" width="1.5" height="2.0" fill="#151515"/>
<rect x="704.9" y="938.2" width="1.5" height="2.0" fill="#151515"/>
<rect x="706.2" y="938.5" width="1.5" height="2.0" fill="#151515"/>
<rect x="722.7" y="938.4" width="1.5" height="2.0" fill="#151515"/>
<rect x="724.1" y="937.8" width="1.5" height="2.0" fill="#151515"/>
<rect x="725.5" y="938.2" width="1.5" height="2.0" fill="#151515"/>
<rect x="738.8" y="938.5" width="1.5" height="2.0" fill="#151515"/>
<rect x="740.6" y="937.9" width="1.5" height="2.0" fill="#151515"/>
<rect x="742.7" y="938.3" width="1.5" height="2.0" fill="#151515"/>
<rect x="744.4" y="937.7" width="1.5" height="2.0" fill="#151515"/>
<rect x="746.1" y="938.4" width="1.5" height="2.0" fill="#151515"/>
<rect x="747.4" y="938.2" width="1.5" height="2.0" fill="#151515"/>
<rect x="748.8" y="937.8" width="1.5" height="2.0" fill="#151515"/>
<rect x="770.7" y="938.4" width="2.6" height="1.7" fill="#151515"/>
<rect x="772.0" y="938.5" width="1.5" height="2.0" fill="#151515"/>
<rect x="639.5" y="941.4" width="1.5" height="2.0" fill="#151515"/>
<rect x="648.9" y="941.3" width="1.5" height="2.0" fill="#151515"/>
<rect x="668.2" y="941.4" width="1.5" height="2.0" fill="#151515"/>
<rect x="669.9" y="941.1" width="1.2" height="3.0" fill="#151515"/>
<rect x="672.6" y="940.7" width="1.5" height="2.0" fill="#151515"/>
<rect x="673.8" y="940.8" width="2.6" height="1.7" fill="#151515"/>
<rect x="675.8" y="941.1" width="1.5" height="2.0" fill="#151515"/>
<rect x="677.7" y="940.5" width="1.5" height="2.0" fill="#151515"/>
<rect x="679.3" y="940.8" width="1.5" height="2.0" fill="#151515"/>
<rect x="686.6" y="941.0" width="1.5" height="2.0" fill="#151515"/>
<rect x="687.8" y="940.5" width="1.5" height="2.0" fill="#151515"/>
<rect x="732.7" y="941.1" width="1.5" height="2.0" fill="#151515"/>
<rect x="673.5" y="943.9" width="2.6" height="1.7" fill="#151515"/>
<rect x="675.0" y="943.9" width="1.5" height="2.0" fill="#151515"/>
<rect x="676.2" y="943.6" width="2.6" height="1.7" fill="#151515"/>
<rect x="711.0" y="943.1" width="1.5" height="2.0" fill="#151515"/>
<rect x="712.2" y="943.5" width="1.5" height="2.0" fill="#151515"/>
<rect x="714.0" y="943.6" width="2.6" height="1.7" fill="#151515"/>
<rect x="715.8" y="943.4" width="1.5" height="2.0" fill="#151515"/>
<rect x="717.6" y="943.8" width="1.5" height="2.0" fill="#151515"/>
<rect x="719.1" y="943.7" width="1.2" height="3.0" fill="#151515"/>
<rect x="720.9" y="944.1" width="1.5" height="2.0" fill="#151515"/>
<rect x="723.8" y="943.2" width="1.5" height="2.0" fill="#151515"/>
<rect x="725.5" y="943.6" width="1.5" height="2.0" fill="#151515"/>
<rect x="727.0" y="944.1" width="1.5" height="2.0" fill="#151515"/>
<rect x="728.9" y="943.4" width="1.2" height="3.0" fill="#151515"/>
<rect x="735.3" y="943.7" width="2.6" height="1.7" fill="#151515"/>
<rect x="736.8" y="943.5" width="1.5" height="2.0" fill="#151515"/>
<rect x="738.3" y="943.7" width="1.2" height="3.0" fill="#151515"/>
<rect x="741.6" y="943.9" width="1.5" height="2.0" fill="#151515"/>
<rect x="743.0" y="943.6" width="2.6" height="1.7" fill="#151515"/>
<rect x="744.4" y="943.9" width="2.6" height="1.7" fill="#151515"/>
<rect x="745.7" y="943.5" width="1.5" height="2.0" fill="#151515"/>
<rect x="746.9" y="944.1" width="2.6" height="1.7" fill="#151515"/>
<rect x="748.3" y="944.1" width="1.5" height="2.0" fill="#151515"/>
<rect x="759.2" y="943.6" width="1.2" height="3.0" fill="#151515"/>
<rect x="760.8" y="943.9" width="1.5" height="2.0" fill="#151515"/>
<rect x="762.9" y="943.2" width="1.5" height="2.0" fill="#151515"/>
<rect x="767.8" y="943.4" width="1.5" height="2.0" fill="#151515"/>
<rect x="769.3" y="943.6" width="1.5" height="2.0" fill="#151515"/>
<rect x="676.5" y="946.8" width="1.5" height="2.0" fill="#151515"/>
<rect x="677.8" y="946.4" width="2.6" height="1.7" fill="#151515"/>
<rect x="706.1" y="946.4" width="2.6" height="1.7" fill="#151515"/>
<rect x="721.4" y="946.8" width="1.5" height="2.0" fill="#151515"/>
<rect x="722.7" y="946.6" width="1.5" height="2.0" fill="#151515"/>
<rect x="729.1" y="946.7" width="1.5" height="2.0" fill="#151515"/>
<rect x="730.5" y="946.4" width="2.6" height="1.7" fill="#151515"/>
<rect x="738.4" y="946.8" width="1.5" height="2.0" fill="#151515"/>
<rect x="739.8" y="946.2" width="1.5" height="2.0" fill="#151515"/>
<rect x="783.4" y="946.7" width="1.5" height="2.0" fill="#151515"/>
<rect x="648.5" y="949.1" width="2.6" height="1.7" fill="#151515"/>
<rect x="650.2" y="948.7" width="1.5" height="2.0" fill="#151515"/>
<rect x="651.7" y="948.8" width="1.5" height="2.0" fill="#151515"/>
<rect x="670.7" y="949.1" width="1.5" height="2.0" fill="#151515"/>
<rect x="672.1" y="948.8" width="1.2" height="3.0" fill="#151515"/>
<rect x="673.5" y="948.9" width="1.5" height="2.0" fill="#151515"/>
<rect x="674.9" y="949.4" width="1.5" height="2.0" fill="#151515"/>
<rect x="676.8" y="948.9" width="1.5" height="2.0" fill="#151515"/>
<rect x="678.4" y="948.8" width="1.5" height="2.0" fill="#151515"/>
<rect x="680.2" y="949.1" width="1.5" height="2.0" fill="#151515"/>
<rect x="690.5" y="948.9" width="2.6" height="1.7" fill="#151515"/>
<rect x="704.4" y="949.0" width="1.5" height="2.0" fill="#151515"/>
<rect x="710.4" y="949.2" width="1.5" height="2.0" fill="#151515"/>
<rect x="721.2" y="949.2" width="1.5" height="2.0" fill="#151515"/>
<rect x="725.5" y="949.0" width="1.2" height="3.0" fill="#151515"/>
<rect x="727.2" y="949.6" width="1.5" height="2.0" fill="#151515"/>
<rect x="728.9" y="948.7" width="2.6" height="1.7" fill="#151515"/>
<rect x="764.2" y="948.9" width="1.2" height="3.0" fill="#151515"/>
<rect x="785.8" y="949.5" width="1.5" height="2.0" fill="#151515"/>
<rect x="643.5" y="951.9" width="1.5" height="2.0" fill="#151515"/>
<rect x="645.0" y="951.7" width="1.2" height="3.0" fill="#151515"/>
<rect x="652.1" y="952.0" width="1.2" height="3.0" fill="#151515"/>
<rect x="664.1" y="951.6" width="2.6" height="1.7" fill="#151515"/>
<rect x="683.7" y="952.2" width="1.5" height="2.0" fill="#151515"/>
<rect x="726.9" y="952.2" width="1.5" height="2.0" fill="#151515"/>
<rect x="728.9" y="951.9" width="1.5" height="2.0" fill="#151515"/>
<rect x="732.8" y="951.7" width="2.6" height="1.7" fill="#151515"/>
<rect x="734.5" y="952.3" width="1.5" height="2.0" fill="#151515"/>
<rect x="745.4" y="952.0" width="1.5" height="2.0" fill="#151515"/>
<rect x="746.9" y="951.4" width="1.2" height="3.0" fill="#151515"/>
<rect x="748.4" y="951.8" width="1.5" height="2.0" fill="#151515"/>
<rect x="751.3" y="952.0" width="1.5" height="2.0" fill="#151515"/>
<rect x="767.8" y="951.9" width="1.5" height="2.0" fill="#151515"/>
<rect x="775.6" y="952.2" width="1.5" height="2.0" fill="#151515"/>
<rect x="785.6" y="952.0" width="2.6" height="1.7" fill="#151515"/>
<rect x="649.5" y="955.1" width="2.6" height="1.7" fill="#151515"/>
<rect x="665.9" y="954.9" width="2.6" height="1.7" fill="#151515"/>
<rect x="667.5" y="954.2" width="1.5" height="2.0" fill="#151515"/>
<rect x="669.2" y="954.6" width="1.5" height="2.0" fill="#151515"/>
<rect x="735.0" y="954.8" width="1.5" height="2.0" fill="#151515"/>
<rect x="736.7" y="954.6" width="1.5" height="2.0" fill="#151515"/>
<rect x="743.8" y="954.5" width="1.5" height="2.0" fill="#151515"/>
<rect x="745.1" y="954.6" width="1.5" height="2.0" fill="#151515"/>
<rect x="746.7" y="954.7" width="1.5" height="2.0" fill="#151515"/>
<rect x="762.0" y="954.4" width="1.5" height="2.0" fill="#151515"/>
<rect x="641.5" y="957.7" width="1.5" height="2.0" fill="#151515"/>
<rect x="657.4" y="956.9" width="1.2" height="3.0" fill="#151515"/>
<rect x="658.7" y="957.2" width="1.5" height="2.0" fill="#151515"/>
<rect x="713.0" y="957.4" width="1.5" height="2.0" fill="#151515"/>
<rect x="777.6" y="957.0" width="1.2" height="3.0" fill="#151515"/>
<rect x="653.5" y="959.6" width="1.5" height="2.0" fill="#151515"/>
<rect x="674.0" y="960.4" width="1.5" height="2.0" fill="#151515"/>
<rect x="679.9" y="960.4" width="1.5" height="2.0" fill="#151515"/>
<rect x="691.7" y="960.2" width="1.2" height="3.0" fill="#151515"/>
<rect x="692.9" y="959.6" width="1.5" height="2.0" fill="#151515"/>
<rect x="711.4" y="959.8" width="1.5" height="2.0" fill="#151515"/>
<rect x="714.9" y="959.6" width="1.5" height="2.0" fill="#151515"/>
<rect x="721.2" y="960.3" width="1.5" height="2.0" fill="#151515"/>
<rect x="723.2" y="960.0" width="1.5" height="2.0" fill="#151515"/>
<rect x="782.5" y="959.7" width="2.6" height="1.7" fill="#151515"/>
<rect x="784.1" y="960.4" width="2.6" height="1.7" fill="#151515"/>
<rect x="785.5" y="959.9" width="2.6" height="1.7" fill="#151515"/>
<rect x="662.5" y="962.9" width="1.5" height="2.0" fill="#151515"/>
<rect x="664.1" y="963.3" width="1.2" height="3.0" fill="#151515"/>
<rect x="665.5" y="963.3" width="1.2" height="3.0" fill="#151515"/>
<rect x="667.1" y="962.3" width="1.5" height="2.0" fill="#151515"/>
<rect x="668.5" y="962.9" width="1.5" height="2.0" fill="#151515"/>
<rect x="710.1" y="963.0" width="1.5" height="2.0" fill="#151515"/>
<rect x="711.8" y="963.0" width="2.6" height="1.7" fill="#151515"/>
<rect x="713.6" y="962.6" width="1.2" height="3.0" fill="#151515"/>
<rect x="715.1" y="963.2" width="1.5" height="2.0" fill="#151515"/>
<rect x="717.0" y="962.5" width="1.5" height="2.0" fill="#151515"/>
<rect x="744.7" y="962.5" width="1.5" height="2.0" fill="#151515"/>
<rect x="746.7" y="962.8" width="1.5" height="2.0" fill="#151515"/>
<rect x="642.5" y="965.8" width="1.2" height="3.0" fill="#151515"/>
<rect x="644.0" y="965.2" width="1.5" height="2.0" fill="#151515"/>
<rect x="645.5" y="965.5" width="1.2" height="3.0" fill="#151515"/>
<rect x="646.7" y="966.0" width="1.5" height="2.0" fill="#151515"/>
<rect x="648.5" y="965.6" width="1.2" height="3.0" fill="#151515"/>
<rect x="665.4" y="965.5" width="2.6" height="1.7" fill="#151515"/>
<rect x="667.7" y="965.3" width="1.5" height="2.0" fill="#151515"/>
<rect x="677.5" y="965.8" width="1.5" height="2.0" fill="#151515"/>
<rect x="678.9" y="965.9" width="1.5" height="2.0" fill="#151515"/>
<rect x="680.8" y="965.8" width="1.5" height="2.0" fill="#151515"/>
<rect x="682.0" y="965.9" width="1.5" height="2.0" fill="#151515"/>
<rect x="714.7" y="965.5" width="1.2" height="3.0" fill="#151515"/>
<rect x="726.8" y="965.7" width="1.5" height="2.0" fill="#151515"/>
<rect x="733.7" y="965.7" width="1.5" height="2.0" fill="#151515"/>
<rect x="735.8" y="965.9" width="1.5" height="2.0" fill="#151515"/>
<rect x="737.3" y="965.7" width="2.6" height="1.7" fill="#151515"/>
<rect x="748.9" y="965.4" width="1.5" height="2.0" fill="#151515"/>
<rect x="750.4" y="965.2" width="1.5" height="2.0" fill="#151515"/>
<rect x="752.1" y="965.8" width="1.2" height="3.0" fill="#151515"/>
<rect x="758.7" y="965.8" width="1.5" height="2.0" fill="#151515"/>
<rect x="760.1" y="965.9" width="2.6" height="1.7" fill="#151515"/>
<rect x="761.3" y="965.9" width="1.5" height="2.0" fill="#151515"/>
<rect x="762.6" y="965.6" width="1.5" height="2.0" fill="#151515"/>
<rect x="764.5" y="965.4" width="2.6" height="1.7" fill="#151515"/>
<rect x="765.8" y="966.0" width="1.5" height="2.0" fill="#151515"/>
<rect x="767.6" y="965.1" width="1.5" height="2.0" fill="#151515"/>
<rect x="779.3" y="965.5" width="1.5" height="2.0" fill="#151515"/>
<rect x="784.9" y="965.9" width="1.5" height="2.0" fill="#151515"/>
<rect x="641.5" y="968.3" width="1.5" height="2.0" fill="#151515"/>
<rect x="642.8" y="968.2" width="1.5" height="2.0" fill="#151515"/>
<rect x="644.5" y="968.0" width="1.5" height="2.0" fill="#151515"/>
<rect x="647.4" y="968.1" width="2.6" height="1.7" fill="#151515"/>
<rect x="650.9" y="968.3" width="1.5" height="2.0" fill="#151515"/>
<rect x="659.5" y="968.2" width="2.6" height="1.7" fill="#151515"/>
<rect x="662.1" y="968.2" width="1.5" height="2.0" fill="#151515"/>
<rect x="664.8" y="968.2" width="1.5" height="2.0" fill="#151515"/>
<rect x="685.3" y="968.5" width="1.5" height="2.0" fill="#151515"/>
<rect x="696.6" y="968.8" width="1.2" height="3.0" fill="#151515"/>
<rect x="698.5" y="968.0" width="1.2" height="3.0" fill="#151515"/>
<rect x="699.7" y="968.8" width="1.5" height="2.0" fill="#151515"/>
<rect x="701.5" y="968.2" width="1.5" height="2.0" fill="#151515"/>
<rect x="703.1" y="968.4" width="2.6" height="1.7" fill="#151515"/>
<rect x="704.8" y="968.4" width="1.2" height="3.0" fill="#151515"/>
<rect x="706.6" y="968.6" width="1.2" height="3.0" fill="#151515"/>
<rect x="723.6" y="968.7" width="1.5" height="2.0" fill="#151515"/>
<rect x="725.0" y="968.2" width="1.5" height="2.0" fill="#151515"/>
<rect x="727.0" y="968.8" width="1.5" height="2.0" fill="#151515"/>
<rect x="729.6" y="968.5" width="1.2" height="3.0" fill="#151515"/>
<rect x="731.6" y="968.0" width="1.5" height="2.0" fill="#151515"/>
<rect x="760.9" y="968.6" width="1.5" height="2.0" fill="#151515"/>
<rect x="762.4" y="968.7" width="1.2" height="3.0" fill="#151515"/>
<rect x="763.8" y="968.5" width="1.5" height="2.0" fill="#151515"/>
<rect x="765.4" y="968.6" width="2.6" height="1.7" fill="#151515"/>
<rect x="767.3" y="968.5" width="1.5" height="2.0" fill="#151515"/>
<rect x="769.2" y="968.0" width="1.5" height="2.0" fill="#151515"/>
<rect x="771.2" y="967.9" width="2.6" height="1.7" fill="#151515"/>
<rect x="775.6" y="968.0" width="2.6" height="1.7" fill="#151515"/>
<rect x="782.8" y="967.9" width="2.6" height="1.7" fill="#151515"/>
<rect x="784.7" y="968.0" width="2.6" height="1.7" fill="#151515"/>
<rect x="786.2" y="968.2" width="2.6" height="1.7" fill="#151515"/>
<rect x="646.5" y="970.7" width="1.5" height="2.0" fill="#151515"/>
<rect x="647.9" y="971.5" width="1.5" height="2.0" fill="#151515"/>
<rect x="649.9" y="970.7" width="1.2" height="3.0" fill="#151515"/>
<rect x="651.9" y="971.4" width="1.5" height="2.0" fill="#151515"/>
<rect x="658.7" y="970.6" width="1.5" height="2.0" fill="#151515"/>
<rect x="660.8" y="970.9" width="1.5" height="2.0" fill="#151515"/>
<rect x="662.8" y="971.1" width="1.5" height="2.0" fill="#151515"/>
<rect x="664.1" y="971.3" width="1.5" height="2.0" fill="#151515"/>
<rect x="666.1" y="970.9" width="2.6" height="1.7" fill="#151515"/>
<rect x="667.4" y="970.6" width="1.5" height="2.0" fill="#151515"/>
<rect x="668.8" y="971.5" width="1.5" height="2.0" fill="#151515"/>
<rect x="684.1" y="971.1" width="2.6" height="1.7" fill="#151515"/>
<rect x="685.9" y="971.3" width="1.5" height="2.0" fill="#151515"/>
<rect x="687.3" y="970.9" width="1.5" height="2.0" fill="#151515"/>
<rect x="696.1" y="971.4" width="2.6" height="1.7" fill="#151515"/>
<rect x="720.9" y="971.4" width="1.5" height="2.0" fill="#151515"/>
<rect x="723.5" y="971.4" width="1.5" height="2.0" fill="#151515"/>
<rect x="725.4" y="971.3" width="1.5" height="2.0" fill="#151515"/>
<rect x="735.9" y="971.4" width="1.5" height="2.0" fill="#151515"/>
<rect x="737.9" y="971.4" width="1.5" height="2.0" fill="#151515"/>
<rect x="739.3" y="971.5" width="1.5" height="2.0" fill="#151515"/>
<rect x="750.6" y="970.8" width="1.5" height="2.0" fill="#151515"/>
<rect x="775.1" y="971.4" width="1.2" height="3.0" fill="#151515"/>
<rect x="646.5" y="973.5" width="1.2" height="3.0" fill="#151515"/>
<rect x="658.7" y="974.2" width="1.5" height="2.0" fill="#151515"/>
<rect x="660.5" y="973.9" width="2.6" height="1.7" fill="#151515"/>
<rect x="728.1" y="974.1" width="1.5" height="2.0" fill="#151515"/>
<rect x="729.7" y="974.0" width="1.5" height="2.0" fill="#151515"/>
<rect x="735.5" y="973.5" width="1.5" height="2.0" fill="#151515"/>
<rect x="737.4" y="974.3" width="1.2" height="3.0" fill="#151515"/>
<rect x="759.0" y="973.8" width="1.5" height="2.0" fill="#151515"/>
<rect x="760.8" y="973.9" width="1.5" height="2.0" fill="#151515"/>
<rect x="762.8" y="973.6" width="1.5" height="2.0" fill="#151515"/>
<rect x="764.9" y="973.8" width="1.5" height="2.0" fill="#151515"/>
<rect x="766.4" y="973.9" width="1.2" height="3.0" fill="#151515"/>
<rect x="767.9" y="973.5" width="1.5" height="2.0" fill="#151515"/>
<rect x="777.7" y="973.6" width="1.5" height="2.0" fill="#151515"/>
<rect x="779.2" y="974.2" width="1.5" height="2.0" fill="#151515"/>
<rect x="780.6" y="973.4" width="1.5" height="2.0" fill="#151515"/>
<rect x="782.4" y="973.4" width="2.6" height="1.7" fill="#151515"/>
<rect x="784.0" y="973.3" width="1.5" height="2.0" fill="#151515"/>
<rect x="643.5" y="976.9" width="2.6" height="1.7" fill="#151515"/>
<rect x="645.2" y="976.7" width="1.5" height="2.0" fill="#151515"/>
<rect x="646.5" y="977.0" width="1.5" height="2.0" fill="#151515"/>
<rect x="648.2" y="976.6" width="1.5" height="2.0" fill="#151515"/>
<rect x="650.4" y="976.0" width="1.5" height="2.0" fill="#151515"/>
<rect x="652.5" y="976.7" width="1.5" height="2.0" fill="#151515"/>
<rect x="654.0" y="976.7" width="1.5" height="2.0" fill="#151515"/>
<rect x="655.8" y="976.2" width="1.5" height="2.0" fill="#151515"/>
<rect x="657.5" y="976.8" width="1.5" height="2.0" fill="#151515"/>
<rect x="659.9" y="976.7" width="1.5" height="2.0" fill="#151515"/>
<rect x="685.9" y="976.6" width="1.2" height="3.0" fill="#151515"/>
<rect x="710.3" y="976.3" width="1.5" height="2.0" fill="#151515"/>
<rect x="727.9" y="976.9" width="1.2" height="3.0" fill="#151515"/>
<rect x="755.8" y="976.5" width="2.6" height="1.7" fill="#151515"/>
<rect x="773.6" y="976.7" width="1.5" height="2.0" fill="#151515"/>
<rect x="784.5" y="976.4" width="2.6" height="1.7" fill="#151515"/>
<rect x="734.6" y="948.0" width="1.5" height="4.2" fill="#e3262b"/>
<rect x="729.9" y="922.1" width="3.5" height="1.5" fill="#e3262b"/>
<rect x="728.1" y="946.5" width="1.5" height="5.3" fill="#e3262b"/>
<rect x="733.8" y="940.6" width="1.5" height="4.5" fill="#e3262b"/>
<rect x="725.9" y="964.4" width="1.5" height="4.0" fill="#e3262b"/>
<rect x="725.8" y="923.7" width="1.5" height="4.0" fill="#e3262b"/>
<rect x="740.3" y="973.3" width="4.3" height="1.5" fill="#e3262b"/>
<rect x="736.4" y="968.5" width="1.5" height="4.4" fill="#e3262b"/>
<rect x="730.4" y="921.2" width="1.5" height="5.6" fill="#e3262b"/>
<rect x="735.3" y="920.6" width="1.5" height="5.4" fill="#e3262b"/>
<rect x="741.0" y="936.4" width="1.5" height="5.2" fill="#e3262b"/>
<rect x="739.3" y="948.0" width="1.5" height="4.8" fill="#e3262b"/>
<rect x="744.6" y="955.8" width="1.5" height="5.6" fill="#e3262b"/>
<rect x="745.8" y="920.9" width="1.5" height="4.3" fill="#e3262b"/>
<rect x="724.4" y="959.6" width="1.5" height="5.0" fill="#e3262b"/>
<rect x="749.9" y="937.9" width="1.5" height="4.0" fill="#e3262b"/>
<rect x="732.8" y="964.2" width="1.5" height="3.9" fill="#e3262b"/>
<rect x="762.5" y="947.1" width="4.2" height="1.5" fill="#e3262b"/>
<rect x="757.7" y="919.1" width="1.5" height="4.1" fill="#e3262b"/>
<rect x="763.5" y="961.0" width="4.7" height="1.5" fill="#e3262b"/>
<rect x="759.2" y="961.8" width="1.5" height="4.3" fill="#e3262b"/>
<rect x="776.4" y="959.6" width="4.3" height="1.5" fill="#e3262b"/>
<rect x="772.8" y="968.8" width="1.5" height="4.4" fill="#e3262b"/>
<rect x="774.6" y="973.0" width="3.7" height="1.5" fill="#e3262b"/>
<rect x="774.0" y="935.8" width="1.5" height="5.7" fill="#e3262b"/>
<rect x="773.9" y="954.5" width="1.5" height="5.4" fill="#e3262b"/>
<rect x="775.4" y="953.6" width="1.5" height="3.9" fill="#e3262b"/>
<rect x="777.8" y="968.2" width="1.5" height="5.2" fill="#e3262b"/>
<rect x="756.4" y="945.7" width="1.5" height="4.4" fill="#e3262b"/>
<rect x="765.9" y="966.0" width="4.4" height="1.5" fill="#e3262b"/>
<line x1="457.50" y1="636.00" x2="457.50" y2="987.00" stroke="#000" stroke-width="1.10" stroke-dasharray="1.3,1.2"/>
<line x1="684.90" y1="637.00" x2="684.90" y2="986.50" stroke="#000" stroke-width="1.10" stroke-dasharray="1.3,1.2"/>
<path d="M457.3,986.4 L461.9,993.2 L452.8,993.2 Z" fill="#000"/>
<path d="M684.8,985.8 L689.6,992.8 L680.2,992.8 Z" fill="#000"/>
<text x="416.77" y="1011.20" font-size="19.00" fill="#111" textLength="83.47" lengthAdjust="spacingAndGlyphs" >Task start</text>
<text x="790.16" y="928.30" font-size="17.50" fill="#111" textLength="20.45" lengthAdjust="spacingAndGlyphs" >50</text>
<text x="791.11" y="988.20" font-size="17.50" fill="#111" textLength="7.22" lengthAdjust="spacingAndGlyphs" >1</text>
<text transform="translate(829.30,924.00) rotate(90)" x="-0.43" y="0" font-size="19.00" fill="#111" textLength="46.72" lengthAdjust="spacingAndGlyphs">Trials</text>
<line x1="761.10" y1="988.20" x2="788.30" y2="988.20" stroke="#666" stroke-width="1.60" />
<text x="761.47" y="1005.00" font-size="17.50" fill="#111" textLength="25.11" lengthAdjust="spacingAndGlyphs" >1 s</text>
<text x="0" y="698.0" font-size="42" font-weight="bold" transform="translate(0.0,0) scale(0.92,1)">e</text>
<circle cx="191.1" cy="685.7" r="6.4" fill="#4db0e2" stroke="#111" stroke-width="1.5"/>
<circle cx="191.1" cy="714.3" r="6.4" fill="#c8202a" stroke="#111" stroke-width="1.5"/>
<text x="207.16" y="691.80" font-size="18.50" fill="#6cb5df" textLength="25.94" lengthAdjust="spacingAndGlyphs" >TR</text>
<text x="232.13" y="698.20" font-size="13.00" fill="#6cb5df" >D</text>
<text x="248.85" y="691.80" font-size="18.50" fill="#111" >(</text>
<text x="255.37" y="691.80" font-size="18.50" fill="#111" font-style="italic" >n</text>
<text x="269.96" y="691.80" font-size="18.50" fill="#111" textLength="10.10" lengthAdjust="spacingAndGlyphs" >=</text>
<text x="285.19" y="691.80" font-size="18.50" fill="#111" textLength="30.52" lengthAdjust="spacingAndGlyphs" >18)</text>
<text x="207.16" y="720.30" font-size="18.50" fill="#c23038" textLength="25.94" lengthAdjust="spacingAndGlyphs" >TR</text>
<text x="232.20" y="726.80" font-size="13.00" fill="#c23038" >I</text>
<text x="247.85" y="720.30" font-size="18.50" fill="#111" >(</text>
<text x="254.37" y="720.30" font-size="18.50" fill="#111" font-style="italic" >n</text>
<text x="268.96" y="720.30" font-size="18.50" fill="#111" textLength="10.10" lengthAdjust="spacingAndGlyphs" >=</text>
<text x="284.22" y="720.30" font-size="18.50" fill="#111" textLength="41.46" lengthAdjust="spacingAndGlyphs" >105)</text>
<line x1="85.70" y1="743.50" x2="85.70" y2="960.00" stroke="#000" stroke-width="2.00" />
<text x="56.92" y="749.60" font-size="17.50" fill="#111" textLength="21.64" lengthAdjust="spacingAndGlyphs" >50</text>
<text x="67.96" y="837.10" font-size="17.50" fill="#111" textLength="10.59" lengthAdjust="spacingAndGlyphs" >0</text>
<text x="34.73" y="965.00" font-size="17.50" fill="#111" textLength="44.24" lengthAdjust="spacingAndGlyphs" >−100</text>
<text transform="translate(15.30,934.00) rotate(-90)" x="-1.52" y="0" font-size="19.00" fill="#111" textLength="28.81" lengthAdjust="spacingAndGlyphs">MD</text>
<text transform="translate(22.00,905.20) rotate(-90)" x="-0.36" y="0" font-size="13.00" fill="#111" textLength="8.13" lengthAdjust="spacingAndGlyphs">Δ</text>
<text transform="translate(15.30,889.60) rotate(-90)" x="-1.08" y="0" font-size="19.00" fill="#111" textLength="5.78" lengthAdjust="spacingAndGlyphs">(</text>
<text transform="translate(15.30,883.70) rotate(-90)" x="-1.58" y="0" font-size="19.00" fill="#111" textLength="34.15" lengthAdjust="spacingAndGlyphs">BMI</text>
<text transform="translate(22.00,851.40) rotate(-90)" x="-0.74" y="0" font-size="13.00" fill="#111" textLength="5.42" lengthAdjust="spacingAndGlyphs">1</text>
<text transform="translate(15.30,836.90) rotate(-90)" x="-0.29" y="0" font-size="19.00" fill="#111" textLength="16.10" lengthAdjust="spacingAndGlyphs">to</text>
<text transform="translate(15.30,814.40) rotate(-90)" x="-1.58" y="0" font-size="19.00" fill="#111" textLength="34.15" lengthAdjust="spacingAndGlyphs">BMI</text>
<text transform="translate(22.00,781.20) rotate(-90)" x="-0.71" y="0" font-size="13.00" fill="#111" textLength="7.81" lengthAdjust="spacingAndGlyphs">2</text>
<text transform="translate(15.30,773.40) rotate(-90)" x="-0.10" y="0" font-size="19.00" fill="#111" textLength="5.78" lengthAdjust="spacingAndGlyphs">)</text>
<line x1="107.00" y1="751.30" x2="135.40" y2="751.30" stroke="#000" stroke-width="1.80" />
<text x="111.81" y="750.30" font-size="21.00" fill="#000" textLength="18.77" lengthAdjust="spacingAndGlyphs" >**</text>
<line x1="189.20" y1="751.30" x2="217.80" y2="751.30" stroke="#000" stroke-width="1.80" />
<text x="189.10" y="750.30" font-size="21.00" fill="#000" textLength="28.78" lengthAdjust="spacingAndGlyphs" >***</text>
<line x1="271.70" y1="751.30" x2="300.60" y2="751.30" stroke="#000" stroke-width="1.80" />
<text x="278.91" y="750.30" font-size="21.00" fill="#000" textLength="18.77" lengthAdjust="spacingAndGlyphs" >**</text>
<rect x="92.50" y="798.50" width="12.90" height="32.90" fill="#4db0e2" stroke="none" stroke-width="0.00" />
<line x1="92.50" y1="815.70" x2="105.40" y2="815.70" stroke="#2a6cab" stroke-width="1.30" />
<circle cx="99.0" cy="758.9" r="1.65" fill="#25346f"/>
<circle cx="92.5" cy="768.6" r="1.65" fill="#25346f"/>
<circle cx="99.6" cy="774.4" r="1.65" fill="#25346f"/>
<circle cx="102.2" cy="778.3" r="1.65" fill="#25346f"/>
<circle cx="100.5" cy="789.4" r="1.65" fill="#25346f"/>
<circle cx="96.8" cy="797.0" r="1.65" fill="#25346f"/>
<circle cx="95.7" cy="798.5" r="1.65" fill="#25346f"/>
<circle cx="97.9" cy="806.2" r="1.65" fill="#25346f"/>
<circle cx="99.6" cy="807.1" r="1.65" fill="#25346f"/>
<circle cx="100.5" cy="807.7" r="1.65" fill="#25346f"/>
<circle cx="96.8" cy="820.0" r="1.65" fill="#25346f"/>
<circle cx="104.8" cy="822.8" r="1.65" fill="#25346f"/>
<circle cx="97.9" cy="832.9" r="1.65" fill="#25346f"/>
<circle cx="93.6" cy="851.8" r="1.65" fill="#25346f"/>
<circle cx="93.2" cy="872.2" r="1.65" fill="#25346f"/>
<circle cx="92.5" cy="878.2" r="1.65" fill="#25346f"/>
<circle cx="101.1" cy="882.9" r="1.65" fill="#25346f"/>
<rect x="174.90" y="804.00" width="13.70" height="31.60" fill="#4db0e2" stroke="none" stroke-width="0.00" />
<line x1="174.90" y1="820.00" x2="188.60" y2="820.00" stroke="#2a6cab" stroke-width="1.30" />
<circle cx="176.4" cy="755.0" r="1.65" fill="#25346f"/>
<circle cx="185.0" cy="772.7" r="1.65" fill="#25346f"/>
<circle cx="183.9" cy="779.8" r="1.65" fill="#25346f"/>
<circle cx="178.5" cy="797.0" r="1.65" fill="#25346f"/>
<circle cx="179.2" cy="804.1" r="1.65" fill="#25346f"/>
<circle cx="179.6" cy="806.6" r="1.65" fill="#25346f"/>
<circle cx="179.2" cy="808.8" r="1.65" fill="#25346f"/>
<circle cx="178.5" cy="816.3" r="1.65" fill="#25346f"/>
<circle cx="181.7" cy="820.0" r="1.65" fill="#25346f"/>
<circle cx="186.0" cy="820.0" r="1.65" fill="#25346f"/>
<circle cx="179.6" cy="823.4" r="1.65" fill="#25346f"/>
<circle cx="187.8" cy="821.3" r="1.65" fill="#25346f"/>
<circle cx="185.6" cy="826.0" r="1.65" fill="#25346f"/>
<circle cx="181.7" cy="830.3" r="1.65" fill="#25346f"/>
<circle cx="183.9" cy="831.4" r="1.65" fill="#25346f"/>
<circle cx="181.3" cy="838.9" r="1.65" fill="#25346f"/>
<circle cx="181.7" cy="840.6" r="1.65" fill="#25346f"/>
<circle cx="178.5" cy="857.2" r="1.65" fill="#25346f"/>
<circle cx="187.8" cy="915.8" r="1.65" fill="#25346f"/>
<rect x="258.50" y="803.00" width="13.80" height="28.40" fill="#4db0e2" stroke="none" stroke-width="0.00" />
<line x1="258.50" y1="816.90" x2="272.30" y2="816.90" stroke="#2a6cab" stroke-width="1.30" />
<circle cx="268.3" cy="762.2" r="1.65" fill="#25346f"/>
<circle cx="270.8" cy="770.8" r="1.65" fill="#25346f"/>
<circle cx="268.3" cy="784.6" r="1.65" fill="#25346f"/>
<circle cx="270.2" cy="786.2" r="1.65" fill="#25346f"/>
<circle cx="269.2" cy="796.9" r="1.65" fill="#25346f"/>
<circle cx="267.1" cy="804.0" r="1.65" fill="#25346f"/>
<circle cx="268.3" cy="806.2" r="1.65" fill="#25346f"/>
<circle cx="264.6" cy="810.8" r="1.65" fill="#25346f"/>
<circle cx="270.2" cy="813.8" r="1.65" fill="#25346f"/>
<circle cx="265.2" cy="819.4" r="1.65" fill="#25346f"/>
<circle cx="268.3" cy="820.6" r="1.65" fill="#25346f"/>
<circle cx="270.8" cy="823.1" r="1.65" fill="#25346f"/>
<circle cx="264.0" cy="827.7" r="1.65" fill="#25346f"/>
<circle cx="268.3" cy="832.3" r="1.65" fill="#25346f"/>
<circle cx="270.8" cy="836.0" r="1.65" fill="#25346f"/>
<circle cx="266.2" cy="838.5" r="1.65" fill="#25346f"/>
<circle cx="263.4" cy="841.5" r="1.65" fill="#25346f"/>
<circle cx="268.3" cy="842.2" r="1.65" fill="#25346f"/>
<circle cx="260.9" cy="893.8" r="1.65" fill="#25346f"/>
<circle cx="143.5" cy="762.0" r="1.7" fill="#9a1c20"/>
<circle cx="146.5" cy="877.9" r="1.7" fill="#9a1c20"/>
<circle cx="146.2" cy="839.1" r="1.7" fill="#9a1c20"/>
<circle cx="146.5" cy="815.6" r="1.7" fill="#9a1c20"/>
<circle cx="140.1" cy="889.2" r="1.7" fill="#9a1c20"/>
<circle cx="141.1" cy="873.4" r="1.7" fill="#9a1c20"/>
<circle cx="137.5" cy="896.0" r="1.7" fill="#9a1c20"/>
<circle cx="144.1" cy="881.3" r="1.7" fill="#9a1c20"/>
<circle cx="135.6" cy="937.5" r="1.7" fill="#9a1c20"/>
<circle cx="145.6" cy="881.0" r="1.7" fill="#9a1c20"/>
<circle cx="136.6" cy="881.0" r="1.7" fill="#9a1c20"/>
<circle cx="146.8" cy="893.2" r="1.7" fill="#9a1c20"/>
<circle cx="142.9" cy="866.3" r="1.7" fill="#9a1c20"/>
<circle cx="146.8" cy="912.8" r="1.7" fill="#9a1c20"/>
<circle cx="137.8" cy="867.2" r="1.7" fill="#9a1c20"/>
<circle cx="134.6" cy="886.5" r="1.7" fill="#9a1c20"/>
<circle cx="141.9" cy="891.1" r="1.7" fill="#9a1c20"/>
<circle cx="138.3" cy="821.3" r="1.7" fill="#9a1c20"/>
<circle cx="138.0" cy="891.0" r="1.7" fill="#9a1c20"/>
<circle cx="143.3" cy="856.1" r="1.7" fill="#9a1c20"/>
<circle cx="134.0" cy="829.3" r="1.7" fill="#9a1c20"/>
<circle cx="144.4" cy="882.5" r="1.7" fill="#9a1c20"/>
<circle cx="141.6" cy="876.4" r="1.7" fill="#9a1c20"/>
<circle cx="136.2" cy="804.3" r="1.7" fill="#9a1c20"/>
<circle cx="146.3" cy="892.7" r="1.7" fill="#9a1c20"/>
<circle cx="138.4" cy="916.5" r="1.7" fill="#9a1c20"/>
<circle cx="135.2" cy="840.7" r="1.7" fill="#9a1c20"/>
<circle cx="144.5" cy="873.9" r="1.7" fill="#9a1c20"/>
<circle cx="134.9" cy="934.1" r="1.7" fill="#9a1c20"/>
<circle cx="142.0" cy="892.7" r="1.7" fill="#9a1c20"/>
<circle cx="141.1" cy="852.0" r="1.7" fill="#9a1c20"/>
<circle cx="138.0" cy="924.1" r="1.7" fill="#9a1c20"/>
<circle cx="143.1" cy="891.5" r="1.7" fill="#9a1c20"/>
<circle cx="135.9" cy="886.2" r="1.7" fill="#9a1c20"/>
<circle cx="141.0" cy="829.6" r="1.7" fill="#9a1c20"/>
<circle cx="144.9" cy="882.5" r="1.7" fill="#9a1c20"/>
<circle cx="139.4" cy="910.8" r="1.7" fill="#9a1c20"/>
<circle cx="134.1" cy="827.7" r="1.7" fill="#9a1c20"/>
<circle cx="143.7" cy="886.4" r="1.7" fill="#9a1c20"/>
<circle cx="142.3" cy="869.7" r="1.7" fill="#9a1c20"/>
<circle cx="135.7" cy="899.3" r="1.7" fill="#9a1c20"/>
<circle cx="137.7" cy="895.3" r="1.7" fill="#9a1c20"/>
<circle cx="147.0" cy="925.0" r="1.7" fill="#9a1c20"/>
<circle cx="140.3" cy="879.8" r="1.7" fill="#9a1c20"/>
<circle cx="139.2" cy="861.1" r="1.7" fill="#9a1c20"/>
<circle cx="147.1" cy="924.1" r="1.7" fill="#9a1c20"/>
<circle cx="142.2" cy="882.5" r="1.7" fill="#9a1c20"/>
<circle cx="137.4" cy="874.8" r="1.7" fill="#9a1c20"/>
<circle cx="145.5" cy="888.4" r="1.7" fill="#9a1c20"/>
<circle cx="143.1" cy="888.9" r="1.7" fill="#9a1c20"/>
<circle cx="144.0" cy="841.3" r="1.7" fill="#9a1c20"/>
<circle cx="140.3" cy="874.7" r="1.7" fill="#9a1c20"/>
<circle cx="143.1" cy="862.1" r="1.7" fill="#9a1c20"/>
<circle cx="141.6" cy="911.4" r="1.7" fill="#9a1c20"/>
<circle cx="137.1" cy="817.8" r="1.7" fill="#9a1c20"/>
<circle cx="140.0" cy="868.8" r="1.7" fill="#9a1c20"/>
<circle cx="138.4" cy="855.3" r="1.7" fill="#9a1c20"/>
<circle cx="143.7" cy="847.1" r="1.7" fill="#9a1c20"/>
<circle cx="145.5" cy="854.0" r="1.7" fill="#9a1c20"/>
<circle cx="147.0" cy="915.8" r="1.7" fill="#9a1c20"/>
<circle cx="136.0" cy="851.9" r="1.7" fill="#9a1c20"/>
<circle cx="146.4" cy="876.8" r="1.7" fill="#9a1c20"/>
<circle cx="143.6" cy="866.8" r="1.7" fill="#9a1c20"/>
<circle cx="144.3" cy="845.8" r="1.7" fill="#9a1c20"/>
<circle cx="142.2" cy="867.8" r="1.7" fill="#9a1c20"/>
<circle cx="142.4" cy="859.3" r="1.7" fill="#9a1c20"/>
<circle cx="139.7" cy="893.4" r="1.7" fill="#9a1c20"/>
<circle cx="136.7" cy="882.3" r="1.7" fill="#9a1c20"/>
<circle cx="140.1" cy="875.4" r="1.7" fill="#9a1c20"/>
<circle cx="134.4" cy="875.1" r="1.7" fill="#9a1c20"/>
<circle cx="136.2" cy="922.2" r="1.7" fill="#9a1c20"/>
<circle cx="138.9" cy="905.1" r="1.7" fill="#9a1c20"/>
<circle cx="141.7" cy="885.7" r="1.7" fill="#9a1c20"/>
<circle cx="139.2" cy="880.7" r="1.7" fill="#9a1c20"/>
<circle cx="139.3" cy="879.5" r="1.7" fill="#9a1c20"/>
<circle cx="138.8" cy="938.6" r="1.7" fill="#9a1c20"/>
<circle cx="135.0" cy="819.6" r="1.7" fill="#9a1c20"/>
<circle cx="146.7" cy="863.8" r="1.7" fill="#9a1c20"/>
<circle cx="139.4" cy="905.7" r="1.7" fill="#9a1c20"/>
<circle cx="135.6" cy="866.2" r="1.7" fill="#9a1c20"/>
<circle cx="141.4" cy="862.8" r="1.7" fill="#9a1c20"/>
<circle cx="138.5" cy="910.9" r="1.7" fill="#9a1c20"/>
<circle cx="133.7" cy="873.7" r="1.7" fill="#9a1c20"/>
<circle cx="142.1" cy="930.1" r="1.7" fill="#9a1c20"/>
<circle cx="145.8" cy="932.1" r="1.7" fill="#9a1c20"/>
<circle cx="137.7" cy="865.0" r="1.7" fill="#9a1c20"/>
<circle cx="138.9" cy="886.9" r="1.7" fill="#9a1c20"/>
<circle cx="137.2" cy="906.5" r="1.7" fill="#9a1c20"/>
<circle cx="140.4" cy="864.0" r="1.7" fill="#9a1c20"/>
<circle cx="140.4" cy="852.1" r="1.7" fill="#9a1c20"/>
<circle cx="140.2" cy="940.0" r="1.7" fill="#9a1c20"/>
<circle cx="139.7" cy="931.9" r="1.7" fill="#9a1c20"/>
<circle cx="133.9" cy="888.5" r="1.7" fill="#9a1c20"/>
<circle cx="137.4" cy="837.8" r="1.7" fill="#9a1c20"/>
<circle cx="137.3" cy="883.4" r="1.7" fill="#9a1c20"/>
<circle cx="137.7" cy="943.6" r="1.7" fill="#9a1c20"/>
<circle cx="140.2" cy="863.1" r="1.7" fill="#9a1c20"/>
<circle cx="135.3" cy="849.9" r="1.7" fill="#9a1c20"/>
<circle cx="137.8" cy="857.0" r="1.7" fill="#9a1c20"/>
<circle cx="140.9" cy="870.1" r="1.7" fill="#9a1c20"/>
<circle cx="138.6" cy="896.5" r="1.7" fill="#9a1c20"/>
<circle cx="137.1" cy="874.7" r="1.7" fill="#9a1c20"/>
<circle cx="146.2" cy="876.6" r="1.7" fill="#9a1c20"/>
<circle cx="144.3" cy="876.2" r="1.7" fill="#9a1c20"/>
<circle cx="141.5" cy="878.9" r="1.7" fill="#9a1c20"/>
<rect x="134.00" y="870.00" width="13.50" height="11.90" fill="#f08a8a" stroke="none" stroke-width="0.00" fill-opacity="0.6"/>
<line x1="134.00" y1="875.95" x2="147.50" y2="875.95" stroke="#d03a3a" stroke-width="1.20" />
<circle cx="226.8" cy="767.0" r="1.7" fill="#9a1c20"/>
<circle cx="229.4" cy="862.2" r="1.7" fill="#9a1c20"/>
<circle cx="222.3" cy="860.5" r="1.7" fill="#9a1c20"/>
<circle cx="228.3" cy="886.4" r="1.7" fill="#9a1c20"/>
<circle cx="226.4" cy="825.6" r="1.7" fill="#9a1c20"/>
<circle cx="220.9" cy="898.2" r="1.7" fill="#9a1c20"/>
<circle cx="223.5" cy="890.8" r="1.7" fill="#9a1c20"/>
<circle cx="223.8" cy="873.2" r="1.7" fill="#9a1c20"/>
<circle cx="228.0" cy="897.4" r="1.7" fill="#9a1c20"/>
<circle cx="228.1" cy="809.2" r="1.7" fill="#9a1c20"/>
<circle cx="226.0" cy="905.1" r="1.7" fill="#9a1c20"/>
<circle cx="230.3" cy="822.5" r="1.7" fill="#9a1c20"/>
<circle cx="228.5" cy="877.8" r="1.7" fill="#9a1c20"/>
<circle cx="225.8" cy="873.1" r="1.7" fill="#9a1c20"/>
<circle cx="221.0" cy="877.1" r="1.7" fill="#9a1c20"/>
<circle cx="219.0" cy="868.0" r="1.7" fill="#9a1c20"/>
<circle cx="225.5" cy="868.3" r="1.7" fill="#9a1c20"/>
<circle cx="222.2" cy="805.9" r="1.7" fill="#9a1c20"/>
<circle cx="224.8" cy="804.6" r="1.7" fill="#9a1c20"/>
<circle cx="228.9" cy="887.0" r="1.7" fill="#9a1c20"/>
<circle cx="221.3" cy="925.4" r="1.7" fill="#9a1c20"/>
<circle cx="222.1" cy="834.0" r="1.7" fill="#9a1c20"/>
<circle cx="219.1" cy="821.8" r="1.7" fill="#9a1c20"/>
<circle cx="223.9" cy="883.6" r="1.7" fill="#9a1c20"/>
<circle cx="220.6" cy="849.9" r="1.7" fill="#9a1c20"/>
<circle cx="220.5" cy="869.2" r="1.7" fill="#9a1c20"/>
<circle cx="220.2" cy="867.7" r="1.7" fill="#9a1c20"/>
<circle cx="227.0" cy="878.7" r="1.7" fill="#9a1c20"/>
<circle cx="218.2" cy="872.3" r="1.7" fill="#9a1c20"/>
<circle cx="218.2" cy="847.3" r="1.7" fill="#9a1c20"/>
<circle cx="220.2" cy="930.4" r="1.7" fill="#9a1c20"/>
<circle cx="227.8" cy="859.8" r="1.7" fill="#9a1c20"/>
<circle cx="217.7" cy="822.6" r="1.7" fill="#9a1c20"/>
<circle cx="226.3" cy="941.5" r="1.7" fill="#9a1c20"/>
<circle cx="218.6" cy="882.5" r="1.7" fill="#9a1c20"/>
<circle cx="218.9" cy="858.3" r="1.7" fill="#9a1c20"/>
<circle cx="221.8" cy="843.3" r="1.7" fill="#9a1c20"/>
<circle cx="221.7" cy="864.1" r="1.7" fill="#9a1c20"/>
<circle cx="218.9" cy="907.5" r="1.7" fill="#9a1c20"/>
<circle cx="222.9" cy="855.1" r="1.7" fill="#9a1c20"/>
<circle cx="224.0" cy="846.7" r="1.7" fill="#9a1c20"/>
<circle cx="222.4" cy="846.2" r="1.7" fill="#9a1c20"/>
<circle cx="219.8" cy="803.9" r="1.7" fill="#9a1c20"/>
<circle cx="223.5" cy="827.0" r="1.7" fill="#9a1c20"/>
<circle cx="217.0" cy="863.2" r="1.7" fill="#9a1c20"/>
<circle cx="222.8" cy="904.6" r="1.7" fill="#9a1c20"/>
<circle cx="218.4" cy="859.6" r="1.7" fill="#9a1c20"/>
<circle cx="222.1" cy="916.9" r="1.7" fill="#9a1c20"/>
<circle cx="220.5" cy="889.7" r="1.7" fill="#9a1c20"/>
<circle cx="219.2" cy="871.0" r="1.7" fill="#9a1c20"/>
<circle cx="217.4" cy="882.5" r="1.7" fill="#9a1c20"/>
<circle cx="222.0" cy="906.3" r="1.7" fill="#9a1c20"/>
<circle cx="223.4" cy="866.9" r="1.7" fill="#9a1c20"/>
<circle cx="218.6" cy="848.2" r="1.7" fill="#9a1c20"/>
<circle cx="226.9" cy="871.2" r="1.7" fill="#9a1c20"/>
<circle cx="217.3" cy="918.2" r="1.7" fill="#9a1c20"/>
<circle cx="218.1" cy="913.3" r="1.7" fill="#9a1c20"/>
<circle cx="221.2" cy="901.6" r="1.7" fill="#9a1c20"/>
<circle cx="220.9" cy="876.4" r="1.7" fill="#9a1c20"/>
<circle cx="220.3" cy="877.3" r="1.7" fill="#9a1c20"/>
<circle cx="229.8" cy="866.5" r="1.7" fill="#9a1c20"/>
<circle cx="217.1" cy="834.0" r="1.7" fill="#9a1c20"/>
<circle cx="222.6" cy="824.0" r="1.7" fill="#9a1c20"/>
<circle cx="230.5" cy="817.8" r="1.7" fill="#9a1c20"/>
<circle cx="221.8" cy="906.4" r="1.7" fill="#9a1c20"/>
<circle cx="229.2" cy="804.9" r="1.7" fill="#9a1c20"/>
<circle cx="220.3" cy="887.0" r="1.7" fill="#9a1c20"/>
<circle cx="217.8" cy="813.7" r="1.7" fill="#9a1c20"/>
<circle cx="222.5" cy="877.0" r="1.7" fill="#9a1c20"/>
<circle cx="230.2" cy="886.0" r="1.7" fill="#9a1c20"/>
<circle cx="223.9" cy="882.0" r="1.7" fill="#9a1c20"/>
<circle cx="221.3" cy="870.5" r="1.7" fill="#9a1c20"/>
<circle cx="229.5" cy="928.8" r="1.7" fill="#9a1c20"/>
<circle cx="228.7" cy="878.1" r="1.7" fill="#9a1c20"/>
<circle cx="223.6" cy="908.5" r="1.7" fill="#9a1c20"/>
<circle cx="222.1" cy="883.1" r="1.7" fill="#9a1c20"/>
<circle cx="221.2" cy="872.3" r="1.7" fill="#9a1c20"/>
<circle cx="228.2" cy="834.0" r="1.7" fill="#9a1c20"/>
<circle cx="218.2" cy="894.9" r="1.7" fill="#9a1c20"/>
<circle cx="228.1" cy="893.2" r="1.7" fill="#9a1c20"/>
<circle cx="220.3" cy="886.5" r="1.7" fill="#9a1c20"/>
<circle cx="224.8" cy="814.6" r="1.7" fill="#9a1c20"/>
<circle cx="217.8" cy="886.9" r="1.7" fill="#9a1c20"/>
<circle cx="220.9" cy="894.7" r="1.7" fill="#9a1c20"/>
<circle cx="218.3" cy="884.6" r="1.7" fill="#9a1c20"/>
<circle cx="224.6" cy="865.0" r="1.7" fill="#9a1c20"/>
<circle cx="225.9" cy="915.4" r="1.7" fill="#9a1c20"/>
<circle cx="228.1" cy="857.8" r="1.7" fill="#9a1c20"/>
<circle cx="230.0" cy="868.8" r="1.7" fill="#9a1c20"/>
<circle cx="228.0" cy="874.5" r="1.7" fill="#9a1c20"/>
<circle cx="218.8" cy="862.7" r="1.7" fill="#9a1c20"/>
<circle cx="220.6" cy="807.6" r="1.7" fill="#9a1c20"/>
<circle cx="227.4" cy="878.2" r="1.7" fill="#9a1c20"/>
<circle cx="217.4" cy="888.1" r="1.7" fill="#9a1c20"/>
<circle cx="221.9" cy="806.5" r="1.7" fill="#9a1c20"/>
<circle cx="220.1" cy="910.1" r="1.7" fill="#9a1c20"/>
<circle cx="221.9" cy="870.1" r="1.7" fill="#9a1c20"/>
<circle cx="228.2" cy="910.4" r="1.7" fill="#9a1c20"/>
<circle cx="218.3" cy="882.4" r="1.7" fill="#9a1c20"/>
<circle cx="223.1" cy="897.2" r="1.7" fill="#9a1c20"/>
<circle cx="227.8" cy="911.8" r="1.7" fill="#9a1c20"/>
<circle cx="229.4" cy="921.8" r="1.7" fill="#9a1c20"/>
<circle cx="227.4" cy="857.3" r="1.7" fill="#9a1c20"/>
<circle cx="224.2" cy="890.0" r="1.7" fill="#9a1c20"/>
<circle cx="228.1" cy="871.1" r="1.7" fill="#9a1c20"/>
<rect x="217.20" y="868.60" width="13.60" height="13.60" fill="#f08a8a" stroke="none" stroke-width="0.00" fill-opacity="0.6"/>
<line x1="217.20" y1="875.40" x2="230.80" y2="875.40" stroke="#d03a3a" stroke-width="1.20" />
<circle cx="309.8" cy="761.0" r="1.7" fill="#9a1c20"/>
<circle cx="300.7" cy="873.9" r="1.7" fill="#9a1c20"/>
<circle cx="306.6" cy="909.5" r="1.7" fill="#9a1c20"/>
<circle cx="305.3" cy="886.2" r="1.7" fill="#9a1c20"/>
<circle cx="307.6" cy="877.4" r="1.7" fill="#9a1c20"/>
<circle cx="310.2" cy="895.2" r="1.7" fill="#9a1c20"/>
<circle cx="313.4" cy="869.6" r="1.7" fill="#9a1c20"/>
<circle cx="311.6" cy="893.9" r="1.7" fill="#9a1c20"/>
<circle cx="311.3" cy="869.6" r="1.7" fill="#9a1c20"/>
<circle cx="300.5" cy="887.5" r="1.7" fill="#9a1c20"/>
<circle cx="309.8" cy="915.9" r="1.7" fill="#9a1c20"/>
<circle cx="304.4" cy="892.9" r="1.7" fill="#9a1c20"/>
<circle cx="311.7" cy="919.0" r="1.7" fill="#9a1c20"/>
<circle cx="300.1" cy="887.0" r="1.7" fill="#9a1c20"/>
<circle cx="308.0" cy="858.8" r="1.7" fill="#9a1c20"/>
<circle cx="300.4" cy="864.6" r="1.7" fill="#9a1c20"/>
<circle cx="305.2" cy="892.9" r="1.7" fill="#9a1c20"/>
<circle cx="313.4" cy="873.3" r="1.7" fill="#9a1c20"/>
<circle cx="312.6" cy="857.8" r="1.7" fill="#9a1c20"/>
<circle cx="310.9" cy="866.3" r="1.7" fill="#9a1c20"/>
<circle cx="308.1" cy="855.0" r="1.7" fill="#9a1c20"/>
<circle cx="301.1" cy="861.4" r="1.7" fill="#9a1c20"/>
<circle cx="307.9" cy="812.6" r="1.7" fill="#9a1c20"/>
<circle cx="309.7" cy="877.4" r="1.7" fill="#9a1c20"/>
<circle cx="309.7" cy="896.6" r="1.7" fill="#9a1c20"/>
<circle cx="309.1" cy="823.3" r="1.7" fill="#9a1c20"/>
<circle cx="312.2" cy="872.1" r="1.7" fill="#9a1c20"/>
<circle cx="308.3" cy="899.8" r="1.7" fill="#9a1c20"/>
<circle cx="307.0" cy="848.0" r="1.7" fill="#9a1c20"/>
<circle cx="307.4" cy="884.3" r="1.7" fill="#9a1c20"/>
<circle cx="300.0" cy="942.2" r="1.7" fill="#9a1c20"/>
<circle cx="312.2" cy="894.6" r="1.7" fill="#9a1c20"/>
<circle cx="308.3" cy="910.1" r="1.7" fill="#9a1c20"/>
<circle cx="307.5" cy="907.2" r="1.7" fill="#9a1c20"/>
<circle cx="305.1" cy="902.2" r="1.7" fill="#9a1c20"/>
<circle cx="303.6" cy="884.6" r="1.7" fill="#9a1c20"/>
<circle cx="312.2" cy="899.1" r="1.7" fill="#9a1c20"/>
<circle cx="310.4" cy="936.7" r="1.7" fill="#9a1c20"/>
<circle cx="311.3" cy="907.4" r="1.7" fill="#9a1c20"/>
<circle cx="309.9" cy="891.4" r="1.7" fill="#9a1c20"/>
<circle cx="312.3" cy="854.8" r="1.7" fill="#9a1c20"/>
<circle cx="303.8" cy="892.7" r="1.7" fill="#9a1c20"/>
<circle cx="300.4" cy="894.5" r="1.7" fill="#9a1c20"/>
<circle cx="308.2" cy="933.9" r="1.7" fill="#9a1c20"/>
<circle cx="302.6" cy="876.9" r="1.7" fill="#9a1c20"/>
<circle cx="309.9" cy="858.7" r="1.7" fill="#9a1c20"/>
<circle cx="311.4" cy="816.1" r="1.7" fill="#9a1c20"/>
<circle cx="304.3" cy="852.0" r="1.7" fill="#9a1c20"/>
<circle cx="303.1" cy="847.8" r="1.7" fill="#9a1c20"/>
<circle cx="311.4" cy="838.4" r="1.7" fill="#9a1c20"/>
<circle cx="302.1" cy="892.2" r="1.7" fill="#9a1c20"/>
<circle cx="308.4" cy="807.1" r="1.7" fill="#9a1c20"/>
<circle cx="310.0" cy="941.6" r="1.7" fill="#9a1c20"/>
<circle cx="310.9" cy="888.9" r="1.7" fill="#9a1c20"/>
<circle cx="308.5" cy="931.2" r="1.7" fill="#9a1c20"/>
<circle cx="301.4" cy="853.5" r="1.7" fill="#9a1c20"/>
<circle cx="302.8" cy="914.5" r="1.7" fill="#9a1c20"/>
<circle cx="310.1" cy="846.4" r="1.7" fill="#9a1c20"/>
<circle cx="307.4" cy="813.9" r="1.7" fill="#9a1c20"/>
<circle cx="301.6" cy="888.9" r="1.7" fill="#9a1c20"/>
<circle cx="306.7" cy="855.4" r="1.7" fill="#9a1c20"/>
<circle cx="312.9" cy="904.8" r="1.7" fill="#9a1c20"/>
<circle cx="309.8" cy="823.5" r="1.7" fill="#9a1c20"/>
<circle cx="304.8" cy="899.5" r="1.7" fill="#9a1c20"/>
<circle cx="312.5" cy="897.6" r="1.7" fill="#9a1c20"/>
<circle cx="309.5" cy="873.2" r="1.7" fill="#9a1c20"/>
<circle cx="307.8" cy="906.2" r="1.7" fill="#9a1c20"/>
<circle cx="307.1" cy="856.8" r="1.7" fill="#9a1c20"/>
<circle cx="303.2" cy="814.4" r="1.7" fill="#9a1c20"/>
<circle cx="301.0" cy="918.1" r="1.7" fill="#9a1c20"/>
<circle cx="313.4" cy="901.6" r="1.7" fill="#9a1c20"/>
<circle cx="305.3" cy="894.9" r="1.7" fill="#9a1c20"/>
<circle cx="311.0" cy="898.1" r="1.7" fill="#9a1c20"/>
<circle cx="304.9" cy="823.7" r="1.7" fill="#9a1c20"/>
<circle cx="306.2" cy="809.8" r="1.7" fill="#9a1c20"/>
<circle cx="307.0" cy="891.8" r="1.7" fill="#9a1c20"/>
<circle cx="313.3" cy="808.9" r="1.7" fill="#9a1c20"/>
<circle cx="303.8" cy="870.4" r="1.7" fill="#9a1c20"/>
<circle cx="309.3" cy="881.7" r="1.7" fill="#9a1c20"/>
<circle cx="310.6" cy="901.7" r="1.7" fill="#9a1c20"/>
<circle cx="308.1" cy="887.5" r="1.7" fill="#9a1c20"/>
<circle cx="300.5" cy="860.0" r="1.7" fill="#9a1c20"/>
<circle cx="305.6" cy="823.8" r="1.7" fill="#9a1c20"/>
<circle cx="311.2" cy="854.2" r="1.7" fill="#9a1c20"/>
<circle cx="310.3" cy="834.0" r="1.7" fill="#9a1c20"/>
<circle cx="302.0" cy="939.3" r="1.7" fill="#9a1c20"/>
<circle cx="313.5" cy="834.0" r="1.7" fill="#9a1c20"/>
<circle cx="305.7" cy="908.9" r="1.7" fill="#9a1c20"/>
<circle cx="309.1" cy="861.4" r="1.7" fill="#9a1c20"/>
<circle cx="306.2" cy="918.6" r="1.7" fill="#9a1c20"/>
<circle cx="312.2" cy="813.3" r="1.7" fill="#9a1c20"/>
<circle cx="302.7" cy="883.6" r="1.7" fill="#9a1c20"/>
<circle cx="313.1" cy="825.4" r="1.7" fill="#9a1c20"/>
<circle cx="312.5" cy="891.1" r="1.7" fill="#9a1c20"/>
<circle cx="300.4" cy="892.8" r="1.7" fill="#9a1c20"/>
<circle cx="310.3" cy="863.7" r="1.7" fill="#9a1c20"/>
<circle cx="310.5" cy="887.8" r="1.7" fill="#9a1c20"/>
<circle cx="313.3" cy="932.2" r="1.7" fill="#9a1c20"/>
<circle cx="308.8" cy="889.4" r="1.7" fill="#9a1c20"/>
<circle cx="305.0" cy="886.0" r="1.7" fill="#9a1c20"/>
<circle cx="303.3" cy="834.0" r="1.7" fill="#9a1c20"/>
<circle cx="303.6" cy="850.6" r="1.7" fill="#9a1c20"/>
<circle cx="306.5" cy="878.6" r="1.7" fill="#9a1c20"/>
<circle cx="300.1" cy="867.8" r="1.7" fill="#9a1c20"/>
<circle cx="308.3" cy="856.2" r="1.7" fill="#9a1c20"/>
<rect x="300.00" y="870.80" width="13.80" height="9.20" fill="#f08a8a" stroke="none" stroke-width="0.00" fill-opacity="0.6"/>
<line x1="300.00" y1="875.40" x2="313.80" y2="875.40" stroke="#d03a3a" stroke-width="1.20" />
<line x1="85.00" y1="831.60" x2="327.80" y2="831.60" stroke="#000" stroke-width="2.00" />
<text transform="translate(73.80,1014.80) rotate(-45)" x="-1.59" y="0" font-size="19.00" fill="#111" textLength="34.37" lengthAdjust="spacingAndGlyphs">BMI</text>
<text transform="translate(101.24,995.14) rotate(-45)" x="-0.70" y="0" font-size="13.50" fill="#111" textLength="39.22" lengthAdjust="spacingAndGlyphs">2Early</text>
<text transform="translate(158.60,1011.00) rotate(-45)" x="-1.59" y="0" font-size="19.00" fill="#111" textLength="34.37" lengthAdjust="spacingAndGlyphs">BMI</text>
<text transform="translate(186.04,991.34) rotate(-45)" x="-0.70" y="0" font-size="13.50" fill="#111" textLength="34.82" lengthAdjust="spacingAndGlyphs">2Late</text>
<text transform="translate(260.80,990.20) rotate(-45)" x="-1.59" y="0" font-size="19.00" fill="#111" textLength="34.37" lengthAdjust="spacingAndGlyphs">BMI</text>
<text transform="translate(288.24,970.54) rotate(-45)" x="-0.75" y="0" font-size="13.50" fill="#111" textLength="8.30" lengthAdjust="spacingAndGlyphs">2</text>
</svg>
</body></html>
